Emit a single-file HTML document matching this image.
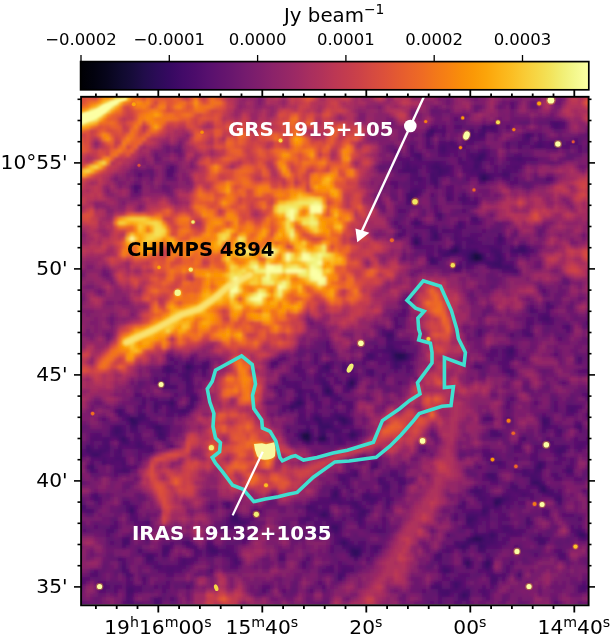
<!DOCTYPE html>
<html><head><meta charset="utf-8"><style>
html,body{margin:0;padding:0;background:#fff;width:613px;height:642px;overflow:hidden}
svg{display:block}
</style></head><body>
<svg width="613" height="642" viewBox="0 0 613 642">
<defs><linearGradient id="cb" x1="0" x2="1" y1="0" y2="0"><stop offset="0.000" stop-color="#000004"/><stop offset="0.025" stop-color="#02020e"/><stop offset="0.050" stop-color="#07051b"/><stop offset="0.075" stop-color="#0e092b"/><stop offset="0.100" stop-color="#160b39"/><stop offset="0.125" stop-color="#210c4a"/><stop offset="0.150" stop-color="#2b0b57"/><stop offset="0.175" stop-color="#360961"/><stop offset="0.200" stop-color="#420a68"/><stop offset="0.225" stop-color="#4c0c6b"/><stop offset="0.250" stop-color="#57106e"/><stop offset="0.275" stop-color="#61136e"/><stop offset="0.300" stop-color="#6a176e"/><stop offset="0.325" stop-color="#751b6e"/><stop offset="0.350" stop-color="#7f1e6c"/><stop offset="0.375" stop-color="#8a226a"/><stop offset="0.400" stop-color="#932667"/><stop offset="0.425" stop-color="#9d2964"/><stop offset="0.450" stop-color="#a82e5f"/><stop offset="0.475" stop-color="#b1325a"/><stop offset="0.500" stop-color="#bc3754"/><stop offset="0.525" stop-color="#c43c4e"/><stop offset="0.550" stop-color="#cc4248"/><stop offset="0.575" stop-color="#d54a41"/><stop offset="0.600" stop-color="#dd513a"/><stop offset="0.625" stop-color="#e45a31"/><stop offset="0.650" stop-color="#ea632a"/><stop offset="0.675" stop-color="#ef6c23"/><stop offset="0.700" stop-color="#f37819"/><stop offset="0.725" stop-color="#f78212"/><stop offset="0.750" stop-color="#f98e09"/><stop offset="0.775" stop-color="#fb9906"/><stop offset="0.800" stop-color="#fca50a"/><stop offset="0.825" stop-color="#fcb216"/><stop offset="0.850" stop-color="#fbbe23"/><stop offset="0.875" stop-color="#f9cb35"/><stop offset="0.900" stop-color="#f6d746"/><stop offset="0.925" stop-color="#f3e35a"/><stop offset="0.950" stop-color="#f1ef75"/><stop offset="0.975" stop-color="#f4f88e"/><stop offset="1.000" stop-color="#fcffa4"/></linearGradient></defs>
<rect width="613" height="642" fill="#fff"/>
<rect x="81" y="62" width="507" height="27" fill="url(#cb)"/>
<rect x="80.6" y="61.6" width="508.2" height="28.2" fill="none" stroke="#000" stroke-width="1.7"/>
<line x1="81.0" x2="81.0" y1="55" y2="61.5" stroke="#000" stroke-width="1.3"/>
<text x="81.0" y="44.5" text-anchor="middle" font-size="16.5" font-family="DejaVu Sans, Liberation Sans, sans-serif">−0.0002</text>
<line x1="169.3" x2="169.3" y1="55" y2="61.5" stroke="#000" stroke-width="1.3"/>
<text x="169.3" y="44.5" text-anchor="middle" font-size="16.5" font-family="DejaVu Sans, Liberation Sans, sans-serif">−0.0001</text>
<line x1="257.6" x2="257.6" y1="55" y2="61.5" stroke="#000" stroke-width="1.3"/>
<text x="257.6" y="44.5" text-anchor="middle" font-size="16.5" font-family="DejaVu Sans, Liberation Sans, sans-serif">0.0000</text>
<line x1="345.9" x2="345.9" y1="55" y2="61.5" stroke="#000" stroke-width="1.3"/>
<text x="345.9" y="44.5" text-anchor="middle" font-size="16.5" font-family="DejaVu Sans, Liberation Sans, sans-serif">0.0001</text>
<line x1="434.2" x2="434.2" y1="55" y2="61.5" stroke="#000" stroke-width="1.3"/>
<text x="434.2" y="44.5" text-anchor="middle" font-size="16.5" font-family="DejaVu Sans, Liberation Sans, sans-serif">0.0002</text>
<line x1="522.5" x2="522.5" y1="55" y2="61.5" stroke="#000" stroke-width="1.3"/>
<text x="522.5" y="44.5" text-anchor="middle" font-size="16.5" font-family="DejaVu Sans, Liberation Sans, sans-serif">0.0003</text>
<text x="67.6" y="169.0" text-anchor="end" font-size="20.2" font-family="DejaVu Sans, Liberation Sans, sans-serif">10°55'</text>
<text x="67.6" y="275.0" text-anchor="end" font-size="20.2" font-family="DejaVu Sans, Liberation Sans, sans-serif">50'</text>
<text x="67.6" y="381.0" text-anchor="end" font-size="20.2" font-family="DejaVu Sans, Liberation Sans, sans-serif">45'</text>
<text x="67.6" y="487.0" text-anchor="end" font-size="20.2" font-family="DejaVu Sans, Liberation Sans, sans-serif">40'</text>
<text x="67.6" y="593.0" text-anchor="end" font-size="20.2" font-family="DejaVu Sans, Liberation Sans, sans-serif">35'</text>
<line x1="77.5" x2="81" y1="99.3" y2="99.3" stroke="#000" stroke-width="1.6"/>
<line x1="588" x2="591.5" y1="99.3" y2="99.3" stroke="#000" stroke-width="1.6"/>
<line x1="77.5" x2="81" y1="120.5" y2="120.5" stroke="#000" stroke-width="1.6"/>
<line x1="588" x2="591.5" y1="120.5" y2="120.5" stroke="#000" stroke-width="1.6"/>
<line x1="77.5" x2="81" y1="141.7" y2="141.7" stroke="#000" stroke-width="1.6"/>
<line x1="588" x2="591.5" y1="141.7" y2="141.7" stroke="#000" stroke-width="1.6"/>
<line x1="74.0" x2="81" y1="162.9" y2="162.9" stroke="#000" stroke-width="1.6"/>
<line x1="588" x2="595.0" y1="162.9" y2="162.9" stroke="#000" stroke-width="1.6"/>
<line x1="77.5" x2="81" y1="184.1" y2="184.1" stroke="#000" stroke-width="1.6"/>
<line x1="588" x2="591.5" y1="184.1" y2="184.1" stroke="#000" stroke-width="1.6"/>
<line x1="77.5" x2="81" y1="205.3" y2="205.3" stroke="#000" stroke-width="1.6"/>
<line x1="588" x2="591.5" y1="205.3" y2="205.3" stroke="#000" stroke-width="1.6"/>
<line x1="77.5" x2="81" y1="226.5" y2="226.5" stroke="#000" stroke-width="1.6"/>
<line x1="588" x2="591.5" y1="226.5" y2="226.5" stroke="#000" stroke-width="1.6"/>
<line x1="77.5" x2="81" y1="247.7" y2="247.7" stroke="#000" stroke-width="1.6"/>
<line x1="588" x2="591.5" y1="247.7" y2="247.7" stroke="#000" stroke-width="1.6"/>
<line x1="74.0" x2="81" y1="268.9" y2="268.9" stroke="#000" stroke-width="1.6"/>
<line x1="588" x2="595.0" y1="268.9" y2="268.9" stroke="#000" stroke-width="1.6"/>
<line x1="77.5" x2="81" y1="290.1" y2="290.1" stroke="#000" stroke-width="1.6"/>
<line x1="588" x2="591.5" y1="290.1" y2="290.1" stroke="#000" stroke-width="1.6"/>
<line x1="77.5" x2="81" y1="311.3" y2="311.3" stroke="#000" stroke-width="1.6"/>
<line x1="588" x2="591.5" y1="311.3" y2="311.3" stroke="#000" stroke-width="1.6"/>
<line x1="77.5" x2="81" y1="332.5" y2="332.5" stroke="#000" stroke-width="1.6"/>
<line x1="588" x2="591.5" y1="332.5" y2="332.5" stroke="#000" stroke-width="1.6"/>
<line x1="77.5" x2="81" y1="353.7" y2="353.7" stroke="#000" stroke-width="1.6"/>
<line x1="588" x2="591.5" y1="353.7" y2="353.7" stroke="#000" stroke-width="1.6"/>
<line x1="74.0" x2="81" y1="374.9" y2="374.9" stroke="#000" stroke-width="1.6"/>
<line x1="588" x2="595.0" y1="374.9" y2="374.9" stroke="#000" stroke-width="1.6"/>
<line x1="77.5" x2="81" y1="396.1" y2="396.1" stroke="#000" stroke-width="1.6"/>
<line x1="588" x2="591.5" y1="396.1" y2="396.1" stroke="#000" stroke-width="1.6"/>
<line x1="77.5" x2="81" y1="417.3" y2="417.3" stroke="#000" stroke-width="1.6"/>
<line x1="588" x2="591.5" y1="417.3" y2="417.3" stroke="#000" stroke-width="1.6"/>
<line x1="77.5" x2="81" y1="438.5" y2="438.5" stroke="#000" stroke-width="1.6"/>
<line x1="588" x2="591.5" y1="438.5" y2="438.5" stroke="#000" stroke-width="1.6"/>
<line x1="77.5" x2="81" y1="459.7" y2="459.7" stroke="#000" stroke-width="1.6"/>
<line x1="588" x2="591.5" y1="459.7" y2="459.7" stroke="#000" stroke-width="1.6"/>
<line x1="74.0" x2="81" y1="480.9" y2="480.9" stroke="#000" stroke-width="1.6"/>
<line x1="588" x2="595.0" y1="480.9" y2="480.9" stroke="#000" stroke-width="1.6"/>
<line x1="77.5" x2="81" y1="502.1" y2="502.1" stroke="#000" stroke-width="1.6"/>
<line x1="588" x2="591.5" y1="502.1" y2="502.1" stroke="#000" stroke-width="1.6"/>
<line x1="77.5" x2="81" y1="523.3" y2="523.3" stroke="#000" stroke-width="1.6"/>
<line x1="588" x2="591.5" y1="523.3" y2="523.3" stroke="#000" stroke-width="1.6"/>
<line x1="77.5" x2="81" y1="544.5" y2="544.5" stroke="#000" stroke-width="1.6"/>
<line x1="588" x2="591.5" y1="544.5" y2="544.5" stroke="#000" stroke-width="1.6"/>
<line x1="77.5" x2="81" y1="565.7" y2="565.7" stroke="#000" stroke-width="1.6"/>
<line x1="588" x2="591.5" y1="565.7" y2="565.7" stroke="#000" stroke-width="1.6"/>
<line x1="74.0" x2="81" y1="586.9" y2="586.9" stroke="#000" stroke-width="1.6"/>
<line x1="588" x2="595.0" y1="586.9" y2="586.9" stroke="#000" stroke-width="1.6"/>
<text x="157.9" y="633.6" text-anchor="middle" font-size="20.2" font-family="DejaVu Sans, Liberation Sans, sans-serif">19<tspan dy="-7" font-size="14.2">h</tspan><tspan dy="7">16</tspan><tspan dy="-7" font-size="14.2">m</tspan><tspan dy="7">00</tspan><tspan dy="-7" font-size="14.2">s</tspan></text>
<text x="261.9" y="633.6" text-anchor="middle" font-size="20.2" font-family="DejaVu Sans, Liberation Sans, sans-serif">15<tspan dy="-7" font-size="14.2">m</tspan><tspan dy="7">40</tspan><tspan dy="-7" font-size="14.2">s</tspan></text>
<text x="365.9" y="633.6" text-anchor="middle" font-size="20.2" font-family="DejaVu Sans, Liberation Sans, sans-serif">20<tspan dy="-7" font-size="14.2">s</tspan></text>
<text x="469.9" y="633.6" text-anchor="middle" font-size="20.2" font-family="DejaVu Sans, Liberation Sans, sans-serif">00<tspan dy="-7" font-size="14.2">s</tspan></text>
<text x="573.9" y="633.6" text-anchor="middle" font-size="20.2" font-family="DejaVu Sans, Liberation Sans, sans-serif">14<tspan dy="-7" font-size="14.2">m</tspan><tspan dy="7">40</tspan><tspan dy="-7" font-size="14.2">s</tspan></text>
<line x1="95.9" x2="95.9" y1="605.5" y2="609.0" stroke="#000" stroke-width="1.8"/>
<line x1="95.9" x2="95.9" y1="97" y2="93.5" stroke="#000" stroke-width="1.8"/>
<line x1="116.7" x2="116.7" y1="605.5" y2="609.0" stroke="#000" stroke-width="1.8"/>
<line x1="116.7" x2="116.7" y1="97" y2="93.5" stroke="#000" stroke-width="1.8"/>
<line x1="137.5" x2="137.5" y1="605.5" y2="609.0" stroke="#000" stroke-width="1.8"/>
<line x1="137.5" x2="137.5" y1="97" y2="93.5" stroke="#000" stroke-width="1.8"/>
<line x1="158.3" x2="158.3" y1="605.5" y2="612.5" stroke="#000" stroke-width="1.8"/>
<line x1="158.3" x2="158.3" y1="97" y2="90.0" stroke="#000" stroke-width="1.8"/>
<line x1="179.1" x2="179.1" y1="605.5" y2="609.0" stroke="#000" stroke-width="1.8"/>
<line x1="179.1" x2="179.1" y1="97" y2="93.5" stroke="#000" stroke-width="1.8"/>
<line x1="199.9" x2="199.9" y1="605.5" y2="609.0" stroke="#000" stroke-width="1.8"/>
<line x1="199.9" x2="199.9" y1="97" y2="93.5" stroke="#000" stroke-width="1.8"/>
<line x1="220.7" x2="220.7" y1="605.5" y2="609.0" stroke="#000" stroke-width="1.8"/>
<line x1="220.7" x2="220.7" y1="97" y2="93.5" stroke="#000" stroke-width="1.8"/>
<line x1="241.5" x2="241.5" y1="605.5" y2="609.0" stroke="#000" stroke-width="1.8"/>
<line x1="241.5" x2="241.5" y1="97" y2="93.5" stroke="#000" stroke-width="1.8"/>
<line x1="262.3" x2="262.3" y1="605.5" y2="612.5" stroke="#000" stroke-width="1.8"/>
<line x1="262.3" x2="262.3" y1="97" y2="90.0" stroke="#000" stroke-width="1.8"/>
<line x1="283.1" x2="283.1" y1="605.5" y2="609.0" stroke="#000" stroke-width="1.8"/>
<line x1="283.1" x2="283.1" y1="97" y2="93.5" stroke="#000" stroke-width="1.8"/>
<line x1="303.9" x2="303.9" y1="605.5" y2="609.0" stroke="#000" stroke-width="1.8"/>
<line x1="303.9" x2="303.9" y1="97" y2="93.5" stroke="#000" stroke-width="1.8"/>
<line x1="324.7" x2="324.7" y1="605.5" y2="609.0" stroke="#000" stroke-width="1.8"/>
<line x1="324.7" x2="324.7" y1="97" y2="93.5" stroke="#000" stroke-width="1.8"/>
<line x1="345.5" x2="345.5" y1="605.5" y2="609.0" stroke="#000" stroke-width="1.8"/>
<line x1="345.5" x2="345.5" y1="97" y2="93.5" stroke="#000" stroke-width="1.8"/>
<line x1="366.3" x2="366.3" y1="605.5" y2="612.5" stroke="#000" stroke-width="1.8"/>
<line x1="366.3" x2="366.3" y1="97" y2="90.0" stroke="#000" stroke-width="1.8"/>
<line x1="387.1" x2="387.1" y1="605.5" y2="609.0" stroke="#000" stroke-width="1.8"/>
<line x1="387.1" x2="387.1" y1="97" y2="93.5" stroke="#000" stroke-width="1.8"/>
<line x1="407.9" x2="407.9" y1="605.5" y2="609.0" stroke="#000" stroke-width="1.8"/>
<line x1="407.9" x2="407.9" y1="97" y2="93.5" stroke="#000" stroke-width="1.8"/>
<line x1="428.7" x2="428.7" y1="605.5" y2="609.0" stroke="#000" stroke-width="1.8"/>
<line x1="428.7" x2="428.7" y1="97" y2="93.5" stroke="#000" stroke-width="1.8"/>
<line x1="449.5" x2="449.5" y1="605.5" y2="609.0" stroke="#000" stroke-width="1.8"/>
<line x1="449.5" x2="449.5" y1="97" y2="93.5" stroke="#000" stroke-width="1.8"/>
<line x1="470.3" x2="470.3" y1="605.5" y2="612.5" stroke="#000" stroke-width="1.8"/>
<line x1="470.3" x2="470.3" y1="97" y2="90.0" stroke="#000" stroke-width="1.8"/>
<line x1="491.1" x2="491.1" y1="605.5" y2="609.0" stroke="#000" stroke-width="1.8"/>
<line x1="491.1" x2="491.1" y1="97" y2="93.5" stroke="#000" stroke-width="1.8"/>
<line x1="511.9" x2="511.9" y1="605.5" y2="609.0" stroke="#000" stroke-width="1.8"/>
<line x1="511.9" x2="511.9" y1="97" y2="93.5" stroke="#000" stroke-width="1.8"/>
<line x1="532.7" x2="532.7" y1="605.5" y2="609.0" stroke="#000" stroke-width="1.8"/>
<line x1="532.7" x2="532.7" y1="97" y2="93.5" stroke="#000" stroke-width="1.8"/>
<line x1="553.5" x2="553.5" y1="605.5" y2="609.0" stroke="#000" stroke-width="1.8"/>
<line x1="553.5" x2="553.5" y1="97" y2="93.5" stroke="#000" stroke-width="1.8"/>
<line x1="574.3" x2="574.3" y1="605.5" y2="612.5" stroke="#000" stroke-width="1.8"/>
<line x1="574.3" x2="574.3" y1="97" y2="90.0" stroke="#000" stroke-width="1.8"/>
<g><filter id="sm" x="0" y="0" width="1" height="1"><feGaussianBlur stdDeviation="1.6"/></filter><clipPath id="imc0"><rect x="81" y="96.5" width="507.5" height="508"/></clipPath><g clip-path="url(#imc0)"><g filter="url(#sm)" shape-rendering="crispEdges"><path fill="#180c3c" d="M474 253h4v4h-4zM474 257h4v4h-4z"/><path fill="#1b0c41" d="M302 433h4v4h-4z"/><path fill="#1e0c45" d="M478 257h4v4h-4zM306 433h4v4h-4zM306 437h4v4h-4z"/><path fill="#240c4f" d="M398 353h4v4h-4zM350 381h4v4h-4zM302 437h4v4h-4zM322 437h4v4h-4z"/><path fill="#280b53" d="M482 177h4v4h-4zM478 253h4v4h-4zM394 353h4v4h-4zM402 353h4v4h-4zM318 437h4v4h-4zM474 537h4v4h-4z"/><path fill="#2b0b57" d="M414 241h4v4h-4zM454 249h4v4h-4zM470 253h4v4h-4zM470 257h4v4h-4zM398 357h4v4h-4zM326 389h4v4h-4zM590 397h4v4h-4zM494 501h4v4h-4zM478 537h4v4h-4zM466 561h4v4h-4z"/><path fill="#2f0a5b" d="M450 249h4v4h-4zM402 357h4v4h-4zM186 365h4v4h-4zM298 401h4v4h-4zM130 417h4v4h-4zM350 433h4v4h-4zM354 549h4v4h-4zM354 553h4v4h-4zM486 561h4v4h-4zM138 605h4v4h-4z"/><path fill="#320a5e" d="M394 357h4v4h-4zM342 417h4v4h-4zM542 489h4v4h-4zM322 513h4v4h-4zM470 537h4v4h-4zM350 549h4v4h-4z"/><path fill="#360961" d="M482 173h4v4h-4zM170 401h4v4h-4zM290 405h4v4h-4zM338 417h4v4h-4zM130 421h8v4h-8zM342 421h4v4h-4zM322 433h4v4h-4zM122 437h4v4h-4zM538 465h4v4h-4zM534 481h4v4h-4zM542 485h4v4h-4zM334 493h4v4h-4zM498 497h4v4h-4zM498 501h4v4h-4zM130 509h4v4h-4zM582 533h4v4h-4zM342 541h4v4h-4zM462 593h4v4h-4z"/><path fill="#390963" d="M430 129h4v4h-4zM478 157h4v4h-4zM434 233h4v4h-4zM414 237h4v4h-4zM454 245h4v4h-4zM522 249h4v4h-4zM510 349h4v4h-4zM326 365h4v4h-4zM294 401h4v4h-4zM314 417h4v4h-4zM318 421h4v4h-4zM322 425h8v4h-8zM306 429h4v4h-4zM298 433h4v4h-4zM94 453h4v4h-4zM494 497h4v4h-4zM482 509h4v4h-4zM234 517h4v4h-4zM334 525h4v4h-4zM490 533h4v4h-4zM578 533h4v4h-4zM462 545h4v4h-4zM358 549h4v4h-4zM486 565h4v4h-4z"/><path fill="#3d0965" d="M482 153h4v4h-4zM486 177h4v4h-4zM414 221h4v4h-4zM434 237h4v4h-4zM498 237h4v4h-4zM474 249h4v4h-4zM518 249h4v4h-4zM430 257h4v4h-4zM482 257h4v4h-4zM498 257h4v4h-4zM494 261h8v4h-8zM498 265h4v4h-4zM386 333h8v4h-8zM390 349h4v4h-4zM406 353h4v4h-4zM350 377h4v4h-4zM326 385h4v4h-4zM350 385h4v4h-4zM134 417h4v4h-4zM318 417h4v4h-4zM542 421h4v4h-4zM154 425h8v4h-8zM578 425h4v4h-4zM114 429h4v4h-4zM158 433h4v4h-4zM354 433h4v4h-4zM306 441h4v4h-4zM538 461h4v4h-4zM90 465h4v4h-4zM530 481h4v4h-4zM538 481h4v4h-4zM538 485h4v4h-4zM334 489h4v4h-4zM558 497h4v4h-4zM362 509h4v4h-4zM234 513h4v4h-4zM230 517h4v4h-4zM466 517h8v4h-8zM330 525h4v4h-4zM466 541h4v4h-4zM478 541h4v4h-4zM478 545h4v4h-4zM214 549h4v4h-4zM350 553h4v4h-4zM446 569h4v4h-4z"/><path fill="#400a67" d="M482 125h4v4h-4zM490 125h4v4h-4zM482 129h4v4h-4zM426 133h4v4h-4zM526 133h4v4h-4zM478 153h4v4h-4zM434 165h4v4h-4zM474 165h4v4h-4zM438 169h4v4h-4zM478 173h4v4h-4zM478 177h4v4h-4zM410 193h4v4h-4zM410 197h4v4h-4zM522 245h4v4h-4zM458 249h4v4h-4zM470 249h4v4h-4zM514 249h4v4h-4zM446 253h4v4h-4zM466 253h4v4h-4zM498 253h4v4h-4zM466 257h4v4h-4zM430 261h4v4h-4zM486 261h8v4h-8zM494 265h4v4h-4zM506 265h4v4h-4zM394 349h4v4h-4zM370 353h4v4h-4zM390 353h4v4h-4zM406 357h4v4h-4zM394 361h4v4h-4zM190 365h4v4h-4zM394 365h4v4h-4zM166 369h4v4h-4zM322 381h4v4h-4zM346 381h4v4h-4zM346 385h4v4h-4zM322 389h4v4h-4zM330 389h4v4h-4zM326 393h8v4h-8zM590 393h4v4h-4zM190 397h4v4h-4zM298 397h4v4h-4zM294 405h4v4h-4zM118 409h4v4h-4zM182 409h4v4h-4zM126 417h4v4h-4zM138 417h4v4h-4zM542 417h4v4h-4zM346 421h4v4h-4zM318 425h4v4h-4zM330 425h4v4h-4zM118 429h4v4h-4zM158 429h4v4h-4zM322 429h4v4h-4zM334 429h4v4h-4zM86 449h4v4h-4zM558 449h4v4h-4zM78 453h4v4h-4zM90 453h4v4h-4zM566 469h4v4h-4zM490 473h4v4h-4zM474 489h4v4h-4zM502 497h4v4h-4zM494 505h4v4h-4zM238 521h4v4h-4zM466 521h4v4h-4zM334 529h4v4h-4zM474 533h4v4h-4zM482 537h4v4h-4zM186 541h4v4h-4zM350 545h4v4h-4zM482 545h4v4h-4zM210 549h4v4h-4zM358 553h4v4h-4zM466 565h4v4h-4zM442 569h4v4h-4zM454 581h4v4h-4zM454 585h4v4h-4zM466 593h4v4h-4zM134 605h4v4h-4zM466 605h4v4h-4z"/><path fill="#440a68" d="M554 145h4v4h-4zM474 157h4v4h-4zM474 161h4v4h-4zM438 165h4v4h-4zM442 169h4v4h-4zM438 173h4v4h-4zM486 173h4v4h-4zM502 173h4v4h-4zM434 181h4v4h-4zM414 189h4v4h-4zM462 197h4v4h-4zM438 213h4v4h-4zM418 241h4v4h-4zM518 245h4v4h-4zM494 249h4v4h-4zM442 253h4v4h-4zM482 253h4v4h-4zM494 253h4v4h-4zM470 261h8v4h-8zM490 265h4v4h-4zM502 265h4v4h-4zM542 317h8v4h-8zM390 345h4v4h-4zM506 349h4v4h-4zM510 353h4v4h-4zM390 357h4v4h-4zM166 365h4v4h-4zM202 365h4v4h-4zM322 365h4v4h-4zM186 369h4v4h-4zM186 373h4v4h-4zM186 377h4v4h-4zM162 381h4v4h-4zM322 385h4v4h-4zM298 389h4v4h-4zM302 401h4v4h-4zM154 405h4v4h-4zM138 413h4v4h-4zM334 413h4v4h-4zM142 417h4v4h-4zM346 417h4v4h-4zM322 421h8v4h-8zM546 421h4v4h-4zM114 425h4v4h-4zM130 425h4v4h-4zM318 429h4v4h-4zM114 433h4v4h-4zM162 433h4v4h-4zM310 433h4v4h-4zM318 433h4v4h-4zM118 437h4v4h-4zM310 437h4v4h-4zM522 437h4v4h-4zM122 441h4v4h-4zM90 449h4v4h-4zM98 449h4v4h-4zM98 453h4v4h-4zM122 469h4v4h-4zM534 469h4v4h-4zM354 473h4v4h-4zM486 473h4v4h-4zM530 477h4v4h-4zM546 489h4v4h-4zM350 501h8v4h-8zM78 505h4v4h-4zM226 505h4v4h-4zM306 505h4v4h-4zM354 505h4v4h-4zM318 513h4v4h-4zM326 513h4v4h-4zM358 513h8v4h-8zM482 513h4v4h-4zM306 517h4v4h-4zM474 517h4v4h-4zM234 521h4v4h-4zM242 521h4v4h-4zM470 521h4v4h-4zM526 521h4v4h-4zM494 533h4v4h-4zM466 537h4v4h-4zM490 537h4v4h-4zM538 537h4v4h-4zM122 541h4v4h-4zM470 541h4v4h-4zM482 541h4v4h-4zM210 545h4v4h-4zM458 545h4v4h-4zM162 549h4v4h-4zM438 553h4v4h-4zM146 557h4v4h-4zM494 577h4v4h-4zM434 585h4v4h-4zM130 589h4v4h-4zM446 589h4v4h-4zM462 597h4v4h-4z"/><path fill="#470b6a" d="M554 121h4v4h-4zM554 125h4v4h-4zM478 133h8v4h-8zM526 137h4v4h-4zM442 145h4v4h-4zM538 145h4v4h-4zM442 149h4v4h-4zM414 153h8v4h-8zM482 157h4v4h-4zM518 157h4v4h-4zM430 165h4v4h-4zM430 173h4v4h-4zM506 173h4v4h-4zM430 177h8v4h-8zM134 185h4v4h-4zM406 197h4v4h-4zM474 217h4v4h-4zM458 221h4v4h-4zM458 225h4v4h-4zM434 229h4v4h-4zM498 241h4v4h-4zM446 249h4v4h-4zM466 249h4v4h-4zM490 249h4v4h-4zM510 249h4v4h-4zM450 253h4v4h-4zM494 257h4v4h-4zM434 261h4v4h-4zM458 265h4v4h-4zM546 305h4v4h-4zM566 325h4v4h-4zM526 333h4v4h-4zM386 337h4v4h-4zM386 349h4v4h-4zM366 353h4v4h-4zM370 357h4v4h-4zM342 365h4v4h-4zM170 369h4v4h-4zM370 369h4v4h-4zM506 369h4v4h-4zM182 373h4v4h-4zM158 381h4v4h-4zM162 385h4v4h-4zM170 385h4v4h-4zM310 393h4v4h-4zM334 397h4v4h-4zM166 401h4v4h-4zM190 401h4v4h-4zM170 405h4v4h-4zM298 405h4v4h-4zM178 409h4v4h-4zM314 413h4v4h-4zM338 413h4v4h-4zM334 417h4v4h-4zM486 417h4v4h-4zM118 425h4v4h-4zM134 425h4v4h-4zM302 429h4v4h-4zM350 429h4v4h-4zM558 429h4v4h-4zM118 433h4v4h-4zM494 433h4v4h-4zM338 437h4v4h-4zM350 437h4v4h-4zM126 441h4v4h-4zM138 441h4v4h-4zM338 441h4v4h-4zM86 445h4v4h-4zM138 445h4v4h-4zM562 445h4v4h-4zM102 449h4v4h-4zM102 461h4v4h-4zM498 461h4v4h-4zM374 465h4v4h-4zM522 469h4v4h-4zM538 469h4v4h-4zM570 469h4v4h-4zM342 477h4v4h-4zM490 477h4v4h-4zM534 477h4v4h-4zM386 485h4v4h-4zM478 489h4v4h-4zM538 489h4v4h-4zM330 493h4v4h-4zM366 493h4v4h-4zM94 497h4v4h-4zM330 497h8v4h-8zM366 497h8v4h-8zM554 497h4v4h-4zM78 501h4v4h-4zM130 505h4v4h-4zM310 505h4v4h-4zM358 505h4v4h-4zM322 509h4v4h-4zM358 509h4v4h-4zM230 513h4v4h-4zM470 513h4v4h-4zM358 517h4v4h-4zM146 521h4v4h-4zM230 521h4v4h-4zM358 521h4v4h-4zM578 529h4v4h-4zM482 533h4v4h-4zM126 541h4v4h-4zM338 541h4v4h-4zM346 541h4v4h-4zM474 541h4v4h-4zM486 541h4v4h-4zM542 541h4v4h-4zM166 545h4v4h-4zM346 545h4v4h-4zM354 545h8v4h-8zM166 549h4v4h-4zM478 549h4v4h-4zM150 553h4v4h-4zM162 553h4v4h-4zM150 557h4v4h-4zM234 561h4v4h-4zM462 561h4v4h-4zM482 561h4v4h-4zM482 565h4v4h-4zM126 573h4v4h-4zM338 573h4v4h-4zM490 573h4v4h-4zM518 573h4v4h-4zM338 577h4v4h-4zM490 577h4v4h-4zM582 585h4v4h-4zM442 589h4v4h-4zM466 589h4v4h-4zM442 593h4v4h-4zM154 601h4v4h-4zM142 605h4v4h-4z"/><path fill="#4a0c6b" d="M486 125h4v4h-4zM430 133h4v4h-4zM470 133h4v4h-4zM450 141h4v4h-4zM538 141h4v4h-4zM550 141h8v4h-8zM470 153h4v4h-4zM418 157h4v4h-4zM434 161h4v4h-4zM478 161h4v4h-4zM406 165h4v4h-4zM402 169h16v4h-16zM434 169h4v4h-4zM446 169h4v4h-4zM434 173h4v4h-4zM418 177h4v4h-4zM406 193h4v4h-4zM414 193h4v4h-4zM446 197h4v4h-4zM418 221h4v4h-4zM430 229h4v4h-4zM458 245h4v4h-4zM438 249h4v4h-4zM498 249h4v4h-4zM526 249h4v4h-4zM462 253h4v4h-4zM434 257h4v4h-4zM466 261h4v4h-4zM510 265h4v4h-4zM514 269h4v4h-4zM530 309h4v4h-4zM390 337h4v4h-4zM386 345h4v4h-4zM382 349h4v4h-4zM398 349h4v4h-4zM506 353h4v4h-4zM578 357h4v4h-4zM274 361h4v4h-4zM398 361h4v4h-4zM202 369h4v4h-4zM326 369h4v4h-4zM510 369h4v4h-4zM370 373h4v4h-4zM318 377h4v4h-4zM186 381h4v4h-4zM354 381h4v4h-4zM190 393h4v4h-4zM298 393h4v4h-4zM194 397h4v4h-4zM338 397h4v4h-4zM142 401h4v4h-4zM154 401h4v4h-4zM190 405h4v4h-4zM570 409h4v4h-4zM118 413h4v4h-4zM142 413h4v4h-4zM330 417h4v4h-4zM546 417h4v4h-4zM330 421h4v4h-4zM542 425h4v4h-4zM154 429h4v4h-4zM162 429h4v4h-4zM338 429h4v4h-4zM346 433h4v4h-4zM158 437h8v4h-8zM298 437h4v4h-4zM326 437h4v4h-4zM106 445h4v4h-4zM118 449h4v4h-4zM554 449h4v4h-4zM562 449h4v4h-4zM122 461h4v4h-4zM374 461h4v4h-4zM542 461h4v4h-4zM370 465h4v4h-4zM534 465h4v4h-4zM90 469h4v4h-4zM126 469h4v4h-4zM530 473h8v4h-8zM378 477h4v4h-4zM494 477h4v4h-4zM382 481h4v4h-4zM402 481h4v4h-4zM510 485h8v4h-8zM94 493h4v4h-4zM362 493h4v4h-4zM478 493h4v4h-4zM522 493h4v4h-4zM550 493h4v4h-4zM374 497h4v4h-4zM482 497h4v4h-4zM506 497h4v4h-4zM338 501h4v4h-4zM370 501h4v4h-4zM386 501h4v4h-4zM558 501h4v4h-4zM82 505h4v4h-4zM482 505h8v4h-8zM314 509h4v4h-4zM326 509h4v4h-4zM486 509h4v4h-4zM466 513h4v4h-4zM474 513h4v4h-4zM526 517h4v4h-4zM470 525h4v4h-4zM314 533h4v4h-4zM478 533h4v4h-4zM486 533h4v4h-4zM126 537h4v4h-4zM342 537h4v4h-4zM486 537h4v4h-4zM542 537h4v4h-4zM582 537h4v4h-4zM454 541h4v4h-4zM462 541h4v4h-4zM490 541h4v4h-4zM538 541h4v4h-4zM206 545h4v4h-4zM342 545h4v4h-4zM374 545h4v4h-4zM138 549h4v4h-4zM482 549h4v4h-4zM146 553h4v4h-4zM234 557h4v4h-4zM486 557h4v4h-4zM182 561h4v4h-4zM122 565h4v4h-4zM442 565h4v4h-4zM122 569h4v4h-4zM342 569h4v4h-4zM458 581h4v4h-4zM490 581h4v4h-4zM438 585h4v4h-4zM126 589h4v4h-4zM438 589h4v4h-4zM462 589h4v4h-4zM126 593h4v4h-4zM446 593h4v4h-4zM458 593h4v4h-4zM454 605h8v4h-8z"/><path fill="#4d0d6c" d="M550 121h4v4h-4zM558 121h4v4h-4zM494 125h4v4h-4zM434 129h4v4h-4zM442 129h4v4h-4zM470 129h4v4h-4zM530 133h4v4h-4zM470 137h4v4h-4zM426 141h4v4h-4zM438 145h4v4h-4zM454 145h4v4h-4zM534 145h4v4h-4zM550 145h4v4h-4zM438 149h4v4h-4zM482 149h4v4h-4zM470 157h4v4h-4zM514 157h4v4h-4zM406 161h4v4h-4zM438 161h4v4h-4zM414 165h4v4h-4zM442 165h8v4h-8zM478 165h4v4h-4zM514 165h4v4h-4zM430 169h4v4h-4zM470 169h12v4h-12zM506 169h4v4h-4zM442 173h4v4h-4zM490 173h4v4h-4zM410 189h4v4h-4zM418 189h4v4h-4zM406 201h4v4h-4zM474 201h4v4h-4zM470 217h4v4h-4zM430 225h4v4h-4zM398 233h4v4h-4zM430 233h4v4h-4zM498 233h4v4h-4zM418 237h4v4h-4zM430 237h4v4h-4zM454 237h4v4h-4zM466 237h4v4h-4zM470 241h4v4h-4zM490 245h4v4h-4zM462 249h4v4h-4zM454 253h4v4h-4zM502 257h4v4h-4zM510 269h4v4h-4zM542 313h8v4h-8zM386 341h8v4h-8zM510 345h4v4h-4zM366 357h4v4h-4zM506 357h4v4h-4zM186 361h4v4h-4zM206 361h4v4h-4zM182 365h4v4h-4zM398 365h4v4h-4zM478 365h4v4h-4zM190 369h4v4h-4zM318 369h8v4h-8zM342 369h4v4h-4zM366 369h4v4h-4zM282 377h4v4h-4zM322 377h4v4h-4zM354 377h4v4h-4zM326 381h4v4h-4zM166 385h4v4h-4zM186 385h4v4h-4zM294 385h4v4h-4zM186 389h4v4h-4zM346 389h4v4h-4zM322 393h4v4h-4zM586 393h4v4h-4zM162 401h4v4h-4zM314 401h4v4h-4zM186 405h4v4h-4zM570 405h8v4h-8zM154 409h4v4h-4zM170 409h4v4h-4zM186 409h4v4h-4zM122 413h4v4h-4zM326 417h4v4h-4zM590 417h4v4h-4zM150 421h4v4h-4zM302 421h4v4h-4zM338 421h4v4h-4zM350 421h4v4h-4zM150 425h4v4h-4zM162 425h4v4h-4zM306 425h4v4h-4zM546 425h4v4h-4zM110 429h4v4h-4zM122 429h4v4h-4zM130 429h8v4h-8zM330 429h4v4h-4zM354 429h4v4h-4zM490 429h4v4h-4zM590 429h4v4h-4zM110 433h4v4h-4zM122 433h4v4h-4zM334 433h4v4h-4zM490 433h4v4h-4zM498 433h4v4h-4zM102 437h8v4h-8zM126 437h4v4h-4zM102 441h8v4h-8zM134 441h4v4h-4zM318 441h8v4h-8zM546 441h4v4h-4zM102 445h4v4h-4zM134 445h4v4h-4zM142 445h4v4h-4zM514 445h4v4h-4zM558 445h4v4h-4zM578 445h4v4h-4zM94 449h4v4h-4zM106 449h4v4h-4zM150 449h4v4h-4zM558 453h4v4h-4zM102 457h4v4h-4zM114 457h8v4h-8zM122 465h4v4h-4zM542 465h4v4h-4zM118 469h4v4h-4zM526 469h4v4h-4zM350 473h4v4h-4zM390 473h4v4h-4zM494 473h4v4h-4zM522 473h8v4h-8zM554 473h4v4h-4zM398 477h4v4h-4zM538 477h4v4h-4zM378 481h4v4h-4zM398 481h4v4h-4zM382 485h4v4h-4zM470 489h4v4h-4zM514 489h4v4h-4zM550 489h4v4h-4zM506 493h4v4h-4zM546 493h4v4h-4zM554 493h8v4h-8zM338 497h4v4h-4zM362 497h4v4h-4zM386 497h4v4h-4zM478 497h4v4h-4zM226 501h4v4h-4zM346 501h4v4h-4zM462 501h4v4h-4zM502 501h4v4h-4zM86 509h8v4h-8zM310 509h4v4h-4zM366 509h4v4h-4zM130 513h4v4h-4zM478 513h4v4h-4zM238 517h4v4h-4zM302 517h4v4h-4zM326 517h4v4h-4zM330 521h4v4h-4zM474 521h4v4h-4zM338 525h4v4h-4zM502 525h8v4h-8zM110 529h4v4h-4zM314 529h8v4h-8zM330 529h4v4h-4zM378 529h4v4h-4zM490 529h4v4h-4zM502 529h12v4h-12zM574 529h4v4h-4zM318 533h4v4h-4zM122 537h4v4h-4zM338 537h4v4h-4zM494 537h4v4h-4zM206 541h4v4h-4zM458 541h4v4h-4zM494 541h4v4h-4zM162 545h4v4h-4zM190 545h4v4h-4zM466 545h4v4h-4zM194 549h4v4h-4zM206 549h4v4h-4zM226 549h4v4h-4zM374 549h4v4h-4zM446 549h4v4h-4zM590 549h4v4h-4zM210 553h4v4h-4zM558 553h8v4h-8zM118 557h4v4h-4zM182 557h4v4h-4zM278 557h4v4h-4zM354 557h4v4h-4zM434 557h8v4h-8zM466 557h4v4h-4zM490 561h4v4h-4zM158 565h4v4h-4zM486 569h4v4h-4zM342 573h4v4h-4zM450 581h4v4h-4zM102 585h4v4h-4zM126 585h8v4h-8zM430 585h4v4h-4zM458 585h4v4h-4zM450 589h4v4h-4zM482 589h4v4h-4zM438 593h4v4h-4zM126 597h4v4h-4zM154 597h4v4h-4zM458 597h4v4h-4zM466 597h4v4h-4zM126 601h8v4h-8zM154 605h4v4h-4z"/><path fill="#510e6c" d="M558 125h4v4h-4zM490 129h8v4h-8zM426 137h4v4h-4zM474 137h8v4h-8zM442 141h4v4h-4zM522 141h4v4h-4zM574 141h4v4h-4zM426 145h4v4h-4zM450 145h4v4h-4zM518 145h4v4h-4zM542 145h4v4h-4zM410 149h4v4h-4zM442 153h4v4h-4zM474 153h4v4h-4zM458 157h4v4h-4zM510 157h4v4h-4zM522 157h4v4h-4zM430 161h4v4h-4zM458 161h8v4h-8zM410 165h4v4h-4zM170 169h4v4h-4zM502 169h4v4h-4zM414 173h4v4h-4zM414 177h4v4h-4zM490 177h4v4h-4zM546 177h4v4h-4zM430 181h4v4h-4zM434 185h4v4h-4zM134 189h4v4h-4zM446 193h4v4h-4zM462 193h4v4h-4zM462 201h4v4h-4zM438 217h4v4h-4zM474 221h4v4h-4zM442 229h8v4h-8zM454 229h4v4h-4zM454 233h4v4h-4zM438 237h4v4h-4zM470 237h4v4h-4zM502 237h4v4h-4zM454 241h8v4h-8zM466 241h4v4h-4zM474 241h4v4h-4zM466 245h4v4h-4zM486 245h4v4h-4zM494 245h4v4h-4zM442 249h4v4h-4zM478 261h8v4h-8zM502 261h4v4h-4zM454 265h4v4h-4zM466 265h4v4h-4zM454 269h4v4h-4zM502 269h8v4h-8zM550 305h4v4h-4zM538 317h4v4h-4zM526 321h4v4h-4zM546 321h4v4h-4zM590 321h4v4h-4zM382 329h4v4h-4zM478 329h4v4h-4zM522 329h8v4h-8zM382 333h4v4h-4zM510 333h4v4h-4zM530 333h4v4h-4zM402 349h4v4h-4zM410 353h4v4h-4zM314 357h4v4h-4zM510 357h4v4h-4zM190 361h4v4h-4zM202 361h4v4h-4zM270 361h4v4h-4zM326 361h4v4h-4zM390 361h4v4h-4zM170 365h4v4h-4zM206 365h4v4h-4zM346 365h4v4h-4zM406 365h4v4h-4zM474 365h4v4h-4zM162 369h4v4h-4zM294 369h8v4h-8zM318 373h4v4h-4zM182 377h4v4h-4zM286 381h4v4h-4zM294 381h4v4h-4zM318 381h4v4h-4zM174 385h4v4h-4zM190 385h4v4h-4zM302 389h4v4h-4zM170 397h4v4h-4zM294 397h4v4h-4zM314 397h4v4h-4zM158 401h4v4h-4zM290 401h4v4h-4zM346 401h4v4h-4zM286 405h4v4h-4zM346 405h8v4h-8zM566 405h4v4h-4zM174 409h4v4h-4zM566 409h4v4h-4zM298 413h4v4h-4zM342 413h4v4h-4zM586 413h8v4h-8zM298 417h4v4h-4zM310 417h4v4h-4zM322 417h4v4h-4zM138 421h4v4h-4zM146 421h4v4h-4zM306 421h4v4h-4zM314 421h4v4h-4zM342 425h4v4h-4zM574 425h4v4h-4zM298 429h4v4h-4zM494 429h4v4h-4zM542 429h4v4h-4zM338 433h4v4h-4zM558 433h4v4h-4zM90 437h8v4h-8zM134 437h4v4h-4zM314 437h4v4h-4zM582 441h4v4h-4zM90 445h4v4h-4zM118 445h4v4h-4zM150 445h4v4h-4zM518 445h4v4h-4zM554 445h4v4h-4zM146 449h4v4h-4zM114 453h8v4h-8zM486 453h4v4h-4zM122 457h4v4h-4zM110 461h4v4h-4zM490 461h8v4h-8zM566 465h4v4h-4zM114 469h4v4h-4zM354 469h4v4h-4zM394 473h4v4h-4zM538 473h4v4h-4zM338 477h4v4h-4zM486 477h4v4h-4zM330 489h4v4h-4zM382 489h8v4h-8zM482 489h4v4h-4zM518 489h4v4h-4zM474 493h4v4h-4zM482 493h4v4h-4zM526 493h4v4h-4zM490 497h4v4h-4zM510 497h4v4h-4zM314 501h16v4h-16zM342 501h4v4h-4zM482 501h4v4h-4zM490 501h4v4h-4zM126 505h4v4h-4zM314 505h4v4h-4zM458 505h8v4h-8zM490 505h4v4h-4zM498 505h4v4h-4zM82 509h4v4h-4zM126 509h4v4h-4zM254 509h4v4h-4zM306 509h4v4h-4zM318 509h4v4h-4zM486 513h4v4h-4zM134 517h4v4h-4zM322 517h4v4h-4zM454 517h4v4h-4zM246 521h4v4h-4zM334 521h8v4h-8zM230 525h4v4h-4zM466 525h4v4h-4zM106 529h4v4h-4zM322 529h4v4h-4zM338 529h4v4h-4zM374 529h4v4h-4zM518 529h4v4h-4zM334 533h4v4h-4zM510 533h8v4h-8zM534 537h4v4h-4zM182 541h4v4h-4zM362 541h4v4h-4zM122 545h4v4h-4zM194 545h4v4h-4zM454 545h4v4h-4zM486 545h4v4h-4zM494 545h4v4h-4zM218 549h8v4h-8zM346 549h4v4h-4zM462 549h4v4h-4zM214 553h4v4h-4zM226 553h8v4h-8zM434 553h4v4h-4zM190 557h4v4h-4zM282 557h4v4h-4zM462 557h4v4h-4zM122 561h4v4h-4zM186 561h4v4h-4zM302 561h4v4h-4zM470 561h4v4h-4zM154 565h4v4h-4zM178 565h4v4h-4zM342 565h4v4h-4zM446 565h4v4h-4zM166 569h8v4h-8zM330 569h4v4h-4zM346 569h8v4h-8zM94 573h4v4h-4zM494 573h4v4h-4zM502 573h4v4h-4zM142 577h4v4h-4zM78 581h4v4h-4zM494 581h4v4h-4zM450 585h4v4h-4zM578 585h4v4h-4zM262 589h4v4h-4zM454 589h4v4h-4zM578 589h8v4h-8zM130 593h4v4h-4zM482 593h4v4h-4zM158 597h4v4h-4zM158 601h4v4h-4zM78 605h4v4h-4zM462 605h4v4h-4z"/><path fill="#540f6d" d="M562 121h4v4h-4zM426 129h4v4h-4zM478 129h4v4h-4zM522 137h4v4h-4zM538 137h4v4h-4zM446 141h4v4h-4zM518 141h4v4h-4zM542 141h4v4h-4zM410 145h4v4h-4zM446 145h4v4h-4zM566 145h4v4h-4zM446 149h4v4h-4zM466 153h4v4h-4zM414 157h4v4h-4zM530 157h4v4h-4zM402 161h4v4h-4zM426 161h4v4h-4zM518 161h4v4h-4zM170 165h4v4h-4zM402 165h4v4h-4zM426 165h4v4h-4zM470 165h4v4h-4zM510 165h4v4h-4zM166 169h4v4h-4zM466 169h4v4h-4zM482 169h4v4h-4zM514 169h4v4h-4zM166 173h4v4h-4zM410 173h4v4h-4zM470 173h8v4h-8zM498 173h4v4h-4zM410 177h4v4h-4zM506 177h4v4h-4zM450 197h4v4h-4zM458 197h4v4h-4zM466 197h4v4h-4zM410 201h4v4h-4zM462 225h4v4h-4zM402 229h4v4h-4zM414 233h4v4h-4zM410 237h4v4h-4zM458 237h4v4h-4zM410 241h4v4h-4zM478 241h4v4h-4zM470 245h8v4h-8zM482 245h4v4h-4zM498 245h4v4h-4zM478 249h4v4h-4zM530 249h4v4h-4zM438 253h4v4h-4zM458 253h4v4h-4zM490 253h4v4h-4zM522 253h4v4h-4zM486 257h4v4h-4zM510 261h4v4h-4zM546 301h4v4h-4zM394 317h4v4h-4zM394 321h4v4h-4zM530 321h4v4h-4zM550 321h4v4h-4zM394 325h4v4h-4zM390 329h4v4h-4zM478 333h4v4h-4zM394 341h12v4h-12zM394 345h4v4h-4zM374 349h8v4h-8zM490 349h8v4h-8zM502 349h4v4h-4zM314 353h4v4h-4zM374 353h4v4h-4zM386 353h4v4h-4zM490 353h4v4h-4zM374 357h4v4h-4zM386 357h4v4h-4zM330 361h4v4h-4zM402 361h4v4h-4zM502 361h4v4h-4zM162 365h4v4h-4zM194 365h4v4h-4zM390 365h4v4h-4zM502 365h4v4h-4zM174 369h4v4h-4zM182 369h4v4h-4zM502 369h4v4h-4zM586 369h4v4h-4zM202 373h4v4h-4zM350 373h4v4h-4zM382 373h4v4h-4zM510 373h4v4h-4zM314 377h4v4h-4zM334 377h4v4h-4zM282 381h4v4h-4zM338 381h4v4h-4zM286 385h8v4h-8zM298 385h4v4h-4zM190 389h4v4h-4zM294 389h4v4h-4zM310 389h4v4h-4zM134 393h4v4h-4zM314 393h4v4h-4zM334 393h4v4h-4zM142 397h4v4h-4zM302 397h4v4h-4zM174 401h4v4h-4zM318 401h4v4h-4zM174 405h4v4h-4zM282 405h4v4h-4zM302 405h4v4h-4zM114 409h4v4h-4zM138 409h4v4h-4zM290 409h4v4h-4zM346 409h4v4h-4zM574 409h4v4h-4zM166 413h8v4h-8zM302 413h4v4h-4zM318 413h4v4h-4zM330 413h4v4h-4zM146 417h4v4h-4zM302 417h4v4h-4zM350 417h4v4h-4zM482 417h4v4h-4zM490 417h4v4h-4zM154 421h4v4h-4zM122 425h4v4h-4zM334 425h4v4h-4zM166 429h4v4h-4zM358 429h4v4h-4zM554 429h4v4h-4zM94 433h4v4h-4zM134 433h4v4h-4zM358 433h4v4h-4zM98 437h4v4h-4zM138 437h4v4h-4zM334 437h4v4h-4zM354 437h4v4h-4zM302 441h4v4h-4zM310 441h4v4h-4zM542 441h4v4h-4zM550 441h4v4h-4zM578 441h4v4h-4zM130 445h4v4h-4zM146 445h4v4h-4zM534 445h4v4h-4zM114 449h4v4h-4zM534 449h4v4h-4zM102 453h4v4h-4zM534 453h4v4h-4zM98 457h4v4h-4zM110 457h4v4h-4zM558 457h4v4h-4zM90 461h4v4h-4zM106 461h4v4h-4zM114 461h8v4h-8zM534 461h4v4h-4zM86 465h4v4h-4zM126 465h4v4h-4zM498 465h4v4h-4zM570 465h4v4h-4zM94 469h4v4h-4zM382 477h4v4h-4zM554 477h8v4h-8zM342 481h4v4h-4zM386 481h4v4h-4zM346 485h4v4h-4zM530 485h8v4h-8zM510 489h4v4h-4zM522 489h8v4h-8zM370 493h8v4h-8zM502 493h4v4h-4zM518 493h4v4h-4zM530 493h4v4h-4zM322 497h8v4h-8zM486 497h4v4h-4zM530 497h4v4h-4zM126 501h4v4h-4zM486 501h4v4h-4zM506 501h4v4h-4zM350 505h4v4h-4zM386 505h4v4h-4zM470 509h4v4h-4zM546 509h4v4h-4zM306 513h4v4h-4zM314 513h4v4h-4zM354 513h4v4h-4zM502 513h4v4h-4zM242 517h8v4h-8zM354 517h4v4h-4zM382 517h4v4h-4zM502 517h4v4h-4zM578 517h4v4h-4zM142 521h4v4h-4zM302 521h4v4h-4zM314 521h4v4h-4zM530 521h4v4h-4zM114 525h4v4h-4zM318 525h4v4h-4zM474 525h4v4h-4zM382 529h4v4h-4zM474 529h4v4h-4zM494 529h4v4h-4zM514 529h4v4h-4zM574 533h4v4h-4zM586 533h4v4h-4zM242 537h4v4h-4zM334 541h4v4h-4zM350 541h4v4h-4zM358 541h4v4h-4zM502 541h4v4h-4zM186 545h4v4h-4zM362 545h4v4h-4zM370 545h4v4h-4zM378 545h4v4h-4zM490 545h4v4h-4zM198 549h4v4h-4zM558 549h4v4h-4zM194 553h4v4h-4zM194 557h4v4h-4zM230 557h4v4h-4zM562 557h4v4h-4zM146 561h8v4h-8zM178 561h4v4h-4zM238 561h4v4h-4zM166 565h8v4h-8zM182 565h4v4h-4zM302 565h4v4h-4zM330 565h4v4h-4zM346 565h4v4h-4zM470 565h4v4h-4zM126 569h4v4h-4zM326 569h4v4h-4zM450 569h4v4h-4zM90 573h4v4h-4zM462 573h4v4h-4zM78 577h4v4h-4zM126 581h4v4h-4zM438 581h4v4h-4zM78 585h4v4h-4zM114 585h4v4h-4zM134 585h8v4h-8zM154 585h4v4h-4zM186 585h4v4h-4zM134 589h8v4h-8zM458 589h4v4h-4zM170 597h4v4h-4zM438 597h4v4h-4zM438 601h4v4h-4zM554 601h4v4h-4zM82 605h4v4h-4zM122 605h4v4h-4zM402 605h4v4h-4zM418 605h4v4h-4zM578 605h4v4h-4z"/><path fill="#57106e" d="M474 93h4v4h-4zM510 105h4v4h-4zM454 125h8v4h-8zM506 125h4v4h-4zM550 125h4v4h-4zM438 129h4v4h-4zM442 133h4v4h-4zM474 133h4v4h-4zM522 133h4v4h-4zM538 133h4v4h-4zM590 133h4v4h-4zM438 141h4v4h-4zM466 141h8v4h-8zM506 141h4v4h-4zM558 141h4v4h-4zM570 141h4v4h-4zM462 145h4v4h-4zM546 145h4v4h-4zM562 145h4v4h-4zM578 145h4v4h-4zM478 149h4v4h-4zM410 153h4v4h-4zM438 153h4v4h-4zM518 153h4v4h-4zM526 157h4v4h-4zM442 161h4v4h-4zM470 161h4v4h-4zM510 161h8v4h-8zM522 161h4v4h-4zM390 165h4v4h-4zM450 165h4v4h-4zM462 165h8v4h-8zM506 165h4v4h-4zM518 165h4v4h-4zM462 169h4v4h-4zM510 169h4v4h-4zM138 173h4v4h-4zM446 173h4v4h-4zM494 173h4v4h-4zM394 181h4v4h-4zM418 181h4v4h-4zM482 181h4v4h-4zM514 181h4v4h-4zM414 185h8v4h-8zM446 189h4v4h-4zM450 193h4v4h-4zM466 201h8v4h-8zM398 209h4v4h-4zM462 209h4v4h-4zM434 213h4v4h-4zM394 221h4v4h-4zM410 221h4v4h-4zM462 221h4v4h-4zM414 225h4v4h-4zM426 225h4v4h-4zM434 225h4v4h-4zM454 225h4v4h-4zM458 229h4v4h-4zM458 233h4v4h-4zM470 233h8v4h-8zM462 237h4v4h-4zM474 237h4v4h-4zM494 241h4v4h-4zM502 241h4v4h-4zM414 245h8v4h-8zM450 245h4v4h-4zM478 245h4v4h-4zM526 245h4v4h-4zM426 253h8v4h-8zM510 253h8v4h-8zM506 261h4v4h-4zM406 297h4v4h-4zM402 309h4v4h-4zM534 309h4v4h-4zM546 309h4v4h-4zM402 313h4v4h-4zM538 313h4v4h-4zM550 317h4v4h-4zM590 317h4v4h-4zM526 325h4v4h-4zM562 325h4v4h-4zM386 329h4v4h-4zM566 329h4v4h-4zM522 333h4v4h-4zM326 341h4v4h-4zM406 341h4v4h-4zM326 345h4v4h-4zM506 345h4v4h-4zM326 349h4v4h-4zM170 357h4v4h-4zM362 357h4v4h-4zM382 357h4v4h-4zM502 357h4v4h-4zM314 361h4v4h-4zM362 361h4v4h-4zM506 361h4v4h-4zM578 361h4v4h-4zM198 365h4v4h-4zM294 365h4v4h-4zM350 365h4v4h-4zM410 365h4v4h-4zM582 369h4v4h-4zM166 373h4v4h-4zM178 373h4v4h-4zM302 373h4v4h-4zM366 373h4v4h-4zM162 377h8v4h-8zM302 377h4v4h-4zM346 377h4v4h-4zM382 377h4v4h-4zM166 381h4v4h-4zM190 381h4v4h-4zM290 381h4v4h-4zM306 389h4v4h-4zM342 389h4v4h-4zM138 393h4v4h-4zM194 393h4v4h-4zM302 393h4v4h-4zM582 393h4v4h-4zM154 397h4v4h-4zM310 397h4v4h-4zM330 397h4v4h-4zM510 397h4v4h-4zM586 397h4v4h-4zM342 401h4v4h-4zM350 401h4v4h-4zM138 405h8v4h-8zM158 405h4v4h-4zM166 405h4v4h-4zM314 405h8v4h-8zM330 405h4v4h-4zM554 405h4v4h-4zM578 405h4v4h-4zM122 409h4v4h-4zM282 409h4v4h-4zM298 409h4v4h-4zM334 409h4v4h-4zM126 413h4v4h-4zM178 413h4v4h-4zM122 417h4v4h-4zM126 421h4v4h-4zM298 421h4v4h-4zM578 421h4v4h-4zM110 425h4v4h-4zM166 425h4v4h-4zM338 425h4v4h-4zM550 425h8v4h-8zM310 429h4v4h-4zM326 429h4v4h-4zM578 429h4v4h-4zM98 433h4v4h-4zM138 433h4v4h-4zM154 433h4v4h-4zM294 433h4v4h-4zM590 433h4v4h-4zM342 437h8v4h-8zM574 437h4v4h-4zM118 441h4v4h-4zM326 441h4v4h-4zM334 441h4v4h-4zM342 441h4v4h-4zM586 441h4v4h-4zM98 445h4v4h-4zM126 445h4v4h-4zM550 445h4v4h-4zM566 445h4v4h-4zM574 445h4v4h-4zM582 445h4v4h-4zM78 449h8v4h-8zM142 449h4v4h-4zM590 449h4v4h-4zM82 453h8v4h-8zM482 453h4v4h-4zM490 453h4v4h-4zM554 453h4v4h-4zM90 457h8v4h-8zM106 457h4v4h-4zM530 457h8v4h-8zM502 461h4v4h-4zM554 461h4v4h-4zM570 461h4v4h-4zM114 465h4v4h-4zM502 465h4v4h-4zM350 469h4v4h-4zM514 469h4v4h-4zM530 469h4v4h-4zM338 473h12v4h-12zM570 473h4v4h-4zM346 477h4v4h-4zM394 477h4v4h-4zM402 477h4v4h-4zM346 481h4v4h-4zM494 481h4v4h-4zM510 481h4v4h-4zM542 481h4v4h-4zM334 485h4v4h-4zM474 485h4v4h-4zM338 489h4v4h-4zM350 489h4v4h-4zM398 489h4v4h-4zM506 489h4v4h-4zM90 493h4v4h-4zM338 493h4v4h-4zM378 493h4v4h-4zM386 493h4v4h-4zM486 493h4v4h-4zM510 493h4v4h-4zM78 497h4v4h-4zM98 497h4v4h-4zM318 497h4v4h-4zM350 497h4v4h-4zM514 497h4v4h-4zM122 501h4v4h-4zM222 501h4v4h-4zM310 501h4v4h-4zM330 501h8v4h-8zM358 501h4v4h-4zM322 505h8v4h-8zM506 505h4v4h-4zM354 509h4v4h-4zM474 509h8v4h-8zM542 509h4v4h-4zM454 513h4v4h-4zM542 513h8v4h-8zM570 513h4v4h-4zM130 517h4v4h-4zM298 517h4v4h-4zM310 517h4v4h-4zM318 517h4v4h-4zM362 517h4v4h-4zM486 517h4v4h-4zM498 517h4v4h-4zM506 517h4v4h-4zM114 521h4v4h-4zM134 521h4v4h-4zM226 521h4v4h-4zM298 521h4v4h-4zM318 521h4v4h-4zM326 521h4v4h-4zM362 521h4v4h-4zM110 525h4v4h-4zM138 525h4v4h-4zM226 525h4v4h-4zM242 525h4v4h-4zM314 525h4v4h-4zM358 525h4v4h-4zM498 525h4v4h-4zM570 525h4v4h-4zM522 529h4v4h-4zM582 529h4v4h-4zM310 533h4v4h-4zM322 533h4v4h-4zM338 533h4v4h-4zM506 533h4v4h-4zM518 533h4v4h-4zM538 533h4v4h-4zM334 537h4v4h-4zM346 537h4v4h-4zM502 537h8v4h-8zM546 537h4v4h-4zM578 537h4v4h-4zM110 541h4v4h-4zM170 541h4v4h-4zM210 541h4v4h-4zM498 541h4v4h-4zM214 545h4v4h-4zM514 545h4v4h-4zM230 549h4v4h-4zM330 549h4v4h-4zM362 549h4v4h-4zM370 549h4v4h-4zM166 553h4v4h-4zM206 553h4v4h-4zM222 553h4v4h-4zM234 553h4v4h-4zM534 553h4v4h-4zM122 557h4v4h-4zM186 557h4v4h-4zM306 557h4v4h-4zM490 557h4v4h-4zM510 561h4v4h-4zM174 565h4v4h-4zM230 565h8v4h-8zM438 565h4v4h-4zM94 569h4v4h-4zM162 569h4v4h-4zM174 569h8v4h-8zM322 569h4v4h-4zM438 569h4v4h-4zM478 569h4v4h-4zM506 569h4v4h-4zM130 573h4v4h-4zM170 573h4v4h-4zM442 573h4v4h-4zM498 573h4v4h-4zM82 577h4v4h-4zM126 577h4v4h-4zM458 577h4v4h-4zM502 577h4v4h-4zM142 581h4v4h-4zM166 581h4v4h-4zM434 581h4v4h-4zM582 581h4v4h-4zM98 585h4v4h-4zM106 585h4v4h-4zM322 585h4v4h-4zM482 585h4v4h-4zM586 585h4v4h-4zM102 589h4v4h-4zM114 589h4v4h-4zM162 589h4v4h-4zM486 593h4v4h-4zM130 597h4v4h-4zM458 601h4v4h-4zM146 605h4v4h-4zM158 605h4v4h-4zM414 605h4v4h-4zM422 605h4v4h-4zM482 605h4v4h-4zM522 605h4v4h-4z"/><path fill="#5a116e" d="M510 101h4v4h-4zM454 117h4v4h-4zM430 125h8v4h-8zM442 125h4v4h-4zM562 125h4v4h-4zM486 129h4v4h-4zM590 129h4v4h-4zM466 137h4v4h-4zM482 137h4v4h-4zM574 137h4v4h-4zM454 141h4v4h-4zM526 141h4v4h-4zM534 141h4v4h-4zM546 141h4v4h-4zM566 141h4v4h-4zM430 145h4v4h-4zM458 145h4v4h-4zM506 145h4v4h-4zM530 145h4v4h-4zM394 149h4v4h-4zM450 149h8v4h-8zM466 149h4v4h-4zM486 149h4v4h-4zM578 149h4v4h-4zM446 153h4v4h-4zM454 153h4v4h-4zM486 153h4v4h-4zM514 153h4v4h-4zM398 157h12v4h-12zM466 157h4v4h-4zM486 157h8v4h-8zM506 157h4v4h-4zM534 157h4v4h-4zM410 161h16v4h-16zM466 161h4v4h-4zM490 161h4v4h-4zM418 165h4v4h-4zM494 165h4v4h-4zM398 169h4v4h-4zM426 169h4v4h-4zM450 169h4v4h-4zM494 169h4v4h-4zM170 173h4v4h-4zM450 173h4v4h-4zM466 173h4v4h-4zM422 177h4v4h-4zM466 177h4v4h-4zM502 177h4v4h-4zM514 177h4v4h-4zM550 177h4v4h-4zM390 181h4v4h-4zM410 181h4v4h-4zM422 181h4v4h-4zM478 181h4v4h-4zM510 181h4v4h-4zM138 185h4v4h-4zM394 185h4v4h-4zM410 185h4v4h-4zM422 185h4v4h-4zM446 185h8v4h-8zM450 189h4v4h-4zM418 193h4v4h-4zM430 193h4v4h-4zM474 197h4v4h-4zM434 205h4v4h-4zM402 209h4v4h-4zM434 209h4v4h-4zM414 217h4v4h-4zM470 221h4v4h-4zM478 221h4v4h-4zM398 225h4v4h-4zM418 225h8v4h-8zM450 229h4v4h-4zM482 229h4v4h-4zM402 233h4v4h-4zM438 233h4v4h-4zM478 233h4v4h-4zM494 237h4v4h-4zM422 245h12v4h-12zM438 245h4v4h-4zM510 245h4v4h-4zM426 249h8v4h-8zM482 249h8v4h-8zM502 253h4v4h-4zM526 253h4v4h-4zM426 257h4v4h-4zM438 257h4v4h-4zM462 257h4v4h-4zM490 257h4v4h-4zM458 261h4v4h-4zM470 265h4v4h-4zM486 265h4v4h-4zM458 269h4v4h-4zM542 289h4v4h-4zM530 305h4v4h-4zM398 313h4v4h-4zM526 317h8v4h-8zM542 321h4v4h-4zM586 321h4v4h-4zM398 325h4v4h-4zM558 337h4v4h-4zM374 345h4v4h-4zM398 345h4v4h-4zM330 349h4v4h-4zM370 349h4v4h-4zM514 349h4v4h-4zM382 353h4v4h-4zM486 353h4v4h-4zM494 353h4v4h-4zM502 353h4v4h-4zM514 353h4v4h-4zM554 353h4v4h-4zM190 357h4v4h-4zM278 357h8v4h-8zM378 357h4v4h-4zM410 357h4v4h-4zM490 357h4v4h-4zM522 357h4v4h-4zM174 361h4v4h-4zM298 361h4v4h-4zM342 361h4v4h-4zM350 361h4v4h-4zM378 361h8v4h-8zM406 361h4v4h-4zM498 361h4v4h-4zM270 365h4v4h-4zM298 365h4v4h-4zM318 365h4v4h-4zM330 365h4v4h-4zM506 365h4v4h-4zM194 369h4v4h-4zM302 369h4v4h-4zM350 369h4v4h-4zM394 369h4v4h-4zM406 369h4v4h-4zM578 369h4v4h-4zM190 373h4v4h-4zM298 373h4v4h-4zM314 373h4v4h-4zM326 373h8v4h-8zM354 373h4v4h-4zM154 377h4v4h-4zM190 377h4v4h-4zM154 381h4v4h-4zM298 381h4v4h-4zM314 381h4v4h-4zM334 381h4v4h-4zM398 381h4v4h-4zM562 381h4v4h-4zM274 385h4v4h-4zM330 385h4v4h-4zM342 385h4v4h-4zM278 389h4v4h-4zM174 393h4v4h-4zM186 393h4v4h-4zM278 393h4v4h-4zM150 397h4v4h-4zM330 401h8v4h-8zM506 401h4v4h-4zM534 401h4v4h-4zM554 401h4v4h-4zM506 405h4v4h-4zM166 409h4v4h-4zM302 409h4v4h-4zM314 409h4v4h-4zM554 409h4v4h-4zM182 413h4v4h-4zM310 413h4v4h-4zM346 413h4v4h-4zM542 413h4v4h-4zM566 413h8v4h-8zM102 417h4v4h-4zM506 417h4v4h-4zM142 421h4v4h-4zM310 421h4v4h-4zM574 421h4v4h-4zM146 425h4v4h-4zM346 425h8v4h-8zM286 429h4v4h-4zM90 433h4v4h-4zM166 433h4v4h-4zM342 433h4v4h-4zM554 433h4v4h-4zM110 437h8v4h-8zM518 437h4v4h-4zM546 437h4v4h-4zM586 437h8v4h-8zM90 441h4v4h-4zM130 441h4v4h-4zM142 441h4v4h-4zM518 441h4v4h-4zM574 441h4v4h-4zM122 445h4v4h-4zM170 445h4v4h-4zM538 445h4v4h-4zM138 449h4v4h-4zM422 449h4v4h-4zM482 449h8v4h-8zM514 449h8v4h-8zM550 449h4v4h-4zM578 449h4v4h-4zM106 453h4v4h-4zM138 453h4v4h-4zM530 453h4v4h-4zM78 457h4v4h-4zM138 457h4v4h-4zM358 457h4v4h-4zM486 457h4v4h-4zM514 457h4v4h-4zM562 457h4v4h-4zM570 457h4v4h-4zM370 461h4v4h-4zM558 461h4v4h-4zM118 465h4v4h-4zM130 465h8v4h-8zM478 465h4v4h-4zM390 469h8v4h-8zM518 469h4v4h-4zM562 469h4v4h-4zM114 473h4v4h-4zM482 473h4v4h-4zM550 473h4v4h-4zM566 473h4v4h-4zM590 473h4v4h-4zM482 477h4v4h-4zM574 477h8v4h-8zM78 481h4v4h-4zM490 481h4v4h-4zM398 485h4v4h-4zM482 485h4v4h-4zM526 485h4v4h-4zM546 485h4v4h-4zM366 489h4v4h-4zM558 489h4v4h-4zM582 489h4v4h-4zM382 493h4v4h-4zM514 493h4v4h-4zM542 493h4v4h-4zM90 497h4v4h-4zM342 497h4v4h-4zM378 497h4v4h-4zM390 497h4v4h-4zM98 501h4v4h-4zM366 501h4v4h-4zM374 501h4v4h-4zM510 501h4v4h-4zM518 501h8v4h-8zM134 505h4v4h-4zM210 505h4v4h-4zM362 505h4v4h-4zM134 509h4v4h-4zM258 509h4v4h-4zM462 509h8v4h-8zM494 509h8v4h-8zM134 513h4v4h-4zM250 513h8v4h-8zM310 513h4v4h-4zM350 513h4v4h-4zM498 513h4v4h-4zM562 513h8v4h-8zM226 517h4v4h-4zM250 517h4v4h-4zM330 517h4v4h-4zM342 517h4v4h-4zM478 517h8v4h-8zM138 521h4v4h-4zM382 521h4v4h-4zM478 521h4v4h-4zM486 521h4v4h-4zM498 521h4v4h-4zM94 525h4v4h-4zM362 525h4v4h-4zM374 525h4v4h-4zM382 525h4v4h-4zM462 525h4v4h-4zM486 525h4v4h-4zM510 525h4v4h-4zM526 525h4v4h-4zM578 525h4v4h-4zM82 529h4v4h-4zM138 529h4v4h-4zM310 529h4v4h-4zM370 529h4v4h-4zM486 529h4v4h-4zM498 529h4v4h-4zM570 529h4v4h-4zM106 533h4v4h-4zM446 533h4v4h-4zM470 533h4v4h-4zM146 537h4v4h-4zM246 537h4v4h-4zM586 537h4v4h-4zM190 541h4v4h-4zM242 541h4v4h-4zM170 545h4v4h-4zM226 545h8v4h-8zM330 545h4v4h-4zM446 545h8v4h-8zM498 545h4v4h-4zM442 549h4v4h-4zM450 549h4v4h-4zM554 549h4v4h-4zM142 553h4v4h-4zM154 553h4v4h-4zM198 553h4v4h-4zM278 553h8v4h-8zM370 553h4v4h-4zM486 553h4v4h-4zM590 553h4v4h-4zM178 557h4v4h-4zM366 557h4v4h-4zM558 557h4v4h-4zM154 561h4v4h-4zM190 561h4v4h-4zM230 561h4v4h-4zM338 561h4v4h-4zM438 561h4v4h-4zM162 565h4v4h-4zM326 565h4v4h-4zM338 565h4v4h-4zM350 565h4v4h-4zM450 565h4v4h-4zM490 565h4v4h-4zM506 565h4v4h-4zM158 569h4v4h-4zM210 569h4v4h-4zM338 569h4v4h-4zM482 569h4v4h-4zM490 569h4v4h-4zM166 573h4v4h-4zM458 573h4v4h-4zM466 573h4v4h-4zM486 573h4v4h-4zM86 577h4v4h-4zM442 577h8v4h-8zM454 577h4v4h-4zM462 577h4v4h-4zM82 581h4v4h-4zM98 581h8v4h-8zM130 581h4v4h-4zM318 581h4v4h-4zM462 581h4v4h-4zM118 585h4v4h-4zM162 585h8v4h-8zM262 585h8v4h-8zM462 585h4v4h-4zM490 585h4v4h-4zM98 589h4v4h-4zM282 589h4v4h-4zM310 589h4v4h-4zM422 589h4v4h-4zM478 589h4v4h-4zM486 589h4v4h-4zM450 593h4v4h-4zM486 597h4v4h-4zM122 601h4v4h-4zM430 601h4v4h-4zM454 601h4v4h-4zM466 601h4v4h-4zM406 605h4v4h-4zM438 605h4v4h-4z"/><path fill="#5d126e" d="M454 121h4v4h-4zM522 121h8v4h-8zM478 125h4v4h-4zM454 129h4v4h-4zM542 137h4v4h-4zM578 137h4v4h-4zM430 141h4v4h-4zM510 141h8v4h-8zM562 141h4v4h-4zM578 141h4v4h-4zM466 145h4v4h-4zM482 145h4v4h-4zM522 145h4v4h-4zM574 145h4v4h-4zM586 145h4v4h-4zM586 149h4v4h-4zM450 153h4v4h-4zM510 153h4v4h-4zM410 157h4v4h-4zM422 157h4v4h-4zM398 161h4v4h-4zM506 161h4v4h-4zM530 161h4v4h-4zM550 161h4v4h-4zM382 165h4v4h-4zM502 165h4v4h-4zM498 169h4v4h-4zM518 169h4v4h-4zM150 173h4v4h-4zM418 173h4v4h-4zM510 173h4v4h-4zM438 177h4v4h-4zM450 177h4v4h-4zM462 177h4v4h-4zM510 177h4v4h-4zM534 177h4v4h-4zM406 181h4v4h-4zM414 181h4v4h-4zM426 181h4v4h-4zM522 181h4v4h-4zM526 185h4v4h-4zM406 189h4v4h-4zM422 189h4v4h-4zM458 193h4v4h-4zM430 197h4v4h-4zM458 201h4v4h-4zM398 213h4v4h-4zM442 213h4v4h-4zM398 217h4v4h-4zM478 217h4v4h-4zM442 225h4v4h-4zM426 229h4v4h-4zM490 229h8v4h-8zM394 233h4v4h-4zM418 233h4v4h-4zM450 233h4v4h-4zM466 233h4v4h-4zM426 237h4v4h-4zM450 237h4v4h-4zM486 237h4v4h-4zM430 241h4v4h-4zM482 241h8v4h-8zM462 245h4v4h-4zM502 245h4v4h-4zM514 245h4v4h-4zM502 249h4v4h-4zM534 249h4v4h-4zM486 253h4v4h-4zM442 257h4v4h-4zM510 257h4v4h-4zM438 261h4v4h-4zM462 261h4v4h-4zM462 265h4v4h-4zM78 273h4v4h-4zM514 273h4v4h-4zM566 281h4v4h-4zM490 285h4v4h-4zM542 293h4v4h-4zM406 301h4v4h-4zM550 301h4v4h-4zM526 309h4v4h-4zM530 313h8v4h-8zM398 321h4v4h-4zM538 321h4v4h-4zM546 325h4v4h-4zM582 325h4v4h-4zM378 329h4v4h-4zM482 329h4v4h-4zM474 333h4v4h-4zM558 333h4v4h-4zM394 337h4v4h-4zM590 337h4v4h-4zM322 341h4v4h-4zM370 341h8v4h-8zM322 345h4v4h-4zM382 345h4v4h-4zM502 345h4v4h-4zM314 349h4v4h-4zM406 349h4v4h-4zM414 349h4v4h-4zM298 353h4v4h-4zM330 353h4v4h-4zM486 357h4v4h-4zM574 357h4v4h-4zM170 361h4v4h-4zM178 361h8v4h-8zM310 361h4v4h-4zM334 361h4v4h-4zM354 361h8v4h-8zM386 361h4v4h-4zM474 361h4v4h-4zM590 361h4v4h-4zM174 365h4v4h-4zM362 365h4v4h-4zM402 365h4v4h-4zM482 365h4v4h-4zM178 369h4v4h-4zM346 369h4v4h-4zM390 369h4v4h-4zM398 369h4v4h-4zM410 369h4v4h-4zM170 373h8v4h-8zM322 373h4v4h-4zM334 373h4v4h-4zM406 373h4v4h-4zM482 373h4v4h-4zM506 373h4v4h-4zM158 377h4v4h-4zM178 377h4v4h-4zM286 377h4v4h-4zM306 377h4v4h-4zM338 377h4v4h-4zM138 381h4v4h-4zM306 381h4v4h-4zM378 381h4v4h-4zM158 385h4v4h-4zM278 385h8v4h-8zM354 385h4v4h-4zM370 385h4v4h-4zM170 389h8v4h-8zM182 389h4v4h-4zM386 389h4v4h-4zM582 389h4v4h-4zM178 393h4v4h-4zM294 393h4v4h-4zM338 393h4v4h-4zM134 397h8v4h-8zM162 397h8v4h-8zM174 397h4v4h-4zM342 397h4v4h-4zM366 397h4v4h-4zM506 397h4v4h-4zM554 397h4v4h-4zM150 401h4v4h-4zM566 401h4v4h-4zM150 405h4v4h-4zM326 405h4v4h-4zM550 405h4v4h-4zM142 409h4v4h-4zM278 409h4v4h-4zM134 413h4v4h-4zM174 413h4v4h-4zM486 413h4v4h-4zM306 417h4v4h-4zM538 417h4v4h-4zM122 421h4v4h-4zM550 421h4v4h-4zM126 425h4v4h-4zM286 425h4v4h-4zM310 425h4v4h-4zM558 425h4v4h-4zM590 425h4v4h-4zM138 429h4v4h-4zM294 429h4v4h-4zM342 429h4v4h-4zM498 429h4v4h-4zM562 429h4v4h-4zM582 429h4v4h-4zM326 433h4v4h-4zM430 433h4v4h-4zM486 433h4v4h-4zM522 433h4v4h-4zM154 437h4v4h-4zM294 437h4v4h-4zM330 437h4v4h-4zM550 437h4v4h-4zM558 437h4v4h-4zM86 441h4v4h-4zM330 441h4v4h-4zM534 441h4v4h-4zM94 445h4v4h-4zM110 445h4v4h-4zM166 445h4v4h-4zM330 445h4v4h-4zM510 445h4v4h-4zM542 445h8v4h-8zM110 449h4v4h-4zM510 449h4v4h-4zM538 449h4v4h-4zM574 449h4v4h-4zM134 453h4v4h-4zM462 453h4v4h-4zM494 453h4v4h-4zM362 457h4v4h-4zM490 457h12v4h-12zM98 461h4v4h-4zM358 461h4v4h-4zM94 465h4v4h-4zM474 465h4v4h-4zM494 465h4v4h-4zM130 469h4v4h-4zM370 469h4v4h-4zM466 469h4v4h-4zM490 469h8v4h-8zM586 469h4v4h-4zM94 473h4v4h-4zM382 473h8v4h-8zM398 473h4v4h-4zM518 473h4v4h-4zM558 473h4v4h-4zM582 473h4v4h-4zM582 477h4v4h-4zM514 481h4v4h-4zM342 485h4v4h-4zM402 485h4v4h-4zM478 485h4v4h-4zM506 485h4v4h-4zM322 489h4v4h-4zM466 489h4v4h-4zM554 489h4v4h-4zM586 489h4v4h-4zM98 493h4v4h-4zM398 493h4v4h-4zM470 493h4v4h-4zM346 497h4v4h-4zM382 497h4v4h-4zM518 497h8v4h-8zM94 501h4v4h-4zM362 501h4v4h-4zM390 501h4v4h-4zM458 501h4v4h-4zM478 501h4v4h-4zM554 501h4v4h-4zM122 505h4v4h-4zM230 505h4v4h-4zM302 505h4v4h-4zM318 505h4v4h-4zM370 505h4v4h-4zM510 505h4v4h-4zM518 505h4v4h-4zM558 505h4v4h-4zM502 509h4v4h-4zM86 513h4v4h-4zM330 513h4v4h-4zM342 513h4v4h-4zM366 513h4v4h-4zM462 513h4v4h-4zM574 513h4v4h-4zM114 517h4v4h-4zM146 517h4v4h-4zM338 517h4v4h-4zM350 517h4v4h-4zM450 517h4v4h-4zM490 517h8v4h-8zM574 517h4v4h-4zM222 521h4v4h-4zM342 521h4v4h-4zM482 521h4v4h-4zM502 521h4v4h-4zM578 521h4v4h-4zM82 525h4v4h-4zM106 525h4v4h-4zM222 525h4v4h-4zM234 525h8v4h-8zM286 525h4v4h-4zM378 525h4v4h-4zM518 525h4v4h-4zM530 525h4v4h-4zM574 525h4v4h-4zM86 529h4v4h-4zM114 529h4v4h-4zM326 529h4v4h-4zM386 529h4v4h-4zM458 529h8v4h-8zM470 529h4v4h-4zM130 533h4v4h-4zM242 533h4v4h-4zM302 533h4v4h-4zM382 533h4v4h-4zM450 533h4v4h-4zM498 533h8v4h-8zM534 533h4v4h-4zM546 533h4v4h-4zM186 537h4v4h-4zM298 537h4v4h-4zM358 537h8v4h-8zM462 537h4v4h-4zM498 537h4v4h-4zM530 537h4v4h-4zM566 537h4v4h-4zM146 541h4v4h-4zM226 541h4v4h-4zM234 541h4v4h-4zM354 541h4v4h-4zM506 541h4v4h-4zM138 545h4v4h-4zM222 545h4v4h-4zM334 545h4v4h-4zM442 545h4v4h-4zM474 545h4v4h-4zM518 545h4v4h-4zM538 545h4v4h-4zM202 549h4v4h-4zM342 549h4v4h-4zM366 549h4v4h-4zM438 549h4v4h-4zM490 549h4v4h-4zM530 549h12v4h-12zM218 553h4v4h-4zM346 553h4v4h-4zM446 553h4v4h-4zM482 553h4v4h-4zM490 553h4v4h-4zM154 557h4v4h-4zM162 557h4v4h-4zM226 557h4v4h-4zM470 557h4v4h-4zM522 557h4v4h-4zM158 561h4v4h-4zM306 561h4v4h-4zM342 561h4v4h-4zM430 561h4v4h-4zM442 561h4v4h-4zM586 561h4v4h-4zM118 565h4v4h-4zM150 565h4v4h-4zM186 565h4v4h-4zM426 565h4v4h-4zM90 569h4v4h-4zM118 569h4v4h-4zM206 569h4v4h-4zM318 569h4v4h-4zM454 569h4v4h-4zM518 569h4v4h-4zM142 573h4v4h-4zM334 573h4v4h-4zM446 573h4v4h-4zM474 573h8v4h-8zM514 573h4v4h-4zM130 577h4v4h-4zM334 577h4v4h-4zM342 577h4v4h-4zM450 577h4v4h-4zM466 577h4v4h-4zM498 577h4v4h-4zM518 577h4v4h-4zM106 581h4v4h-4zM190 581h4v4h-4zM158 585h4v4h-4zM174 585h4v4h-4zM182 585h4v4h-4zM190 585h4v4h-4zM466 585h4v4h-4zM494 585h4v4h-4zM78 589h4v4h-4zM106 589h8v4h-8zM266 589h4v4h-4zM322 589h4v4h-4zM434 589h4v4h-4zM470 589h4v4h-4zM490 589h4v4h-4zM162 593h4v4h-4zM454 593h4v4h-4zM174 597h4v4h-4zM454 597h4v4h-4zM170 601h4v4h-4zM426 601h4v4h-4zM434 601h4v4h-4zM86 605h4v4h-4zM470 605h4v4h-4zM554 605h4v4h-4z"/><path fill="#61136e" d="M474 105h4v4h-4zM534 105h4v4h-4zM458 121h4v4h-4zM494 121h4v4h-4zM518 121h4v4h-4zM538 121h4v4h-4zM546 121h4v4h-4zM438 125h4v4h-4zM462 125h4v4h-4zM470 125h4v4h-4zM458 129h4v4h-4zM466 129h4v4h-4zM474 129h4v4h-4zM554 129h8v4h-8zM422 133h4v4h-4zM466 133h4v4h-4zM586 133h4v4h-4zM558 137h4v4h-4zM570 137h4v4h-4zM410 141h4v4h-4zM462 141h4v4h-4zM530 141h4v4h-4zM390 145h4v4h-4zM514 145h4v4h-4zM526 145h4v4h-4zM558 145h4v4h-4zM414 149h4v4h-4zM430 149h4v4h-4zM458 149h8v4h-8zM470 149h8v4h-8zM398 153h4v4h-4zM490 153h4v4h-4zM506 153h4v4h-4zM522 153h8v4h-8zM566 153h8v4h-8zM442 157h4v4h-4zM462 157h4v4h-4zM494 157h4v4h-4zM566 157h4v4h-4zM390 161h8v4h-8zM446 161h4v4h-4zM482 161h4v4h-4zM534 161h4v4h-4zM166 165h4v4h-4zM378 165h4v4h-4zM394 165h8v4h-8zM422 165h4v4h-4zM150 169h4v4h-4zM418 169h4v4h-4zM398 173h4v4h-4zM426 173h4v4h-4zM170 177h4v4h-4zM426 177h4v4h-4zM494 177h4v4h-4zM542 177h4v4h-4zM402 181h4v4h-4zM438 181h4v4h-4zM526 181h4v4h-4zM546 181h4v4h-4zM130 185h4v4h-4zM402 185h8v4h-8zM438 185h4v4h-4zM138 189h4v4h-4zM394 197h4v4h-4zM470 197h4v4h-4zM434 201h4v4h-4zM406 205h4v4h-4zM470 205h4v4h-4zM406 209h4v4h-4zM422 209h4v4h-4zM438 209h4v4h-4zM458 209h4v4h-4zM466 209h4v4h-4zM402 213h4v4h-4zM422 213h4v4h-4zM470 213h4v4h-4zM394 225h4v4h-4zM402 225h4v4h-4zM498 225h4v4h-4zM398 229h4v4h-4zM438 229h4v4h-4zM470 229h8v4h-8zM498 229h4v4h-4zM538 229h4v4h-4zM410 233h4v4h-4zM482 233h4v4h-4zM514 233h4v4h-4zM478 237h4v4h-4zM490 237h4v4h-4zM422 241h8v4h-8zM462 241h4v4h-4zM490 241h4v4h-4zM522 241h4v4h-4zM506 245h4v4h-4zM418 249h8v4h-8zM434 249h4v4h-4zM414 253h4v4h-4zM518 253h4v4h-4zM466 269h4v4h-4zM498 269h4v4h-4zM562 281h4v4h-4zM538 285h4v4h-4zM470 293h4v4h-4zM402 301h4v4h-4zM402 305h4v4h-4zM526 305h4v4h-4zM570 305h4v4h-4zM406 309h4v4h-4zM486 309h4v4h-4zM394 313h4v4h-4zM398 317h8v4h-8zM554 317h4v4h-4zM574 317h4v4h-4zM562 321h4v4h-4zM582 321h4v4h-4zM530 325h4v4h-4zM586 325h8v4h-8zM474 329h4v4h-4zM518 329h4v4h-4zM546 329h4v4h-4zM378 333h4v4h-4zM514 333h4v4h-4zM530 337h4v4h-4zM378 345h4v4h-4zM402 345h4v4h-4zM298 349h8v4h-8zM310 349h4v4h-4zM366 349h4v4h-4zM410 349h4v4h-4zM498 349h4v4h-4zM318 353h4v4h-4zM378 353h4v4h-4zM498 353h4v4h-4zM578 353h4v4h-4zM174 357h4v4h-4zM498 357h4v4h-4zM518 357h4v4h-4zM322 361h4v4h-4zM494 361h4v4h-4zM274 365h4v4h-4zM338 365h4v4h-4zM378 365h4v4h-4zM330 369h4v4h-4zM362 369h4v4h-4zM374 369h4v4h-4zM386 369h4v4h-4zM542 369h4v4h-4zM154 373h4v4h-4zM162 373h4v4h-4zM374 373h4v4h-4zM514 373h4v4h-4zM298 377h4v4h-4zM326 377h4v4h-4zM378 377h4v4h-4zM170 381h8v4h-8zM182 381h4v4h-4zM302 381h4v4h-4zM310 381h4v4h-4zM342 381h4v4h-4zM402 381h4v4h-4zM138 385h4v4h-4zM318 385h4v4h-4zM386 385h4v4h-4zM526 385h4v4h-4zM546 385h4v4h-4zM274 389h4v4h-4zM282 393h4v4h-4zM306 393h4v4h-4zM146 397h4v4h-4zM158 397h4v4h-4zM318 397h4v4h-4zM550 397h4v4h-4zM570 397h4v4h-4zM138 401h4v4h-4zM194 401h4v4h-4zM270 401h4v4h-4zM338 401h4v4h-4zM550 401h4v4h-4zM570 401h4v4h-4zM118 405h4v4h-4zM182 405h4v4h-4zM150 409h4v4h-4zM158 409h4v4h-4zM286 409h4v4h-4zM294 409h4v4h-4zM330 409h4v4h-4zM350 409h4v4h-4zM506 409h4v4h-4zM550 409h4v4h-4zM130 413h4v4h-4zM154 413h8v4h-8zM538 413h4v4h-4zM562 413h4v4h-4zM166 417h8v4h-8zM510 417h4v4h-4zM550 417h4v4h-4zM586 417h4v4h-4zM118 421h4v4h-4zM158 421h4v4h-4zM166 421h4v4h-4zM294 421h4v4h-4zM334 421h4v4h-4zM506 421h8v4h-8zM82 425h4v4h-4zM142 425h4v4h-4zM302 425h4v4h-4zM314 425h4v4h-4zM126 429h4v4h-4zM346 429h4v4h-4zM362 429h4v4h-4zM538 429h4v4h-4zM546 429h4v4h-4zM106 433h4v4h-4zM314 433h4v4h-4zM330 433h4v4h-4zM362 433h4v4h-4zM502 433h4v4h-4zM542 433h4v4h-4zM490 437h8v4h-8zM502 437h4v4h-4zM526 437h4v4h-4zM542 437h4v4h-4zM554 437h4v4h-4zM94 441h4v4h-4zM166 441h4v4h-4zM290 441h4v4h-4zM530 441h4v4h-4zM562 441h4v4h-4zM82 445h4v4h-4zM134 449h4v4h-4zM418 449h4v4h-4zM566 449h4v4h-4zM110 453h4v4h-4zM122 453h4v4h-4zM458 453h4v4h-4zM506 453h8v4h-8zM590 453h4v4h-4zM518 457h4v4h-4zM538 457h4v4h-4zM554 457h4v4h-4zM566 457h4v4h-4zM486 461h4v4h-4zM566 461h4v4h-4zM346 465h4v4h-4zM402 465h4v4h-4zM490 465h4v4h-4zM346 469h4v4h-4zM486 469h4v4h-4zM550 469h8v4h-8zM590 469h4v4h-4zM110 473h4v4h-4zM470 473h8v4h-8zM354 477h4v4h-4zM410 477h4v4h-4zM526 477h4v4h-4zM82 481h4v4h-4zM338 481h4v4h-4zM406 481h4v4h-4zM498 481h4v4h-4zM526 481h4v4h-4zM330 485h4v4h-4zM338 485h4v4h-4zM390 485h4v4h-4zM518 485h4v4h-4zM346 489h4v4h-4zM378 489h4v4h-4zM394 489h4v4h-4zM486 489h4v4h-4zM530 489h4v4h-4zM106 493h4v4h-4zM350 493h4v4h-4zM538 493h4v4h-4zM586 493h4v4h-4zM122 497h4v4h-4zM138 497h4v4h-4zM354 497h8v4h-8zM474 497h4v4h-4zM534 497h4v4h-4zM82 501h4v4h-4zM130 501h4v4h-4zM230 501h4v4h-4zM514 501h4v4h-4zM86 505h4v4h-4zM222 505h4v4h-4zM298 505h4v4h-4zM382 505h4v4h-4zM502 505h4v4h-4zM522 505h4v4h-4zM78 509h4v4h-4zM118 509h4v4h-4zM350 509h4v4h-4zM370 509h4v4h-4zM386 509h4v4h-4zM490 509h4v4h-4zM90 513h4v4h-4zM110 517h4v4h-4zM314 517h4v4h-4zM530 517h4v4h-4zM566 517h8v4h-8zM94 521h4v4h-4zM110 521h4v4h-4zM250 521h4v4h-4zM306 521h8v4h-8zM322 521h4v4h-4zM386 521h4v4h-4zM506 521h4v4h-4zM522 521h4v4h-4zM98 525h8v4h-8zM146 525h4v4h-4zM254 525h4v4h-4zM322 525h8v4h-8zM342 525h4v4h-4zM366 525h8v4h-8zM386 525h4v4h-4zM458 525h4v4h-4zM522 525h4v4h-4zM554 525h4v4h-4zM222 529h8v4h-8zM242 529h4v4h-4zM286 529h8v4h-8zM366 529h4v4h-4zM546 529h8v4h-8zM110 533h4v4h-4zM126 533h4v4h-4zM290 533h4v4h-4zM330 533h4v4h-4zM354 533h4v4h-4zM378 533h4v4h-4zM522 533h4v4h-4zM530 533h4v4h-4zM570 533h4v4h-4zM106 537h8v4h-8zM238 537h4v4h-4zM294 537h4v4h-4zM114 541h4v4h-4zM174 541h8v4h-8zM230 541h4v4h-4zM238 541h4v4h-4zM534 541h4v4h-4zM554 541h8v4h-8zM566 541h4v4h-4zM126 545h4v4h-4zM338 545h4v4h-4zM366 545h4v4h-4zM502 545h4v4h-4zM558 545h4v4h-4zM142 549h4v4h-4zM334 549h8v4h-8zM378 549h4v4h-4zM458 549h4v4h-4zM466 549h4v4h-4zM474 549h4v4h-4zM486 549h4v4h-4zM494 549h4v4h-4zM526 549h4v4h-4zM562 549h4v4h-4zM138 553h4v4h-4zM330 553h4v4h-4zM366 553h4v4h-4zM374 553h4v4h-4zM462 553h4v4h-4zM530 553h4v4h-4zM538 553h4v4h-4zM114 557h4v4h-4zM206 557h8v4h-8zM334 557h4v4h-4zM350 557h4v4h-4zM358 557h4v4h-4zM370 557h4v4h-4zM442 557h8v4h-8zM482 557h4v4h-4zM510 557h4v4h-4zM566 557h4v4h-4zM118 561h4v4h-4zM434 561h4v4h-4zM446 561h4v4h-4zM566 561h4v4h-4zM210 565h4v4h-4zM226 565h4v4h-4zM358 565h4v4h-4zM430 565h4v4h-4zM462 565h4v4h-4zM478 565h4v4h-4zM502 565h4v4h-4zM510 565h4v4h-4zM114 569h4v4h-4zM354 569h4v4h-4zM502 569h4v4h-4zM98 573h4v4h-4zM114 573h4v4h-4zM122 573h4v4h-4zM206 573h4v4h-4zM454 573h4v4h-4zM470 573h4v4h-4zM506 573h4v4h-4zM94 577h4v4h-4zM110 581h12v4h-12zM182 581h4v4h-4zM294 581h4v4h-4zM586 581h4v4h-4zM110 585h4v4h-4zM142 585h4v4h-4zM442 585h8v4h-8zM150 589h4v4h-4zM166 589h4v4h-4zM290 589h8v4h-8zM430 589h4v4h-4zM586 589h4v4h-4zM422 593h4v4h-4zM150 597h4v4h-4zM162 597h4v4h-4zM442 597h4v4h-4zM502 597h4v4h-4zM82 601h4v4h-4zM134 601h8v4h-8zM442 601h4v4h-4zM114 605h4v4h-4zM130 605h4v4h-4zM322 605h4v4h-4zM426 605h8v4h-8zM478 605h4v4h-4zM518 605h4v4h-4zM558 605h4v4h-4zM586 605h8v4h-8z"/><path fill="#64156e" d="M470 93h4v4h-4zM514 101h4v4h-4zM530 101h8v4h-8zM498 105h4v4h-4zM530 105h4v4h-4zM430 109h8v4h-8zM446 109h4v4h-4zM458 117h4v4h-4zM546 117h8v4h-8zM462 121h4v4h-4zM542 121h4v4h-4zM466 125h4v4h-4zM510 125h4v4h-4zM438 133h4v4h-4zM534 133h4v4h-4zM542 133h4v4h-4zM438 137h8v4h-8zM518 137h4v4h-4zM530 137h4v4h-4zM590 137h4v4h-4zM474 141h4v4h-4zM174 149h8v4h-8zM390 149h4v4h-4zM434 149h4v4h-4zM490 149h4v4h-4zM566 149h4v4h-4zM582 149h4v4h-4zM590 149h4v4h-4zM458 153h4v4h-4zM574 153h4v4h-4zM430 157h12v4h-12zM538 157h4v4h-4zM570 157h4v4h-4zM502 161h4v4h-4zM526 161h4v4h-4zM386 165h4v4h-4zM482 165h4v4h-4zM490 165h4v4h-4zM498 165h4v4h-4zM146 169h4v4h-4zM394 169h4v4h-4zM490 169h4v4h-4zM514 173h4v4h-4zM166 177h4v4h-4zM406 177h4v4h-4zM454 177h4v4h-4zM538 177h4v4h-4zM398 181h4v4h-4zM458 181h8v4h-8zM506 181h4v4h-4zM518 181h4v4h-4zM530 181h4v4h-4zM542 181h4v4h-4zM162 185h4v4h-4zM390 185h4v4h-4zM462 189h4v4h-4zM390 193h4v4h-4zM434 193h4v4h-4zM466 193h4v4h-4zM434 197h4v4h-4zM430 201h4v4h-4zM398 205h4v4h-4zM430 205h4v4h-4zM462 205h8v4h-8zM474 205h4v4h-4zM454 209h4v4h-4zM450 213h8v4h-8zM394 217h4v4h-4zM434 217h4v4h-4zM442 217h4v4h-4zM398 221h4v4h-4zM498 221h4v4h-4zM410 225h4v4h-4zM466 225h12v4h-12zM494 225h4v4h-4zM410 229h4v4h-4zM462 229h8v4h-8zM478 229h4v4h-4zM486 229h4v4h-4zM426 233h4v4h-4zM442 233h8v4h-8zM462 233h4v4h-4zM486 233h12v4h-12zM502 233h4v4h-4zM538 233h4v4h-4zM434 241h4v4h-4zM434 245h4v4h-4zM530 245h4v4h-4zM506 249h4v4h-4zM402 257h4v4h-4zM426 261h4v4h-4zM438 265h8v4h-8zM514 265h4v4h-4zM450 269h4v4h-4zM490 273h4v4h-4zM490 277h8v4h-8zM562 277h4v4h-4zM494 281h4v4h-4zM558 293h4v4h-4zM78 297h4v4h-4zM554 301h4v4h-4zM542 309h4v4h-4zM482 313h4v4h-4zM534 317h4v4h-4zM586 317h4v4h-4zM402 321h4v4h-4zM566 321h4v4h-4zM402 325h4v4h-4zM478 325h4v4h-4zM550 325h4v4h-4zM394 329h4v4h-4zM530 329h4v4h-4zM542 329h4v4h-4zM554 329h4v4h-4zM394 333h4v4h-4zM506 333h4v4h-4zM518 333h4v4h-4zM554 333h4v4h-4zM562 333h4v4h-4zM510 337h4v4h-4zM562 337h4v4h-4zM318 341h4v4h-4zM410 341h4v4h-4zM590 341h4v4h-4zM318 345h4v4h-4zM362 345h4v4h-4zM406 345h4v4h-4zM494 345h4v4h-4zM514 345h4v4h-4zM318 349h4v4h-4zM554 349h4v4h-4zM334 353h4v4h-4zM414 353h4v4h-4zM574 353h4v4h-4zM166 357h4v4h-4zM494 357h4v4h-4zM582 357h4v4h-4zM194 361h8v4h-8zM318 361h4v4h-4zM338 361h4v4h-4zM346 361h4v4h-4zM486 361h8v4h-8zM574 361h4v4h-4zM178 365h4v4h-4zM354 365h4v4h-4zM498 365h4v4h-4zM590 365h4v4h-4zM158 369h4v4h-4zM198 369h4v4h-4zM206 369h4v4h-4zM354 369h4v4h-4zM482 369h4v4h-4zM206 373h4v4h-4zM282 373h4v4h-4zM362 373h4v4h-4zM378 373h4v4h-4zM386 373h4v4h-4zM150 377h4v4h-4zM294 377h4v4h-4zM310 377h4v4h-4zM358 377h4v4h-4zM142 381h4v4h-4zM382 381h4v4h-4zM558 381h4v4h-4zM306 385h4v4h-4zM382 385h4v4h-4zM522 385h4v4h-4zM134 389h4v4h-4zM166 389h4v4h-4zM282 389h4v4h-4zM350 389h4v4h-4zM394 389h4v4h-4zM526 389h4v4h-4zM578 389h4v4h-4zM182 393h4v4h-4zM318 393h4v4h-4zM550 393h4v4h-4zM570 393h4v4h-4zM186 401h4v4h-4zM266 401h4v4h-4zM282 401h4v4h-4zM510 401h4v4h-4zM122 405h4v4h-4zM134 405h4v4h-4zM334 405h4v4h-4zM134 409h4v4h-4zM318 409h4v4h-4zM342 409h4v4h-4zM558 409h4v4h-4zM146 413h4v4h-4zM162 413h4v4h-4zM278 413h4v4h-4zM322 413h8v4h-8zM506 413h4v4h-4zM546 413h4v4h-4zM574 413h4v4h-4zM98 417h4v4h-4zM150 417h4v4h-4zM502 417h4v4h-4zM106 421h4v4h-4zM162 421h4v4h-4zM170 421h4v4h-4zM482 421h4v4h-4zM138 425h4v4h-4zM170 425h4v4h-4zM294 425h8v4h-8zM506 425h4v4h-4zM78 429h4v4h-4zM90 429h12v4h-12zM106 429h4v4h-4zM290 429h4v4h-4zM530 433h4v4h-4zM582 433h8v4h-8zM130 437h4v4h-4zM150 437h4v4h-4zM166 437h4v4h-4zM290 437h4v4h-4zM434 437h4v4h-4zM482 437h8v4h-8zM530 437h4v4h-4zM578 437h8v4h-8zM78 441h4v4h-4zM98 441h4v4h-4zM314 441h4v4h-4zM350 441h8v4h-8zM506 441h4v4h-4zM538 441h4v4h-4zM554 441h8v4h-8zM570 441h4v4h-4zM78 445h4v4h-4zM326 445h4v4h-4zM334 445h4v4h-4zM422 445h4v4h-4zM122 449h4v4h-4zM314 449h4v4h-4zM490 449h4v4h-4zM542 449h4v4h-4zM142 453h8v4h-8zM318 453h4v4h-4zM522 453h4v4h-4zM562 453h4v4h-4zM482 457h4v4h-4zM506 457h8v4h-8zM526 457h4v4h-4zM574 457h4v4h-4zM134 461h8v4h-8zM378 461h4v4h-4zM530 461h4v4h-4zM546 461h8v4h-8zM506 465h4v4h-4zM522 465h12v4h-12zM554 465h12v4h-12zM86 469h4v4h-4zM402 469h4v4h-4zM470 469h4v4h-4zM90 473h4v4h-4zM98 473h4v4h-4zM118 473h4v4h-4zM334 473h4v4h-4zM402 473h4v4h-4zM514 473h4v4h-4zM586 473h4v4h-4zM350 477h4v4h-4zM374 477h4v4h-4zM386 477h8v4h-8zM362 481h4v4h-4zM390 481h8v4h-8zM126 485h4v4h-4zM322 485h8v4h-8zM350 485h4v4h-4zM378 485h4v4h-4zM486 485h4v4h-4zM558 485h4v4h-4zM326 489h4v4h-4zM370 489h4v4h-4zM138 493h4v4h-4zM322 493h4v4h-4zM346 493h4v4h-4zM390 493h8v4h-8zM490 493h4v4h-4zM498 493h4v4h-4zM534 493h4v4h-4zM126 497h4v4h-4zM142 497h4v4h-4zM526 497h4v4h-4zM562 497h4v4h-4zM266 501h8v4h-8zM306 501h4v4h-4zM382 501h4v4h-4zM94 505h4v4h-4zM294 505h4v4h-4zM338 505h4v4h-4zM366 505h4v4h-4zM454 505h4v4h-4zM94 509h4v4h-4zM122 509h4v4h-4zM210 509h4v4h-4zM250 509h4v4h-4zM458 509h4v4h-4zM506 509h4v4h-4zM238 513h4v4h-4zM346 513h4v4h-4zM382 513h4v4h-4zM450 513h4v4h-4zM458 513h4v4h-4zM490 513h8v4h-8zM506 513h4v4h-4zM518 513h4v4h-4zM526 513h12v4h-12zM578 513h4v4h-4zM346 517h4v4h-4zM462 517h4v4h-4zM522 517h4v4h-4zM546 517h4v4h-4zM78 521h4v4h-4zM130 521h4v4h-4zM286 521h4v4h-4zM354 521h4v4h-4zM494 521h4v4h-4zM570 521h8v4h-8zM142 525h4v4h-4zM214 525h8v4h-8zM282 525h4v4h-4zM298 525h4v4h-4zM478 525h8v4h-8zM494 525h4v4h-4zM90 529h4v4h-4zM102 529h4v4h-4zM134 529h4v4h-4zM254 529h4v4h-4zM430 529h4v4h-4zM482 529h4v4h-4zM134 533h8v4h-8zM146 533h4v4h-4zM542 533h4v4h-4zM550 533h4v4h-4zM118 537h4v4h-4zM182 537h4v4h-4zM350 537h8v4h-8zM382 537h4v4h-4zM454 537h4v4h-4zM558 537h4v4h-4zM570 537h4v4h-4zM106 541h4v4h-4zM162 541h8v4h-8zM330 541h4v4h-4zM366 541h4v4h-4zM378 541h4v4h-4zM546 541h4v4h-4zM562 541h4v4h-4zM118 545h4v4h-4zM590 545h4v4h-4zM134 549h4v4h-4zM234 549h4v4h-4zM282 549h4v4h-4zM518 549h8v4h-8zM110 553h4v4h-4zM202 553h4v4h-4zM306 553h4v4h-4zM362 553h4v4h-4zM442 553h4v4h-4zM554 553h4v4h-4zM110 557h4v4h-4zM142 557h4v4h-4zM238 557h4v4h-4zM126 561h4v4h-4zM142 561h4v4h-4zM166 561h4v4h-4zM174 561h4v4h-4zM210 561h4v4h-4zM334 561h4v4h-4zM354 561h4v4h-4zM366 561h4v4h-4zM478 561h4v4h-4zM522 561h8v4h-8zM102 565h4v4h-4zM126 565h4v4h-4zM306 565h4v4h-4zM322 565h4v4h-4zM354 565h4v4h-4zM98 569h8v4h-8zM154 569h4v4h-4zM182 569h4v4h-4zM334 569h4v4h-4zM466 569h4v4h-4zM474 569h4v4h-4zM146 573h4v4h-4zM90 577h4v4h-4zM98 577h4v4h-4zM146 577h4v4h-4zM166 577h4v4h-4zM470 577h8v4h-8zM582 577h4v4h-4zM162 581h4v4h-4zM174 581h4v4h-4zM334 581h4v4h-4zM446 581h4v4h-4zM574 581h4v4h-4zM122 585h4v4h-4zM150 585h4v4h-4zM178 585h4v4h-4zM290 585h8v4h-8zM470 585h4v4h-4zM142 589h8v4h-8zM258 589h4v4h-4zM306 589h4v4h-4zM538 589h4v4h-4zM98 593h4v4h-4zM114 593h4v4h-4zM258 593h4v4h-4zM282 593h4v4h-4zM290 593h4v4h-4zM426 593h12v4h-12zM470 593h4v4h-4zM478 593h4v4h-4zM94 597h4v4h-4zM426 597h8v4h-8zM482 597h4v4h-4zM554 597h4v4h-4zM78 601h4v4h-4zM150 601h4v4h-4zM174 601h4v4h-4zM322 601h4v4h-4zM462 601h4v4h-4zM502 601h4v4h-4zM518 601h4v4h-4zM558 601h4v4h-4zM578 601h4v4h-4zM590 601h4v4h-4zM90 605h8v4h-8zM118 605h4v4h-4zM318 605h4v4h-4zM442 605h4v4h-4zM582 605h4v4h-4z"/><path fill="#67166e" d="M502 101h4v4h-4zM478 105h4v4h-4zM438 109h4v4h-4zM474 109h4v4h-4zM438 113h4v4h-4zM498 121h4v4h-4zM510 121h4v4h-4zM498 129h4v4h-4zM410 133h4v4h-4zM582 133h4v4h-4zM430 137h4v4h-4zM450 137h4v4h-4zM582 137h4v4h-4zM414 141h4v4h-4zM570 145h4v4h-4zM406 149h4v4h-4zM518 149h4v4h-4zM526 149h4v4h-4zM554 149h4v4h-4zM154 153h4v4h-4zM394 153h4v4h-4zM434 153h4v4h-4zM494 153h4v4h-4zM530 153h4v4h-4zM578 153h4v4h-4zM154 157h4v4h-4zM454 157h4v4h-4zM542 157h4v4h-4zM562 157h4v4h-4zM486 161h4v4h-4zM494 161h4v4h-4zM546 161h4v4h-4zM174 165h4v4h-4zM134 169h8v4h-8zM382 169h4v4h-4zM486 169h4v4h-4zM134 173h4v4h-4zM142 173h4v4h-4zM402 173h8v4h-8zM534 173h4v4h-4zM150 177h4v4h-4zM518 177h4v4h-4zM134 181h4v4h-4zM454 181h4v4h-4zM522 185h4v4h-4zM530 185h4v4h-4zM134 193h4v4h-4zM394 193h4v4h-4zM402 193h4v4h-4zM414 197h4v4h-4zM378 201h4v4h-4zM402 201h4v4h-4zM446 201h8v4h-8zM382 205h4v4h-4zM402 205h4v4h-4zM410 205h4v4h-4zM402 217h4v4h-4zM422 221h4v4h-4zM454 221h4v4h-4zM446 225h4v4h-4zM406 229h4v4h-4zM414 229h12v4h-12zM514 229h4v4h-4zM394 237h4v4h-4zM482 237h4v4h-4zM510 237h4v4h-4zM438 241h4v4h-4zM506 241h4v4h-4zM534 245h4v4h-4zM414 249h4v4h-4zM402 253h4v4h-4zM446 257h4v4h-4zM514 257h4v4h-4zM526 257h4v4h-4zM442 261h4v4h-4zM442 269h4v4h-4zM490 269h4v4h-4zM486 273h4v4h-4zM510 273h4v4h-4zM486 277h4v4h-4zM490 281h4v4h-4zM478 285h4v4h-4zM558 289h4v4h-4zM406 293h4v4h-4zM546 293h4v4h-4zM402 297h4v4h-4zM554 297h4v4h-4zM578 297h4v4h-4zM570 301h4v4h-4zM542 305h4v4h-4zM566 305h4v4h-4zM398 309h4v4h-4zM482 309h4v4h-4zM538 309h4v4h-4zM590 313h4v4h-4zM558 317h4v4h-4zM534 321h4v4h-4zM554 321h4v4h-4zM522 325h4v4h-4zM542 325h4v4h-4zM570 325h4v4h-4zM498 329h8v4h-8zM514 329h4v4h-4zM562 329h4v4h-4zM570 329h4v4h-4zM106 333h4v4h-4zM398 337h12v4h-12zM466 337h4v4h-4zM514 337h4v4h-4zM582 337h4v4h-4zM366 341h4v4h-4zM586 341h4v4h-4zM314 345h4v4h-4zM370 345h4v4h-4zM410 345h8v4h-8zM490 345h4v4h-4zM498 345h4v4h-4zM530 345h4v4h-4zM322 349h4v4h-4zM574 349h4v4h-4zM302 353h4v4h-4zM310 353h4v4h-4zM362 353h4v4h-4zM582 353h8v4h-8zM298 357h4v4h-4zM310 357h4v4h-4zM318 357h4v4h-4zM514 357h4v4h-4zM590 357h4v4h-4zM166 361h4v4h-4zM278 361h4v4h-4zM410 361h4v4h-4zM302 365h4v4h-4zM382 365h8v4h-8zM586 365h4v4h-4zM150 369h8v4h-8zM290 369h4v4h-4zM338 369h4v4h-4zM402 369h4v4h-4zM478 369h4v4h-4zM514 369h4v4h-4zM546 369h4v4h-4zM574 369h4v4h-4zM590 369h4v4h-4zM158 373h4v4h-4zM194 373h8v4h-8zM294 373h4v4h-4zM306 373h4v4h-4zM346 373h4v4h-4zM358 373h4v4h-4zM394 373h4v4h-4zM402 373h4v4h-4zM410 373h4v4h-4zM542 373h4v4h-4zM578 373h8v4h-8zM278 377h4v4h-4zM290 377h4v4h-4zM394 377h4v4h-4zM150 381h4v4h-4zM178 381h4v4h-4zM394 381h4v4h-4zM526 381h4v4h-4zM182 385h4v4h-4zM194 385h8v4h-8zM302 385h4v4h-4zM310 385h4v4h-4zM366 385h4v4h-4zM542 385h4v4h-4zM314 389h8v4h-8zM530 389h4v4h-4zM590 389h4v4h-4zM342 393h4v4h-4zM510 393h4v4h-4zM530 393h4v4h-4zM574 393h4v4h-4zM278 397h4v4h-4zM346 397h8v4h-8zM514 397h4v4h-4zM566 397h4v4h-4zM98 401h4v4h-4zM146 401h4v4h-4zM286 401h4v4h-4zM574 401h8v4h-8zM590 401h4v4h-4zM162 405h4v4h-4zM278 405h4v4h-4zM322 405h4v4h-4zM502 405h4v4h-4zM582 405h4v4h-4zM190 409h4v4h-4zM310 409h4v4h-4zM326 409h4v4h-4zM338 409h4v4h-4zM510 409h4v4h-4zM186 413h4v4h-4zM106 417h4v4h-4zM118 417h4v4h-4zM294 417h4v4h-4zM362 417h4v4h-4zM102 421h4v4h-4zM114 421h4v4h-4zM502 421h4v4h-4zM538 421h4v4h-4zM86 425h4v4h-4zM106 425h4v4h-4zM290 425h4v4h-4zM562 425h8v4h-8zM86 429h4v4h-4zM150 429h4v4h-4zM170 429h4v4h-4zM314 429h4v4h-4zM486 429h4v4h-4zM586 429h4v4h-4zM102 433h4v4h-4zM126 433h8v4h-8zM286 433h4v4h-4zM482 433h4v4h-4zM526 433h4v4h-4zM578 433h4v4h-4zM78 437h4v4h-4zM142 437h8v4h-8zM146 441h8v4h-8zM162 441h4v4h-4zM294 441h4v4h-4zM522 441h4v4h-4zM566 441h4v4h-4zM590 441h4v4h-4zM114 445h4v4h-4zM322 445h4v4h-4zM506 445h4v4h-4zM570 445h4v4h-4zM586 445h4v4h-4zM130 449h4v4h-4zM470 449h8v4h-8zM506 449h4v4h-4zM546 449h4v4h-4zM470 453h4v4h-4zM498 453h4v4h-4zM134 457h4v4h-4zM522 457h4v4h-4zM94 461h4v4h-4zM346 461h4v4h-4zM506 461h4v4h-4zM514 461h4v4h-4zM562 461h4v4h-4zM574 461h4v4h-4zM110 465h4v4h-4zM486 465h4v4h-4zM550 465h4v4h-4zM110 469h4v4h-4zM386 469h4v4h-4zM398 469h4v4h-4zM510 469h4v4h-4zM558 469h4v4h-4zM582 469h4v4h-4zM122 473h8v4h-8zM358 473h4v4h-4zM562 473h4v4h-4zM78 477h4v4h-4zM498 477h4v4h-4zM522 477h4v4h-4zM542 477h4v4h-4zM550 477h4v4h-4zM562 477h4v4h-4zM570 477h4v4h-4zM482 481h4v4h-4zM502 481h8v4h-8zM578 481h4v4h-4zM122 485h4v4h-4zM522 485h4v4h-4zM550 485h4v4h-4zM390 489h4v4h-4zM402 489h4v4h-4zM502 489h4v4h-4zM534 489h4v4h-4zM318 493h4v4h-4zM326 493h4v4h-4zM358 493h4v4h-4zM82 497h4v4h-4zM106 497h4v4h-4zM462 497h4v4h-4zM550 497h4v4h-4zM138 501h4v4h-4zM90 505h4v4h-4zM98 505h4v4h-4zM118 505h4v4h-4zM214 505h4v4h-4zM266 505h4v4h-4zM342 505h8v4h-8zM114 509h4v4h-4zM282 509h4v4h-4zM382 509h4v4h-4zM454 509h4v4h-4zM518 509h4v4h-4zM534 509h8v4h-8zM558 509h8v4h-8zM590 509h4v4h-4zM126 513h4v4h-4zM146 513h4v4h-4zM226 513h4v4h-4zM258 513h4v4h-4zM538 513h4v4h-4zM126 517h4v4h-4zM138 517h8v4h-8zM222 517h4v4h-4zM334 517h4v4h-4zM458 517h4v4h-4zM510 517h4v4h-4zM518 517h4v4h-4zM562 517h4v4h-4zM582 517h4v4h-4zM98 521h4v4h-4zM218 521h4v4h-4zM258 521h4v4h-4zM282 521h4v4h-4zM374 521h4v4h-4zM462 521h4v4h-4zM90 525h4v4h-4zM118 525h4v4h-4zM490 525h4v4h-4zM550 525h4v4h-4zM94 529h8v4h-8zM210 529h4v4h-4zM230 529h4v4h-4zM342 529h4v4h-4zM350 529h4v4h-4zM362 529h4v4h-4zM454 529h4v4h-4zM478 529h4v4h-4zM526 529h4v4h-4zM102 533h4v4h-4zM142 533h4v4h-4zM246 533h4v4h-4zM286 533h4v4h-4zM294 533h8v4h-8zM306 533h4v4h-4zM350 533h4v4h-4zM366 533h4v4h-4zM386 533h4v4h-4zM454 533h4v4h-4zM526 533h4v4h-4zM178 537h4v4h-4zM234 537h4v4h-4zM330 537h4v4h-4zM446 537h8v4h-8zM458 537h4v4h-4zM562 537h4v4h-4zM118 541h4v4h-4zM130 541h4v4h-4zM142 541h4v4h-4zM290 541h4v4h-4zM370 541h8v4h-8zM442 541h4v4h-4zM450 541h4v4h-4zM518 541h4v4h-4zM570 541h4v4h-4zM106 545h12v4h-12zM134 545h4v4h-4zM218 545h4v4h-4zM234 545h4v4h-4zM470 545h4v4h-4zM542 545h4v4h-4zM562 545h8v4h-8zM498 549h4v4h-4zM106 553h4v4h-4zM134 553h4v4h-4zM158 553h4v4h-4zM334 553h4v4h-4zM494 553h4v4h-4zM522 553h8v4h-8zM106 557h4v4h-4zM166 557h4v4h-4zM262 557h4v4h-4zM302 557h4v4h-4zM310 557h4v4h-4zM330 557h4v4h-4zM430 557h4v4h-4zM526 557h4v4h-4zM534 557h4v4h-4zM582 557h8v4h-8zM102 561h8v4h-8zM162 561h4v4h-4zM194 561h4v4h-4zM226 561h4v4h-4zM278 561h8v4h-8zM298 561h4v4h-4zM330 561h4v4h-4zM346 561h4v4h-4zM502 561h8v4h-8zM582 561h4v4h-4zM106 565h4v4h-4zM138 565h4v4h-4zM222 565h4v4h-4zM238 565h4v4h-4zM266 565h4v4h-4zM298 565h4v4h-4zM454 565h4v4h-4zM138 569h4v4h-4zM226 569h4v4h-4zM458 569h8v4h-8zM78 573h4v4h-4zM86 573h4v4h-4zM138 573h4v4h-4zM194 573h8v4h-8zM318 573h8v4h-8zM170 577h4v4h-4zM278 577h4v4h-4zM294 577h4v4h-4zM586 577h4v4h-4zM146 581h4v4h-4zM154 581h8v4h-8zM170 581h4v4h-4zM178 581h4v4h-4zM186 581h4v4h-4zM322 581h4v4h-4zM442 581h4v4h-4zM474 581h4v4h-4zM578 581h4v4h-4zM146 585h4v4h-4zM270 585h4v4h-4zM310 585h4v4h-4zM318 585h4v4h-4zM474 585h8v4h-8zM574 585h4v4h-4zM418 589h4v4h-4zM426 589h4v4h-4zM474 589h4v4h-4zM574 589h4v4h-4zM78 593h4v4h-4zM102 593h4v4h-4zM170 593h4v4h-4zM286 593h4v4h-4zM402 593h4v4h-4zM474 593h4v4h-4zM506 593h4v4h-4zM122 597h4v4h-4zM166 597h4v4h-4zM306 597h4v4h-4zM402 597h4v4h-4zM422 597h4v4h-4zM446 597h8v4h-8zM94 601h4v4h-4zM326 601h4v4h-4zM422 601h4v4h-4zM446 601h8v4h-8zM522 601h4v4h-4zM126 605h4v4h-4zM150 605h4v4h-4zM298 605h4v4h-4zM434 605h4v4h-4z"/><path fill="#6a176e" d="M514 105h4v4h-4zM434 113h4v4h-4zM462 113h4v4h-4zM462 117h4v4h-4zM514 117h4v4h-4zM526 117h4v4h-4zM538 117h8v4h-8zM434 121h4v4h-4zM514 121h4v4h-4zM498 125h4v4h-4zM506 129h4v4h-4zM494 133h4v4h-4zM578 133h4v4h-4zM462 137h4v4h-4zM494 137h4v4h-4zM514 137h4v4h-4zM546 137h4v4h-4zM562 137h4v4h-4zM586 137h4v4h-4zM478 141h4v4h-4zM586 141h4v4h-4zM178 145h4v4h-4zM386 145h4v4h-4zM406 145h4v4h-4zM434 145h4v4h-4zM470 145h4v4h-4zM502 145h4v4h-4zM510 145h4v4h-4zM582 145h4v4h-4zM590 145h4v4h-4zM166 149h4v4h-4zM506 149h4v4h-4zM522 149h4v4h-4zM546 149h8v4h-8zM426 157h4v4h-4zM446 157h4v4h-4zM554 161h8v4h-8zM174 169h4v4h-4zM378 169h4v4h-4zM462 173h4v4h-4zM390 177h4v4h-4zM450 181h4v4h-4zM466 181h4v4h-4zM534 181h8v4h-8zM382 185h4v4h-4zM398 185h4v4h-4zM426 185h8v4h-8zM166 189h4v4h-4zM390 189h4v4h-4zM458 189h4v4h-4zM482 189h4v4h-4zM442 193h4v4h-4zM478 197h4v4h-4zM378 205h4v4h-4zM414 205h8v4h-8zM382 209h4v4h-4zM458 213h12v4h-12zM474 213h4v4h-4zM418 217h4v4h-4zM390 221h4v4h-4zM434 221h4v4h-4zM438 225h4v4h-4zM502 225h4v4h-4zM398 237h4v4h-4zM422 237h4v4h-4zM442 237h4v4h-4zM518 241h4v4h-4zM410 245h4v4h-4zM442 245h4v4h-4zM434 253h4v4h-4zM530 253h4v4h-4zM506 257h4v4h-4zM538 261h4v4h-4zM434 265h4v4h-4zM474 265h4v4h-4zM538 265h4v4h-4zM446 269h4v4h-4zM470 269h4v4h-4zM518 269h4v4h-4zM474 273h4v4h-4zM498 277h4v4h-4zM494 285h4v4h-4zM482 289h4v4h-4zM546 289h4v4h-4zM562 289h4v4h-4zM554 293h4v4h-4zM470 297h4v4h-4zM558 297h4v4h-4zM530 301h4v4h-4zM542 301h4v4h-4zM558 301h4v4h-4zM406 305h4v4h-4zM486 305h4v4h-4zM534 305h4v4h-4zM554 305h4v4h-4zM570 309h4v4h-4zM590 309h4v4h-4zM406 313h4v4h-4zM526 313h4v4h-4zM586 313h4v4h-4zM110 317h4v4h-4zM390 317h4v4h-4zM518 317h8v4h-8zM578 317h4v4h-4zM558 321h4v4h-4zM378 325h4v4h-4zM482 325h4v4h-4zM498 325h8v4h-8zM554 325h4v4h-4zM486 329h4v4h-4zM550 329h4v4h-4zM542 333h4v4h-4zM566 333h4v4h-4zM326 337h4v4h-4zM374 337h4v4h-4zM382 337h4v4h-4zM474 337h8v4h-8zM518 337h4v4h-4zM526 337h4v4h-4zM314 341h4v4h-4zM582 341h4v4h-4zM354 345h4v4h-4zM366 345h4v4h-4zM306 349h4v4h-4zM362 349h4v4h-4zM482 349h8v4h-8zM166 353h4v4h-4zM282 353h4v4h-4zM294 353h4v4h-4zM326 353h4v4h-4zM558 353h4v4h-4zM178 357h4v4h-4zM194 357h4v4h-4zM330 357h8v4h-8zM558 357h4v4h-4zM586 357h4v4h-4zM302 361h4v4h-4zM478 361h8v4h-8zM522 361h4v4h-4zM582 361h8v4h-8zM290 365h4v4h-4zM306 365h4v4h-4zM358 365h4v4h-4zM366 365h4v4h-4zM470 365h4v4h-4zM314 369h4v4h-4zM382 369h4v4h-4zM290 373h4v4h-4zM338 373h8v4h-8zM398 373h4v4h-4zM478 373h4v4h-4zM586 373h4v4h-4zM170 377h4v4h-4zM398 377h8v4h-8zM414 377h4v4h-4zM510 377h4v4h-4zM278 381h4v4h-4zM506 381h4v4h-4zM566 381h4v4h-4zM134 385h4v4h-4zM142 385h4v4h-4zM378 385h4v4h-4zM394 385h8v4h-8zM582 385h4v4h-4zM138 389h4v4h-4zM162 389h4v4h-4zM178 389h4v4h-4zM382 389h4v4h-4zM390 389h4v4h-4zM538 389h8v4h-8zM586 389h4v4h-4zM150 393h4v4h-4zM170 393h4v4h-4zM398 393h4v4h-4zM490 393h8v4h-8zM554 393h4v4h-4zM578 393h4v4h-4zM130 397h4v4h-4zM274 397h4v4h-4zM282 397h4v4h-4zM306 397h4v4h-4zM322 397h4v4h-4zM354 397h4v4h-4zM574 397h4v4h-4zM94 401h4v4h-4zM130 401h4v4h-4zM274 401h8v4h-8zM310 401h4v4h-4zM582 401h4v4h-4zM178 405h4v4h-4zM510 405h4v4h-4zM530 405h8v4h-8zM558 405h4v4h-4zM322 409h4v4h-4zM562 409h4v4h-4zM150 413h4v4h-4zM350 413h4v4h-4zM534 413h4v4h-4zM110 421h4v4h-4zM78 425h4v4h-4zM538 425h4v4h-4zM582 425h4v4h-4zM82 429h4v4h-4zM102 429h4v4h-4zM142 429h4v4h-4zM178 429h4v4h-4zM530 429h4v4h-4zM550 429h4v4h-4zM86 433h4v4h-4zM174 433h4v4h-4zM434 433h4v4h-4zM86 437h4v4h-4zM358 437h4v4h-4zM498 437h4v4h-4zM562 437h4v4h-4zM570 437h4v4h-4zM82 441h4v4h-4zM502 441h4v4h-4zM338 445h4v4h-4zM154 449h4v4h-4zM318 449h4v4h-4zM478 449h4v4h-4zM494 449h4v4h-4zM522 449h4v4h-4zM582 449h4v4h-4zM314 453h4v4h-4zM430 453h4v4h-4zM514 453h4v4h-4zM538 453h4v4h-4zM550 453h4v4h-4zM374 457h4v4h-4zM414 457h4v4h-4zM502 457h4v4h-4zM542 457h4v4h-4zM86 461h4v4h-4zM126 461h4v4h-4zM102 465h4v4h-4zM386 465h4v4h-4zM510 465h8v4h-8zM546 465h4v4h-4zM586 465h4v4h-4zM98 469h4v4h-4zM382 469h4v4h-4zM474 469h4v4h-4zM498 469h4v4h-4zM542 469h4v4h-4zM378 473h4v4h-4zM466 473h4v4h-4zM114 477h4v4h-4zM134 477h4v4h-4zM358 477h4v4h-4zM406 477h4v4h-4zM478 477h4v4h-4zM514 477h4v4h-4zM126 481h8v4h-8zM358 481h4v4h-4zM366 481h4v4h-4zM486 481h4v4h-4zM522 481h4v4h-4zM574 481h4v4h-4zM358 485h4v4h-4zM366 485h4v4h-4zM394 485h4v4h-4zM502 485h4v4h-4zM554 485h4v4h-4zM354 489h4v4h-4zM134 493h4v4h-4zM466 493h4v4h-4zM494 493h4v4h-4zM562 493h4v4h-4zM102 497h4v4h-4zM314 497h4v4h-4zM394 497h4v4h-4zM538 497h4v4h-4zM134 501h4v4h-4zM210 501h4v4h-4zM466 501h4v4h-4zM562 501h4v4h-4zM206 505h4v4h-4zM282 505h4v4h-4zM466 505h8v4h-8zM478 505h4v4h-4zM514 505h4v4h-4zM554 505h4v4h-4zM110 509h4v4h-4zM230 509h8v4h-8zM278 509h4v4h-4zM442 509h4v4h-4zM514 509h4v4h-4zM114 513h4v4h-4zM302 513h4v4h-4zM522 513h4v4h-4zM558 513h4v4h-4zM290 517h4v4h-4zM386 517h4v4h-4zM126 521h4v4h-4zM214 521h4v4h-4zM254 521h4v4h-4zM370 521h4v4h-4zM378 521h4v4h-4zM490 521h4v4h-4zM518 521h4v4h-4zM550 521h4v4h-4zM566 521h4v4h-4zM86 525h4v4h-4zM134 525h4v4h-4zM246 525h8v4h-8zM302 525h4v4h-4zM310 525h4v4h-4zM218 529h4v4h-4zM306 529h4v4h-4zM354 529h4v4h-4zM390 529h4v4h-4zM542 529h4v4h-4zM98 533h4v4h-4zM326 533h4v4h-4zM374 533h4v4h-4zM458 533h8v4h-8zM590 533h4v4h-4zM114 537h4v4h-4zM130 537h4v4h-4zM142 537h4v4h-4zM226 537h4v4h-4zM290 537h4v4h-4zM302 537h4v4h-4zM366 537h4v4h-4zM550 537h8v4h-8zM574 537h4v4h-4zM590 537h4v4h-4zM222 541h4v4h-4zM382 541h4v4h-4zM514 541h4v4h-4zM582 541h4v4h-4zM78 545h4v4h-4zM182 545h4v4h-4zM290 545h4v4h-4zM506 545h8v4h-8zM146 549h4v4h-4zM158 549h4v4h-4zM278 549h4v4h-4zM286 549h4v4h-4zM326 549h4v4h-4zM426 549h4v4h-4zM90 553h4v4h-4zM130 553h4v4h-4zM310 553h4v4h-4zM326 553h4v4h-4zM450 553h4v4h-4zM466 553h4v4h-4zM542 553h4v4h-4zM126 557h4v4h-4zM222 557h4v4h-4zM266 557h4v4h-4zM338 557h4v4h-4zM346 557h4v4h-4zM450 557h4v4h-4zM474 557h4v4h-4zM506 557h4v4h-4zM518 557h4v4h-4zM170 561h4v4h-4zM266 561h4v4h-4zM450 561h4v4h-4zM474 561h4v4h-4zM262 565h4v4h-4zM458 565h4v4h-4zM110 569h4v4h-4zM150 569h4v4h-4zM230 569h8v4h-8zM306 569h4v4h-4zM426 569h4v4h-4zM470 569h4v4h-4zM510 569h4v4h-4zM150 573h8v4h-8zM162 573h4v4h-4zM178 573h4v4h-4zM210 573h4v4h-4zM330 573h4v4h-4zM450 573h4v4h-4zM482 573h4v4h-4zM110 577h8v4h-8zM318 577h4v4h-4zM414 577h4v4h-4zM438 577h4v4h-4zM486 577h4v4h-4zM94 581h4v4h-4zM122 581h4v4h-4zM290 581h4v4h-4zM314 581h4v4h-4zM414 581h4v4h-4zM430 581h4v4h-4zM570 581h4v4h-4zM278 585h4v4h-4zM314 585h4v4h-4zM414 585h4v4h-4zM486 585h4v4h-4zM554 585h4v4h-4zM562 585h4v4h-4zM122 589h4v4h-4zM174 589h4v4h-4zM186 589h4v4h-4zM410 589h8v4h-8zM166 593h4v4h-4zM186 593h4v4h-4zM254 593h4v4h-4zM502 593h4v4h-4zM574 593h4v4h-4zM326 597h4v4h-4zM434 597h4v4h-4zM490 597h4v4h-4zM506 597h4v4h-4zM550 597h4v4h-4zM86 601h4v4h-4zM142 601h8v4h-8zM310 601h4v4h-4zM318 601h4v4h-4zM586 601h4v4h-4zM314 605h4v4h-4zM450 605h4v4h-4z"/><path fill="#6d186e" d="M478 93h4v4h-4zM446 97h4v4h-4zM558 97h4v4h-4zM446 101h4v4h-4zM558 101h4v4h-4zM442 109h4v4h-4zM510 109h4v4h-4zM430 113h4v4h-4zM466 113h4v4h-4zM438 117h4v4h-4zM450 117h4v4h-4zM510 117h4v4h-4zM518 117h8v4h-8zM390 121h4v4h-4zM438 121h8v4h-8zM482 121h4v4h-4zM506 121h4v4h-4zM534 121h4v4h-4zM474 125h4v4h-4zM502 125h4v4h-4zM446 129h4v4h-4zM534 129h8v4h-8zM414 133h4v4h-4zM434 133h4v4h-4zM450 133h4v4h-4zM498 133h4v4h-4zM518 133h4v4h-4zM558 133h4v4h-4zM422 137h4v4h-4zM550 137h8v4h-8zM406 141h4v4h-4zM422 141h4v4h-4zM482 141h4v4h-4zM502 141h4v4h-4zM166 145h4v4h-4zM414 145h4v4h-4zM422 145h4v4h-4zM478 145h4v4h-4zM486 145h4v4h-4zM418 149h4v4h-4zM426 149h4v4h-4zM494 149h4v4h-4zM530 149h4v4h-4zM574 149h4v4h-4zM178 153h4v4h-4zM422 153h4v4h-4zM430 153h4v4h-4zM462 153h4v4h-4zM558 157h4v4h-4zM386 161h4v4h-4zM450 161h8v4h-8zM454 165h8v4h-8zM142 169h4v4h-4zM390 169h4v4h-4zM422 169h4v4h-4zM394 173h4v4h-4zM422 173h4v4h-4zM138 177h4v4h-4zM394 177h8v4h-8zM498 177h4v4h-4zM138 181h4v4h-4zM382 181h4v4h-4zM486 181h4v4h-4zM166 185h4v4h-4zM442 185h4v4h-4zM458 185h4v4h-4zM510 185h4v4h-4zM130 189h4v4h-4zM394 189h4v4h-4zM402 189h4v4h-4zM434 189h4v4h-4zM442 189h4v4h-4zM486 189h4v4h-4zM454 193h4v4h-4zM482 193h4v4h-4zM390 197h4v4h-4zM454 197h4v4h-4zM454 201h4v4h-4zM394 205h4v4h-4zM394 209h4v4h-4zM450 209h4v4h-4zM418 213h4v4h-4zM490 213h4v4h-4zM458 217h4v4h-4zM438 221h8v4h-8zM466 221h4v4h-4zM482 221h4v4h-4zM494 221h4v4h-4zM502 221h4v4h-4zM450 225h4v4h-4zM478 225h4v4h-4zM490 225h4v4h-4zM542 225h4v4h-4zM542 229h4v4h-4zM510 233h4v4h-4zM582 233h4v4h-4zM442 241h4v4h-4zM418 253h4v4h-4zM458 257h4v4h-4zM514 261h4v4h-4zM426 265h8v4h-8zM534 265h4v4h-4zM418 269h4v4h-4zM494 269h4v4h-4zM102 273h8v4h-8zM410 273h4v4h-4zM470 273h4v4h-4zM494 273h4v4h-4zM502 273h8v4h-8zM486 281h4v4h-4zM486 285h4v4h-4zM542 285h4v4h-4zM558 285h4v4h-4zM486 289h4v4h-4zM538 289h4v4h-4zM78 301h4v4h-4zM398 301h4v4h-4zM394 309h4v4h-4zM490 309h4v4h-4zM566 309h4v4h-4zM550 313h4v4h-4zM570 313h8v4h-8zM478 317h4v4h-4zM110 321h4v4h-4zM310 321h4v4h-4zM478 321h4v4h-4zM522 321h4v4h-4zM382 325h4v4h-4zM558 325h4v4h-4zM322 329h4v4h-4zM558 329h4v4h-4zM482 333h4v4h-4zM546 333h4v4h-4zM522 337h4v4h-4zM586 337h4v4h-4zM382 341h4v4h-4zM478 341h4v4h-4zM530 341h4v4h-4zM578 341h4v4h-4zM298 345h4v4h-4zM310 345h4v4h-4zM350 345h4v4h-4zM478 345h4v4h-4zM574 345h4v4h-4zM350 349h4v4h-4zM530 349h4v4h-4zM482 353h4v4h-4zM518 353h12v4h-12zM550 353h4v4h-4zM186 357h4v4h-4zM206 357h4v4h-4zM274 357h4v4h-4zM286 357h4v4h-4zM414 357h4v4h-4zM526 357h4v4h-4zM366 361h4v4h-4zM374 361h4v4h-4zM314 365h4v4h-4zM334 365h4v4h-4zM370 365h4v4h-4zM486 365h4v4h-4zM378 369h4v4h-4zM498 369h4v4h-4zM538 369h4v4h-4zM550 369h4v4h-4zM150 373h4v4h-4zM286 373h4v4h-4zM550 373h4v4h-4zM174 377h4v4h-4zM202 377h8v4h-8zM330 377h4v4h-4zM342 377h4v4h-4zM370 377h4v4h-4zM406 377h4v4h-4zM542 377h4v4h-4zM130 381h4v4h-4zM198 381h4v4h-4zM330 381h4v4h-4zM406 381h4v4h-4zM522 381h4v4h-4zM546 381h4v4h-4zM178 385h4v4h-4zM270 385h4v4h-4zM390 385h4v4h-4zM506 385h4v4h-4zM578 385h4v4h-4zM398 389h4v4h-4zM546 389h4v4h-4zM574 389h4v4h-4zM142 393h4v4h-4zM346 393h4v4h-4zM366 393h4v4h-4zM534 393h4v4h-4zM178 397h4v4h-4zM186 397h4v4h-4zM198 397h4v4h-4zM326 397h4v4h-4zM370 397h4v4h-4zM534 397h4v4h-4zM134 401h4v4h-4zM322 401h4v4h-4zM530 401h4v4h-4zM538 401h4v4h-4zM562 401h4v4h-4zM194 405h4v4h-4zM342 405h4v4h-4zM562 405h4v4h-4zM90 409h4v4h-4zM162 409h4v4h-4zM306 409h4v4h-4zM546 409h4v4h-4zM578 409h4v4h-4zM586 409h4v4h-4zM114 413h4v4h-4zM270 413h4v4h-4zM306 413h4v4h-4zM482 413h4v4h-4zM510 413h4v4h-4zM550 413h4v4h-4zM582 413h4v4h-4zM154 417h4v4h-4zM178 417h4v4h-4zM562 417h4v4h-4zM574 417h4v4h-4zM486 421h4v4h-4zM554 421h8v4h-8zM102 425h4v4h-4zM174 425h8v4h-8zM354 425h4v4h-4zM510 425h4v4h-4zM570 425h4v4h-4zM146 429h4v4h-4zM174 429h4v4h-4zM430 429h4v4h-4zM502 429h8v4h-8zM526 429h4v4h-4zM78 433h4v4h-4zM150 433h4v4h-4zM290 433h4v4h-4zM506 433h4v4h-4zM538 433h4v4h-4zM546 433h4v4h-4zM574 433h4v4h-4zM506 437h4v4h-4zM534 437h4v4h-4zM170 441h4v4h-4zM298 441h4v4h-4zM346 441h4v4h-4zM306 445h8v4h-8zM342 445h4v4h-4zM418 445h4v4h-4zM482 445h8v4h-8zM590 445h4v4h-4zM126 449h4v4h-4zM322 449h4v4h-4zM330 449h4v4h-4zM458 449h8v4h-8zM498 449h4v4h-4zM530 449h4v4h-4zM126 453h8v4h-8zM362 453h4v4h-4zM374 453h4v4h-4zM466 453h4v4h-4zM502 453h4v4h-4zM518 453h4v4h-4zM526 453h4v4h-4zM366 457h4v4h-4zM378 457h4v4h-4zM350 465h4v4h-4zM378 465h4v4h-4zM398 465h4v4h-4zM102 469h4v4h-4zM478 469h8v4h-8zM102 473h8v4h-8zM574 473h4v4h-4zM94 477h4v4h-4zM370 477h4v4h-4zM474 477h4v4h-4zM518 477h4v4h-4zM566 477h4v4h-4zM86 481h4v4h-4zM350 481h4v4h-4zM370 481h8v4h-8zM518 481h4v4h-4zM554 481h8v4h-8zM582 481h4v4h-4zM362 485h4v4h-4zM370 485h4v4h-4zM470 485h4v4h-4zM490 485h4v4h-4zM318 489h4v4h-4zM362 489h4v4h-4zM102 493h4v4h-4zM402 493h4v4h-4zM570 493h4v4h-4zM134 497h4v4h-4zM270 497h4v4h-4zM458 497h4v4h-4zM274 501h4v4h-4zM574 501h4v4h-4zM110 505h4v4h-4zM138 505h4v4h-4zM262 505h4v4h-4zM270 505h12v4h-12zM474 505h4v4h-4zM542 505h4v4h-4zM262 509h4v4h-4zM302 509h4v4h-4zM342 509h4v4h-4zM390 509h4v4h-4zM446 509h4v4h-4zM510 509h4v4h-4zM530 509h4v4h-4zM82 513h4v4h-4zM118 513h4v4h-4zM154 513h4v4h-4zM298 513h4v4h-4zM582 513h4v4h-4zM102 517h8v4h-8zM254 517h4v4h-4zM286 517h4v4h-4zM378 517h4v4h-4zM514 517h4v4h-4zM550 517h4v4h-4zM82 521h4v4h-4zM90 521h4v4h-4zM102 521h4v4h-4zM118 521h4v4h-4zM262 521h4v4h-4zM346 521h4v4h-4zM366 521h4v4h-4zM454 521h4v4h-4zM510 521h4v4h-4zM78 525h4v4h-4zM150 525h4v4h-4zM210 525h4v4h-4zM258 525h4v4h-4zM390 525h8v4h-8zM454 525h4v4h-4zM514 525h4v4h-4zM142 529h4v4h-4zM214 529h4v4h-4zM238 529h4v4h-4zM282 529h4v4h-4zM294 529h4v4h-4zM302 529h4v4h-4zM358 529h4v4h-4zM530 529h4v4h-4zM538 529h4v4h-4zM162 533h4v4h-4zM178 533h4v4h-4zM226 533h4v4h-4zM238 533h4v4h-4zM270 533h4v4h-4zM342 533h4v4h-4zM358 533h8v4h-8zM370 533h4v4h-4zM466 533h4v4h-4zM162 537h4v4h-4zM206 537h8v4h-8zM230 537h4v4h-4zM314 537h8v4h-8zM378 537h4v4h-4zM510 537h4v4h-4zM518 537h4v4h-4zM526 537h4v4h-4zM246 541h4v4h-4zM294 541h4v4h-4zM446 541h4v4h-4zM522 541h4v4h-4zM130 545h4v4h-4zM158 545h4v4h-4zM202 545h4v4h-4zM382 545h4v4h-4zM426 545h4v4h-4zM522 545h4v4h-4zM534 545h4v4h-4zM554 545h4v4h-4zM570 545h4v4h-4zM106 549h8v4h-8zM154 549h4v4h-4zM290 549h4v4h-4zM550 549h4v4h-4zM338 553h4v4h-4zM478 553h4v4h-4zM546 553h8v4h-8zM130 557h4v4h-4zM158 557h4v4h-4zM174 557h4v4h-4zM198 557h4v4h-4zM322 557h4v4h-4zM362 557h4v4h-4zM502 557h4v4h-4zM514 557h4v4h-4zM530 557h4v4h-4zM578 557h4v4h-4zM590 557h4v4h-4zM222 561h4v4h-4zM350 561h4v4h-4zM370 561h4v4h-4zM514 561h4v4h-4zM530 561h4v4h-4zM254 565h4v4h-4zM282 565h4v4h-4zM318 565h4v4h-4zM334 565h4v4h-4zM418 565h8v4h-8zM474 565h4v4h-4zM586 565h4v4h-4zM106 569h4v4h-4zM186 569h4v4h-4zM198 569h4v4h-4zM430 569h4v4h-4zM530 569h4v4h-4zM158 573h4v4h-4zM174 573h4v4h-4zM298 573h4v4h-4zM438 573h4v4h-4zM582 573h4v4h-4zM102 577h4v4h-4zM138 577h4v4h-4zM570 577h4v4h-4zM262 581h8v4h-8zM278 581h4v4h-4zM330 581h4v4h-4zM482 581h8v4h-8zM526 581h4v4h-4zM554 581h4v4h-4zM562 581h4v4h-4zM170 585h4v4h-4zM258 585h4v4h-4zM418 585h4v4h-4zM550 585h4v4h-4zM558 585h4v4h-4zM590 585h4v4h-4zM154 589h8v4h-8zM250 589h4v4h-4zM286 589h4v4h-4zM326 589h4v4h-4zM494 589h4v4h-4zM558 589h4v4h-4zM158 593h4v4h-4zM262 593h4v4h-4zM490 593h4v4h-4zM554 593h4v4h-4zM570 593h4v4h-4zM578 593h4v4h-4zM98 597h4v4h-4zM186 597h4v4h-4zM322 597h4v4h-4zM346 597h4v4h-4zM398 597h4v4h-4zM518 597h4v4h-4zM90 601h4v4h-4zM98 601h4v4h-4zM162 601h4v4h-4zM306 601h4v4h-4zM314 601h4v4h-4zM414 601h4v4h-4zM470 601h4v4h-4zM478 601h8v4h-8zM526 601h4v4h-4zM98 605h4v4h-4zM170 605h4v4h-4zM294 605h4v4h-4zM474 605h4v4h-4zM486 605h4v4h-4zM514 605h4v4h-4z"/><path fill="#71196e" d="M362 93h4v4h-4zM474 97h4v4h-4zM506 101h4v4h-4zM554 101h4v4h-4zM434 105h4v4h-4zM502 105h4v4h-4zM414 113h4v4h-4zM450 113h12v4h-12zM510 113h4v4h-4zM550 113h4v4h-4zM434 117h4v4h-4zM498 117h4v4h-4zM534 117h4v4h-4zM554 117h8v4h-8zM450 121h4v4h-4zM490 121h4v4h-4zM502 121h4v4h-4zM446 125h8v4h-8zM522 125h4v4h-4zM538 125h4v4h-4zM450 129h4v4h-4zM526 129h8v4h-8zM562 129h4v4h-4zM586 129h4v4h-4zM454 133h4v4h-4zM402 137h4v4h-4zM410 137h4v4h-4zM510 137h4v4h-4zM566 137h4v4h-4zM582 141h4v4h-4zM394 145h4v4h-4zM386 149h4v4h-4zM398 149h4v4h-4zM562 149h4v4h-4zM406 153h4v4h-4zM590 153h4v4h-4zM158 157h4v4h-4zM394 157h4v4h-4zM450 157h4v4h-4zM502 157h4v4h-4zM546 157h4v4h-4zM382 161h4v4h-4zM538 161h8v4h-8zM522 165h4v4h-4zM578 165h8v4h-8zM454 169h4v4h-4zM146 173h4v4h-4zM454 173h4v4h-4zM518 173h4v4h-4zM546 173h8v4h-8zM174 177h4v4h-4zM402 177h4v4h-4zM442 177h4v4h-4zM458 177h4v4h-4zM470 177h8v4h-8zM522 177h4v4h-4zM386 181h4v4h-4zM490 181h4v4h-4zM550 181h4v4h-4zM454 185h4v4h-4zM162 189h4v4h-4zM430 189h4v4h-4zM454 189h4v4h-4zM478 189h4v4h-4zM130 193h4v4h-4zM138 193h4v4h-4zM474 193h4v4h-4zM486 193h4v4h-4zM494 193h4v4h-4zM378 197h4v4h-4zM402 197h4v4h-4zM398 201h4v4h-4zM414 201h4v4h-4zM478 201h4v4h-4zM438 205h4v4h-4zM418 209h4v4h-4zM430 209h4v4h-4zM394 213h4v4h-4zM406 213h4v4h-4zM446 213h4v4h-4zM410 217h4v4h-4zM446 217h4v4h-4zM462 217h4v4h-4zM482 217h4v4h-4zM402 221h4v4h-4zM446 221h4v4h-4zM506 221h4v4h-4zM406 225h4v4h-4zM482 225h4v4h-4zM502 229h4v4h-4zM406 233h4v4h-4zM422 233h4v4h-4zM506 237h4v4h-4zM510 241h4v4h-4zM538 245h4v4h-4zM410 253h4v4h-4zM422 253h4v4h-4zM506 253h4v4h-4zM534 253h4v4h-4zM410 257h4v4h-4zM534 261h4v4h-4zM446 265h4v4h-4zM102 269h4v4h-4zM414 269h4v4h-4zM518 273h4v4h-4zM566 277h4v4h-4zM498 281h4v4h-4zM482 285h4v4h-4zM98 289h4v4h-4zM470 289h4v4h-4zM466 293h4v4h-4zM562 293h4v4h-4zM474 297h4v4h-4zM526 297h4v4h-4zM582 297h4v4h-4zM470 301h4v4h-4zM78 305h4v4h-4zM490 305h4v4h-4zM550 309h4v4h-4zM390 313h4v4h-4zM522 313h4v4h-4zM554 313h4v4h-4zM514 317h4v4h-4zM562 317h4v4h-4zM570 317h4v4h-4zM582 317h4v4h-4zM578 321h4v4h-4zM374 325h4v4h-4zM462 325h8v4h-8zM474 325h4v4h-4zM486 325h8v4h-8zM462 329h4v4h-4zM506 329h8v4h-8zM322 333h4v4h-4zM466 333h4v4h-4zM106 337h4v4h-4zM318 337h8v4h-8zM378 337h4v4h-4zM470 337h4v4h-4zM534 337h4v4h-4zM554 337h4v4h-4zM566 337h4v4h-4zM362 341h4v4h-4zM378 341h4v4h-4zM474 341h4v4h-4zM510 341h8v4h-8zM534 341h4v4h-4zM558 341h12v4h-12zM302 345h4v4h-4zM330 345h4v4h-4zM358 345h4v4h-4zM474 345h4v4h-4zM534 345h4v4h-4zM554 345h4v4h-4zM578 345h4v4h-4zM478 349h4v4h-4zM518 349h4v4h-4zM526 349h4v4h-4zM558 349h4v4h-4zM570 349h4v4h-4zM586 349h4v4h-4zM170 353h4v4h-4zM190 353h8v4h-8zM590 353h4v4h-4zM350 357h4v4h-4zM462 357h4v4h-4zM294 361h4v4h-4zM306 361h4v4h-4zM462 361h4v4h-4zM526 361h4v4h-4zM558 361h4v4h-4zM310 365h4v4h-4zM374 365h4v4h-4zM510 365h4v4h-4zM582 365h4v4h-4zM486 369h4v4h-4zM310 373h4v4h-4zM390 373h4v4h-4zM502 373h4v4h-4zM546 373h4v4h-4zM374 377h4v4h-4zM470 377h4v4h-4zM478 377h8v4h-8zM554 377h4v4h-4zM146 381h4v4h-4zM370 381h4v4h-4zM146 385h4v4h-4zM314 385h4v4h-4zM502 385h4v4h-4zM590 385h4v4h-4zM146 389h4v4h-4zM194 389h4v4h-4zM334 389h4v4h-4zM522 389h4v4h-4zM350 393h4v4h-4zM506 393h4v4h-4zM538 393h4v4h-4zM290 397h4v4h-4zM362 397h4v4h-4zM558 397h4v4h-4zM122 401h8v4h-8zM306 401h4v4h-4zM326 401h4v4h-4zM386 401h4v4h-4zM558 401h4v4h-4zM90 405h4v4h-4zM106 405h4v4h-4zM114 405h4v4h-4zM146 405h4v4h-4zM310 405h4v4h-4zM382 405h4v4h-4zM146 409h4v4h-4zM502 409h4v4h-4zM530 409h16v4h-16zM490 413h4v4h-4zM502 413h4v4h-4zM162 417h4v4h-4zM582 417h4v4h-4zM82 421h4v4h-4zM362 421h4v4h-4zM490 421h4v4h-4zM282 425h4v4h-4zM358 425h4v4h-4zM170 433h4v4h-4zM518 433h4v4h-4zM562 433h4v4h-4zM286 437h4v4h-4zM110 441h4v4h-4zM434 441h4v4h-4zM514 441h4v4h-4zM526 441h4v4h-4zM314 445h8v4h-8zM530 445h4v4h-4zM310 449h4v4h-4zM326 449h4v4h-4zM426 449h4v4h-4zM466 449h4v4h-4zM322 453h4v4h-4zM542 453h8v4h-8zM574 453h4v4h-4zM582 453h8v4h-8zM82 457h4v4h-4zM126 457h4v4h-4zM142 457h4v4h-4zM354 457h4v4h-4zM370 457h4v4h-4zM410 457h4v4h-4zM458 457h4v4h-4zM350 461h4v4h-4zM362 461h4v4h-4zM402 461h4v4h-4zM474 461h4v4h-4zM510 461h4v4h-4zM98 465h4v4h-4zM406 465h4v4h-4zM482 465h4v4h-4zM574 465h4v4h-4zM590 465h4v4h-4zM134 469h4v4h-4zM358 469h4v4h-4zM502 469h8v4h-8zM78 473h4v4h-4zM370 473h4v4h-4zM478 473h4v4h-4zM542 473h4v4h-4zM110 477h4v4h-4zM334 477h4v4h-4zM546 477h4v4h-4zM586 477h4v4h-4zM122 481h4v4h-4zM326 481h4v4h-4zM410 481h4v4h-4zM478 481h4v4h-4zM550 481h4v4h-4zM494 485h4v4h-4zM562 485h4v4h-4zM94 489h4v4h-4zM122 489h4v4h-4zM374 489h4v4h-4zM562 489h4v4h-4zM590 489h4v4h-4zM110 493h4v4h-4zM142 493h4v4h-4zM270 493h4v4h-4zM342 493h4v4h-4zM458 493h4v4h-4zM86 497h4v4h-4zM130 497h4v4h-4zM310 497h4v4h-4zM398 497h4v4h-4zM542 497h8v4h-8zM566 497h4v4h-4zM102 501h4v4h-4zM214 501h4v4h-4zM294 501h8v4h-8zM378 501h4v4h-4zM474 501h4v4h-4zM534 501h8v4h-8zM114 505h4v4h-4zM254 505h4v4h-4zM390 505h4v4h-4zM534 505h4v4h-4zM562 505h4v4h-4zM574 505h4v4h-4zM590 505h4v4h-4zM206 509h4v4h-4zM226 509h4v4h-4zM294 509h4v4h-4zM574 509h4v4h-4zM98 513h4v4h-4zM138 513h4v4h-4zM150 513h4v4h-4zM262 513h4v4h-4zM338 513h4v4h-4zM514 513h4v4h-4zM282 517h4v4h-4zM294 517h4v4h-4zM106 521h4v4h-4zM150 521h4v4h-4zM278 521h4v4h-4zM350 521h4v4h-4zM582 521h4v4h-4zM534 525h4v4h-4zM582 525h4v4h-4zM130 529h4v4h-4zM146 529h4v4h-4zM158 529h8v4h-8zM174 529h4v4h-4zM206 529h4v4h-4zM234 529h4v4h-4zM250 529h4v4h-4zM298 529h4v4h-4zM346 529h4v4h-4zM450 529h4v4h-4zM466 529h4v4h-4zM554 529h4v4h-4zM94 533h4v4h-4zM114 533h4v4h-4zM122 533h4v4h-4zM206 533h8v4h-8zM230 533h4v4h-4zM250 533h4v4h-4zM386 537h4v4h-4zM514 537h4v4h-4zM138 541h4v4h-4zM158 541h4v4h-4zM302 541h4v4h-4zM422 541h4v4h-4zM510 541h4v4h-4zM526 541h8v4h-8zM550 541h4v4h-4zM578 541h4v4h-4zM278 545h4v4h-4zM302 545h4v4h-4zM326 545h4v4h-4zM422 545h4v4h-4zM526 545h4v4h-4zM90 549h4v4h-4zM130 549h4v4h-4zM150 549h4v4h-4zM170 549h4v4h-4zM190 549h4v4h-4zM318 549h4v4h-4zM454 549h4v4h-4zM470 549h4v4h-4zM510 549h4v4h-4zM542 549h4v4h-4zM586 549h4v4h-4zM178 553h4v4h-4zM190 553h4v4h-4zM318 553h8v4h-8zM342 553h4v4h-4zM430 553h4v4h-4zM458 553h4v4h-4zM474 553h4v4h-4zM510 553h4v4h-4zM518 553h4v4h-4zM566 553h4v4h-4zM102 557h4v4h-4zM202 557h4v4h-4zM326 557h4v4h-4zM342 557h4v4h-4zM538 557h4v4h-4zM130 561h4v4h-4zM206 561h4v4h-4zM262 561h4v4h-4zM270 561h4v4h-4zM310 561h4v4h-4zM358 561h4v4h-4zM426 561h4v4h-4zM570 561h4v4h-4zM578 561h4v4h-4zM110 565h4v4h-4zM142 565h8v4h-8zM190 565h4v4h-4zM214 565h4v4h-4zM278 565h4v4h-4zM310 565h4v4h-4zM362 565h4v4h-4zM566 565h4v4h-4zM202 569h4v4h-4zM222 569h4v4h-4zM302 569h4v4h-4zM358 569h4v4h-4zM422 569h4v4h-4zM434 569h4v4h-4zM514 569h4v4h-4zM82 573h4v4h-4zM102 573h4v4h-4zM110 573h4v4h-4zM182 573h4v4h-4zM202 573h4v4h-4zM294 573h4v4h-4zM326 573h4v4h-4zM346 573h4v4h-4zM566 573h4v4h-4zM586 573h4v4h-4zM122 577h4v4h-4zM158 577h8v4h-8zM274 577h4v4h-4zM298 577h4v4h-4zM410 577h4v4h-4zM418 577h4v4h-4zM478 577h4v4h-4zM514 577h4v4h-4zM574 577h4v4h-4zM86 581h4v4h-4zM270 581h4v4h-4zM338 581h4v4h-4zM418 581h4v4h-4zM466 581h4v4h-4zM478 581h4v4h-4zM502 581h4v4h-4zM250 585h4v4h-4zM282 585h4v4h-4zM330 585h4v4h-4zM410 585h4v4h-4zM422 585h4v4h-4zM538 585h4v4h-4zM118 589h4v4h-4zM170 589h4v4h-4zM254 589h4v4h-4zM278 589h4v4h-4zM394 589h4v4h-4zM510 589h4v4h-4zM554 589h4v4h-4zM590 589h4v4h-4zM110 593h4v4h-4zM122 593h4v4h-4zM134 593h4v4h-4zM174 593h4v4h-4zM294 593h4v4h-4zM306 593h8v4h-8zM322 593h8v4h-8zM538 593h4v4h-4zM550 593h4v4h-4zM90 597h4v4h-4zM270 597h8v4h-8zM286 597h8v4h-8zM310 597h4v4h-4zM166 601h4v4h-4zM402 601h4v4h-4zM418 601h4v4h-4zM490 601h4v4h-4zM498 601h4v4h-4zM550 601h4v4h-4zM582 601h4v4h-4zM102 605h4v4h-4zM278 605h4v4h-4zM290 605h4v4h-4zM302 605h4v4h-4zM398 605h4v4h-4zM410 605h4v4h-4zM446 605h4v4h-4zM574 605h4v4h-4z"/><path fill="#741a6e" d="M450 97h4v4h-4zM514 97h4v4h-4zM562 97h4v4h-4zM498 101h4v4h-4zM554 105h4v4h-4zM410 113h4v4h-4zM442 113h8v4h-8zM514 113h4v4h-4zM446 121h4v4h-4zM466 121h4v4h-4zM530 121h4v4h-4zM426 125h4v4h-4zM542 125h8v4h-8zM402 129h4v4h-4zM502 129h4v4h-4zM510 129h4v4h-4zM522 129h4v4h-4zM550 129h4v4h-4zM382 133h4v4h-4zM514 133h4v4h-4zM566 133h12v4h-12zM446 137h4v4h-4zM454 137h4v4h-4zM490 137h4v4h-4zM534 137h4v4h-4zM434 141h4v4h-4zM458 141h4v4h-4zM174 145h4v4h-4zM474 145h4v4h-4zM162 149h4v4h-4zM170 149h4v4h-4zM422 149h4v4h-4zM510 149h4v4h-4zM538 149h4v4h-4zM402 153h4v4h-4zM574 157h4v4h-4zM154 161h4v4h-4zM166 161h4v4h-4zM498 161h4v4h-4zM486 165h4v4h-4zM130 169h4v4h-4zM162 169h4v4h-4zM458 169h4v4h-4zM134 177h4v4h-4zM446 177h4v4h-4zM554 177h4v4h-4zM150 181h4v4h-4zM162 181h4v4h-4zM478 185h4v4h-4zM514 185h8v4h-8zM170 189h4v4h-4zM382 189h8v4h-8zM426 189h4v4h-4zM438 189h4v4h-4zM170 193h4v4h-4zM374 193h8v4h-8zM422 193h4v4h-4zM438 193h4v4h-4zM470 193h4v4h-4zM478 193h4v4h-4zM374 197h4v4h-4zM418 197h4v4h-4zM442 197h4v4h-4zM394 201h4v4h-4zM422 205h4v4h-4zM454 205h8v4h-8zM426 209h4v4h-4zM470 209h4v4h-4zM390 217h4v4h-4zM406 217h4v4h-4zM466 217h4v4h-4zM406 221h4v4h-4zM430 221h4v4h-4zM390 225h4v4h-4zM538 225h4v4h-4zM374 233h4v4h-4zM542 233h4v4h-4zM446 237h4v4h-4zM538 237h4v4h-4zM450 241h4v4h-4zM570 241h4v4h-4zM446 245h4v4h-4zM406 257h4v4h-4zM414 257h4v4h-4zM454 257h4v4h-4zM454 261h4v4h-4zM450 265h4v4h-4zM478 265h8v4h-8zM106 269h4v4h-4zM410 269h4v4h-4zM426 269h4v4h-4zM438 269h4v4h-4zM474 269h8v4h-8zM414 273h4v4h-4zM478 273h4v4h-4zM498 273h4v4h-4zM482 277h4v4h-4zM502 277h4v4h-4zM478 281h4v4h-4zM538 281h4v4h-4zM558 281h4v4h-4zM578 281h4v4h-4zM86 285h8v4h-8zM550 285h4v4h-4zM562 285h8v4h-8zM466 289h4v4h-4zM490 289h4v4h-4zM550 289h8v4h-8zM402 293h4v4h-4zM482 293h4v4h-4zM578 293h4v4h-4zM530 297h4v4h-4zM546 297h4v4h-4zM474 301h4v4h-4zM526 301h4v4h-4zM398 305h4v4h-4zM538 305h4v4h-4zM78 309h4v4h-4zM386 309h8v4h-8zM522 309h4v4h-4zM386 313h4v4h-4zM470 313h4v4h-4zM478 313h4v4h-4zM486 313h4v4h-4zM518 313h4v4h-4zM558 313h4v4h-4zM566 313h4v4h-4zM578 313h4v4h-4zM518 321h4v4h-4zM570 321h4v4h-4zM318 325h4v4h-4zM86 329h4v4h-4zM318 329h4v4h-4zM398 329h4v4h-4zM466 329h4v4h-4zM494 329h4v4h-4zM582 329h4v4h-4zM86 333h4v4h-4zM346 333h8v4h-8zM470 333h4v4h-4zM590 333h4v4h-4zM370 337h4v4h-4zM538 337h8v4h-8zM578 337h4v4h-4zM414 341h4v4h-4zM574 341h4v4h-4zM590 345h4v4h-4zM334 349h4v4h-4zM354 349h4v4h-4zM522 349h4v4h-4zM578 349h4v4h-4zM278 353h4v4h-4zM286 353h4v4h-4zM202 357h4v4h-4zM294 357h4v4h-4zM302 357h4v4h-4zM354 357h4v4h-4zM210 361h4v4h-4zM282 361h4v4h-4zM370 361h4v4h-4zM562 361h4v4h-4zM150 365h4v4h-4zM158 365h4v4h-4zM414 365h4v4h-4zM578 365h4v4h-4zM306 369h4v4h-4zM334 369h4v4h-4zM570 369h4v4h-4zM414 373h4v4h-4zM494 373h4v4h-4zM554 373h4v4h-4zM574 373h4v4h-4zM138 377h8v4h-8zM198 377h4v4h-4zM506 377h4v4h-4zM514 377h4v4h-4zM522 377h4v4h-4zM558 377h8v4h-8zM134 381h4v4h-4zM194 381h4v4h-4zM374 381h4v4h-4zM502 381h4v4h-4zM130 385h4v4h-4zM334 385h8v4h-8zM374 385h4v4h-4zM562 385h8v4h-8zM586 385h4v4h-4zM150 389h4v4h-4zM286 389h8v4h-8zM534 389h4v4h-4zM550 389h4v4h-4zM570 389h4v4h-4zM146 393h4v4h-4zM198 393h4v4h-4zM274 393h4v4h-4zM286 393h4v4h-4zM382 393h4v4h-4zM94 397h4v4h-4zM126 397h4v4h-4zM502 397h4v4h-4zM538 397h4v4h-4zM582 397h4v4h-4zM118 401h4v4h-4zM390 401h4v4h-4zM502 401h4v4h-4zM514 401h4v4h-4zM586 401h4v4h-4zM94 405h4v4h-4zM102 405h4v4h-4zM130 405h4v4h-4zM306 405h4v4h-4zM378 405h4v4h-4zM546 405h4v4h-4zM126 409h4v4h-4zM274 409h4v4h-4zM102 413h4v4h-4zM274 413h4v4h-4zM282 413h16v4h-16zM558 413h4v4h-4zM578 413h4v4h-4zM174 417h4v4h-4zM354 417h4v4h-4zM366 417h4v4h-4zM578 417h4v4h-4zM86 421h4v4h-4zM286 421h4v4h-4zM570 421h4v4h-4zM582 421h4v4h-4zM590 421h4v4h-4zM362 425h4v4h-4zM490 425h4v4h-4zM502 425h4v4h-4zM526 425h4v4h-4zM282 429h4v4h-4zM566 429h4v4h-4zM142 433h8v4h-8zM178 433h4v4h-4zM534 433h4v4h-4zM550 433h4v4h-4zM538 437h4v4h-4zM458 441h4v4h-4zM490 441h4v4h-4zM510 441h4v4h-4zM154 445h4v4h-4zM294 445h4v4h-4zM430 449h4v4h-4zM502 449h4v4h-4zM570 449h4v4h-4zM586 449h4v4h-4zM150 453h4v4h-4zM378 453h4v4h-4zM418 453h4v4h-4zM566 453h8v4h-8zM350 457h4v4h-4zM546 457h8v4h-8zM582 457h8v4h-8zM78 461h4v4h-4zM354 461h4v4h-4zM382 461h4v4h-4zM482 461h4v4h-4zM518 461h4v4h-4zM138 465h4v4h-4zM382 465h4v4h-4zM390 465h8v4h-8zM518 465h4v4h-4zM106 469h4v4h-4zM366 469h4v4h-4zM134 473h4v4h-4zM366 473h4v4h-4zM498 473h4v4h-4zM546 473h4v4h-4zM578 473h4v4h-4zM90 477h4v4h-4zM362 477h8v4h-8zM90 481h4v4h-4zM110 481h4v4h-4zM330 481h8v4h-8zM546 481h4v4h-4zM90 485h4v4h-4zM110 485h4v4h-4zM130 485h4v4h-4zM354 485h4v4h-4zM498 485h4v4h-4zM106 489h4v4h-4zM118 489h4v4h-4zM126 489h4v4h-4zM342 489h4v4h-4zM358 489h4v4h-4zM578 489h4v4h-4zM86 493h4v4h-4zM118 493h4v4h-4zM354 493h4v4h-4zM446 493h8v4h-8zM566 493h4v4h-4zM582 493h4v4h-4zM110 497h4v4h-4zM118 497h4v4h-4zM570 497h4v4h-4zM586 497h4v4h-4zM86 501h8v4h-8zM118 501h4v4h-4zM206 501h4v4h-4zM394 501h4v4h-4zM290 505h4v4h-4zM450 505h4v4h-4zM546 505h4v4h-4zM146 509h4v4h-4zM214 509h4v4h-4zM298 509h4v4h-4zM330 509h4v4h-4zM346 509h4v4h-4zM450 509h4v4h-4zM522 509h4v4h-4zM550 509h4v4h-4zM102 513h12v4h-12zM282 513h4v4h-4zM294 513h4v4h-4zM378 513h4v4h-4zM442 513h4v4h-4zM78 517h4v4h-4zM90 517h4v4h-4zM278 517h4v4h-4zM366 517h4v4h-4zM438 517h4v4h-4zM542 517h4v4h-4zM394 521h4v4h-4zM450 521h4v4h-4zM458 521h4v4h-4zM174 525h4v4h-4zM290 525h8v4h-8zM306 525h4v4h-4zM346 525h4v4h-4zM354 525h4v4h-4zM566 525h4v4h-4zM118 529h4v4h-4zM246 529h4v4h-4zM394 529h4v4h-4zM434 529h4v4h-4zM534 529h4v4h-4zM586 529h4v4h-4zM82 533h4v4h-4zM90 533h4v4h-4zM186 533h4v4h-4zM222 533h4v4h-4zM234 533h4v4h-4zM254 533h4v4h-4zM282 533h4v4h-4zM346 533h4v4h-4zM390 533h4v4h-4zM566 533h4v4h-4zM102 537h4v4h-4zM174 537h4v4h-4zM370 537h4v4h-4zM522 537h4v4h-4zM102 541h4v4h-4zM298 541h4v4h-4zM418 541h4v4h-4zM574 541h4v4h-4zM102 545h4v4h-4zM142 545h4v4h-4zM198 545h4v4h-4zM274 545h4v4h-4zM306 545h4v4h-4zM530 545h4v4h-4zM302 549h8v4h-8zM514 549h4v4h-4zM94 553h4v4h-4zM102 553h4v4h-4zM114 553h8v4h-8zM314 553h4v4h-4zM378 553h4v4h-4zM470 553h4v4h-4zM498 553h4v4h-4zM586 553h4v4h-4zM214 557h4v4h-4zM458 557h4v4h-4zM494 557h4v4h-4zM554 557h4v4h-4zM110 561h4v4h-4zM198 561h4v4h-4zM258 561h4v4h-4zM326 561h4v4h-4zM518 561h4v4h-4zM574 561h4v4h-4zM134 565h4v4h-4zM206 565h4v4h-4zM218 565h4v4h-4zM250 565h4v4h-4zM366 565h4v4h-4zM434 565h4v4h-4zM542 565h4v4h-4zM574 565h4v4h-4zM582 565h4v4h-4zM86 569h4v4h-4zM142 569h4v4h-4zM522 569h4v4h-4zM538 569h4v4h-4zM566 569h4v4h-4zM134 573h4v4h-4zM350 573h4v4h-4zM530 573h8v4h-8zM562 573h4v4h-4zM574 573h4v4h-4zM106 577h4v4h-4zM154 577h4v4h-4zM282 577h4v4h-4zM290 577h4v4h-4zM330 577h4v4h-4zM434 577h4v4h-4zM506 577h4v4h-4zM530 577h4v4h-4zM562 577h4v4h-4zM134 581h8v4h-8zM254 581h4v4h-4zM282 581h4v4h-4zM470 581h4v4h-4zM498 581h4v4h-4zM522 581h4v4h-4zM566 581h4v4h-4zM82 585h4v4h-4zM94 585h4v4h-4zM254 585h4v4h-4zM306 585h4v4h-4zM326 585h4v4h-4zM334 585h4v4h-4zM426 585h4v4h-4zM510 585h4v4h-4zM330 589h4v4h-4zM390 589h4v4h-4zM550 589h4v4h-4zM562 589h4v4h-4zM94 593h4v4h-4zM106 593h4v4h-4zM138 593h4v4h-4zM150 593h4v4h-4zM266 593h4v4h-4zM398 593h4v4h-4zM518 593h4v4h-4zM78 597h8v4h-8zM146 597h4v4h-4zM470 597h4v4h-4zM478 597h4v4h-4zM526 597h8v4h-8zM274 601h4v4h-4zM290 601h4v4h-4zM474 601h4v4h-4zM486 601h4v4h-4zM494 601h4v4h-4zM514 601h4v4h-4zM162 605h4v4h-4zM174 605h4v4h-4zM326 605h4v4h-4zM498 605h4v4h-4zM526 605h4v4h-4zM562 605h4v4h-4z"/><path fill="#771c6d" d="M482 93h4v4h-4zM498 93h4v4h-4zM538 93h4v4h-4zM442 97h4v4h-4zM470 97h4v4h-4zM502 97h4v4h-4zM510 97h4v4h-4zM554 97h4v4h-4zM450 101h4v4h-4zM430 105h4v4h-4zM438 105h4v4h-4zM446 105h4v4h-4zM482 105h4v4h-4zM558 105h4v4h-4zM414 109h4v4h-4zM450 109h4v4h-4zM498 109h4v4h-4zM514 109h4v4h-4zM418 113h4v4h-4zM466 117h4v4h-4zM386 121h4v4h-4zM486 121h4v4h-4zM566 121h4v4h-4zM566 125h4v4h-4zM398 129h4v4h-4zM422 129h4v4h-4zM462 129h4v4h-4zM542 129h4v4h-4zM398 133h8v4h-8zM418 133h4v4h-4zM446 133h4v4h-4zM486 133h8v4h-8zM546 133h4v4h-4zM562 133h4v4h-4zM398 137h4v4h-4zM414 137h4v4h-4zM178 141h4v4h-4zM390 141h4v4h-4zM418 141h4v4h-4zM590 141h4v4h-4zM162 145h4v4h-4zM382 145h4v4h-4zM490 145h4v4h-4zM382 149h4v4h-4zM514 149h4v4h-4zM534 149h4v4h-4zM542 149h4v4h-4zM570 149h4v4h-4zM158 153h4v4h-4zM582 153h4v4h-4zM578 157h4v4h-4zM158 161h4v4h-4zM170 161h4v4h-4zM146 165h4v4h-4zM374 165h4v4h-4zM522 169h4v4h-4zM126 173h4v4h-4zM162 173h4v4h-4zM174 173h4v4h-4zM114 177h4v4h-4zM162 177h4v4h-4zM530 177h4v4h-4zM118 181h4v4h-4zM170 185h4v4h-4zM386 185h4v4h-4zM462 185h4v4h-4zM482 185h4v4h-4zM378 189h4v4h-4zM466 189h4v4h-4zM526 189h4v4h-4zM498 193h4v4h-4zM426 197h4v4h-4zM486 197h12v4h-12zM374 201h4v4h-4zM418 201h4v4h-4zM438 201h8v4h-8zM442 205h4v4h-4zM450 205h4v4h-4zM410 209h4v4h-4zM450 217h4v4h-4zM450 221h4v4h-4zM486 225h4v4h-4zM378 233h4v4h-4zM534 233h4v4h-4zM522 237h4v4h-4zM582 237h4v4h-4zM526 241h4v4h-4zM538 241h4v4h-4zM402 249h4v4h-4zM406 253h4v4h-4zM522 257h4v4h-4zM422 265h4v4h-4zM422 269h4v4h-4zM430 269h4v4h-4zM462 269h4v4h-4zM486 269h4v4h-4zM554 269h4v4h-4zM82 273h4v4h-4zM482 273h4v4h-4zM106 277h4v4h-4zM462 277h4v4h-4zM478 277h4v4h-4zM502 281h4v4h-4zM546 285h4v4h-4zM578 285h4v4h-4zM478 289h4v4h-4zM566 289h4v4h-4zM410 293h4v4h-4zM474 293h4v4h-4zM486 293h4v4h-4zM550 293h4v4h-4zM410 297h4v4h-4zM466 297h4v4h-4zM550 297h4v4h-4zM106 301h4v4h-4zM534 301h4v4h-4zM566 301h4v4h-4zM574 301h4v4h-4zM474 305h4v4h-4zM558 305h4v4h-4zM586 309h4v4h-4zM110 313h4v4h-4zM474 313h4v4h-4zM506 313h4v4h-4zM106 317h4v4h-4zM306 317h4v4h-4zM390 321h4v4h-4zM482 321h4v4h-4zM498 321h4v4h-4zM390 325h4v4h-4zM494 325h4v4h-4zM374 329h4v4h-4zM402 329h4v4h-4zM470 329h4v4h-4zM90 333h4v4h-4zM110 333h4v4h-4zM406 333h4v4h-4zM494 333h4v4h-4zM502 333h4v4h-4zM534 333h4v4h-4zM550 333h4v4h-4zM582 333h4v4h-4zM302 337h4v4h-4zM314 337h4v4h-4zM366 337h4v4h-4zM410 337h4v4h-4zM310 341h4v4h-4zM518 341h4v4h-4zM306 345h4v4h-4zM482 345h4v4h-4zM518 345h4v4h-4zM526 345h4v4h-4zM546 345h8v4h-8zM558 345h4v4h-4zM582 345h8v4h-8zM474 349h4v4h-4zM534 349h4v4h-4zM582 349h4v4h-4zM306 353h4v4h-4zM322 353h4v4h-4zM338 357h4v4h-4zM562 357h4v4h-4zM286 361h4v4h-4zM414 361h4v4h-4zM510 361h4v4h-4zM210 365h4v4h-4zM534 365h8v4h-8zM562 365h4v4h-4zM358 369h4v4h-4zM474 369h4v4h-4zM278 373h4v4h-4zM486 373h4v4h-4zM498 373h4v4h-4zM146 377h4v4h-4zM194 377h4v4h-4zM362 377h4v4h-4zM546 377h8v4h-8zM358 381h4v4h-4zM542 381h4v4h-4zM150 385h4v4h-4zM266 385h4v4h-4zM402 385h4v4h-4zM550 385h4v4h-4zM570 385h8v4h-8zM338 389h4v4h-4zM366 389h8v4h-8zM510 389h4v4h-4zM122 393h4v4h-4zM154 393h4v4h-4zM162 393h4v4h-4zM290 393h4v4h-4zM514 393h4v4h-4zM542 393h8v4h-8zM558 393h4v4h-4zM566 393h4v4h-4zM358 397h4v4h-4zM386 397h4v4h-4zM530 397h4v4h-4zM562 397h4v4h-4zM90 401h4v4h-4zM354 401h4v4h-4zM382 401h4v4h-4zM98 405h4v4h-4zM126 405h4v4h-4zM338 405h4v4h-4zM522 405h4v4h-4zM110 409h4v4h-4zM374 409h8v4h-8zM486 409h4v4h-4zM582 409h4v4h-4zM90 413h4v4h-4zM554 413h4v4h-4zM158 417h4v4h-4zM478 417h4v4h-4zM558 417h4v4h-4zM566 417h4v4h-4zM98 421h4v4h-4zM290 421h4v4h-4zM354 421h4v4h-4zM562 421h4v4h-4zM98 425h4v4h-4zM514 425h4v4h-4zM530 425h4v4h-4zM366 429h4v4h-4zM518 429h4v4h-4zM574 429h4v4h-4zM82 433h4v4h-4zM366 433h4v4h-4zM430 437h4v4h-4zM478 437h4v4h-4zM566 437h4v4h-4zM158 441h4v4h-4zM358 441h4v4h-4zM494 441h4v4h-4zM162 445h4v4h-4zM174 445h4v4h-4zM346 445h4v4h-4zM426 445h4v4h-4zM490 445h4v4h-4zM414 453h4v4h-4zM422 453h8v4h-8zM478 453h4v4h-4zM578 453h4v4h-4zM86 457h4v4h-4zM382 457h4v4h-4zM590 457h4v4h-4zM386 461h4v4h-4zM398 461h4v4h-4zM478 461h4v4h-4zM526 461h4v4h-4zM590 461h4v4h-4zM354 465h8v4h-8zM410 465h4v4h-4zM466 465h4v4h-4zM342 469h4v4h-4zM374 469h8v4h-8zM546 469h4v4h-4zM574 469h4v4h-4zM330 473h4v4h-4zM98 477h4v4h-4zM322 477h4v4h-4zM414 477h4v4h-4zM134 481h4v4h-4zM322 481h4v4h-4zM474 481h4v4h-4zM90 489h4v4h-4zM490 489h4v4h-4zM114 493h4v4h-4zM122 493h4v4h-4zM206 493h4v4h-4zM462 493h4v4h-4zM590 493h4v4h-4zM146 497h4v4h-4zM274 497h4v4h-4zM450 497h4v4h-4zM470 497h4v4h-4zM574 497h4v4h-4zM218 501h4v4h-4zM234 501h4v4h-4zM530 501h4v4h-4zM578 501h4v4h-4zM106 505h4v4h-4zM250 505h4v4h-4zM286 505h4v4h-4zM330 505h4v4h-4zM374 505h4v4h-4zM446 505h4v4h-4zM530 505h4v4h-4zM538 505h4v4h-4zM550 505h4v4h-4zM578 505h4v4h-4zM98 509h4v4h-4zM106 509h4v4h-4zM138 509h4v4h-4zM190 509h4v4h-4zM266 509h4v4h-4zM290 509h4v4h-4zM338 509h4v4h-4zM378 509h4v4h-4zM526 509h4v4h-4zM566 509h8v4h-8zM94 513h4v4h-4zM142 513h4v4h-4zM242 513h8v4h-8zM278 513h4v4h-4zM334 513h4v4h-4zM370 513h4v4h-4zM386 513h8v4h-8zM446 513h4v4h-4zM510 513h4v4h-4zM98 517h4v4h-4zM214 517h8v4h-8zM258 517h4v4h-4zM370 517h4v4h-4zM398 517h4v4h-4zM274 521h4v4h-4zM290 521h4v4h-4zM398 521h4v4h-4zM514 521h4v4h-4zM534 521h4v4h-4zM590 521h4v4h-4zM126 525h8v4h-8zM278 525h4v4h-4zM590 525h4v4h-4zM78 529h4v4h-4zM446 529h4v4h-4zM590 529h4v4h-4zM86 533h4v4h-4zM118 533h4v4h-4zM158 533h4v4h-4zM174 533h4v4h-4zM266 533h4v4h-4zM274 533h4v4h-4zM98 537h4v4h-4zM170 537h4v4h-4zM222 537h4v4h-4zM310 537h4v4h-4zM322 537h4v4h-4zM134 541h4v4h-4zM194 541h4v4h-4zM586 541h8v4h-8zM146 545h4v4h-4zM178 545h4v4h-4zM238 545h4v4h-4zM294 545h4v4h-4zM574 545h4v4h-4zM114 549h8v4h-8zM322 549h4v4h-4zM434 549h4v4h-4zM502 549h8v4h-8zM566 549h4v4h-4zM86 553h4v4h-4zM126 553h4v4h-4zM182 553h4v4h-4zM266 553h4v4h-4zM302 553h4v4h-4zM506 553h4v4h-4zM86 557h4v4h-4zM134 557h4v4h-4zM170 557h4v4h-4zM218 557h4v4h-4zM274 557h4v4h-4zM298 557h4v4h-4zM478 557h4v4h-4zM542 557h8v4h-8zM134 561h8v4h-8zM214 561h4v4h-4zM254 561h4v4h-4zM322 561h4v4h-4zM418 561h8v4h-8zM458 561h4v4h-4zM534 561h4v4h-4zM562 561h4v4h-4zM258 565h4v4h-4zM134 569h4v4h-4zM238 569h4v4h-4zM262 569h8v4h-8zM298 569h4v4h-4zM310 569h8v4h-8zM362 569h4v4h-4zM498 569h4v4h-4zM550 569h4v4h-4zM574 569h4v4h-4zM106 573h4v4h-4zM118 573h4v4h-4zM302 573h8v4h-8zM354 573h4v4h-4zM410 573h4v4h-4zM522 573h4v4h-4zM570 573h4v4h-4zM118 577h4v4h-4zM174 577h8v4h-8zM210 577h4v4h-4zM254 577h4v4h-4zM314 577h4v4h-4zM482 577h4v4h-4zM566 577h4v4h-4zM250 581h4v4h-4zM258 581h4v4h-4zM422 581h4v4h-4zM518 581h4v4h-4zM530 581h4v4h-4zM550 581h4v4h-4zM558 581h4v4h-4zM518 585h4v4h-4zM526 585h4v4h-4zM570 585h4v4h-4zM178 589h4v4h-4zM190 589h4v4h-4zM246 589h4v4h-4zM314 589h4v4h-4zM514 589h4v4h-4zM570 589h4v4h-4zM142 593h4v4h-4zM154 593h4v4h-4zM270 593h4v4h-4zM406 593h4v4h-4zM418 593h4v4h-4zM510 593h8v4h-8zM342 597h4v4h-4zM514 597h4v4h-4zM522 597h4v4h-4zM102 601h4v4h-4zM118 601h4v4h-4zM574 601h4v4h-4zM166 605h4v4h-4zM242 605h4v4h-4zM310 605h4v4h-4z"/><path fill="#7a1d6d" d="M526 93h4v4h-4zM258 97h4v4h-4zM478 97h4v4h-4zM518 97h4v4h-4zM530 97h8v4h-8zM474 101h4v4h-4zM526 101h4v4h-4zM538 101h4v4h-4zM506 105h4v4h-4zM526 105h4v4h-4zM538 105h4v4h-4zM410 109h4v4h-4zM478 109h4v4h-4zM554 109h4v4h-4zM502 113h4v4h-4zM522 113h4v4h-4zM358 117h4v4h-4zM418 117h4v4h-4zM502 117h4v4h-4zM530 117h4v4h-4zM430 121h4v4h-4zM470 121h4v4h-4zM390 125h8v4h-8zM402 125h4v4h-4zM414 129h4v4h-4zM370 137h4v4h-4zM378 137h8v4h-8zM406 137h4v4h-4zM486 137h4v4h-4zM506 137h4v4h-4zM494 141h4v4h-4zM170 145h4v4h-4zM494 145h4v4h-4zM382 153h4v4h-4zM390 153h4v4h-4zM426 153h4v4h-4zM534 153h4v4h-4zM562 153h4v4h-4zM586 153h4v4h-4zM382 157h4v4h-4zM590 157h4v4h-4zM378 161h4v4h-4zM562 161h4v4h-4zM578 161h4v4h-4zM586 161h4v4h-4zM134 165h4v4h-4zM162 165h4v4h-4zM534 165h4v4h-4zM582 169h4v4h-4zM130 173h4v4h-4zM154 173h4v4h-4zM390 173h4v4h-4zM530 173h4v4h-4zM146 177h4v4h-4zM186 177h4v4h-4zM186 181h4v4h-4zM446 181h4v4h-4zM494 181h4v4h-4zM502 181h4v4h-4zM150 185h4v4h-4zM158 185h4v4h-4zM378 185h4v4h-4zM466 185h4v4h-4zM158 189h4v4h-4zM474 189h4v4h-4zM166 193h4v4h-4zM426 193h4v4h-4zM490 193h4v4h-4zM398 197h4v4h-4zM482 197h4v4h-4zM426 205h4v4h-4zM446 205h4v4h-4zM378 209h4v4h-4zM442 209h8v4h-8zM426 213h4v4h-4zM486 213h4v4h-4zM426 221h4v4h-4zM490 221h4v4h-4zM546 221h4v4h-4zM394 229h4v4h-4zM534 229h4v4h-4zM390 237h4v4h-4zM402 237h8v4h-8zM514 237h4v4h-4zM574 241h4v4h-4zM410 249h4v4h-4zM538 249h4v4h-4zM534 257h8v4h-8zM410 261h4v4h-4zM530 265h4v4h-4zM442 273h8v4h-8zM466 273h4v4h-4zM474 277h4v4h-4zM462 281h4v4h-4zM482 281h4v4h-4zM502 285h4v4h-4zM554 285h4v4h-4zM474 289h4v4h-4zM98 293h4v4h-4zM582 293h4v4h-4zM82 297h4v4h-4zM542 297h4v4h-4zM574 297h4v4h-4zM110 301h4v4h-4zM590 301h4v4h-4zM470 305h4v4h-4zM478 305h4v4h-4zM562 305h4v4h-4zM470 309h4v4h-4zM478 309h4v4h-4zM494 313h4v4h-4zM510 313h8v4h-8zM562 313h4v4h-4zM582 313h4v4h-4zM474 317h4v4h-4zM482 317h4v4h-4zM566 317h4v4h-4zM90 321h4v4h-4zM306 321h4v4h-4zM502 321h4v4h-4zM574 321h4v4h-4zM110 325h4v4h-4zM310 325h4v4h-4zM470 325h4v4h-4zM518 325h4v4h-4zM538 325h4v4h-4zM490 329h4v4h-4zM326 333h4v4h-4zM342 333h4v4h-4zM538 333h4v4h-4zM570 333h4v4h-4zM506 337h4v4h-4zM330 341h4v4h-4zM466 341h8v4h-8zM498 341h8v4h-8zM570 341h4v4h-4zM418 345h4v4h-4zM470 345h4v4h-4zM570 345h4v4h-4zM294 349h4v4h-4zM470 349h4v4h-4zM562 349h4v4h-4zM562 353h4v4h-4zM570 353h4v4h-4zM182 357h4v4h-4zM218 357h4v4h-4zM342 357h4v4h-4zM358 357h4v4h-4zM554 357h4v4h-4zM518 361h4v4h-4zM154 365h4v4h-4zM266 365h4v4h-4zM494 365h4v4h-4zM522 365h8v4h-8zM546 365h8v4h-8zM574 365h4v4h-4zM138 369h4v4h-4zM414 369h4v4h-4zM470 369h4v4h-4zM490 369h8v4h-8zM466 373h8v4h-8zM490 373h4v4h-4zM570 373h4v4h-4zM366 377h4v4h-4zM386 377h4v4h-4zM466 377h4v4h-4zM526 377h4v4h-4zM554 381h4v4h-4zM130 389h4v4h-4zM142 389h4v4h-4zM490 389h8v4h-8zM506 389h4v4h-4zM130 393h4v4h-4zM166 393h4v4h-4zM354 393h4v4h-4zM362 393h4v4h-4zM386 393h4v4h-4zM394 393h4v4h-4zM502 393h4v4h-4zM562 393h4v4h-4zM286 397h4v4h-4zM490 397h8v4h-8zM546 397h4v4h-4zM578 397h4v4h-4zM522 401h4v4h-4zM478 405h4v4h-4zM526 405h4v4h-4zM538 405h4v4h-4zM270 409h4v4h-4zM478 409h4v4h-4zM514 409h4v4h-4zM526 409h4v4h-4zM98 413h4v4h-4zM266 413h4v4h-4zM478 413h4v4h-4zM518 413h4v4h-4zM358 417h4v4h-4zM570 417h4v4h-4zM174 421h8v4h-8zM478 421h4v4h-4zM514 421h4v4h-4zM566 421h4v4h-4zM90 425h4v4h-4zM182 425h4v4h-4zM486 425h4v4h-4zM182 429h4v4h-4zM482 429h4v4h-4zM510 429h4v4h-4zM522 429h4v4h-4zM534 429h4v4h-4zM282 433h4v4h-4zM478 433h4v4h-4zM82 437h4v4h-4zM174 437h4v4h-4zM466 437h4v4h-4zM114 441h4v4h-4zM154 441h4v4h-4zM286 441h4v4h-4zM458 445h4v4h-4zM470 445h4v4h-4zM494 445h4v4h-4zM502 445h4v4h-4zM378 449h4v4h-4zM310 453h4v4h-4zM358 453h4v4h-4zM474 453h4v4h-4zM346 457h4v4h-4zM130 461h4v4h-4zM410 461h8v4h-8zM522 461h4v4h-4zM586 461h4v4h-4zM106 465h4v4h-4zM470 465h4v4h-4zM462 469h4v4h-4zM130 473h4v4h-4zM82 477h4v4h-4zM130 477h4v4h-4zM318 477h4v4h-4zM330 477h4v4h-4zM470 477h4v4h-4zM510 477h4v4h-4zM94 481h4v4h-4zM114 481h4v4h-4zM354 481h4v4h-4zM570 481h4v4h-4zM82 485h4v4h-4zM94 485h4v4h-4zM578 485h8v4h-8zM110 489h8v4h-8zM130 489h8v4h-8zM462 489h4v4h-4zM82 493h4v4h-4zM126 493h4v4h-4zM454 493h4v4h-4zM210 497h4v4h-4zM238 497h4v4h-4zM306 497h4v4h-4zM466 497h4v4h-4zM106 501h4v4h-4zM142 501h4v4h-4zM302 501h4v4h-4zM398 501h4v4h-4zM470 501h4v4h-4zM542 501h4v4h-4zM566 501h4v4h-4zM102 505h4v4h-4zM218 505h4v4h-4zM258 505h4v4h-4zM526 505h4v4h-4zM154 509h8v4h-8zM274 509h4v4h-4zM286 509h4v4h-4zM578 509h4v4h-4zM586 509h4v4h-4zM122 513h4v4h-4zM222 513h4v4h-4zM286 513h8v4h-8zM86 517h4v4h-4zM118 517h4v4h-4zM150 517h4v4h-4zM262 517h4v4h-4zM534 517h4v4h-4zM122 521h4v4h-4zM294 521h4v4h-4zM554 521h4v4h-4zM122 525h4v4h-4zM166 525h4v4h-4zM178 525h4v4h-4zM186 525h4v4h-4zM350 525h4v4h-4zM538 525h4v4h-4zM150 529h4v4h-4zM178 529h4v4h-4zM78 533h4v4h-4zM182 533h4v4h-4zM278 533h4v4h-4zM430 533h4v4h-4zM554 533h4v4h-4zM138 537h4v4h-4zM166 537h4v4h-4zM270 537h4v4h-4zM326 537h4v4h-4zM374 537h4v4h-4zM442 537h4v4h-4zM150 541h4v4h-4zM202 541h4v4h-4zM214 541h4v4h-4zM270 541h8v4h-8zM326 541h4v4h-4zM386 541h4v4h-4zM426 541h4v4h-4zM174 545h4v4h-4zM318 545h4v4h-4zM438 545h4v4h-4zM586 545h4v4h-4zM122 549h4v4h-4zM430 549h4v4h-4zM170 553h4v4h-4zM274 553h4v4h-4zM286 553h4v4h-4zM426 553h4v4h-4zM258 557h4v4h-4zM286 557h4v4h-4zM294 557h4v4h-4zM318 557h4v4h-4zM422 557h4v4h-4zM498 557h4v4h-4zM114 561h4v4h-4zM202 561h4v4h-4zM218 561h4v4h-4zM242 561h4v4h-4zM554 561h4v4h-4zM114 565h4v4h-4zM130 565h4v4h-4zM314 565h4v4h-4zM370 565h4v4h-4zM514 565h16v4h-16zM546 565h8v4h-8zM578 565h4v4h-4zM130 569h4v4h-4zM146 569h4v4h-4zM190 569h8v4h-8zM418 569h4v4h-4zM542 569h4v4h-4zM562 569h4v4h-4zM586 569h4v4h-4zM414 573h12v4h-12zM434 573h4v4h-4zM510 573h4v4h-4zM538 573h4v4h-4zM558 573h4v4h-4zM134 577h4v4h-4zM182 577h4v4h-4zM190 577h4v4h-4zM286 577h4v4h-4zM322 577h4v4h-4zM522 577h4v4h-4zM554 577h8v4h-8zM230 581h4v4h-4zM246 581h4v4h-4zM274 581h4v4h-4zM298 581h4v4h-4zM358 581h4v4h-4zM410 581h4v4h-4zM230 585h4v4h-4zM246 585h4v4h-4zM298 585h4v4h-4zM522 585h4v4h-4zM566 585h4v4h-4zM182 589h4v4h-4zM270 589h4v4h-4zM302 589h4v4h-4zM318 589h4v4h-4zM398 589h4v4h-4zM506 589h4v4h-4zM526 589h4v4h-4zM534 589h4v4h-4zM546 589h4v4h-4zM566 589h4v4h-4zM90 593h4v4h-4zM330 593h4v4h-4zM350 593h8v4h-8zM522 593h8v4h-8zM542 593h8v4h-8zM558 593h4v4h-4zM582 593h4v4h-4zM102 597h4v4h-4zM114 597h8v4h-8zM142 597h4v4h-4zM282 597h4v4h-4zM474 597h4v4h-4zM498 597h4v4h-4zM510 597h4v4h-4zM578 597h4v4h-4zM178 601h4v4h-4zM278 601h4v4h-4zM398 601h4v4h-4zM406 601h4v4h-4zM506 601h4v4h-4zM530 601h4v4h-4zM178 605h8v4h-8zM190 605h4v4h-4zM550 605h4v4h-4z"/><path fill="#7d1e6d" d="M246 93h4v4h-4zM366 93h4v4h-4zM530 93h8v4h-8zM438 97h4v4h-4zM550 97h4v4h-4zM442 101h4v4h-4zM478 101h4v4h-4zM378 105h4v4h-4zM494 105h4v4h-4zM470 109h4v4h-4zM502 109h4v4h-4zM534 109h4v4h-4zM550 109h4v4h-4zM362 113h4v4h-4zM498 113h4v4h-4zM506 113h4v4h-4zM518 113h4v4h-4zM526 113h4v4h-4zM538 113h4v4h-4zM362 117h4v4h-4zM386 117h8v4h-8zM442 117h4v4h-4zM562 117h4v4h-4zM518 125h4v4h-4zM590 125h4v4h-4zM566 129h4v4h-4zM386 133h4v4h-4zM406 133h4v4h-4zM458 133h8v4h-8zM554 133h4v4h-4zM374 137h4v4h-4zM418 137h4v4h-4zM386 141h4v4h-4zM490 141h4v4h-4zM498 141h4v4h-4zM418 145h4v4h-4zM154 149h4v4h-4zM558 149h4v4h-4zM162 153h8v4h-8zM502 153h4v4h-4zM538 153h12v4h-12zM178 157h4v4h-4zM498 157h4v4h-4zM142 161h4v4h-4zM162 161h4v4h-4zM190 161h4v4h-4zM582 161h4v4h-4zM150 165h4v4h-4zM190 165h4v4h-4zM386 169h4v4h-4zM534 169h4v4h-4zM522 173h4v4h-4zM142 177h4v4h-4zM130 181h4v4h-4zM146 181h4v4h-4zM170 181h8v4h-8zM442 181h4v4h-4zM474 181h4v4h-4zM118 185h4v4h-4zM474 185h4v4h-4zM486 185h4v4h-4zM154 189h4v4h-4zM386 193h4v4h-4zM130 197h4v4h-4zM438 197h4v4h-4zM122 201h4v4h-4zM382 201h4v4h-4zM426 201h4v4h-4zM566 201h4v4h-4zM138 205h4v4h-4zM570 205h4v4h-4zM414 209h4v4h-4zM430 213h4v4h-4zM454 217h4v4h-4zM486 217h8v4h-8zM506 225h4v4h-4zM534 225h4v4h-4zM546 225h4v4h-4zM518 237h4v4h-4zM542 237h4v4h-4zM406 241h4v4h-4zM534 241h4v4h-4zM398 257h4v4h-4zM450 257h4v4h-4zM530 257h4v4h-4zM446 261h4v4h-4zM90 265h4v4h-4zM434 269h4v4h-4zM110 277h4v4h-4zM470 277h4v4h-4zM526 277h4v4h-4zM110 281h4v4h-4zM534 281h4v4h-4zM570 281h8v4h-8zM498 285h4v4h-4zM94 289h4v4h-4zM78 293h4v4h-4zM566 293h4v4h-4zM522 297h4v4h-4zM570 297h4v4h-4zM122 301h4v4h-4zM486 301h4v4h-4zM562 301h4v4h-4zM86 309h4v4h-4zM474 309h4v4h-4zM506 309h4v4h-4zM86 313h4v4h-4zM130 313h4v4h-4zM382 313h4v4h-4zM490 313h4v4h-4zM498 313h4v4h-4zM406 317h4v4h-4zM470 317h4v4h-4zM94 321h4v4h-4zM374 321h4v4h-4zM514 321h4v4h-4zM314 325h4v4h-4zM322 325h4v4h-4zM506 325h4v4h-4zM534 325h4v4h-4zM106 329h4v4h-4zM538 329h4v4h-4zM102 333h4v4h-4zM318 333h4v4h-4zM362 333h4v4h-4zM374 333h4v4h-4zM402 333h4v4h-4zM410 333h4v4h-4zM498 333h4v4h-4zM90 337h4v4h-4zM482 337h4v4h-4zM546 337h4v4h-4zM526 341h4v4h-4zM538 341h4v4h-4zM554 341h4v4h-4zM522 345h4v4h-4zM562 345h8v4h-8zM346 349h4v4h-4zM358 349h4v4h-4zM418 349h4v4h-4zM550 349h4v4h-4zM566 349h4v4h-4zM590 349h4v4h-4zM290 353h4v4h-4zM350 353h4v4h-4zM542 353h8v4h-8zM566 353h4v4h-4zM198 357h4v4h-4zM210 357h8v4h-8zM270 357h4v4h-4zM290 357h4v4h-4zM306 357h4v4h-4zM266 361h4v4h-4zM290 361h4v4h-4zM466 361h4v4h-4zM278 365h4v4h-4zM490 365h4v4h-4zM514 365h4v4h-4zM542 365h4v4h-4zM270 369h4v4h-4zM286 369h4v4h-4zM562 369h8v4h-8zM210 373h4v4h-4zM518 373h4v4h-4zM538 373h4v4h-4zM210 377h4v4h-4zM390 377h4v4h-4zM410 377h4v4h-4zM202 381h4v4h-4zM386 381h8v4h-8zM550 381h4v4h-4zM578 381h4v4h-4zM154 385h4v4h-4zM202 385h4v4h-4zM406 385h4v4h-4zM510 385h4v4h-4zM122 389h4v4h-4zM514 389h4v4h-4zM114 393h4v4h-4zM158 393h4v4h-4zM402 393h4v4h-4zM98 397h4v4h-4zM122 397h4v4h-4zM270 397h4v4h-4zM398 397h4v4h-4zM102 401h4v4h-4zM178 401h4v4h-4zM198 401h4v4h-4zM518 401h4v4h-4zM546 401h4v4h-4zM110 405h4v4h-4zM270 405h4v4h-4zM354 405h4v4h-4zM542 405h4v4h-4zM86 409h4v4h-4zM130 409h4v4h-4zM266 409h4v4h-4zM518 409h4v4h-4zM590 409h4v4h-4zM82 413h8v4h-8zM362 413h4v4h-4zM522 413h4v4h-4zM182 417h4v4h-4zM290 417h4v4h-4zM282 421h4v4h-4zM366 421h4v4h-4zM94 425h4v4h-4zM586 425h4v4h-4zM462 433h8v4h-8zM170 437h4v4h-4zM362 437h4v4h-4zM438 437h4v4h-4zM438 441h4v4h-4zM466 441h4v4h-4zM482 441h8v4h-8zM434 445h4v4h-4zM478 445h4v4h-4zM498 445h4v4h-4zM522 445h4v4h-4zM374 449h4v4h-4zM130 457h4v4h-4zM146 457h4v4h-4zM386 457h4v4h-4zM462 457h4v4h-4zM342 461h4v4h-4zM366 461h4v4h-4zM342 465h4v4h-4zM406 469h4v4h-4zM578 469h4v4h-4zM362 473h4v4h-4zM374 473h4v4h-4zM510 473h4v4h-4zM118 477h4v4h-4zM126 477h4v4h-4zM326 477h4v4h-4zM502 477h4v4h-4zM562 481h4v4h-4zM78 485h4v4h-4zM86 485h4v4h-4zM318 485h4v4h-4zM374 485h4v4h-4zM466 485h4v4h-4zM574 485h4v4h-4zM138 489h4v4h-4zM206 489h12v4h-12zM574 489h4v4h-4zM78 493h4v4h-4zM130 493h4v4h-4zM202 493h4v4h-4zM210 493h8v4h-8zM274 493h4v4h-4zM314 493h4v4h-4zM574 493h4v4h-4zM214 497h4v4h-4zM234 497h4v4h-4zM402 497h4v4h-4zM290 501h4v4h-4zM402 501h4v4h-4zM586 501h4v4h-4zM334 505h4v4h-4zM378 505h4v4h-4zM442 505h4v4h-4zM586 505h4v4h-4zM142 509h4v4h-4zM150 509h4v4h-4zM270 509h4v4h-4zM374 509h4v4h-4zM554 509h4v4h-4zM210 513h8v4h-8zM266 513h4v4h-4zM550 513h4v4h-4zM590 513h4v4h-4zM82 517h4v4h-4zM94 517h4v4h-4zM154 517h4v4h-4zM274 517h4v4h-4zM374 517h4v4h-4zM394 517h4v4h-4zM442 517h4v4h-4zM558 517h4v4h-4zM86 521h4v4h-4zM390 521h4v4h-4zM562 521h4v4h-4zM206 525h4v4h-4zM450 525h4v4h-4zM546 525h4v4h-4zM558 525h4v4h-4zM258 529h4v4h-4zM166 533h4v4h-4zM442 533h4v4h-4zM190 537h4v4h-4zM250 537h4v4h-4zM266 537h4v4h-4zM98 541h4v4h-4zM266 541h4v4h-4zM154 545h4v4h-4zM286 545h4v4h-4zM298 545h4v4h-4zM310 545h4v4h-4zM322 545h4v4h-4zM386 545h4v4h-4zM86 549h4v4h-4zM102 549h4v4h-4zM126 549h4v4h-4zM238 549h4v4h-4zM294 549h4v4h-4zM314 549h4v4h-4zM422 549h4v4h-4zM98 553h4v4h-4zM122 553h4v4h-4zM290 553h4v4h-4zM454 553h4v4h-4zM90 557h4v4h-4zM290 557h4v4h-4zM374 557h4v4h-4zM418 557h4v4h-4zM454 557h4v4h-4zM274 561h4v4h-4zM362 561h4v4h-4zM98 565h4v4h-4zM242 565h4v4h-4zM270 565h4v4h-4zM530 565h4v4h-4zM538 565h4v4h-4zM570 565h4v4h-4zM242 569h4v4h-4zM254 569h4v4h-4zM294 569h4v4h-4zM366 569h4v4h-4zM494 569h4v4h-4zM534 569h4v4h-4zM578 569h8v4h-8zM190 573h4v4h-4zM238 573h4v4h-4zM290 573h4v4h-4zM314 573h4v4h-4zM578 573h4v4h-4zM150 577h4v4h-4zM230 577h4v4h-4zM242 577h4v4h-4zM258 577h8v4h-8zM270 577h4v4h-4zM306 577h8v4h-8zM422 577h4v4h-4zM526 577h4v4h-4zM534 577h4v4h-4zM578 577h4v4h-4zM150 581h4v4h-4zM210 581h4v4h-4zM286 581h4v4h-4zM310 581h4v4h-4zM342 581h4v4h-4zM274 585h4v4h-4zM286 585h4v4h-4zM358 585h4v4h-4zM498 585h4v4h-4zM514 585h4v4h-4zM530 585h4v4h-4zM82 589h4v4h-4zM94 589h4v4h-4zM298 589h4v4h-4zM406 589h4v4h-4zM518 589h4v4h-4zM542 589h4v4h-4zM146 593h4v4h-4zM182 593h4v4h-4zM250 593h4v4h-4zM414 593h4v4h-4zM498 593h4v4h-4zM566 593h4v4h-4zM586 593h4v4h-4zM134 597h4v4h-4zM278 597h4v4h-4zM302 597h4v4h-4zM418 597h4v4h-4zM494 597h4v4h-4zM574 597h4v4h-4zM106 601h4v4h-4zM114 601h4v4h-4zM186 601h4v4h-4zM302 601h4v4h-4zM410 601h4v4h-4zM510 601h4v4h-4zM562 601h4v4h-4zM110 605h4v4h-4zM186 605h4v4h-4zM306 605h4v4h-4zM490 605h8v4h-8zM534 605h8v4h-8zM570 605h4v4h-4z"/><path fill="#801f6c" d="M466 93h4v4h-4zM502 93h4v4h-4zM482 97h4v4h-4zM506 97h4v4h-4zM538 97h4v4h-4zM258 101h4v4h-4zM482 101h4v4h-4zM518 101h4v4h-4zM450 105h4v4h-4zM470 105h4v4h-4zM462 109h4v4h-4zM506 109h4v4h-4zM530 109h4v4h-4zM358 113h4v4h-4zM546 113h4v4h-4zM554 113h4v4h-4zM446 117h4v4h-4zM482 117h4v4h-4zM494 117h4v4h-4zM506 117h4v4h-4zM474 121h8v4h-8zM398 125h4v4h-4zM514 125h4v4h-4zM526 125h4v4h-4zM534 125h4v4h-4zM586 125h4v4h-4zM378 129h4v4h-4zM410 129h4v4h-4zM418 129h4v4h-4zM546 129h4v4h-4zM378 133h4v4h-4zM386 137h4v4h-4zM498 137h4v4h-4zM378 141h8v4h-8zM402 141h4v4h-4zM486 141h4v4h-4zM498 145h4v4h-4zM158 149h4v4h-4zM174 153h4v4h-4zM182 153h4v4h-4zM378 153h4v4h-4zM142 157h4v4h-4zM386 157h8v4h-8zM550 157h4v4h-4zM582 157h8v4h-8zM174 161h4v4h-4zM590 161h4v4h-4zM530 165h4v4h-4zM586 165h4v4h-4zM154 169h4v4h-4zM182 173h4v4h-4zM126 177h4v4h-4zM182 177h4v4h-4zM386 177h4v4h-4zM122 181h4v4h-4zM166 181h4v4h-4zM370 181h4v4h-4zM470 181h4v4h-4zM174 185h4v4h-4zM506 185h4v4h-4zM534 185h4v4h-4zM106 189h4v4h-4zM150 189h4v4h-4zM398 189h4v4h-4zM490 189h4v4h-4zM398 193h4v4h-4zM134 197h4v4h-4zM422 197h4v4h-4zM562 197h4v4h-4zM422 201h4v4h-4zM414 213h4v4h-4zM386 217h4v4h-4zM422 217h4v4h-4zM486 221h4v4h-4zM542 221h4v4h-4zM550 221h4v4h-4zM378 229h4v4h-4zM510 229h4v4h-4zM382 233h4v4h-4zM558 233h4v4h-4zM526 237h4v4h-4zM570 237h4v4h-4zM446 241h4v4h-4zM542 245h4v4h-4zM518 257h4v4h-4zM526 261h8v4h-8zM86 265h4v4h-4zM418 265h4v4h-4zM82 269h4v4h-4zM482 269h4v4h-4zM550 269h4v4h-4zM78 277h4v4h-4zM458 277h4v4h-4zM554 281h4v4h-4zM82 285h4v4h-4zM462 285h4v4h-4zM474 285h4v4h-4zM102 289h4v4h-4zM462 289h4v4h-4zM82 293h4v4h-4zM478 293h4v4h-4zM122 297h4v4h-4zM398 297h4v4h-4zM486 297h4v4h-4zM590 297h4v4h-4zM118 301h4v4h-4zM126 301h4v4h-4zM578 301h4v4h-4zM482 305h4v4h-4zM82 309h4v4h-4zM90 309h4v4h-4zM494 309h4v4h-4zM554 309h4v4h-4zM574 309h4v4h-4zM94 317h4v4h-4zM114 317h4v4h-4zM510 317h4v4h-4zM106 321h4v4h-4zM314 321h8v4h-8zM406 321h4v4h-4zM474 321h4v4h-4zM94 325h4v4h-4zM370 325h4v4h-4zM406 325h4v4h-4zM514 325h4v4h-4zM578 325h4v4h-4zM94 329h4v4h-4zM102 329h4v4h-4zM110 329h4v4h-4zM326 329h4v4h-4zM586 329h4v4h-4zM82 333h4v4h-4zM310 337h4v4h-4zM350 337h4v4h-4zM362 337h4v4h-4zM574 337h4v4h-4zM298 341h8v4h-8zM354 341h4v4h-4zM418 341h4v4h-4zM482 341h4v4h-4zM506 341h4v4h-4zM522 341h4v4h-4zM546 349h4v4h-4zM178 353h4v4h-4zM418 353h4v4h-4zM466 353h4v4h-4zM478 353h4v4h-4zM530 353h4v4h-4zM326 357h4v4h-4zM458 357h4v4h-4zM466 357h4v4h-4zM482 357h4v4h-4zM218 361h4v4h-4zM470 361h4v4h-4zM530 361h4v4h-4zM146 365h4v4h-4zM286 365h4v4h-4zM466 365h4v4h-4zM518 365h4v4h-4zM530 365h4v4h-4zM558 365h4v4h-4zM566 365h8v4h-8zM146 369h4v4h-4zM210 369h4v4h-4zM466 369h4v4h-4zM534 369h4v4h-4zM138 373h4v4h-4zM474 373h4v4h-4zM130 377h4v4h-4zM474 377h4v4h-4zM518 377h4v4h-4zM538 377h4v4h-4zM566 377h4v4h-4zM274 381h4v4h-4zM366 381h4v4h-4zM466 381h4v4h-4zM510 381h4v4h-4zM582 381h4v4h-4zM126 385h4v4h-4zM494 385h4v4h-4zM538 385h4v4h-4zM198 389h4v4h-4zM270 389h4v4h-4zM354 389h4v4h-4zM402 389h4v4h-4zM554 389h4v4h-4zM566 389h4v4h-4zM118 393h4v4h-4zM126 393h4v4h-4zM358 393h4v4h-4zM370 393h4v4h-4zM182 397h4v4h-4zM266 397h4v4h-4zM382 397h4v4h-4zM542 397h4v4h-4zM262 401h4v4h-4zM526 401h4v4h-4zM542 401h4v4h-4zM266 405h4v4h-4zM274 405h4v4h-4zM374 405h4v4h-4zM482 405h8v4h-8zM514 405h4v4h-4zM354 409h4v4h-4zM382 409h4v4h-4zM522 409h4v4h-4zM354 413h8v4h-8zM514 413h4v4h-4zM530 413h4v4h-4zM78 417h12v4h-12zM94 417h4v4h-4zM110 417h8v4h-8zM270 417h4v4h-4zM286 417h4v4h-4zM494 417h4v4h-4zM514 417h4v4h-4zM534 417h4v4h-4zM554 417h4v4h-4zM78 421h4v4h-4zM182 421h4v4h-4zM270 421h4v4h-4zM358 421h4v4h-4zM534 425h4v4h-4zM434 429h4v4h-4zM426 433h4v4h-4zM566 433h4v4h-4zM462 441h4v4h-4zM290 445h4v4h-4zM298 445h8v4h-8zM350 445h4v4h-4zM430 445h4v4h-4zM466 445h4v4h-4zM158 449h4v4h-4zM334 449h4v4h-4zM434 449h4v4h-4zM326 453h4v4h-4zM366 453h4v4h-4zM418 457h4v4h-4zM478 457h4v4h-4zM82 465h4v4h-4zM366 465h4v4h-4zM414 465h4v4h-4zM334 469h4v4h-4zM82 473h8v4h-8zM326 473h4v4h-4zM426 473h4v4h-4zM86 477h4v4h-4zM138 477h4v4h-4zM466 477h4v4h-4zM590 477h4v4h-4zM98 481h4v4h-4zM118 481h4v4h-4zM566 481h4v4h-4zM106 485h4v4h-4zM114 485h8v4h-8zM566 485h8v4h-8zM98 489h8v4h-8zM570 489h4v4h-4zM454 497h4v4h-4zM590 497h4v4h-4zM110 501h4v4h-4zM150 501h4v4h-4zM238 501h4v4h-4zM262 501h4v4h-4zM454 501h4v4h-4zM526 501h4v4h-4zM570 501h4v4h-4zM142 505h4v4h-4zM150 505h4v4h-4zM202 505h4v4h-4zM234 505h4v4h-4zM402 505h8v4h-8zM102 509h4v4h-4zM186 509h4v4h-4zM202 509h4v4h-4zM222 509h4v4h-4zM438 509h4v4h-4zM582 509h4v4h-4zM78 513h4v4h-4zM190 513h4v4h-4zM270 513h8v4h-8zM586 513h4v4h-4zM210 517h4v4h-4zM210 521h4v4h-4zM438 521h4v4h-4zM154 525h12v4h-12zM262 525h4v4h-4zM398 525h4v4h-4zM430 525h4v4h-4zM122 529h8v4h-8zM154 529h4v4h-4zM166 529h4v4h-4zM218 533h4v4h-4zM94 537h4v4h-4zM158 537h4v4h-4zM214 537h4v4h-4zM274 537h4v4h-4zM390 537h4v4h-4zM430 537h4v4h-4zM154 541h4v4h-4zM218 541h4v4h-4zM438 541h4v4h-4zM242 545h4v4h-4zM282 545h4v4h-4zM550 545h4v4h-4zM578 545h4v4h-4zM178 549h4v4h-4zM186 549h4v4h-4zM274 549h4v4h-4zM310 549h4v4h-4zM382 549h4v4h-4zM546 549h4v4h-4zM174 553h4v4h-4zM238 553h4v4h-4zM294 553h4v4h-4zM502 553h4v4h-4zM514 553h4v4h-4zM582 553h4v4h-4zM138 557h4v4h-4zM270 557h4v4h-4zM314 557h4v4h-4zM426 557h4v4h-4zM454 561h4v4h-4zM246 565h4v4h-4zM294 565h4v4h-4zM78 569h8v4h-8zM214 569h4v4h-4zM246 569h8v4h-8zM290 569h4v4h-4zM526 569h4v4h-4zM554 569h4v4h-4zM590 569h4v4h-4zM274 573h8v4h-8zM286 573h4v4h-4zM310 573h4v4h-4zM430 573h4v4h-4zM590 573h4v4h-4zM246 577h4v4h-4zM346 577h4v4h-4zM358 577h4v4h-4zM430 577h4v4h-4zM90 581h4v4h-4zM506 581h4v4h-4zM538 581h4v4h-4zM194 585h4v4h-4zM202 585h4v4h-4zM210 585h4v4h-4zM534 585h4v4h-4zM546 585h4v4h-4zM522 589h4v4h-4zM530 589h4v4h-4zM82 593h4v4h-4zM118 593h4v4h-4zM190 593h4v4h-4zM302 593h4v4h-4zM410 593h4v4h-4zM494 593h4v4h-4zM530 593h4v4h-4zM590 593h4v4h-4zM86 597h4v4h-4zM178 597h4v4h-4zM190 597h4v4h-4zM406 597h4v4h-4zM558 597h4v4h-4zM570 597h4v4h-4zM270 601h4v4h-4zM286 601h4v4h-4zM570 601h4v4h-4zM106 605h4v4h-4zM266 605h4v4h-4zM274 605h4v4h-4zM502 605h4v4h-4zM510 605h4v4h-4zM566 605h4v4h-4z"/><path fill="#84206b" d="M258 93h4v4h-4zM446 93h4v4h-4zM462 93h4v4h-4zM494 93h4v4h-4zM510 93h8v4h-8zM542 93h8v4h-8zM522 97h8v4h-8zM426 101h4v4h-4zM374 105h4v4h-4zM442 105h4v4h-4zM426 109h4v4h-4zM526 109h4v4h-4zM534 113h4v4h-4zM542 113h4v4h-4zM414 117h4v4h-4zM374 121h4v4h-4zM394 121h4v4h-4zM418 121h4v4h-4zM582 125h4v4h-4zM382 129h4v4h-4zM514 129h4v4h-4zM370 133h4v4h-4zM510 133h4v4h-4zM394 137h4v4h-4zM434 137h4v4h-4zM458 137h4v4h-4zM394 141h4v4h-4zM398 145h4v4h-4zM182 149h4v4h-4zM402 149h4v4h-4zM502 149h4v4h-4zM150 153h4v4h-4zM386 153h4v4h-4zM162 157h4v4h-4zM554 157h4v4h-4zM138 161h4v4h-4zM574 161h4v4h-4zM178 165h4v4h-4zM550 165h4v4h-4zM178 169h4v4h-4zM374 169h4v4h-4zM382 173h4v4h-4zM554 173h4v4h-4zM118 177h4v4h-4zM526 177h4v4h-4zM114 181h4v4h-4zM142 181h4v4h-4zM182 181h4v4h-4zM378 181h4v4h-4zM126 185h4v4h-4zM142 185h8v4h-8zM154 185h4v4h-4zM470 185h4v4h-4zM490 185h4v4h-4zM538 185h8v4h-8zM494 189h4v4h-4zM522 189h4v4h-4zM530 189h4v4h-4zM110 193h4v4h-4zM382 193h4v4h-4zM118 197h8v4h-8zM498 197h4v4h-4zM118 201h4v4h-4zM490 201h4v4h-4zM106 209h8v4h-8zM490 209h4v4h-4zM390 213h4v4h-4zM430 217h4v4h-4zM510 221h4v4h-4zM590 221h4v4h-4zM510 225h4v4h-4zM374 229h4v4h-4zM382 229h4v4h-4zM566 229h4v4h-4zM390 233h4v4h-4zM526 233h4v4h-4zM578 233h4v4h-4zM534 237h4v4h-4zM530 241h4v4h-4zM406 245h4v4h-4zM382 257h4v4h-4zM366 261h4v4h-4zM414 261h4v4h-4zM102 265h4v4h-4zM414 265h4v4h-4zM518 265h4v4h-4zM526 265h4v4h-4zM78 269h4v4h-4zM86 269h4v4h-4zM530 269h8v4h-8zM558 269h4v4h-4zM98 273h4v4h-4zM406 273h4v4h-4zM430 273h4v4h-4zM438 273h4v4h-4zM458 273h8v4h-8zM562 273h4v4h-4zM102 277h4v4h-4zM466 277h4v4h-4zM522 277h4v4h-4zM558 277h4v4h-4zM90 281h4v4h-4zM458 281h4v4h-4zM506 281h4v4h-4zM550 281h4v4h-4zM582 281h4v4h-4zM94 285h4v4h-4zM506 285h4v4h-4zM534 285h4v4h-4zM82 289h4v4h-4zM114 289h4v4h-4zM578 289h4v4h-4zM102 293h4v4h-4zM538 293h4v4h-4zM590 293h4v4h-4zM478 297h4v4h-4zM562 297h8v4h-8zM586 297h4v4h-4zM466 301h4v4h-4zM490 301h4v4h-4zM538 301h4v4h-4zM106 305h8v4h-8zM386 305h8v4h-8zM522 305h4v4h-4zM574 305h4v4h-4zM590 305h4v4h-4zM130 309h4v4h-4zM518 309h4v4h-4zM558 309h8v4h-8zM90 313h4v4h-4zM114 313h4v4h-4zM78 317h4v4h-4zM90 317h4v4h-4zM122 317h4v4h-4zM310 317h4v4h-4zM386 317h4v4h-4zM498 317h4v4h-4zM506 317h4v4h-4zM86 321h4v4h-4zM114 321h4v4h-4zM378 321h4v4h-4zM466 321h4v4h-4zM506 321h4v4h-4zM86 325h4v4h-4zM98 325h4v4h-4zM90 329h4v4h-4zM98 329h4v4h-4zM406 329h4v4h-4zM94 333h4v4h-4zM366 333h4v4h-4zM398 333h4v4h-4zM586 333h4v4h-4zM502 337h4v4h-4zM570 337h4v4h-4zM78 341h4v4h-4zM306 341h4v4h-4zM494 341h4v4h-4zM546 341h8v4h-8zM486 345h4v4h-4zM466 349h4v4h-4zM174 353h4v4h-4zM338 353h4v4h-4zM354 353h4v4h-4zM474 353h4v4h-4zM418 357h4v4h-4zM474 357h4v4h-4zM418 361h4v4h-4zM570 361h4v4h-4zM142 369h4v4h-4zM310 369h4v4h-4zM554 369h4v4h-4zM142 373h4v4h-4zM566 373h4v4h-4zM134 377h4v4h-4zM462 377h4v4h-4zM494 377h4v4h-4zM502 377h4v4h-4zM470 381h4v4h-4zM494 381h4v4h-4zM498 385h4v4h-4zM530 385h4v4h-4zM554 385h8v4h-8zM114 389h4v4h-4zM126 389h4v4h-4zM158 389h4v4h-4zM374 389h4v4h-4zM518 389h4v4h-4zM562 389h4v4h-4zM498 393h4v4h-4zM526 393h4v4h-4zM390 397h4v4h-4zM182 401h4v4h-4zM370 401h4v4h-4zM474 401h12v4h-12zM474 405h4v4h-4zM498 405h4v4h-4zM586 405h4v4h-4zM94 409h4v4h-4zM102 409h8v4h-8zM482 409h4v4h-4zM498 409h4v4h-4zM94 413h4v4h-4zM106 413h4v4h-4zM466 417h4v4h-4zM94 421h4v4h-4zM274 421h4v4h-4zM586 421h4v4h-4zM366 425h4v4h-4zM462 425h4v4h-4zM482 425h4v4h-4zM518 425h4v4h-4zM370 429h4v4h-4zM462 429h4v4h-4zM514 429h4v4h-4zM510 433h4v4h-4zM178 437h4v4h-4zM174 441h4v4h-4zM498 441h4v4h-4zM158 445h4v4h-4zM462 445h4v4h-4zM474 445h4v4h-4zM370 453h4v4h-4zM398 457h4v4h-4zM578 457h4v4h-4zM82 461h4v4h-4zM142 461h4v4h-4zM406 461h4v4h-4zM418 461h4v4h-4zM362 465h4v4h-4zM82 469h4v4h-4zM330 469h4v4h-4zM362 469h4v4h-4zM418 469h4v4h-4zM322 473h4v4h-4zM414 473h4v4h-4zM422 473h4v4h-4zM462 473h4v4h-4zM502 473h4v4h-4zM210 477h4v4h-4zM426 477h4v4h-4zM106 481h4v4h-4zM318 481h4v4h-4zM586 481h4v4h-4zM406 485h4v4h-4zM462 485h4v4h-4zM446 489h4v4h-4zM458 489h4v4h-4zM494 489h8v4h-8zM566 489h4v4h-4zM146 493h4v4h-4zM406 493h4v4h-4zM414 493h4v4h-4zM114 497h4v4h-4zM206 497h4v4h-4zM218 497h8v4h-8zM266 497h4v4h-4zM146 501h4v4h-4zM450 501h4v4h-4zM582 501h4v4h-4zM146 505h4v4h-4zM566 505h4v4h-4zM582 505h4v4h-4zM194 509h8v4h-8zM158 513h4v4h-4zM218 513h4v4h-4zM394 513h4v4h-4zM438 513h4v4h-4zM122 517h4v4h-4zM390 517h4v4h-4zM446 517h4v4h-4zM538 517h4v4h-4zM154 521h4v4h-4zM270 521h4v4h-4zM586 521h4v4h-4zM170 525h4v4h-4zM274 525h4v4h-4zM426 525h4v4h-4zM586 525h4v4h-4zM186 529h4v4h-4zM270 529h4v4h-4zM278 529h4v4h-4zM442 529h4v4h-4zM150 533h4v4h-4zM170 533h4v4h-4zM214 533h4v4h-4zM434 533h4v4h-4zM134 537h4v4h-4zM150 537h4v4h-4zM218 537h4v4h-4zM286 537h4v4h-4zM306 537h4v4h-4zM78 541h4v4h-4zM278 541h4v4h-4zM306 541h8v4h-8zM322 541h4v4h-4zM90 545h4v4h-4zM150 545h4v4h-4zM266 545h8v4h-8zM314 545h4v4h-4zM298 549h4v4h-4zM186 553h4v4h-4zM422 553h4v4h-4zM78 557h8v4h-8zM242 557h4v4h-4zM550 557h4v4h-4zM570 557h4v4h-4zM294 561h4v4h-4zM318 561h4v4h-4zM542 561h12v4h-12zM194 565h12v4h-12zM534 565h4v4h-4zM554 565h4v4h-4zM258 569h4v4h-4zM282 569h8v4h-8zM570 569h4v4h-4zM226 573h12v4h-12zM242 573h4v4h-4zM254 573h8v4h-8zM358 573h4v4h-4zM554 573h4v4h-4zM206 577h4v4h-4zM250 577h4v4h-4zM266 577h4v4h-4zM350 577h8v4h-8zM538 577h4v4h-4zM194 581h4v4h-4zM326 581h4v4h-4zM514 581h4v4h-4zM590 581h4v4h-4zM206 585h4v4h-4zM338 585h4v4h-4zM506 585h4v4h-4zM542 585h4v4h-4zM334 589h4v4h-4zM402 589h4v4h-4zM498 589h4v4h-4zM178 593h4v4h-4zM278 593h4v4h-4zM342 593h8v4h-8zM562 593h4v4h-4zM106 597h4v4h-4zM138 597h4v4h-4zM254 597h4v4h-4zM330 597h4v4h-4zM350 597h4v4h-4zM542 597h8v4h-8zM590 597h4v4h-4zM190 601h4v4h-4zM242 601h4v4h-4zM294 601h4v4h-4zM342 601h4v4h-4zM246 605h4v4h-4z"/><path fill="#87216b" d="M466 97h4v4h-4zM438 101h4v4h-4zM470 101h4v4h-4zM426 105h4v4h-4zM358 109h4v4h-4zM378 109h4v4h-4zM466 109h4v4h-4zM378 113h4v4h-4zM422 113h4v4h-4zM470 113h4v4h-4zM378 117h4v4h-4zM430 117h4v4h-4zM374 125h8v4h-8zM386 125h4v4h-4zM418 125h8v4h-8zM406 129h4v4h-4zM582 129h4v4h-4zM502 133h4v4h-4zM550 133h4v4h-4zM366 137h4v4h-4zM94 141h4v4h-4zM550 153h4v4h-4zM558 153h4v4h-4zM166 157h4v4h-4zM134 161h4v4h-4zM146 161h4v4h-4zM178 161h4v4h-4zM138 165h8v4h-8zM554 165h4v4h-4zM126 169h4v4h-4zM158 169h4v4h-4zM182 169h4v4h-4zM578 169h4v4h-4zM186 173h4v4h-4zM378 173h4v4h-4zM458 173h4v4h-4zM526 173h4v4h-4zM538 173h8v4h-8zM122 177h4v4h-4zM130 177h4v4h-4zM374 177h4v4h-4zM382 177h4v4h-4zM126 181h4v4h-4zM158 181h4v4h-4zM190 181h4v4h-4zM186 185h4v4h-4zM374 189h4v4h-4zM510 189h4v4h-4zM106 193h4v4h-4zM370 193h4v4h-4zM126 197h4v4h-4zM138 197h4v4h-4zM170 197h4v4h-4zM566 197h4v4h-4zM390 201h4v4h-4zM94 205h4v4h-4zM118 205h4v4h-4zM478 205h4v4h-4zM386 209h4v4h-4zM382 213h8v4h-8zM410 213h4v4h-4zM478 213h4v4h-4zM586 221h4v4h-4zM586 225h4v4h-4zM386 233h4v4h-4zM506 233h4v4h-4zM518 233h4v4h-4zM562 233h8v4h-8zM514 241h4v4h-4zM542 241h4v4h-4zM402 245h4v4h-4zM554 245h4v4h-4zM406 249h4v4h-4zM538 253h4v4h-4zM402 261h4v4h-4zM90 269h4v4h-4zM98 269h4v4h-4zM406 269h4v4h-4zM538 269h4v4h-4zM418 273h4v4h-4zM426 273h4v4h-4zM522 273h8v4h-8zM558 273h4v4h-4zM506 277h4v4h-4zM518 277h4v4h-4zM86 281h4v4h-4zM398 281h4v4h-4zM410 281h8v4h-8zM474 281h4v4h-4zM526 281h8v4h-8zM542 281h4v4h-4zM118 289h4v4h-4zM502 289h4v4h-4zM590 289h4v4h-4zM114 293h4v4h-4zM122 293h4v4h-4zM506 293h4v4h-4zM586 293h4v4h-4zM482 297h4v4h-4zM82 301h4v4h-4zM114 301h4v4h-4zM394 301h4v4h-4zM102 305h4v4h-4zM122 305h12v4h-12zM394 305h4v4h-4zM94 309h4v4h-4zM78 313h8v4h-8zM94 313h4v4h-4zM106 313h4v4h-4zM414 313h4v4h-4zM502 313h4v4h-4zM98 317h4v4h-4zM382 317h4v4h-4zM502 317h4v4h-4zM98 321h4v4h-4zM370 321h4v4h-4zM382 321h4v4h-4zM490 321h8v4h-8zM90 325h4v4h-4zM386 325h4v4h-4zM410 325h4v4h-4zM82 329h4v4h-4zM310 329h8v4h-8zM346 329h8v4h-8zM534 329h4v4h-4zM590 329h4v4h-4zM462 333h4v4h-4zM578 333h4v4h-4zM110 337h4v4h-4zM298 337h4v4h-4zM306 337h4v4h-4zM414 337h4v4h-4zM494 337h4v4h-4zM550 337h4v4h-4zM350 341h4v4h-4zM334 345h4v4h-4zM466 345h4v4h-4zM170 349h4v4h-4zM202 349h4v4h-4zM342 349h4v4h-4zM542 349h4v4h-4zM342 353h8v4h-8zM470 353h4v4h-4zM534 353h8v4h-8zM346 357h4v4h-4zM162 361h4v4h-4zM138 365h4v4h-4zM418 365h4v4h-4zM554 365h4v4h-4zM266 369h4v4h-4zM518 369h4v4h-4zM146 373h4v4h-4zM266 373h8v4h-8zM562 373h4v4h-4zM590 373h4v4h-4zM418 377h4v4h-4zM126 381h4v4h-4zM266 381h4v4h-4zM462 381h4v4h-4zM570 381h8v4h-8zM590 381h4v4h-4zM122 385h4v4h-4zM358 385h4v4h-4zM118 389h4v4h-4zM202 389h4v4h-4zM378 389h4v4h-4zM406 389h4v4h-4zM502 389h4v4h-4zM374 397h4v4h-4zM394 397h4v4h-4zM474 397h4v4h-4zM498 397h4v4h-4zM518 397h4v4h-4zM86 401h4v4h-4zM114 401h4v4h-4zM366 401h4v4h-4zM394 401h4v4h-4zM398 405h4v4h-4zM82 409h4v4h-4zM194 409h4v4h-4zM474 409h4v4h-4zM490 409h4v4h-4zM78 413h4v4h-4zM206 413h4v4h-4zM378 413h4v4h-4zM526 413h4v4h-4zM186 417h4v4h-4zM90 421h4v4h-4zM462 421h4v4h-4zM534 421h4v4h-4zM186 425h4v4h-4zM198 425h4v4h-4zM370 425h4v4h-4zM430 425h4v4h-4zM570 433h4v4h-4zM458 437h4v4h-4zM470 437h4v4h-4zM418 441h8v4h-8zM162 449h4v4h-4zM306 449h4v4h-4zM434 453h4v4h-4zM394 457h4v4h-4zM298 461h4v4h-4zM394 461h4v4h-4zM418 465h4v4h-4zM462 465h4v4h-4zM582 465h4v4h-4zM326 469h4v4h-4zM318 473h4v4h-4zM406 473h8v4h-8zM106 477h4v4h-4zM122 477h4v4h-4zM506 477h4v4h-4zM214 481h4v4h-4zM98 485h4v4h-4zM134 485h4v4h-4zM418 485h4v4h-4zM458 485h4v4h-4zM202 489h4v4h-4zM314 489h4v4h-4zM150 497h4v4h-4zM298 497h8v4h-8zM446 497h4v4h-4zM578 497h4v4h-4zM406 501h8v4h-8zM550 501h4v4h-4zM590 501h4v4h-4zM570 505h4v4h-4zM218 509h4v4h-4zM238 509h4v4h-4zM206 513h4v4h-4zM270 517h4v4h-4zM402 517h4v4h-4zM434 517h4v4h-4zM554 517h4v4h-4zM586 517h4v4h-4zM174 521h4v4h-4zM198 521h4v4h-4zM538 521h4v4h-4zM546 521h4v4h-4zM202 525h4v4h-4zM542 525h4v4h-4zM274 529h4v4h-4zM566 529h4v4h-4zM558 533h8v4h-8zM278 537h4v4h-4zM434 537h4v4h-4zM318 541h4v4h-4zM430 541h4v4h-4zM82 545h4v4h-4zM246 545h4v4h-4zM418 545h4v4h-4zM430 545h4v4h-4zM546 545h4v4h-4zM582 545h4v4h-4zM78 549h4v4h-4zM94 549h4v4h-4zM174 549h4v4h-4zM270 553h4v4h-4zM298 553h4v4h-4zM414 553h4v4h-4zM578 553h4v4h-4zM574 557h4v4h-4zM98 561h4v4h-4zM250 561h4v4h-4zM498 561h4v4h-4zM538 561h4v4h-4zM590 561h4v4h-4zM82 565h4v4h-4zM274 565h4v4h-4zM286 565h4v4h-4zM414 565h4v4h-4zM498 565h4v4h-4zM562 565h4v4h-4zM278 569h4v4h-4zM370 569h4v4h-4zM558 569h4v4h-4zM186 573h4v4h-4zM246 573h4v4h-4zM282 573h4v4h-4zM426 573h4v4h-4zM550 573h4v4h-4zM194 577h4v4h-4zM226 577h4v4h-4zM302 577h4v4h-4zM550 577h4v4h-4zM206 581h4v4h-4zM242 581h4v4h-4zM306 581h4v4h-4zM354 581h4v4h-4zM510 581h4v4h-4zM534 581h4v4h-4zM198 585h4v4h-4zM302 585h4v4h-4zM354 585h4v4h-4zM394 585h4v4h-4zM502 585h4v4h-4zM202 589h4v4h-4zM338 589h4v4h-4zM354 589h4v4h-4zM86 593h4v4h-4zM338 593h4v4h-4zM394 593h4v4h-4zM534 593h4v4h-4zM110 597h4v4h-4zM258 597h4v4h-4zM266 597h4v4h-4zM314 597h8v4h-8zM414 597h4v4h-4zM182 601h4v4h-4zM266 601h4v4h-4zM298 601h4v4h-4zM346 601h4v4h-4zM542 601h4v4h-4zM566 601h4v4h-4zM250 605h4v4h-4zM382 605h4v4h-4z"/><path fill="#8a226a" d="M242 93h4v4h-4zM418 93h4v4h-4zM522 93h4v4h-4zM486 97h4v4h-4zM498 97h4v4h-4zM430 101h4v4h-4zM562 101h4v4h-4zM258 105h4v4h-4zM366 105h4v4h-4zM518 105h4v4h-4zM550 105h4v4h-4zM458 109h4v4h-4zM482 109h4v4h-4zM538 109h4v4h-4zM382 113h8v4h-8zM426 113h4v4h-4zM338 117h4v4h-4zM374 117h4v4h-4zM382 117h4v4h-4zM486 117h4v4h-4zM378 121h8v4h-8zM578 121h4v4h-4zM406 125h4v4h-4zM414 125h4v4h-4zM386 129h12v4h-12zM518 129h4v4h-4zM578 129h4v4h-4zM186 133h4v4h-4zM374 133h4v4h-4zM178 137h8v4h-8zM390 137h4v4h-4zM502 137h4v4h-4zM162 141h8v4h-8zM378 145h4v4h-4zM150 149h4v4h-4zM378 149h4v4h-4zM554 153h4v4h-4zM138 157h4v4h-4zM174 157h4v4h-4zM182 157h4v4h-4zM378 157h4v4h-4zM570 161h4v4h-4zM130 165h4v4h-4zM158 165h4v4h-4zM526 165h4v4h-4zM574 165h4v4h-4zM530 169h4v4h-4zM114 173h4v4h-4zM158 173h4v4h-4zM558 173h4v4h-4zM110 177h4v4h-4zM154 177h4v4h-4zM370 177h4v4h-4zM178 181h4v4h-4zM374 181h4v4h-4zM498 181h4v4h-4zM554 181h4v4h-4zM122 185h4v4h-4zM178 185h8v4h-8zM190 185h4v4h-4zM370 185h8v4h-8zM494 185h4v4h-4zM142 189h8v4h-8zM470 189h4v4h-4zM142 193h12v4h-12zM526 193h4v4h-4zM546 197h4v4h-4zM94 201h4v4h-4zM174 201h4v4h-4zM550 201h4v4h-4zM562 201h4v4h-4zM102 205h8v4h-8zM122 205h4v4h-4zM142 205h4v4h-4zM374 205h4v4h-4zM390 209h4v4h-4zM474 209h4v4h-4zM482 213h4v4h-4zM494 213h4v4h-4zM386 221h4v4h-4zM514 225h4v4h-4zM582 229h4v4h-4zM82 233h4v4h-4zM546 233h4v4h-4zM586 233h4v4h-4zM386 237h4v4h-4zM530 237h4v4h-4zM566 237h4v4h-4zM578 241h8v4h-8zM542 249h12v4h-12zM86 261h4v4h-4zM410 265h4v4h-4zM94 269h4v4h-4zM526 269h4v4h-4zM110 273h4v4h-4zM450 273h8v4h-8zM554 273h4v4h-4zM82 277h4v4h-4zM398 277h4v4h-4zM410 277h8v4h-8zM514 277h4v4h-4zM570 277h4v4h-4zM386 281h4v4h-4zM514 281h8v4h-8zM98 285h4v4h-4zM386 285h4v4h-4zM410 285h8v4h-8zM466 285h4v4h-4zM574 285h4v4h-4zM582 285h4v4h-4zM86 289h4v4h-4zM494 289h4v4h-4zM118 293h4v4h-4zM490 293h4v4h-4zM106 297h16v4h-16zM126 297h4v4h-4zM534 297h4v4h-4zM410 301h4v4h-4zM478 301h4v4h-4zM586 301h4v4h-4zM98 309h4v4h-4zM110 309h4v4h-4zM134 309h4v4h-4zM382 309h4v4h-4zM510 309h4v4h-4zM98 313h4v4h-4zM134 313h4v4h-4zM82 317h4v4h-4zM102 317h4v4h-4zM118 317h4v4h-4zM126 317h4v4h-4zM82 321h4v4h-4zM462 321h4v4h-4zM306 325h4v4h-4zM510 325h4v4h-4zM410 329h4v4h-4zM78 333h4v4h-4zM302 333h8v4h-8zM486 333h8v4h-8zM78 337h4v4h-4zM86 337h4v4h-4zM462 337h4v4h-4zM498 337h4v4h-4zM106 341h4v4h-4zM358 341h4v4h-4zM538 345h4v4h-4zM198 353h12v4h-12zM462 353h4v4h-4zM322 357h4v4h-4zM214 361h4v4h-4zM566 361h4v4h-4zM142 365h4v4h-4zM282 365h4v4h-4zM426 365h8v4h-8zM274 369h12v4h-12zM462 373h4v4h-4zM558 373h4v4h-4zM498 377h4v4h-4zM578 377h4v4h-4zM270 381h4v4h-4zM362 381h4v4h-4zM482 381h4v4h-4zM498 381h4v4h-4zM586 381h4v4h-4zM362 385h4v4h-4zM266 389h4v4h-4zM202 393h4v4h-4zM90 397h4v4h-4zM118 397h4v4h-4zM402 397h4v4h-4zM478 397h12v4h-12zM374 401h4v4h-4zM470 401h4v4h-4zM486 401h4v4h-4zM86 405h4v4h-4zM518 405h4v4h-4zM398 409h4v4h-4zM110 413h4v4h-4zM190 413h4v4h-4zM202 413h4v4h-4zM498 413h4v4h-4zM90 417h4v4h-4zM278 417h8v4h-8zM498 417h4v4h-4zM518 417h4v4h-4zM278 421h4v4h-4zM526 421h8v4h-8zM274 425h8v4h-8zM494 425h8v4h-8zM522 425h4v4h-4zM426 429h4v4h-4zM478 429h4v4h-4zM182 433h4v4h-4zM182 437h4v4h-4zM462 437h4v4h-4zM510 437h8v4h-8zM430 441h4v4h-4zM414 449h4v4h-4zM454 449h4v4h-4zM526 449h4v4h-4zM382 453h4v4h-4zM398 453h4v4h-4zM410 453h4v4h-4zM454 453h4v4h-4zM302 457h4v4h-4zM430 457h4v4h-4zM470 457h4v4h-4zM174 461h8v4h-8zM302 461h4v4h-4zM578 465h4v4h-4zM410 469h8v4h-8zM506 473h4v4h-4zM214 477h4v4h-4zM210 481h4v4h-4zM414 481h4v4h-4zM470 481h4v4h-4zM206 485h4v4h-4zM314 485h4v4h-4zM586 485h4v4h-4zM406 489h4v4h-4zM238 493h4v4h-4zM250 493h4v4h-4zM418 493h4v4h-4zM578 493h4v4h-4zM226 497h4v4h-4zM254 497h4v4h-4zM294 497h4v4h-4zM414 497h4v4h-4zM582 497h4v4h-4zM154 505h4v4h-4zM186 505h4v4h-4zM246 505h4v4h-4zM334 509h4v4h-4zM374 513h4v4h-4zM398 513h4v4h-4zM554 513h4v4h-4zM190 521h4v4h-4zM182 525h4v4h-4zM198 525h4v4h-4zM170 529h4v4h-4zM262 529h8v4h-8zM426 529h4v4h-4zM202 537h4v4h-4zM94 541h4v4h-4zM198 541h4v4h-4zM250 541h4v4h-4zM262 541h4v4h-4zM314 541h4v4h-4zM86 545h4v4h-4zM182 549h4v4h-4zM266 549h4v4h-4zM414 549h4v4h-4zM570 549h8v4h-8zM78 553h8v4h-8zM262 553h4v4h-4zM382 553h4v4h-4zM94 557h8v4h-8zM254 557h4v4h-4zM286 561h4v4h-4zM314 561h4v4h-4zM374 561h4v4h-4zM558 561h4v4h-4zM94 565h4v4h-4zM218 569h4v4h-4zM410 569h8v4h-8zM546 569h4v4h-4zM262 573h8v4h-8zM362 573h4v4h-4zM214 577h4v4h-4zM326 577h4v4h-4zM590 577h4v4h-4zM362 581h4v4h-4zM426 581h4v4h-4zM362 585h4v4h-4zM386 585h8v4h-8zM406 585h4v4h-4zM194 589h8v4h-8zM386 589h4v4h-4zM502 589h4v4h-4zM274 593h4v4h-4zM390 593h4v4h-4zM182 597h4v4h-4zM294 597h4v4h-4zM386 597h4v4h-4zM394 597h4v4h-4zM582 597h4v4h-4zM110 601h4v4h-4zM386 601h4v4h-4zM534 601h8v4h-8zM194 605h4v4h-4zM386 605h4v4h-4z"/><path fill="#8d2369" d="M354 93h4v4h-4zM414 93h4v4h-4zM438 93h8v4h-8zM506 93h4v4h-4zM518 93h4v4h-4zM242 97h4v4h-4zM254 97h4v4h-4zM262 97h4v4h-4zM386 97h4v4h-4zM434 97h4v4h-4zM454 97h4v4h-4zM254 101h4v4h-4zM422 101h4v4h-4zM454 101h4v4h-4zM494 101h4v4h-4zM550 101h4v4h-4zM238 105h4v4h-4zM254 105h4v4h-4zM370 105h4v4h-4zM362 109h4v4h-4zM418 109h4v4h-4zM454 109h4v4h-4zM494 109h4v4h-4zM374 113h4v4h-4zM490 113h8v4h-8zM410 117h4v4h-4zM422 117h4v4h-4zM470 117h4v4h-4zM362 121h4v4h-4zM370 121h4v4h-4zM414 121h4v4h-4zM422 121h4v4h-4zM582 121h4v4h-4zM382 125h4v4h-4zM578 125h4v4h-4zM366 133h4v4h-4zM394 133h4v4h-4zM506 133h4v4h-4zM182 141h4v4h-4zM398 141h4v4h-4zM402 145h4v4h-4zM170 153h4v4h-4zM498 153h4v4h-4zM194 157h4v4h-4zM566 161h4v4h-4zM154 165h4v4h-4zM186 165h4v4h-4zM538 165h4v4h-4zM122 173h4v4h-4zM178 173h4v4h-4zM386 173h4v4h-4zM158 177h4v4h-4zM178 177h4v4h-4zM378 177h4v4h-4zM558 177h4v4h-4zM106 185h4v4h-4zM514 189h4v4h-4zM154 193h12v4h-12zM514 193h4v4h-4zM174 197h4v4h-4zM382 197h4v4h-4zM98 201h4v4h-4zM138 201h4v4h-4zM486 201h4v4h-4zM546 201h4v4h-4zM570 201h4v4h-4zM98 205h4v4h-4zM390 205h4v4h-4zM566 205h4v4h-4zM138 209h4v4h-4zM486 209h4v4h-4zM494 209h4v4h-4zM426 217h4v4h-4zM566 221h12v4h-12zM582 225h4v4h-4zM506 229h4v4h-4zM518 229h4v4h-4zM546 229h4v4h-4zM570 229h4v4h-4zM370 233h4v4h-4zM522 233h4v4h-4zM530 233h4v4h-4zM554 233h4v4h-4zM374 237h4v4h-4zM558 237h4v4h-4zM574 237h8v4h-8zM586 237h4v4h-4zM402 241h4v4h-4zM390 249h4v4h-4zM390 253h4v4h-4zM398 253h4v4h-4zM418 257h8v4h-8zM90 261h4v4h-4zM398 261h4v4h-4zM406 261h4v4h-4zM422 261h4v4h-4zM542 265h4v4h-4zM554 265h4v4h-4zM510 277h4v4h-4zM394 281h4v4h-4zM466 281h4v4h-4zM522 281h4v4h-4zM546 281h4v4h-4zM590 281h4v4h-4zM114 285h4v4h-4zM458 285h4v4h-4zM470 285h4v4h-4zM90 289h4v4h-4zM406 289h8v4h-8zM506 289h4v4h-4zM94 293h4v4h-4zM462 293h4v4h-4zM526 293h4v4h-4zM570 293h8v4h-8zM518 297h4v4h-4zM102 301h4v4h-4zM386 301h8v4h-8zM522 301h4v4h-4zM506 305h4v4h-4zM102 309h8v4h-8zM410 313h4v4h-4zM86 317h4v4h-4zM322 317h4v4h-4zM374 317h4v4h-4zM414 317h4v4h-4zM322 321h4v4h-4zM410 321h4v4h-4zM470 321h4v4h-4zM510 321h4v4h-4zM82 325h4v4h-4zM330 325h4v4h-4zM414 325h4v4h-4zM458 325h4v4h-4zM574 325h4v4h-4zM306 329h4v4h-4zM330 329h4v4h-4zM342 329h4v4h-4zM362 329h8v4h-8zM98 333h4v4h-4zM314 333h4v4h-4zM414 333h4v4h-4zM574 333h4v4h-4zM330 337h4v4h-4zM418 337h4v4h-4zM542 341h4v4h-4zM78 345h4v4h-4zM286 349h4v4h-4zM538 349h4v4h-4zM422 353h4v4h-4zM90 357h4v4h-4zM222 357h4v4h-4zM478 357h4v4h-4zM542 357h12v4h-12zM566 357h4v4h-4zM90 361h4v4h-4zM422 361h4v4h-4zM514 361h4v4h-4zM522 373h4v4h-4zM458 377h4v4h-4zM490 377h4v4h-4zM206 381h4v4h-4zM410 381h4v4h-4zM530 381h4v4h-4zM538 381h4v4h-4zM118 385h4v4h-4zM514 385h8v4h-8zM82 389h4v4h-4zM154 389h4v4h-4zM362 389h4v4h-4zM558 389h4v4h-4zM110 393h4v4h-4zM206 393h4v4h-4zM374 393h4v4h-4zM390 393h4v4h-4zM474 393h4v4h-4zM202 397h8v4h-8zM470 397h4v4h-4zM202 401h4v4h-4zM378 401h4v4h-4zM198 405h4v4h-4zM386 405h4v4h-4zM414 405h8v4h-8zM470 405h4v4h-4zM362 409h4v4h-4zM374 413h4v4h-4zM190 417h4v4h-4zM470 417h4v4h-4zM522 417h4v4h-4zM466 421h4v4h-4zM498 421h4v4h-4zM458 425h4v4h-4zM570 429h4v4h-4zM426 441h4v4h-4zM454 441h4v4h-4zM470 441h4v4h-4zM178 445h4v4h-4zM454 445h4v4h-4zM194 453h4v4h-4zM426 457h4v4h-4zM474 457h4v4h-4zM170 461h4v4h-4zM338 461h4v4h-4zM390 461h4v4h-4zM142 465h4v4h-4zM170 465h4v4h-4zM338 469h4v4h-4zM210 473h4v4h-4zM206 477h4v4h-4zM206 481h4v4h-4zM458 481h4v4h-4zM102 485h4v4h-4zM234 493h4v4h-4zM410 493h4v4h-4zM242 497h4v4h-4zM410 497h4v4h-4zM114 501h4v4h-4zM182 501h8v4h-8zM202 501h4v4h-4zM242 501h8v4h-8zM254 501h4v4h-4zM286 501h4v4h-4zM446 501h4v4h-4zM238 505h4v4h-4zM394 505h8v4h-8zM246 509h4v4h-4zM406 509h4v4h-4zM186 513h4v4h-4zM402 513h4v4h-4zM266 517h4v4h-4zM590 517h4v4h-4zM266 521h4v4h-4zM442 521h8v4h-8zM558 521h4v4h-4zM190 525h4v4h-4zM434 525h4v4h-4zM438 529h4v4h-4zM190 533h4v4h-4zM202 533h4v4h-4zM254 537h4v4h-4zM418 537h8v4h-8zM286 541h4v4h-4zM250 545h4v4h-4zM262 545h4v4h-4zM414 545h4v4h-4zM82 549h4v4h-4zM98 549h4v4h-4zM578 549h4v4h-4zM378 557h4v4h-4zM414 557h4v4h-4zM82 561h4v4h-4zM494 561h4v4h-4zM86 565h8v4h-8zM374 565h4v4h-4zM250 573h4v4h-4zM270 573h4v4h-4zM366 573h4v4h-4zM186 577h4v4h-4zM366 577h4v4h-4zM406 577h4v4h-4zM214 581h4v4h-4zM226 581h4v4h-4zM346 581h4v4h-4zM542 581h4v4h-4zM86 585h4v4h-4zM226 585h4v4h-4zM398 585h4v4h-4zM342 589h4v4h-4zM350 589h4v4h-4zM298 593h4v4h-4zM334 593h4v4h-4zM410 597h4v4h-4zM562 597h8v4h-8zM382 601h4v4h-4zM546 601h4v4h-4z"/><path fill="#902568" d="M450 93h4v4h-4zM486 93h4v4h-4zM550 93h4v4h-4zM558 93h8v4h-8zM414 97h4v4h-4zM426 97h4v4h-4zM462 97h4v4h-4zM238 101h4v4h-4zM262 101h4v4h-4zM282 101h4v4h-4zM370 101h8v4h-8zM522 101h4v4h-4zM454 105h4v4h-4zM366 109h4v4h-4zM422 109h4v4h-4zM518 109h4v4h-4zM558 109h4v4h-4zM486 113h4v4h-4zM530 113h4v4h-4zM490 117h4v4h-4zM370 125h4v4h-4zM570 129h4v4h-4zM390 133h4v4h-4zM174 141h4v4h-4zM374 141h4v4h-4zM182 145h4v4h-4zM498 149h4v4h-4zM150 161h4v4h-4zM182 165h4v4h-4zM194 165h4v4h-4zM546 165h4v4h-4zM186 169h4v4h-4zM526 169h4v4h-4zM546 169h4v4h-4zM374 173h4v4h-4zM562 173h4v4h-4zM154 181h4v4h-4zM366 181h4v4h-4zM518 189h4v4h-4zM538 189h8v4h-8zM114 193h4v4h-4zM126 193h4v4h-4zM502 193h4v4h-4zM510 193h4v4h-4zM546 193h4v4h-4zM114 197h4v4h-4zM102 201h4v4h-4zM126 201h4v4h-4zM494 201h4v4h-4zM386 205h4v4h-4zM514 209h4v4h-4zM522 209h4v4h-4zM106 213h8v4h-8zM378 213h4v4h-4zM494 217h4v4h-4zM554 221h4v4h-4zM578 221h4v4h-4zM550 225h4v4h-4zM570 225h4v4h-4zM590 225h4v4h-4zM370 229h4v4h-4zM554 229h4v4h-4zM562 229h4v4h-4zM586 229h4v4h-4zM78 233h4v4h-4zM570 233h4v4h-4zM82 237h4v4h-4zM562 237h4v4h-4zM546 245h4v4h-4zM398 249h4v4h-4zM382 253h4v4h-4zM378 257h4v4h-4zM82 261h4v4h-4zM382 261h4v4h-4zM542 261h4v4h-4zM82 265h4v4h-4zM94 265h4v4h-4zM522 265h4v4h-4zM110 269h4v4h-4zM522 269h4v4h-4zM542 269h8v4h-8zM86 273h4v4h-4zM398 273h4v4h-4zM422 273h4v4h-4zM550 273h4v4h-4zM86 277h8v4h-8zM530 277h4v4h-4zM590 277h4v4h-4zM82 281h4v4h-4zM94 281h4v4h-4zM450 281h8v4h-8zM510 281h4v4h-4zM382 285h4v4h-4zM510 285h8v4h-8zM382 289h4v4h-4zM402 289h4v4h-4zM458 289h4v4h-4zM582 289h4v4h-4zM110 293h4v4h-4zM86 297h4v4h-4zM130 301h4v4h-4zM582 301h4v4h-4zM82 305h4v4h-4zM134 305h4v4h-4zM142 305h4v4h-4zM462 305h4v4h-4zM494 305h4v4h-4zM586 305h4v4h-4zM114 309h4v4h-4zM410 309h4v4h-4zM498 309h8v4h-8zM514 309h4v4h-4zM102 313h4v4h-4zM306 313h4v4h-4zM418 313h4v4h-4zM130 317h4v4h-4zM326 317h4v4h-4zM378 317h4v4h-4zM466 317h4v4h-4zM494 317h4v4h-4zM78 321h4v4h-4zM118 321h4v4h-4zM362 321h8v4h-8zM414 321h4v4h-4zM486 321h4v4h-4zM102 325h8v4h-8zM114 325h4v4h-4zM326 325h4v4h-4zM334 325h4v4h-4zM366 325h4v4h-4zM354 329h8v4h-8zM370 329h4v4h-4zM414 329h4v4h-4zM458 329h4v4h-4zM574 329h8v4h-8zM310 333h4v4h-4zM354 333h8v4h-8zM422 333h4v4h-4zM94 337h4v4h-4zM102 337h4v4h-4zM82 341h4v4h-4zM102 341h4v4h-4zM334 341h4v4h-4zM490 341h4v4h-4zM98 345h4v4h-4zM206 345h4v4h-4zM542 345h4v4h-4zM198 349h4v4h-4zM206 349h4v4h-4zM338 349h4v4h-4zM186 353h4v4h-4zM210 353h4v4h-4zM358 353h4v4h-4zM422 357h4v4h-4zM570 357h4v4h-4zM150 361h4v4h-4zM458 361h4v4h-4zM534 361h4v4h-4zM554 361h4v4h-4zM462 365h4v4h-4zM218 369h4v4h-4zM522 369h4v4h-4zM558 369h4v4h-4zM446 373h4v4h-4zM458 373h4v4h-4zM534 373h4v4h-4zM266 377h4v4h-4zM274 377h4v4h-4zM486 377h4v4h-4zM582 377h4v4h-4zM414 381h4v4h-4zM478 381h4v4h-4zM490 381h4v4h-4zM114 385h4v4h-4zM490 385h4v4h-4zM534 385h4v4h-4zM86 389h4v4h-4zM358 389h4v4h-4zM94 393h4v4h-4zM210 393h4v4h-4zM266 393h4v4h-4zM378 393h4v4h-4zM406 393h4v4h-4zM478 393h4v4h-4zM262 397h4v4h-4zM462 397h4v4h-4zM106 401h4v4h-4zM206 401h4v4h-4zM466 401h4v4h-4zM202 405h4v4h-4zM98 409h4v4h-4zM202 409h4v4h-4zM418 409h4v4h-4zM494 409h4v4h-4zM466 413h4v4h-4zM494 413h4v4h-4zM266 417h4v4h-4zM274 417h4v4h-4zM458 421h4v4h-4zM270 425h4v4h-4zM186 429h4v4h-4zM278 429h4v4h-4zM458 429h4v4h-4zM474 429h4v4h-4zM370 433h4v4h-4zM458 433h4v4h-4zM470 433h8v4h-8zM514 433h4v4h-4zM282 437h4v4h-4zM426 437h4v4h-4zM474 437h4v4h-4zM478 441h4v4h-4zM354 445h4v4h-4zM414 445h4v4h-4zM438 445h4v4h-4zM526 445h4v4h-4zM198 453h4v4h-4zM402 457h8v4h-8zM466 457h4v4h-4zM278 461h4v4h-4zM470 461h4v4h-4zM578 461h4v4h-4zM78 465h4v4h-4zM330 465h4v4h-4zM78 469h4v4h-4zM214 469h4v4h-4zM138 473h4v4h-4zM418 473h4v4h-4zM102 477h4v4h-4zM314 477h4v4h-4zM462 477h4v4h-4zM102 481h4v4h-4zM306 481h4v4h-4zM314 481h4v4h-4zM466 481h4v4h-4zM210 485h8v4h-8zM310 485h4v4h-4zM142 489h4v4h-4zM274 489h4v4h-4zM418 489h4v4h-4zM442 489h4v4h-4zM198 493h4v4h-4zM266 493h4v4h-4zM302 493h4v4h-4zM310 493h4v4h-4zM442 493h4v4h-4zM230 497h4v4h-4zM250 501h4v4h-4zM278 501h4v4h-4zM546 501h4v4h-4zM190 505h4v4h-4zM242 505h4v4h-4zM410 505h4v4h-4zM438 505h4v4h-4zM242 509h4v4h-4zM402 509h4v4h-4zM406 513h4v4h-4zM434 513h4v4h-4zM206 517h4v4h-4zM406 517h4v4h-4zM170 521h4v4h-4zM178 521h4v4h-4zM186 521h4v4h-4zM402 521h4v4h-4zM422 525h4v4h-4zM446 525h4v4h-4zM202 529h4v4h-4zM398 529h4v4h-4zM154 533h4v4h-4zM258 533h4v4h-4zM394 533h4v4h-4zM82 537h4v4h-4zM282 537h4v4h-4zM426 537h4v4h-4zM438 537h4v4h-4zM390 541h4v4h-4zM98 545h4v4h-4zM270 549h4v4h-4zM386 549h4v4h-4zM410 549h4v4h-4zM418 553h4v4h-4zM86 561h4v4h-4zM414 561h4v4h-4zM290 565h4v4h-4zM410 565h4v4h-4zM590 565h4v4h-4zM374 569h4v4h-4zM526 573h4v4h-4zM542 573h4v4h-4zM238 577h4v4h-4zM362 577h4v4h-4zM510 577h4v4h-4zM366 581h4v4h-4zM214 585h4v4h-4zM242 585h4v4h-4zM342 585h4v4h-4zM86 589h8v4h-8zM246 593h4v4h-4zM354 597h4v4h-4zM390 597h4v4h-4zM586 597h4v4h-4zM258 601h4v4h-4zM282 601h4v4h-4zM390 601h4v4h-4zM198 605h4v4h-4zM270 605h4v4h-4zM330 605h4v4h-4zM390 605h4v4h-4zM530 605h4v4h-4z"/><path fill="#932667" d="M250 93h4v4h-4zM358 93h4v4h-4zM386 93h4v4h-4zM422 93h4v4h-4zM458 93h4v4h-4zM246 97h4v4h-4zM362 97h4v4h-4zM422 97h4v4h-4zM494 97h4v4h-4zM546 97h4v4h-4zM242 101h4v4h-4zM386 101h4v4h-4zM434 101h4v4h-4zM458 101h4v4h-4zM486 101h4v4h-4zM242 105h4v4h-4zM270 105h4v4h-4zM382 105h4v4h-4zM422 105h4v4h-4zM458 105h4v4h-4zM486 105h4v4h-4zM270 109h4v4h-4zM354 109h4v4h-4zM374 109h4v4h-4zM270 113h4v4h-4zM366 113h8v4h-8zM354 117h4v4h-4zM478 117h4v4h-4zM566 117h4v4h-4zM574 117h4v4h-4zM358 121h4v4h-4zM410 125h4v4h-4zM530 125h4v4h-4zM374 129h4v4h-4zM370 141h4v4h-4zM94 145h4v4h-4zM158 145h4v4h-4zM194 153h4v4h-4zM150 157h4v4h-4zM182 161h4v4h-4zM374 161h4v4h-4zM542 165h4v4h-4zM558 165h4v4h-4zM550 169h4v4h-4zM118 173h4v4h-4zM114 185h4v4h-4zM366 185h4v4h-4zM546 185h4v4h-4zM570 185h4v4h-4zM186 189h4v4h-4zM498 189h4v4h-4zM534 189h4v4h-4zM174 193h4v4h-4zM542 193h4v4h-4zM370 197h4v4h-4zM386 197h4v4h-4zM558 197h4v4h-4zM130 201h4v4h-4zM142 201h4v4h-4zM110 205h8v4h-8zM118 209h4v4h-4zM570 209h4v4h-4zM550 217h8v4h-8zM578 217h4v4h-4zM562 221h4v4h-4zM386 225h4v4h-4zM566 225h4v4h-4zM102 229h4v4h-4zM386 229h4v4h-4zM558 229h4v4h-4zM550 233h4v4h-4zM574 233h4v4h-4zM378 237h4v4h-4zM550 245h4v4h-4zM558 245h4v4h-4zM574 245h4v4h-4zM394 249h4v4h-4zM386 253h4v4h-4zM94 261h4v4h-4zM522 261h4v4h-4zM106 265h4v4h-4zM558 265h4v4h-4zM402 273h4v4h-4zM434 273h4v4h-4zM530 273h4v4h-4zM590 273h4v4h-4zM98 277h4v4h-4zM446 277h12v4h-12zM538 277h4v4h-4zM578 277h12v4h-12zM78 281h4v4h-4zM114 281h4v4h-4zM470 281h4v4h-4zM586 281h4v4h-4zM78 285h4v4h-4zM570 285h4v4h-4zM590 285h4v4h-4zM138 289h4v4h-4zM498 289h4v4h-4zM126 293h4v4h-4zM398 293h4v4h-4zM502 293h4v4h-4zM518 293h8v4h-8zM530 293h4v4h-4zM462 297h4v4h-4zM86 301h4v4h-4zM86 305h4v4h-4zM114 305h8v4h-8zM138 305h4v4h-4zM382 305h4v4h-4zM458 305h4v4h-4zM466 305h4v4h-4zM462 309h4v4h-4zM578 309h8v4h-8zM490 317h4v4h-4zM102 321h4v4h-4zM122 321h4v4h-4zM386 321h4v4h-4zM418 329h8v4h-8zM418 333h4v4h-4zM82 337h4v4h-4zM346 337h4v4h-4zM354 337h4v4h-4zM490 337h4v4h-4zM94 341h4v4h-4zM338 341h4v4h-4zM82 345h4v4h-4zM210 345h4v4h-4zM338 345h4v4h-4zM346 345h4v4h-4zM194 349h4v4h-4zM282 349h4v4h-4zM214 353h4v4h-4zM446 357h4v4h-4zM454 357h4v4h-4zM470 357h4v4h-4zM530 357h4v4h-4zM538 357h4v4h-4zM222 361h4v4h-4zM262 361h4v4h-4zM426 361h4v4h-4zM542 361h12v4h-12zM422 365h4v4h-4zM134 369h4v4h-4zM222 369h4v4h-4zM450 369h4v4h-4zM526 369h8v4h-8zM270 377h4v4h-4zM498 389h4v4h-4zM98 393h4v4h-4zM270 393h4v4h-4zM454 393h4v4h-4zM486 393h4v4h-4zM102 397h4v4h-4zM210 397h4v4h-4zM526 397h4v4h-4zM110 401h4v4h-4zM398 401h4v4h-4zM490 401h4v4h-4zM206 409h4v4h-4zM358 409h4v4h-4zM442 413h4v4h-4zM526 417h4v4h-4zM186 421h4v4h-4zM470 421h4v4h-4zM494 421h4v4h-4zM434 425h4v4h-4zM478 425h4v4h-4zM466 429h4v4h-4zM178 441h4v4h-4zM298 449h4v4h-4zM402 449h4v4h-4zM394 453h4v4h-4zM342 457h4v4h-4zM390 457h4v4h-4zM422 457h4v4h-4zM290 461h8v4h-8zM458 461h8v4h-8zM582 461h4v4h-4zM334 465h4v4h-4zM206 473h4v4h-4zM214 473h4v4h-4zM138 481h4v4h-4zM202 481h4v4h-4zM310 481h4v4h-4zM426 481h4v4h-4zM450 481h8v4h-8zM462 481h4v4h-4zM138 485h4v4h-4zM202 485h4v4h-4zM302 485h8v4h-8zM446 485h4v4h-4zM454 485h4v4h-4zM590 485h4v4h-4zM86 489h4v4h-4zM198 489h4v4h-4zM250 489h4v4h-4zM270 489h4v4h-4zM422 489h4v4h-4zM454 489h4v4h-4zM298 493h4v4h-4zM250 497h4v4h-4zM258 497h4v4h-4zM290 497h4v4h-4zM406 497h4v4h-4zM418 497h4v4h-4zM258 501h4v4h-4zM282 501h4v4h-4zM198 505h4v4h-4zM190 517h4v4h-4zM434 521h4v4h-4zM542 521h4v4h-4zM438 525h4v4h-4zM562 525h4v4h-4zM558 529h4v4h-4zM78 537h4v4h-4zM90 537h4v4h-4zM194 537h4v4h-4zM258 537h4v4h-4zM434 541h4v4h-4zM94 545h4v4h-4zM410 545h4v4h-4zM582 549h4v4h-4zM78 561h4v4h-4zM246 561h4v4h-4zM290 561h4v4h-4zM370 573h4v4h-4zM406 573h4v4h-4zM234 577h4v4h-4zM370 577h4v4h-4zM426 577h4v4h-4zM542 577h4v4h-4zM234 581h4v4h-4zM350 581h4v4h-4zM406 581h4v4h-4zM90 585h4v4h-4zM274 589h4v4h-4zM314 593h4v4h-4zM386 593h4v4h-4zM538 597h4v4h-4zM254 601h4v4h-4zM330 601h4v4h-4zM394 601h4v4h-4zM238 605h4v4h-4zM394 605h4v4h-4zM542 605h8v4h-8z"/><path fill="#972766" d="M350 93h4v4h-4zM454 93h4v4h-4zM238 97h4v4h-4zM250 97h4v4h-4zM282 97h4v4h-4zM366 97h4v4h-4zM390 97h4v4h-4zM418 97h4v4h-4zM430 97h4v4h-4zM458 97h4v4h-4zM366 101h4v4h-4zM382 101h4v4h-4zM262 105h4v4h-4zM358 105h8v4h-8zM522 105h4v4h-4zM234 109h4v4h-4zM254 109h4v4h-4zM370 109h4v4h-4zM382 109h4v4h-4zM486 109h4v4h-4zM522 109h4v4h-4zM234 113h4v4h-4zM254 113h4v4h-4zM474 113h4v4h-4zM482 113h4v4h-4zM558 113h4v4h-4zM254 117h4v4h-4zM370 117h4v4h-4zM394 117h4v4h-4zM474 117h4v4h-4zM578 117h4v4h-4zM426 121h4v4h-4zM570 121h8v4h-8zM574 129h4v4h-4zM182 133h4v4h-4zM374 153h4v4h-4zM146 157h4v4h-4zM170 157h4v4h-4zM190 157h4v4h-4zM186 161h4v4h-4zM370 169h4v4h-4zM538 169h8v4h-8zM562 177h4v4h-4zM102 185h4v4h-4zM102 189h4v4h-4zM110 189h4v4h-4zM126 189h4v4h-4zM522 193h4v4h-4zM538 193h4v4h-4zM502 197h4v4h-4zM550 197h4v4h-4zM134 201h4v4h-4zM170 201h4v4h-4zM558 201h4v4h-4zM134 205h4v4h-4zM546 205h8v4h-8zM526 209h4v4h-4zM558 213h4v4h-4zM106 217h4v4h-4zM558 217h4v4h-4zM522 221h4v4h-4zM582 221h4v4h-4zM522 225h8v4h-8zM574 225h4v4h-4zM590 229h4v4h-4zM382 237h4v4h-4zM546 237h4v4h-4zM554 249h4v4h-4zM378 253h4v4h-4zM86 257h12v4h-12zM386 257h4v4h-4zM542 257h4v4h-4zM126 261h4v4h-4zM418 261h4v4h-4zM450 261h4v4h-4zM518 261h4v4h-4zM98 265h4v4h-4zM90 273h8v4h-8zM554 277h4v4h-4zM574 277h4v4h-4zM98 281h4v4h-4zM106 281h4v4h-4zM390 281h4v4h-4zM402 281h4v4h-4zM110 285h4v4h-4zM450 285h4v4h-4zM78 289h4v4h-4zM122 289h8v4h-8zM414 289h4v4h-4zM510 289h4v4h-4zM534 289h4v4h-4zM570 289h4v4h-4zM106 293h4v4h-4zM374 293h8v4h-8zM510 293h4v4h-4zM534 293h4v4h-4zM102 297h4v4h-4zM386 297h4v4h-4zM490 297h4v4h-4zM482 301h4v4h-4zM494 301h4v4h-4zM90 305h4v4h-4zM126 309h4v4h-4zM466 309h4v4h-4zM118 313h4v4h-4zM126 313h4v4h-4zM326 313h4v4h-4zM466 313h4v4h-4zM410 317h4v4h-4zM358 321h4v4h-4zM362 325h4v4h-4zM114 329h4v4h-4zM334 329h4v4h-4zM454 329h4v4h-4zM338 333h4v4h-4zM370 333h4v4h-4zM98 341h4v4h-4zM462 341h4v4h-4zM294 345h4v4h-4zM422 345h8v4h-8zM290 349h4v4h-4zM422 349h4v4h-4zM162 353h4v4h-4zM182 353h4v4h-4zM154 361h4v4h-4zM538 361h4v4h-4zM218 365h8v4h-8zM254 369h4v4h-4zM418 369h4v4h-4zM134 373h4v4h-4zM274 373h4v4h-4zM450 373h4v4h-4zM86 377h4v4h-4zM126 377h4v4h-4zM446 377h4v4h-4zM530 377h4v4h-4zM574 377h4v4h-4zM114 381h4v4h-4zM514 381h8v4h-8zM466 385h4v4h-4zM102 389h4v4h-4zM82 393h4v4h-4zM106 393h4v4h-4zM518 393h4v4h-4zM466 397h4v4h-4zM230 401h4v4h-4zM362 401h4v4h-4zM78 405h4v4h-4zM206 405h4v4h-4zM262 405h4v4h-4zM394 405h4v4h-4zM402 405h4v4h-4zM466 405h4v4h-4zM490 405h4v4h-4zM590 405h4v4h-4zM78 409h4v4h-4zM442 409h8v4h-8zM366 413h4v4h-4zM446 413h4v4h-4zM470 413h4v4h-4zM370 417h4v4h-4zM462 417h4v4h-4zM530 417h4v4h-4zM190 421h4v4h-4zM370 421h4v4h-4zM518 421h4v4h-4zM190 425h8v4h-8zM374 425h4v4h-4zM466 425h4v4h-4zM474 425h4v4h-4zM198 429h4v4h-4zM470 429h4v4h-4zM438 433h4v4h-4zM222 437h4v4h-4zM366 437h4v4h-4zM442 441h4v4h-4zM166 449h4v4h-4zM194 449h8v4h-8zM190 453h4v4h-4zM306 453h4v4h-4zM226 457h4v4h-4zM278 457h4v4h-4zM298 457h4v4h-4zM314 457h4v4h-4zM454 457h4v4h-4zM422 461h4v4h-4zM326 465h4v4h-4zM458 465h4v4h-4zM422 469h4v4h-4zM202 473h4v4h-4zM422 477h4v4h-4zM430 477h4v4h-4zM446 481h4v4h-4zM422 485h4v4h-4zM450 485h4v4h-4zM82 489h4v4h-4zM414 489h4v4h-4zM450 489h4v4h-4zM242 493h4v4h-4zM254 493h4v4h-4zM306 493h4v4h-4zM422 493h4v4h-4zM202 497h4v4h-4zM246 497h4v4h-4zM154 501h4v4h-4zM394 509h4v4h-4zM434 509h4v4h-4zM194 513h4v4h-4zM194 521h4v4h-4zM202 521h8v4h-8zM270 525h4v4h-4zM442 525h4v4h-4zM182 529h4v4h-4zM190 529h4v4h-4zM262 533h4v4h-4zM438 533h4v4h-4zM86 537h4v4h-4zM154 537h4v4h-4zM198 537h4v4h-4zM282 541h4v4h-4zM254 545h4v4h-4zM390 545h4v4h-4zM434 545h4v4h-4zM242 549h4v4h-4zM574 553h4v4h-4zM410 561h4v4h-4zM78 565h4v4h-4zM378 565h4v4h-4zM494 565h4v4h-4zM270 569h4v4h-4zM302 581h4v4h-4zM386 581h4v4h-4zM234 585h4v4h-4zM230 589h4v4h-4zM242 589h4v4h-4zM346 589h4v4h-4zM358 589h4v4h-4zM318 593h4v4h-4zM358 593h4v4h-4zM262 597h4v4h-4zM298 597h4v4h-4zM382 597h4v4h-4zM534 597h4v4h-4zM254 605h4v4h-4zM262 605h4v4h-4zM378 605h4v4h-4z"/><path fill="#9a2865" d="M182 93h4v4h-4zM238 93h4v4h-4zM262 93h4v4h-4zM282 93h4v4h-4zM426 93h4v4h-4zM554 93h4v4h-4zM590 93h4v4h-4zM410 97h4v4h-4zM542 97h4v4h-4zM378 101h4v4h-4zM266 105h4v4h-4zM394 105h4v4h-4zM410 105h8v4h-8zM462 105h4v4h-4zM238 109h4v4h-4zM490 109h4v4h-4zM542 109h8v4h-8zM250 113h4v4h-4zM250 117h4v4h-4zM342 117h4v4h-4zM366 117h4v4h-4zM366 121h4v4h-4zM406 121h8v4h-8zM570 125h4v4h-4zM166 137h4v4h-4zM186 137h4v4h-4zM366 141h4v4h-4zM142 153h4v4h-4zM198 153h4v4h-4zM374 157h4v4h-4zM354 161h4v4h-4zM562 165h4v4h-4zM590 165h4v4h-4zM122 169h4v4h-4zM190 169h4v4h-4zM190 177h4v4h-4zM362 181h4v4h-4zM502 185h4v4h-4zM118 189h4v4h-4zM174 189h4v4h-4zM370 189h4v4h-4zM118 193h4v4h-4zM366 193h4v4h-4zM550 193h4v4h-4zM110 197h4v4h-4zM150 197h8v4h-8zM366 197h4v4h-4zM542 197h4v4h-4zM114 201h4v4h-4zM178 201h4v4h-4zM370 201h4v4h-4zM386 201h4v4h-4zM482 201h4v4h-4zM526 205h4v4h-4zM114 209h4v4h-4zM122 209h4v4h-4zM134 209h4v4h-4zM478 209h4v4h-4zM518 209h4v4h-4zM574 209h4v4h-4zM554 213h4v4h-4zM502 217h8v4h-8zM546 217h4v4h-4zM574 217h4v4h-4zM530 225h4v4h-4zM98 229h4v4h-4zM390 229h4v4h-4zM530 229h4v4h-4zM550 229h4v4h-4zM102 233h8v4h-8zM78 237h4v4h-4zM82 241h4v4h-4zM554 241h8v4h-8zM394 253h4v4h-4zM78 257h4v4h-4zM98 257h4v4h-4zM126 265h4v4h-4zM406 265h4v4h-4zM550 265h4v4h-4zM134 269h4v4h-4zM402 269h4v4h-4zM94 277h4v4h-4zM394 277h4v4h-4zM402 277h4v4h-4zM550 277h4v4h-4zM102 281h4v4h-4zM118 285h4v4h-4zM390 285h8v4h-8zM454 285h4v4h-4zM518 285h8v4h-8zM110 289h4v4h-4zM378 289h4v4h-4zM386 289h4v4h-4zM514 289h4v4h-4zM574 289h4v4h-4zM586 289h4v4h-4zM86 293h4v4h-4zM494 293h4v4h-4zM390 297h8v4h-8zM382 301h4v4h-4zM462 301h4v4h-4zM510 301h4v4h-4zM510 305h4v4h-4zM118 309h4v4h-4zM322 313h4v4h-4zM378 313h4v4h-4zM134 317h4v4h-4zM318 317h4v4h-4zM362 317h4v4h-4zM418 317h4v4h-4zM486 317h4v4h-4zM350 325h4v4h-4zM358 325h4v4h-4zM454 325h4v4h-4zM330 333h4v4h-4zM358 337h4v4h-4zM486 337h4v4h-4zM86 341h8v4h-8zM94 345h4v4h-4zM102 345h4v4h-4zM202 345h4v4h-4zM342 345h4v4h-4zM166 349h4v4h-4zM274 353h4v4h-4zM150 357h4v4h-4zM162 357h4v4h-4zM266 357h4v4h-4zM450 357h4v4h-4zM214 369h4v4h-4zM446 369h4v4h-4zM462 369h4v4h-4zM534 377h4v4h-4zM570 377h4v4h-4zM122 381h4v4h-4zM418 381h4v4h-4zM206 385h4v4h-4zM98 389h4v4h-4zM106 389h8v4h-8zM206 389h4v4h-4zM90 393h4v4h-4zM102 393h4v4h-4zM262 393h4v4h-4zM450 393h4v4h-4zM470 393h4v4h-4zM114 397h4v4h-4zM378 397h4v4h-4zM458 397h4v4h-4zM522 397h4v4h-4zM358 401h4v4h-4zM498 401h4v4h-4zM494 405h4v4h-4zM198 409h4v4h-4zM262 409h4v4h-4zM370 409h4v4h-4zM438 409h4v4h-4zM470 409h4v4h-4zM474 413h4v4h-4zM378 421h4v4h-4zM474 421h4v4h-4zM202 425h4v4h-4zM470 425h4v4h-4zM422 433h4v4h-4zM454 437h4v4h-4zM294 449h4v4h-4zM302 449h4v4h-4zM406 449h4v4h-4zM438 449h4v4h-4zM154 453h4v4h-4zM354 453h4v4h-4zM386 453h4v4h-4zM402 453h4v4h-4zM438 453h4v4h-4zM178 457h4v4h-4zM202 457h4v4h-4zM282 457h4v4h-4zM306 457h4v4h-4zM146 461h4v4h-4zM334 461h4v4h-4zM426 461h4v4h-4zM466 461h4v4h-4zM430 465h4v4h-4zM138 469h4v4h-4zM322 469h4v4h-4zM458 469h4v4h-4zM430 473h4v4h-4zM458 477h4v4h-4zM418 481h4v4h-4zM430 481h4v4h-4zM426 485h4v4h-4zM298 489h8v4h-8zM150 493h4v4h-4zM218 493h4v4h-4zM246 493h4v4h-4zM262 497h4v4h-4zM414 501h4v4h-4zM410 509h4v4h-4zM202 513h4v4h-4zM158 517h4v4h-4zM158 521h4v4h-4zM262 537h4v4h-4zM394 537h4v4h-4zM258 541h4v4h-4zM258 545h4v4h-4zM246 549h8v4h-8zM262 549h4v4h-4zM254 553h8v4h-8zM386 553h4v4h-4zM570 553h4v4h-4zM250 557h4v4h-4zM382 557h4v4h-4zM90 561h8v4h-8zM274 569h4v4h-4zM378 569h4v4h-4zM214 573h4v4h-4zM222 573h4v4h-4zM374 573h4v4h-4zM546 573h4v4h-4zM546 577h4v4h-4zM546 581h4v4h-4zM366 585h4v4h-4zM402 585h4v4h-4zM226 589h4v4h-4zM238 601h4v4h-4zM246 601h4v4h-4zM262 601h4v4h-4zM378 601h4v4h-4zM218 605h4v4h-4zM286 605h4v4h-4zM506 605h4v4h-4z"/><path fill="#9d2964" d="M334 93h4v4h-4zM410 93h4v4h-4zM434 93h4v4h-4zM570 93h4v4h-4zM354 97h4v4h-4zM490 97h4v4h-4zM278 101h4v4h-4zM390 101h4v4h-4zM462 101h8v4h-8zM246 105h8v4h-8zM274 105h4v4h-4zM354 105h4v4h-4zM490 105h4v4h-4zM562 105h4v4h-4zM258 109h4v4h-4zM274 109h4v4h-4zM266 113h4v4h-4zM354 113h4v4h-4zM570 117h4v4h-4zM398 121h4v4h-4zM366 125h4v4h-4zM314 133h4v4h-4zM158 141h4v4h-4zM362 141h4v4h-4zM142 145h4v4h-4zM138 153h4v4h-4zM146 153h4v4h-4zM370 153h4v4h-4zM194 161h4v4h-4zM230 165h4v4h-4zM370 165h4v4h-4zM554 169h4v4h-4zM370 173h4v4h-4zM566 177h4v4h-4zM110 181h4v4h-4zM498 185h4v4h-4zM550 185h4v4h-4zM114 189h4v4h-4zM182 189h4v4h-4zM570 189h4v4h-4zM518 193h4v4h-4zM530 193h4v4h-4zM558 193h4v4h-4zM166 197h4v4h-4zM362 197h4v4h-4zM366 201h4v4h-4zM514 205h4v4h-4zM562 205h4v4h-4zM574 205h4v4h-4zM482 209h4v4h-4zM590 209h4v4h-4zM590 213h4v4h-4zM102 217h4v4h-4zM382 217h4v4h-4zM498 217h4v4h-4zM586 217h8v4h-8zM366 221h4v4h-4zM370 225h12v4h-12zM554 225h4v4h-4zM578 225h4v4h-4zM82 229h4v4h-4zM526 229h4v4h-4zM78 241h4v4h-4zM390 241h8v4h-8zM566 241h4v4h-4zM586 241h4v4h-4zM394 245h4v4h-4zM570 245h4v4h-4zM578 245h4v4h-4zM82 257h4v4h-4zM562 257h4v4h-4zM102 261h4v4h-4zM378 261h4v4h-4zM558 261h4v4h-4zM406 277h4v4h-4zM418 277h4v4h-4zM534 277h4v4h-4zM406 281h4v4h-4zM446 281h4v4h-4zM102 285h4v4h-4zM446 285h4v4h-4zM382 293h4v4h-4zM414 293h4v4h-4zM498 293h4v4h-4zM514 293h4v4h-4zM538 297h4v4h-4zM94 305h8v4h-8zM458 309h4v4h-4zM122 313h4v4h-4zM358 317h4v4h-4zM370 317h4v4h-4zM458 321h4v4h-4zM418 325h4v4h-4zM338 329h4v4h-4zM342 337h4v4h-4zM454 341h4v4h-4zM94 349h8v4h-8zM190 349h4v4h-4zM222 353h4v4h-4zM458 353h4v4h-4zM78 357h4v4h-4zM154 357h4v4h-4zM534 357h4v4h-4zM134 365h4v4h-4zM214 365h4v4h-4zM426 369h4v4h-4zM114 373h8v4h-8zM218 373h4v4h-4zM262 373h4v4h-4zM418 373h4v4h-4zM526 373h8v4h-8zM586 377h4v4h-4zM118 381h4v4h-4zM210 381h4v4h-4zM474 381h4v4h-4zM486 381h4v4h-4zM426 389h4v4h-4zM86 393h4v4h-4zM214 393h4v4h-4zM522 393h4v4h-4zM86 397h4v4h-4zM230 397h4v4h-4zM450 397h8v4h-8zM210 401h4v4h-4zM414 401h8v4h-8zM462 401h4v4h-4zM494 401h4v4h-4zM362 405h4v4h-4zM370 405h4v4h-4zM390 405h4v4h-4zM462 405h4v4h-4zM366 409h4v4h-4zM382 413h4v4h-4zM374 417h4v4h-4zM194 421h4v4h-4zM522 421h4v4h-4zM190 429h4v4h-4zM374 429h4v4h-4zM274 433h8v4h-8zM422 437h4v4h-4zM282 441h4v4h-4zM414 441h4v4h-4zM378 445h4v4h-4zM402 445h4v4h-4zM442 445h4v4h-4zM398 449h4v4h-4zM198 457h4v4h-4zM318 457h4v4h-4zM274 461h4v4h-4zM306 461h4v4h-4zM338 465h4v4h-4zM218 469h4v4h-4zM426 469h4v4h-4zM314 473h4v4h-4zM202 477h4v4h-4zM218 477h4v4h-4zM198 481h4v4h-4zM414 485h4v4h-4zM78 489h4v4h-4zM146 489h4v4h-4zM410 489h4v4h-4zM226 493h4v4h-4zM190 501h4v4h-4zM418 501h4v4h-4zM182 505h4v4h-4zM410 513h4v4h-4zM174 517h4v4h-4zM182 521h4v4h-4zM266 525h4v4h-4zM402 525h4v4h-4zM198 533h4v4h-4zM82 541h4v4h-4zM254 541h4v4h-4zM414 541h4v4h-4zM418 549h4v4h-4zM242 553h4v4h-4zM250 553h4v4h-4zM378 561h4v4h-4zM406 569h4v4h-4zM194 593h4v4h-4zM198 597h4v4h-4zM338 597h4v4h-4zM258 605h4v4h-4zM342 605h4v4h-4zM354 605h4v4h-4z"/><path fill="#a02a63" d="M254 93h4v4h-4zM330 93h4v4h-4zM370 93h4v4h-4zM566 93h4v4h-4zM250 101h4v4h-4zM354 101h4v4h-4zM282 105h4v4h-4zM390 105h4v4h-4zM418 105h4v4h-4zM250 109h4v4h-4zM266 109h4v4h-4zM318 109h4v4h-4zM406 109h4v4h-4zM574 109h4v4h-4zM238 113h4v4h-4zM338 113h4v4h-4zM478 113h4v4h-4zM574 113h4v4h-4zM354 121h4v4h-4zM402 121h4v4h-4zM586 121h4v4h-4zM206 125h4v4h-4zM370 129h4v4h-4zM162 137h4v4h-4zM174 137h4v4h-4zM170 141h4v4h-4zM358 141h4v4h-4zM154 145h4v4h-4zM358 145h4v4h-4zM138 149h4v4h-4zM210 149h4v4h-4zM210 153h4v4h-4zM130 161h4v4h-4zM122 165h8v4h-8zM566 165h4v4h-4zM562 169h8v4h-8zM574 169h4v4h-4zM586 169h4v4h-4zM110 173h4v4h-4zM566 173h4v4h-4zM582 173h4v4h-4zM366 177h4v4h-4zM570 177h4v4h-4zM90 181h4v4h-4zM366 189h4v4h-4zM546 189h4v4h-4zM78 193h4v4h-4zM122 193h4v4h-4zM534 193h4v4h-4zM562 193h4v4h-4zM142 197h4v4h-4zM526 197h4v4h-4zM106 201h4v4h-4zM182 201h8v4h-8zM526 201h8v4h-8zM554 201h4v4h-4zM582 201h4v4h-4zM78 205h4v4h-4zM490 205h8v4h-8zM510 205h4v4h-4zM498 209h4v4h-4zM510 209h4v4h-4zM586 213h4v4h-4zM110 217h4v4h-4zM542 217h4v4h-4zM538 221h4v4h-4zM558 221h4v4h-4zM98 225h4v4h-4zM366 225h4v4h-4zM562 225h4v4h-4zM78 229h4v4h-4zM106 229h4v4h-4zM578 229h4v4h-4zM590 233h4v4h-4zM86 237h4v4h-4zM86 241h4v4h-4zM398 241h4v4h-4zM390 245h4v4h-4zM398 245h4v4h-4zM558 249h8v4h-8zM106 253h4v4h-4zM374 253h4v4h-4zM542 253h4v4h-4zM574 257h4v4h-4zM78 261h4v4h-4zM98 261h4v4h-4zM126 269h4v4h-4zM138 269h4v4h-4zM586 269h8v4h-8zM534 273h16v4h-16zM586 273h4v4h-4zM426 277h4v4h-4zM438 277h4v4h-4zM542 277h4v4h-4zM126 285h4v4h-4zM526 285h8v4h-8zM586 285h4v4h-4zM106 289h4v4h-4zM398 289h4v4h-4zM386 293h4v4h-4zM458 293h4v4h-4zM382 297h4v4h-4zM498 297h4v4h-4zM506 297h4v4h-4zM502 305h4v4h-4zM578 305h4v4h-4zM122 309h4v4h-4zM138 309h4v4h-4zM454 313h8v4h-8zM302 317h4v4h-4zM314 317h4v4h-4zM458 317h8v4h-8zM326 321h4v4h-4zM78 325h4v4h-4zM354 325h4v4h-4zM114 333h4v4h-4zM454 337h4v4h-4zM450 341h4v4h-4zM486 341h4v4h-4zM174 349h4v4h-4zM462 349h4v4h-4zM218 353h4v4h-4zM446 353h4v4h-4zM442 357h4v4h-4zM86 361h4v4h-4zM158 361h4v4h-4zM262 365h4v4h-4zM454 365h4v4h-4zM262 369h4v4h-4zM422 369h4v4h-4zM454 369h4v4h-4zM130 373h4v4h-4zM82 377h4v4h-4zM214 377h4v4h-4zM590 377h4v4h-4zM458 381h4v4h-4zM534 381h4v4h-4zM422 389h4v4h-4zM434 389h4v4h-4zM454 389h4v4h-4zM478 389h4v4h-4zM458 393h4v4h-4zM482 393h4v4h-4zM214 397h4v4h-4zM418 397h4v4h-4zM218 401h4v4h-4zM402 401h4v4h-4zM82 405h4v4h-4zM218 405h4v4h-4zM394 409h4v4h-4zM422 409h4v4h-4zM462 409h8v4h-8zM194 413h4v4h-4zM210 413h4v4h-4zM254 413h4v4h-4zM262 413h4v4h-4zM370 413h4v4h-4zM194 417h4v4h-4zM378 417h4v4h-4zM446 417h4v4h-4zM458 417h4v4h-4zM474 417h4v4h-4zM198 421h4v4h-4zM382 421h4v4h-4zM430 421h4v4h-4zM194 429h4v4h-4zM274 429h4v4h-4zM362 441h4v4h-4zM474 441h4v4h-4zM286 445h4v4h-4zM190 449h4v4h-4zM370 449h4v4h-4zM406 453h4v4h-4zM310 457h4v4h-4zM454 461h4v4h-4zM174 465h4v4h-4zM274 465h4v4h-4zM422 465h8v4h-8zM202 469h4v4h-4zM210 469h4v4h-4zM218 473h4v4h-4zM458 473h4v4h-4zM238 477h4v4h-4zM454 477h4v4h-4zM194 481h4v4h-4zM590 481h4v4h-4zM410 485h4v4h-4zM442 485h4v4h-4zM218 489h4v4h-4zM310 489h4v4h-4zM426 489h4v4h-4zM230 493h4v4h-4zM182 497h4v4h-4zM198 497h4v4h-4zM442 497h4v4h-4zM442 501h4v4h-4zM158 505h4v4h-4zM194 505h4v4h-4zM174 513h12v4h-12zM198 513h4v4h-4zM186 517h4v4h-4zM426 533h4v4h-4zM414 537h4v4h-4zM90 541h4v4h-4zM394 541h4v4h-4zM254 549h4v4h-4zM410 553h4v4h-4zM246 557h4v4h-4zM406 565h4v4h-4zM558 565h4v4h-4zM386 577h4v4h-4zM202 581h4v4h-4zM238 581h4v4h-4zM370 581h4v4h-4zM390 581h4v4h-4zM346 585h8v4h-8zM362 589h4v4h-4zM382 589h4v4h-4zM198 593h4v4h-4zM194 597h4v4h-4zM202 597h4v4h-4zM250 597h4v4h-4zM378 597h4v4h-4zM194 601h4v4h-4zM250 601h4v4h-4zM214 605h4v4h-4zM282 605h4v4h-4zM334 605h4v4h-4z"/><path fill="#a32c61" d="M234 93h4v4h-4zM390 93h4v4h-4zM582 93h4v4h-4zM370 97h4v4h-4zM566 97h4v4h-4zM394 101h4v4h-4zM490 101h4v4h-4zM234 105h4v4h-4zM398 105h4v4h-4zM466 105h4v4h-4zM542 105h4v4h-4zM390 113h4v4h-4zM406 113h4v4h-4zM578 113h4v4h-4zM334 117h4v4h-4zM426 117h4v4h-4zM318 121h4v4h-4zM590 121h4v4h-4zM574 125h4v4h-4zM182 129h4v4h-4zM178 133h4v4h-4zM318 133h4v4h-4zM362 137h4v4h-4zM186 145h4v4h-4zM186 149h4v4h-4zM374 149h4v4h-4zM134 157h4v4h-4zM570 165h4v4h-4zM118 169h4v4h-4zM194 169h4v4h-4zM366 173h4v4h-4zM106 181h4v4h-4zM558 181h4v4h-4zM362 185h4v4h-4zM122 189h4v4h-4zM574 189h4v4h-4zM102 193h4v4h-4zM506 193h4v4h-4zM106 197h4v4h-4zM158 197h4v4h-4zM178 197h4v4h-4zM514 197h4v4h-4zM570 197h4v4h-4zM90 201h4v4h-4zM110 201h4v4h-4zM498 201h4v4h-4zM542 201h4v4h-4zM522 205h4v4h-4zM530 205h4v4h-4zM558 205h4v4h-4zM582 205h4v4h-4zM590 205h4v4h-4zM142 209h4v4h-4zM586 209h4v4h-4zM254 213h4v4h-4zM498 213h4v4h-4zM578 213h8v4h-8zM562 217h4v4h-4zM582 217h4v4h-4zM98 221h4v4h-4zM370 221h4v4h-4zM102 225h4v4h-4zM382 225h4v4h-4zM518 225h4v4h-4zM522 229h4v4h-4zM574 229h4v4h-4zM86 233h4v4h-4zM90 237h4v4h-4zM354 237h4v4h-4zM554 237h4v4h-4zM98 241h4v4h-4zM546 241h4v4h-4zM562 245h4v4h-4zM106 249h8v4h-8zM386 249h4v4h-4zM90 253h4v4h-4zM98 253h8v4h-8zM562 253h4v4h-4zM390 257h4v4h-4zM578 257h4v4h-4zM562 261h4v4h-4zM366 265h4v4h-4zM402 265h4v4h-4zM398 269h4v4h-4zM566 273h4v4h-4zM434 277h4v4h-4zM442 277h4v4h-4zM398 285h4v4h-4zM406 285h4v4h-4zM134 289h4v4h-4zM374 289h4v4h-4zM454 289h4v4h-4zM90 293h4v4h-4zM374 297h8v4h-8zM494 297h4v4h-4zM510 297h4v4h-4zM90 301h4v4h-4zM138 301h4v4h-4zM498 301h4v4h-4zM506 301h4v4h-4zM146 305h4v4h-4zM322 305h4v4h-4zM410 305h4v4h-4zM414 309h4v4h-4zM374 313h4v4h-4zM462 313h4v4h-4zM366 317h4v4h-4zM454 317h4v4h-4zM126 321h4v4h-4zM418 321h4v4h-4zM454 321h4v4h-4zM78 329h4v4h-4zM298 333h4v4h-4zM334 333h4v4h-4zM454 333h8v4h-8zM98 337h4v4h-4zM338 337h4v4h-4zM458 337h4v4h-4zM210 341h4v4h-4zM342 341h4v4h-4zM422 341h4v4h-4zM462 345h4v4h-4zM78 349h4v4h-4zM210 349h4v4h-4zM278 349h4v4h-4zM426 349h4v4h-4zM226 353h4v4h-4zM450 353h8v4h-8zM226 357h4v4h-4zM250 357h4v4h-4zM438 357h4v4h-4zM430 361h4v4h-4zM454 361h4v4h-4zM450 365h4v4h-4zM226 369h4v4h-4zM250 369h4v4h-4zM430 369h4v4h-4zM214 373h4v4h-4zM114 377h4v4h-4zM86 381h4v4h-4zM86 385h4v4h-4zM410 385h4v4h-4zM422 385h4v4h-4zM462 385h4v4h-4zM470 385h4v4h-4zM478 385h4v4h-4zM78 389h4v4h-4zM90 389h8v4h-8zM262 389h4v4h-4zM430 389h4v4h-4zM438 389h4v4h-4zM486 389h4v4h-4zM78 393h4v4h-4zM466 393h4v4h-4zM106 397h8v4h-8zM78 401h8v4h-8zM214 401h4v4h-4zM358 405h4v4h-4zM406 405h8v4h-8zM438 413h4v4h-4zM462 413h4v4h-4zM442 417h4v4h-4zM266 421h4v4h-4zM446 421h4v4h-4zM426 425h4v4h-4zM438 429h4v4h-4zM454 433h4v4h-4zM442 437h4v4h-4zM390 441h4v4h-4zM406 445h4v4h-4zM450 445h4v4h-4zM338 449h4v4h-4zM382 449h4v4h-4zM450 449h4v4h-4zM278 453h4v4h-4zM302 453h4v4h-4zM330 453h4v4h-4zM290 457h4v4h-4zM434 457h4v4h-4zM286 461h4v4h-4zM430 461h4v4h-4zM214 465h4v4h-4zM278 465h4v4h-4zM454 465h4v4h-4zM430 469h4v4h-4zM198 473h4v4h-4zM162 477h4v4h-4zM418 477h4v4h-4zM218 481h4v4h-4zM302 481h4v4h-4zM422 481h4v4h-4zM442 481h4v4h-4zM142 485h4v4h-4zM430 485h4v4h-4zM226 489h4v4h-4zM246 489h4v4h-4zM222 493h4v4h-4zM174 497h4v4h-4zM414 505h4v4h-4zM182 509h4v4h-4zM398 509h4v4h-4zM170 513h4v4h-4zM170 517h4v4h-4zM410 517h4v4h-4zM406 521h4v4h-4zM426 521h8v4h-8zM258 549h4v4h-4zM390 549h4v4h-4zM406 561h4v4h-4zM382 565h4v4h-4zM378 573h4v4h-4zM198 577h8v4h-8zM374 577h4v4h-4zM390 577h4v4h-4zM214 589h4v4h-4zM202 593h4v4h-4zM382 593h4v4h-4zM334 597h4v4h-4zM358 597h4v4h-4zM198 601h4v4h-4zM338 601h4v4h-4zM350 601h4v4h-4zM338 605h4v4h-4zM346 605h4v4h-4zM358 605h4v4h-4z"/><path fill="#a62d60" d="M266 93h4v4h-4zM490 93h4v4h-4zM574 93h4v4h-4zM234 97h4v4h-4zM322 97h4v4h-4zM358 97h4v4h-4zM234 101h4v4h-4zM246 101h4v4h-4zM274 101h4v4h-4zM418 101h4v4h-4zM542 101h4v4h-4zM318 105h4v4h-4zM350 105h4v4h-4zM402 105h4v4h-4zM242 109h8v4h-8zM350 109h4v4h-4zM582 109h4v4h-4zM230 113h4v4h-4zM562 113h4v4h-4zM266 117h4v4h-4zM406 117h4v4h-4zM250 121h4v4h-4zM202 125h4v4h-4zM250 125h4v4h-4zM174 129h4v4h-4zM366 129h4v4h-4zM174 133h4v4h-4zM158 137h4v4h-4zM98 141h4v4h-4zM150 145h4v4h-4zM142 149h8v4h-8zM194 149h4v4h-4zM330 153h4v4h-4zM366 153h4v4h-4zM86 157h4v4h-4zM366 169h4v4h-4zM570 173h8v4h-8zM106 177h4v4h-4zM362 177h4v4h-4zM574 177h4v4h-4zM94 181h4v4h-4zM358 181h4v4h-4zM566 181h4v4h-4zM110 185h4v4h-4zM566 185h4v4h-4zM178 189h4v4h-4zM506 189h4v4h-4zM550 189h4v4h-4zM182 197h4v4h-4zM510 197h4v4h-4zM554 197h4v4h-4zM150 201h8v4h-8zM362 201h4v4h-4zM174 205h4v4h-4zM482 205h8v4h-8zM78 209h4v4h-4zM102 209h4v4h-4zM502 209h4v4h-4zM566 209h4v4h-4zM502 213h4v4h-4zM574 213h4v4h-4zM98 217h4v4h-4zM366 217h4v4h-4zM378 217h4v4h-4zM102 221h4v4h-4zM194 221h4v4h-4zM382 221h4v4h-4zM514 221h4v4h-4zM534 221h4v4h-4zM78 225h4v4h-4zM366 229h4v4h-4zM590 237h4v4h-4zM386 241h4v4h-4zM562 241h4v4h-4zM110 245h4v4h-4zM86 253h4v4h-4zM94 253h4v4h-4zM558 257h4v4h-4zM386 261h4v4h-4zM578 261h8v4h-8zM546 265h4v4h-4zM562 269h4v4h-4zM422 277h4v4h-4zM546 277h4v4h-4zM382 281h4v4h-4zM138 285h4v4h-4zM378 285h4v4h-4zM130 289h4v4h-4zM418 289h4v4h-4zM518 289h4v4h-4zM138 293h4v4h-4zM370 293h4v4h-4zM390 293h4v4h-4zM414 297h4v4h-4zM458 297h4v4h-4zM502 297h4v4h-4zM134 301h4v4h-4zM458 301h4v4h-4zM514 301h8v4h-8zM318 305h4v4h-4zM370 305h4v4h-4zM514 305h8v4h-8zM318 309h4v4h-4zM342 309h4v4h-4zM418 309h4v4h-4zM342 313h4v4h-4zM450 313h4v4h-4zM422 317h4v4h-4zM346 325h4v4h-4zM426 333h4v4h-4zM334 337h4v4h-4zM422 337h4v4h-4zM206 341h4v4h-4zM178 349h4v4h-4zM90 353h8v4h-8zM150 353h4v4h-4zM250 353h4v4h-4zM138 361h4v4h-4zM146 361h4v4h-4zM258 361h4v4h-4zM226 365h4v4h-4zM258 373h4v4h-4zM442 373h4v4h-4zM454 373h4v4h-4zM118 377h4v4h-4zM442 377h4v4h-4zM90 381h4v4h-4zM214 381h4v4h-4zM446 381h4v4h-4zM82 385h4v4h-4zM90 385h4v4h-4zM102 385h4v4h-4zM426 385h4v4h-4zM482 385h8v4h-8zM214 389h4v4h-4zM442 389h4v4h-4zM450 389h4v4h-4zM470 389h8v4h-8zM82 397h4v4h-4zM406 397h4v4h-4zM366 405h4v4h-4zM446 405h4v4h-4zM210 409h4v4h-4zM450 409h4v4h-4zM458 409h4v4h-4zM198 413h4v4h-4zM458 413h4v4h-4zM262 417h4v4h-4zM258 421h4v4h-4zM374 421h4v4h-4zM434 421h4v4h-4zM442 421h4v4h-4zM378 425h4v4h-4zM442 425h8v4h-8zM202 429h4v4h-4zM454 429h4v4h-4zM198 433h4v4h-4zM182 441h4v4h-4zM198 445h4v4h-4zM366 449h4v4h-4zM202 453h4v4h-4zM282 453h4v4h-4zM298 453h4v4h-4zM390 453h4v4h-4zM442 453h4v4h-4zM450 453h4v4h-4zM182 457h4v4h-4zM286 457h4v4h-4zM294 457h4v4h-4zM158 465h4v4h-4zM166 465h4v4h-4zM178 465h4v4h-4zM290 465h4v4h-4zM298 465h4v4h-4zM318 469h4v4h-4zM454 469h4v4h-4zM310 477h4v4h-4zM446 477h8v4h-8zM198 485h4v4h-4zM218 485h4v4h-4zM222 489h4v4h-4zM238 489h4v4h-4zM438 489h4v4h-4zM258 493h4v4h-4zM438 493h4v4h-4zM154 497h4v4h-4zM186 497h4v4h-4zM194 497h4v4h-4zM278 497h4v4h-4zM286 497h4v4h-4zM422 497h4v4h-4zM438 497h4v4h-4zM178 501h4v4h-4zM198 501h4v4h-4zM418 505h4v4h-4zM434 505h4v4h-4zM174 509h4v4h-4zM414 509h4v4h-4zM194 517h12v4h-12zM166 521h4v4h-4zM194 525h4v4h-4zM418 525h4v4h-4zM422 529h4v4h-4zM562 529h4v4h-4zM194 533h4v4h-4zM86 541h4v4h-4zM246 553h4v4h-4zM386 557h4v4h-4zM410 557h4v4h-4zM402 573h4v4h-4zM198 581h4v4h-4zM382 581h4v4h-4zM382 585h4v4h-4zM206 589h8v4h-8zM242 597h4v4h-4zM354 601h4v4h-4z"/><path fill="#a92e5e" d="M270 93h4v4h-4zM322 93h4v4h-4zM382 93h4v4h-4zM402 93h4v4h-4zM430 93h4v4h-4zM278 97h4v4h-4zM318 97h4v4h-4zM270 101h4v4h-4zM286 101h4v4h-4zM342 101h4v4h-4zM350 101h4v4h-4zM358 101h8v4h-8zM566 101h4v4h-4zM278 105h4v4h-4zM346 105h4v4h-4zM386 105h4v4h-4zM406 105h4v4h-4zM386 109h4v4h-4zM570 109h4v4h-4zM578 109h4v4h-4zM258 113h4v4h-4zM590 113h4v4h-4zM234 117h4v4h-4zM210 125h4v4h-4zM362 125h4v4h-4zM178 129h4v4h-4zM250 129h4v4h-4zM306 129h8v4h-8zM166 133h4v4h-4zM310 133h4v4h-4zM322 133h4v4h-4zM222 137h4v4h-4zM146 145h4v4h-4zM190 145h4v4h-4zM374 145h4v4h-4zM190 149h4v4h-4zM90 157h4v4h-4zM558 169h4v4h-4zM190 173h4v4h-4zM578 173h4v4h-4zM562 181h4v4h-4zM86 189h4v4h-4zM190 189h4v4h-4zM566 193h8v4h-8zM146 197h4v4h-4zM530 197h4v4h-4zM146 201h4v4h-4zM82 205h4v4h-4zM126 205h8v4h-8zM178 205h4v4h-4zM370 205h4v4h-4zM498 205h4v4h-4zM586 205h4v4h-4zM94 209h4v4h-4zM374 209h4v4h-4zM558 209h8v4h-8zM582 209h4v4h-4zM102 213h4v4h-4zM374 213h4v4h-4zM550 213h4v4h-4zM370 217h8v4h-8zM510 217h4v4h-4zM566 217h8v4h-8zM106 221h4v4h-4zM374 221h8v4h-8zM526 221h4v4h-4zM558 225h4v4h-4zM94 229h4v4h-4zM98 233h4v4h-4zM98 237h4v4h-4zM350 237h4v4h-4zM370 237h4v4h-4zM582 245h4v4h-4zM78 253h4v4h-4zM110 253h4v4h-4zM546 253h8v4h-8zM102 257h4v4h-4zM366 257h4v4h-4zM394 257h4v4h-4zM122 261h4v4h-4zM362 261h4v4h-4zM554 261h4v4h-4zM118 265h8v4h-8zM114 269h4v4h-4zM394 273h4v4h-4zM114 277h4v4h-4zM430 277h4v4h-4zM122 285h4v4h-4zM402 285h4v4h-4zM418 285h4v4h-4zM450 289h4v4h-4zM522 289h4v4h-4zM134 293h4v4h-4zM98 297h4v4h-4zM130 297h4v4h-4zM514 297h4v4h-4zM98 301h4v4h-4zM142 301h4v4h-4zM374 301h8v4h-8zM414 301h4v4h-4zM502 301h4v4h-4zM582 305h4v4h-4zM322 309h4v4h-4zM334 313h8v4h-8zM366 313h4v4h-4zM138 317h4v4h-4zM334 321h4v4h-4zM338 325h4v4h-4zM170 337h4v4h-4zM294 337h4v4h-4zM450 337h4v4h-4zM214 341h4v4h-4zM346 341h4v4h-4zM426 341h4v4h-4zM458 341h4v4h-4zM106 345h4v4h-4zM198 345h4v4h-4zM262 345h4v4h-4zM262 357h4v4h-4zM426 357h4v4h-4zM434 365h4v4h-4zM458 365h4v4h-4zM130 369h4v4h-4zM258 369h4v4h-4zM458 369h4v4h-4zM126 373h4v4h-4zM90 377h4v4h-4zM122 377h4v4h-4zM78 381h8v4h-8zM110 381h4v4h-4zM262 381h4v4h-4zM422 381h4v4h-4zM94 385h8v4h-8zM110 385h4v4h-4zM214 385h4v4h-4zM262 385h4v4h-4zM430 385h4v4h-4zM466 389h4v4h-4zM462 393h4v4h-4zM446 397h4v4h-4zM406 401h4v4h-4zM450 401h4v4h-4zM210 405h4v4h-4zM438 405h4v4h-4zM450 405h4v4h-4zM458 405h4v4h-4zM246 409h4v4h-4zM258 409h4v4h-4zM402 409h4v4h-4zM414 409h4v4h-4zM258 413h4v4h-4zM422 413h4v4h-4zM450 413h4v4h-4zM206 417h4v4h-4zM254 417h4v4h-4zM454 421h4v4h-4zM206 425h4v4h-4zM454 425h4v4h-4zM422 429h4v4h-4zM442 429h8v4h-8zM418 437h4v4h-4zM446 437h4v4h-4zM386 441h4v4h-4zM446 441h8v4h-8zM374 445h4v4h-4zM446 445h4v4h-4zM202 449h4v4h-4zM410 449h4v4h-4zM442 449h4v4h-4zM222 457h4v4h-4zM338 457h4v4h-4zM438 457h4v4h-4zM282 461h4v4h-4zM146 465h4v4h-4zM142 469h4v4h-4zM198 469h4v4h-4zM262 469h4v4h-4zM434 469h4v4h-4zM162 473h4v4h-4zM234 473h4v4h-4zM434 473h4v4h-4zM454 473h4v4h-4zM198 477h4v4h-4zM442 477h4v4h-4zM438 485h4v4h-4zM174 493h4v4h-4zM194 493h4v4h-4zM294 493h4v4h-4zM426 493h4v4h-4zM190 497h4v4h-4zM174 501h4v4h-4zM438 501h4v4h-4zM178 509h4v4h-4zM430 513h4v4h-4zM178 517h4v4h-4zM430 517h4v4h-4zM418 521h8v4h-8zM402 529h4v4h-4zM398 533h4v4h-4zM414 533h4v4h-4zM422 533h4v4h-4zM394 545h4v4h-4zM390 553h4v4h-4zM406 553h4v4h-4zM382 561h4v4h-4zM394 561h4v4h-4zM382 569h4v4h-4zM402 577h4v4h-4zM394 581h12v4h-12zM222 585h4v4h-4zM370 585h4v4h-4zM366 589h4v4h-4zM242 593h4v4h-4zM362 593h4v4h-4zM374 593h8v4h-8zM374 597h4v4h-4zM358 601h4v4h-4zM374 601h4v4h-4zM202 605h4v4h-4zM370 605h8v4h-8z"/><path fill="#ad305d" d="M398 93h4v4h-4zM578 93h4v4h-4zM270 97h4v4h-4zM286 97h4v4h-4zM350 97h4v4h-4zM578 97h4v4h-4zM266 101h4v4h-4zM318 101h4v4h-4zM294 105h4v4h-4zM342 105h4v4h-4zM546 105h4v4h-4zM574 105h8v4h-8zM262 109h4v4h-4zM314 109h4v4h-4zM402 109h4v4h-4zM586 109h4v4h-4zM274 113h4v4h-4zM570 113h4v4h-4zM238 117h4v4h-4zM270 117h4v4h-4zM346 117h4v4h-4zM186 129h4v4h-4zM314 129h4v4h-4zM362 133h4v4h-4zM94 137h4v4h-4zM170 137h4v4h-4zM186 141h4v4h-4zM98 145h4v4h-4zM138 145h4v4h-4zM370 149h4v4h-4zM214 153h4v4h-4zM186 157h4v4h-4zM198 157h4v4h-4zM126 161h4v4h-4zM118 165h4v4h-4zM198 165h4v4h-4zM270 165h4v4h-4zM114 169h4v4h-4zM198 169h4v4h-4zM570 169h4v4h-4zM274 173h4v4h-4zM574 185h4v4h-4zM502 189h4v4h-4zM554 193h4v4h-4zM506 197h4v4h-4zM538 197h4v4h-4zM86 201h4v4h-4zM502 201h4v4h-4zM510 201h4v4h-4zM574 201h4v4h-4zM366 205h4v4h-4zM538 205h4v4h-4zM554 205h4v4h-4zM578 205h4v4h-4zM98 209h4v4h-4zM550 209h4v4h-4zM578 209h4v4h-4zM522 213h8v4h-8zM518 221h4v4h-4zM82 225h4v4h-4zM86 229h4v4h-4zM90 233h4v4h-4zM550 237h4v4h-4zM90 241h8v4h-8zM382 241h4v4h-4zM550 241h4v4h-4zM78 245h8v4h-8zM386 245h4v4h-4zM362 257h4v4h-4zM570 257h4v4h-4zM78 265h4v4h-4zM110 265h8v4h-8zM398 265h4v4h-4zM562 265h4v4h-4zM586 265h4v4h-4zM130 269h4v4h-4zM126 273h4v4h-4zM138 273h4v4h-4zM570 273h4v4h-4zM142 281h4v4h-4zM418 281h4v4h-4zM438 281h4v4h-4zM106 285h4v4h-4zM530 289h4v4h-4zM130 293h4v4h-4zM394 293h4v4h-4zM446 293h4v4h-4zM90 297h4v4h-4zM370 301h4v4h-4zM454 305h4v4h-4zM498 305h4v4h-4zM306 309h4v4h-4zM346 309h4v4h-4zM454 309h4v4h-4zM138 313h4v4h-4zM302 313h4v4h-4zM330 313h4v4h-4zM370 313h4v4h-4zM422 313h4v4h-4zM330 317h8v4h-8zM330 321h4v4h-4zM354 321h4v4h-4zM118 325h4v4h-4zM294 341h4v4h-4zM86 345h4v4h-4zM266 345h4v4h-4zM450 345h4v4h-4zM90 349h4v4h-4zM182 349h4v4h-4zM274 349h4v4h-4zM154 353h8v4h-8zM270 353h4v4h-4zM86 357h4v4h-4zM226 361h4v4h-4zM254 361h4v4h-4zM442 361h4v4h-4zM450 361h4v4h-4zM114 369h4v4h-4zM434 369h4v4h-4zM442 369h4v4h-4zM102 373h4v4h-4zM222 373h4v4h-4zM78 377h4v4h-4zM102 377h4v4h-4zM262 377h4v4h-4zM102 381h4v4h-4zM210 389h4v4h-4zM446 393h4v4h-4zM78 397h4v4h-4zM226 401h4v4h-4zM446 401h4v4h-4zM454 401h8v4h-8zM214 405h4v4h-4zM230 405h4v4h-4zM246 405h4v4h-4zM442 405h4v4h-4zM254 409h4v4h-4zM386 409h4v4h-4zM454 409h4v4h-4zM398 413h4v4h-4zM454 413h4v4h-4zM258 417h4v4h-4zM450 417h8v4h-8zM262 421h4v4h-4zM450 421h4v4h-4zM266 425h4v4h-4zM438 425h4v4h-4zM450 425h4v4h-4zM450 429h4v4h-4zM446 433h8v4h-8zM450 437h4v4h-4zM402 441h4v4h-4zM358 445h4v4h-4zM170 449h4v4h-4zM362 449h4v4h-4zM446 449h4v4h-4zM350 453h4v4h-4zM322 457h4v4h-4zM442 457h4v4h-4zM450 457h4v4h-4zM310 461h4v4h-4zM450 461h4v4h-4zM294 465h4v4h-4zM450 465h4v4h-4zM450 469h4v4h-4zM438 473h4v4h-4zM222 477h4v4h-4zM306 477h4v4h-4zM434 477h4v4h-4zM434 481h8v4h-8zM146 485h4v4h-4zM222 485h8v4h-8zM238 485h4v4h-4zM298 485h4v4h-4zM434 485h4v4h-4zM150 489h4v4h-4zM242 489h4v4h-4zM254 489h4v4h-4zM286 489h4v4h-4zM306 489h4v4h-4zM430 489h8v4h-8zM262 493h4v4h-4zM278 493h4v4h-4zM430 493h4v4h-4zM178 497h4v4h-4zM430 497h4v4h-4zM422 501h4v4h-4zM422 505h8v4h-8zM418 509h16v4h-16zM414 513h4v4h-4zM182 517h4v4h-4zM410 521h8v4h-8zM406 525h4v4h-4zM414 525h4v4h-4zM198 529h4v4h-4zM410 529h4v4h-4zM402 533h4v4h-4zM410 533h4v4h-4zM398 537h4v4h-4zM398 541h4v4h-4zM410 541h4v4h-4zM398 545h4v4h-4zM394 549h4v4h-4zM406 549h4v4h-4zM394 553h4v4h-4zM390 557h8v4h-8zM386 561h8v4h-8zM386 565h16v4h-16zM386 569h8v4h-8zM402 569h4v4h-4zM382 573h12v4h-12zM378 577h8v4h-8zM374 581h4v4h-4zM218 585h4v4h-4zM238 585h4v4h-4zM370 589h4v4h-4zM246 597h4v4h-4zM202 601h4v4h-4zM350 605h4v4h-4zM362 605h8v4h-8z"/><path fill="#b0315b" d="M230 93h4v4h-4zM286 93h4v4h-4zM326 93h4v4h-4zM226 97h4v4h-4zM266 97h4v4h-4zM382 97h4v4h-4zM394 97h8v4h-8zM322 101h4v4h-4zM346 101h4v4h-4zM410 101h8v4h-8zM546 101h4v4h-4zM578 101h4v4h-4zM286 105h8v4h-8zM314 105h4v4h-4zM322 105h4v4h-4zM570 105h4v4h-4zM230 109h4v4h-4zM562 109h4v4h-4zM342 113h4v4h-4zM350 113h4v4h-4zM582 113h4v4h-4zM222 117h4v4h-4zM258 117h4v4h-4zM318 117h4v4h-4zM350 117h4v4h-4zM582 117h4v4h-4zM206 121h4v4h-4zM254 121h4v4h-4zM266 121h4v4h-4zM314 121h4v4h-4zM266 125h8v4h-8zM254 129h4v4h-4zM302 129h4v4h-4zM170 133h4v4h-4zM154 137h4v4h-4zM210 137h4v4h-4zM154 141h4v4h-4zM206 141h8v4h-8zM266 145h4v4h-4zM354 145h4v4h-4zM134 153h4v4h-4zM202 153h4v4h-4zM126 157h8v4h-8zM330 157h4v4h-4zM370 157h4v4h-4zM122 161h4v4h-4zM358 161h4v4h-4zM354 165h4v4h-4zM270 169h4v4h-4zM362 173h4v4h-4zM102 177h4v4h-4zM86 181h4v4h-4zM102 181h4v4h-4zM206 185h4v4h-4zM358 185h4v4h-4zM94 197h4v4h-4zM102 197h4v4h-4zM162 197h4v4h-4zM186 197h4v4h-4zM522 197h4v4h-4zM166 201h4v4h-4zM534 201h8v4h-8zM578 201h4v4h-4zM586 201h8v4h-8zM146 205h4v4h-4zM182 205h8v4h-8zM534 205h4v4h-4zM542 205h4v4h-4zM254 209h4v4h-4zM554 209h4v4h-4zM98 213h4v4h-4zM354 213h4v4h-4zM562 213h4v4h-4zM518 217h8v4h-8zM198 221h4v4h-4zM86 225h4v4h-4zM110 225h4v4h-4zM110 229h4v4h-4zM102 237h4v4h-4zM86 245h4v4h-4zM106 261h4v4h-4zM546 261h4v4h-4zM574 261h4v4h-4zM382 265h4v4h-4zM582 265h4v4h-4zM146 269h4v4h-4zM134 273h4v4h-4zM378 273h4v4h-4zM386 277h4v4h-4zM126 281h4v4h-4zM426 281h4v4h-4zM390 289h4v4h-4zM526 289h4v4h-4zM450 293h4v4h-4zM94 301h4v4h-4zM378 305h4v4h-4zM142 309h4v4h-4zM450 309h4v4h-4zM346 313h4v4h-4zM338 317h4v4h-4zM302 321h4v4h-4zM422 321h4v4h-4zM422 325h4v4h-4zM426 329h4v4h-4zM110 341h4v4h-4zM430 341h4v4h-4zM90 345h4v4h-4zM214 345h4v4h-4zM454 345h4v4h-4zM82 349h4v4h-4zM102 349h4v4h-4zM186 349h4v4h-4zM266 349h8v4h-8zM450 349h4v4h-4zM78 353h4v4h-4zM158 357h4v4h-4zM254 357h4v4h-4zM442 365h8v4h-8zM254 373h4v4h-4zM426 373h4v4h-4zM422 377h4v4h-4zM450 377h4v4h-4zM106 381h4v4h-4zM78 385h4v4h-4zM106 385h4v4h-4zM442 385h8v4h-8zM454 385h4v4h-4zM474 385h4v4h-4zM410 389h4v4h-4zM446 389h4v4h-4zM482 389h4v4h-4zM418 393h4v4h-4zM234 397h4v4h-4zM414 397h4v4h-4zM234 401h4v4h-4zM258 401h4v4h-4zM226 405h4v4h-4zM454 405h4v4h-4zM250 409h4v4h-4zM250 413h4v4h-4zM418 413h4v4h-4zM202 421h8v4h-8zM230 421h4v4h-4zM202 433h4v4h-4zM270 433h4v4h-4zM374 433h4v4h-4zM442 433h4v4h-4zM226 437h4v4h-4zM274 437h4v4h-4zM222 441h4v4h-4zM182 445h4v4h-4zM382 445h4v4h-4zM294 453h4v4h-4zM446 453h4v4h-4zM190 457h8v4h-8zM446 457h4v4h-4zM158 461h4v4h-4zM166 461h4v4h-4zM214 461h4v4h-4zM330 461h4v4h-4zM434 465h4v4h-4zM178 469h4v4h-4zM206 469h4v4h-4zM258 469h4v4h-4zM274 469h4v4h-4zM238 473h4v4h-4zM442 473h4v4h-4zM450 473h4v4h-4zM142 477h4v4h-4zM438 477h4v4h-4zM238 481h4v4h-4zM194 489h4v4h-4zM234 489h4v4h-4zM290 489h4v4h-4zM286 493h4v4h-4zM434 493h4v4h-4zM426 497h4v4h-4zM194 501h4v4h-4zM426 501h4v4h-4zM178 505h4v4h-4zM170 509h4v4h-4zM414 517h4v4h-4zM410 525h4v4h-4zM406 529h4v4h-4zM414 529h4v4h-4zM406 533h4v4h-4zM410 537h4v4h-4zM402 541h4v4h-4zM398 549h4v4h-4zM406 557h4v4h-4zM398 561h4v4h-4zM398 569h4v4h-4zM378 581h4v4h-4zM374 589h4v4h-4zM370 593h4v4h-4zM334 601h4v4h-4zM362 601h4v4h-4z"/><path fill="#b3325a" d="M186 93h4v4h-4zM318 93h4v4h-4zM338 93h4v4h-4zM406 93h4v4h-4zM230 97h4v4h-4zM274 97h4v4h-4zM314 101h4v4h-4zM398 101h4v4h-4zM566 105h4v4h-4zM390 109h4v4h-4zM246 113h4v4h-4zM262 113h4v4h-4zM334 113h4v4h-4zM346 113h4v4h-4zM566 113h4v4h-4zM230 117h4v4h-4zM262 117h4v4h-4zM254 125h4v4h-4zM190 133h4v4h-4zM90 141h4v4h-4zM206 149h4v4h-4zM186 153h8v4h-8zM206 153h4v4h-4zM334 153h4v4h-4zM110 161h4v4h-4zM238 161h4v4h-4zM106 173h4v4h-4zM590 173h4v4h-4zM570 181h4v4h-4zM86 185h4v4h-4zM82 189h4v4h-4zM178 193h12v4h-12zM362 193h4v4h-4zM534 197h4v4h-4zM590 197h4v4h-4zM506 201h4v4h-4zM86 205h4v4h-4zM502 205h8v4h-8zM506 209h4v4h-4zM506 213h4v4h-4zM514 213h8v4h-8zM110 221h4v4h-4zM530 221h4v4h-4zM106 225h4v4h-4zM90 229h4v4h-4zM354 229h8v4h-8zM366 233h4v4h-4zM94 237h4v4h-4zM106 237h4v4h-4zM590 241h4v4h-4zM106 245h4v4h-4zM586 245h4v4h-4zM90 249h4v4h-4zM382 249h4v4h-4zM82 253h4v4h-4zM114 253h4v4h-4zM566 257h4v4h-4zM370 261h4v4h-4zM550 261h4v4h-4zM386 265h4v4h-4zM578 265h4v4h-4zM582 269h4v4h-4zM582 273h4v4h-4zM422 281h4v4h-4zM130 285h4v4h-4zM374 285h4v4h-4zM438 285h4v4h-4zM370 289h4v4h-4zM394 289h4v4h-4zM446 289h4v4h-4zM94 297h4v4h-4zM370 297h4v4h-4zM346 305h4v4h-4zM374 305h4v4h-4zM318 313h4v4h-4zM362 313h4v4h-4zM426 317h4v4h-4zM130 321h4v4h-4zM350 321h4v4h-4zM342 325h4v4h-4zM302 329h4v4h-4zM294 333h4v4h-4zM426 337h4v4h-4zM202 341h4v4h-4zM290 345h4v4h-4zM430 345h4v4h-4zM222 349h8v4h-8zM98 353h4v4h-4zM230 353h4v4h-4zM426 353h4v4h-4zM94 357h4v4h-4zM434 357h4v4h-4zM434 361h4v4h-4zM130 365h4v4h-4zM254 365h4v4h-4zM110 373h4v4h-4zM122 373h4v4h-4zM422 373h4v4h-4zM110 377h4v4h-4zM210 385h4v4h-4zM434 385h4v4h-4zM450 385h4v4h-4zM458 385h4v4h-4zM410 393h4v4h-4zM258 405h4v4h-4zM238 409h8v4h-8zM394 413h4v4h-4zM202 417h4v4h-4zM210 421h4v4h-4zM254 421h4v4h-4zM402 433h4v4h-4zM202 437h8v4h-8zM278 437h4v4h-4zM278 441h4v4h-4zM382 441h4v4h-4zM394 441h4v4h-4zM194 445h4v4h-4zM398 445h4v4h-4zM410 445h4v4h-4zM342 449h4v4h-4zM226 453h4v4h-4zM150 457h4v4h-4zM206 457h4v4h-4zM274 457h4v4h-4zM182 461h4v4h-4zM446 461h4v4h-4zM302 465h4v4h-4zM142 473h4v4h-4zM158 473h4v4h-4zM146 477h4v4h-4zM158 477h4v4h-4zM194 477h4v4h-4zM290 477h4v4h-4zM146 481h4v4h-4zM222 481h4v4h-4zM230 489h4v4h-4zM294 489h4v4h-4zM290 493h4v4h-4zM282 497h4v4h-4zM418 513h4v4h-4zM402 561h4v4h-4zM402 565h4v4h-4zM218 573h4v4h-4zM398 573h4v4h-4zM218 577h8v4h-8zM398 577h4v4h-4zM222 581h4v4h-4zM234 589h8v4h-8zM378 589h4v4h-4zM366 593h4v4h-4zM238 597h4v4h-4zM362 597h4v4h-4z"/><path fill="#b63458" d="M202 93h4v4h-4zM374 97h4v4h-4zM338 101h4v4h-4zM310 105h4v4h-4zM306 109h4v4h-4zM346 109h4v4h-4zM394 109h8v4h-8zM226 113h4v4h-4zM394 113h4v4h-4zM226 117h4v4h-4zM314 117h4v4h-4zM330 117h4v4h-4zM234 121h4v4h-4zM350 121h4v4h-4zM182 125h4v4h-4zM318 125h4v4h-4zM170 129h4v4h-4zM150 137h4v4h-4zM270 141h4v4h-4zM354 141h4v4h-4zM90 145h4v4h-4zM370 145h4v4h-4zM214 149h4v4h-4zM330 149h8v4h-8zM218 153h4v4h-4zM362 153h4v4h-4zM266 161h4v4h-4zM370 161h4v4h-4zM358 165h4v4h-4zM274 169h4v4h-4zM102 173h4v4h-4zM270 173h4v4h-4zM586 173h4v4h-4zM258 177h4v4h-4zM358 177h4v4h-4zM194 181h4v4h-4zM90 185h4v4h-4zM78 189h4v4h-4zM90 189h4v4h-4zM554 189h8v4h-8zM566 189h4v4h-4zM590 193h4v4h-4zM86 197h4v4h-4zM98 197h4v4h-4zM346 197h4v4h-4zM346 201h4v4h-4zM514 201h4v4h-4zM90 205h4v4h-4zM150 205h8v4h-8zM346 205h4v4h-4zM518 205h4v4h-4zM130 209h4v4h-4zM146 209h4v4h-4zM174 209h4v4h-4zM366 209h4v4h-4zM114 213h4v4h-4zM258 213h4v4h-4zM366 213h8v4h-8zM510 213h4v4h-4zM542 213h4v4h-4zM570 213h4v4h-4zM78 221h4v4h-4zM362 221h4v4h-4zM118 233h8v4h-8zM354 241h4v4h-4zM362 241h4v4h-4zM94 245h8v4h-8zM362 245h4v4h-4zM566 245h4v4h-4zM78 249h4v4h-4zM86 249h4v4h-4zM114 249h4v4h-4zM554 253h8v4h-8zM574 253h4v4h-4zM118 261h4v4h-4zM566 261h4v4h-4zM586 261h4v4h-4zM134 265h8v4h-8zM122 269h4v4h-4zM150 269h4v4h-4zM394 269h4v4h-4zM578 273h4v4h-4zM190 277h4v4h-4zM118 281h4v4h-4zM142 285h4v4h-4zM422 285h4v4h-4zM442 285h4v4h-4zM362 289h4v4h-4zM418 301h4v4h-4zM450 301h8v4h-8zM342 305h4v4h-4zM366 305h4v4h-4zM366 309h4v4h-4zM310 313h4v4h-4zM426 313h4v4h-4zM354 317h4v4h-4zM450 317h4v4h-4zM346 321h4v4h-4zM450 321h4v4h-4zM450 333h4v4h-4zM114 337h4v4h-4zM170 345h4v4h-4zM194 345h4v4h-4zM158 349h4v4h-4zM238 349h4v4h-4zM262 349h4v4h-4zM430 349h4v4h-4zM454 349h4v4h-4zM246 353h4v4h-4zM434 353h4v4h-4zM142 361h4v4h-4zM438 361h4v4h-4zM446 361h4v4h-4zM90 365h4v4h-4zM258 365h4v4h-4zM110 369h4v4h-4zM230 369h4v4h-4zM78 373h4v4h-4zM86 373h4v4h-4zM106 373h4v4h-4zM438 373h4v4h-4zM106 377h4v4h-4zM94 381h8v4h-8zM430 381h4v4h-4zM422 393h4v4h-4zM442 393h4v4h-4zM218 397h4v4h-4zM410 401h4v4h-4zM234 405h4v4h-4zM422 405h4v4h-4zM214 409h4v4h-4zM226 421h4v4h-4zM270 429h4v4h-4zM186 433h4v4h-4zM198 437h4v4h-4zM218 437h4v4h-4zM370 437h4v4h-4zM414 437h4v4h-4zM198 441h4v4h-4zM226 441h4v4h-4zM394 449h4v4h-4zM158 453h4v4h-4zM274 453h4v4h-4zM162 461h4v4h-4zM210 461h4v4h-4zM226 461h4v4h-4zM154 465h4v4h-4zM162 465h4v4h-4zM210 465h4v4h-4zM218 465h4v4h-4zM286 465h4v4h-4zM174 469h4v4h-4zM254 469h4v4h-4zM266 469h4v4h-4zM278 469h4v4h-4zM314 469h4v4h-4zM194 473h4v4h-4zM290 473h4v4h-4zM166 477h4v4h-4zM242 477h4v4h-4zM294 477h4v4h-4zM142 481h4v4h-4zM226 481h4v4h-4zM170 485h4v4h-4zM194 485h4v4h-4zM170 497h4v4h-4zM434 497h4v4h-4zM174 505h4v4h-4zM426 513h4v4h-4zM418 517h4v4h-4zM402 545h8v4h-8zM402 553h4v4h-4zM394 577h4v4h-4zM218 581h4v4h-4zM222 589h4v4h-4zM230 593h4v4h-4zM222 605h4v4h-4z"/><path fill="#b93556" d="M94 93h4v4h-4zM154 93h4v4h-4zM402 97h8v4h-8zM230 101h4v4h-4zM294 101h4v4h-4zM310 101h4v4h-4zM570 101h8v4h-8zM582 105h4v4h-4zM226 109h4v4h-4zM566 109h4v4h-4zM318 113h4v4h-4zM122 117h4v4h-4zM398 117h4v4h-4zM246 121h4v4h-4zM258 121h4v4h-4zM346 121h4v4h-4zM142 125h4v4h-4zM178 125h4v4h-4zM234 125h4v4h-4zM246 125h4v4h-4zM166 129h4v4h-4zM322 129h4v4h-4zM338 133h8v4h-8zM314 137h4v4h-4zM338 137h4v4h-4zM266 141h4v4h-4zM198 149h4v4h-4zM86 153h4v4h-4zM82 157h4v4h-4zM118 157h4v4h-4zM358 157h4v4h-4zM234 161h4v4h-4zM270 161h4v4h-4zM202 165h4v4h-4zM234 165h4v4h-4zM366 165h4v4h-4zM110 169h4v4h-4zM202 169h4v4h-4zM362 169h4v4h-4zM590 169h4v4h-4zM94 177h4v4h-4zM578 177h4v4h-4zM590 177h4v4h-4zM282 181h4v4h-4zM294 181h4v4h-4zM82 185h4v4h-4zM98 185h4v4h-4zM554 185h4v4h-4zM562 185h4v4h-4zM98 189h4v4h-4zM362 189h4v4h-4zM82 193h8v4h-8zM94 193h4v4h-4zM574 193h4v4h-4zM90 197h4v4h-4zM518 197h4v4h-4zM582 197h4v4h-4zM158 201h4v4h-4zM82 209h4v4h-4zM126 209h4v4h-4zM218 209h4v4h-4zM530 209h4v4h-4zM538 209h4v4h-4zM546 209h4v4h-4zM94 213h4v4h-4zM118 213h4v4h-4zM250 213h4v4h-4zM358 217h4v4h-4zM514 217h4v4h-4zM198 225h4v4h-4zM362 225h4v4h-4zM94 233h4v4h-4zM110 233h4v4h-4zM354 233h4v4h-4zM366 241h4v4h-4zM378 241h4v4h-4zM90 245h4v4h-4zM382 245h4v4h-4zM102 249h4v4h-4zM566 253h4v4h-4zM578 253h4v4h-4zM374 257h4v4h-4zM390 261h8v4h-8zM362 265h4v4h-4zM118 269h4v4h-4zM114 273h4v4h-4zM574 273h4v4h-4zM390 277h4v4h-4zM434 281h4v4h-4zM442 281h4v4h-4zM142 289h4v4h-4zM342 289h4v4h-4zM422 289h4v4h-4zM454 293h4v4h-4zM158 297h4v4h-4zM450 297h4v4h-4zM146 301h4v4h-4zM158 301h4v4h-4zM318 301h8v4h-8zM414 305h4v4h-4zM450 305h4v4h-4zM370 309h4v4h-4zM378 309h4v4h-4zM298 317h4v4h-4zM342 317h4v4h-4zM338 321h4v4h-4zM302 325h4v4h-4zM282 333h4v4h-4zM266 341h4v4h-4zM438 341h4v4h-4zM190 345h4v4h-4zM218 345h4v4h-4zM214 349h4v4h-4zM242 349h4v4h-4zM446 349h4v4h-4zM458 349h4v4h-4zM146 353h4v4h-4zM438 353h8v4h-8zM146 357h4v4h-4zM78 361h4v4h-4zM134 361h4v4h-4zM78 365h4v4h-4zM126 369h4v4h-4zM438 369h4v4h-4zM218 377h4v4h-4zM426 377h4v4h-4zM454 377h4v4h-4zM442 381h4v4h-4zM450 381h4v4h-4zM458 389h4v4h-4zM414 393h4v4h-4zM430 393h4v4h-4zM222 405h4v4h-4zM242 405h4v4h-4zM254 405h4v4h-4zM434 405h4v4h-4zM434 409h4v4h-4zM386 413h4v4h-4zM414 413h4v4h-4zM438 417h4v4h-4zM258 425h8v4h-8zM206 433h4v4h-4zM222 433h4v4h-4zM406 433h4v4h-4zM418 433h4v4h-4zM390 437h4v4h-4zM202 441h4v4h-4zM202 445h4v4h-4zM386 445h4v4h-4zM290 449h4v4h-4zM230 457h4v4h-4zM202 461h4v4h-4zM314 461h4v4h-4zM434 461h4v4h-4zM446 465h4v4h-4zM158 469h4v4h-4zM222 473h4v4h-4zM446 473h4v4h-4zM234 477h4v4h-4zM242 485h4v4h-4zM170 489h4v4h-4zM154 493h4v4h-4zM282 493h4v4h-4zM158 501h4v4h-4zM170 501h4v4h-4zM434 501h4v4h-4zM430 505h4v4h-4zM426 517h4v4h-4zM418 533h4v4h-4zM394 569h4v4h-4zM374 585h4v4h-4zM214 593h4v4h-4zM226 593h4v4h-4zM214 601h4v4h-4zM234 605h4v4h-4z"/><path fill="#bd3853" d="M150 93h4v4h-4zM158 93h4v4h-4zM198 93h4v4h-4zM278 93h4v4h-4zM586 93h4v4h-4zM326 97h4v4h-4zM334 97h8v4h-8zM582 97h4v4h-4zM326 101h4v4h-4zM406 101h4v4h-4zM230 105h4v4h-4zM294 109h4v4h-4zM310 109h4v4h-4zM586 113h4v4h-4zM246 117h4v4h-4zM274 117h4v4h-4zM402 117h4v4h-4zM210 121h4v4h-4zM262 121h4v4h-4zM166 125h4v4h-4zM274 125h4v4h-4zM314 125h4v4h-4zM346 125h4v4h-4zM142 129h4v4h-4zM326 129h4v4h-4zM346 129h4v4h-4zM362 129h4v4h-4zM162 133h4v4h-4zM222 133h4v4h-4zM306 133h4v4h-4zM218 137h4v4h-4zM318 137h8v4h-8zM150 141h4v4h-4zM102 145h4v4h-4zM194 145h4v4h-4zM358 149h4v4h-4zM90 153h4v4h-4zM130 153h4v4h-4zM318 153h4v4h-4zM114 157h4v4h-4zM122 157h4v4h-4zM250 157h4v4h-4zM334 157h4v4h-4zM354 157h4v4h-4zM86 161h4v4h-4zM114 161h4v4h-4zM230 161h4v4h-4zM350 161h4v4h-4zM114 165h4v4h-4zM226 165h4v4h-4zM362 165h4v4h-4zM106 169h4v4h-4zM198 173h8v4h-8zM198 177h4v4h-4zM254 177h4v4h-4zM274 177h4v4h-4zM582 177h4v4h-4zM98 181h4v4h-4zM198 181h8v4h-8zM94 185h4v4h-4zM94 189h4v4h-4zM578 189h4v4h-4zM586 189h4v4h-4zM90 193h4v4h-4zM346 193h4v4h-4zM586 197h4v4h-4zM522 201h4v4h-4zM158 205h4v4h-4zM170 205h4v4h-4zM178 209h4v4h-4zM186 209h4v4h-4zM250 209h4v4h-4zM546 213h4v4h-4zM90 225h8v4h-8zM350 225h4v4h-4zM358 225h4v4h-4zM102 241h8v4h-8zM350 241h4v4h-4zM114 245h4v4h-4zM366 245h4v4h-4zM82 249h4v4h-4zM94 249h4v4h-4zM574 249h8v4h-8zM350 253h8v4h-8zM546 257h4v4h-4zM130 261h4v4h-4zM146 261h4v4h-4zM570 261h4v4h-4zM590 265h4v4h-4zM142 269h4v4h-4zM122 273h4v4h-4zM130 273h4v4h-4zM126 277h4v4h-4zM382 277h4v4h-4zM122 281h4v4h-4zM138 281h4v4h-4zM146 281h4v4h-4zM370 285h4v4h-4zM134 297h8v4h-8zM162 297h4v4h-4zM446 297h4v4h-4zM362 305h4v4h-4zM418 305h4v4h-4zM446 305h4v4h-4zM146 309h4v4h-4zM326 309h4v4h-4zM338 309h4v4h-4zM350 309h4v4h-4zM362 309h4v4h-4zM446 309h4v4h-4zM346 317h4v4h-4zM434 317h4v4h-4zM134 321h4v4h-4zM282 337h4v4h-4zM186 345h4v4h-4zM446 345h4v4h-4zM458 345h4v4h-4zM254 353h4v4h-4zM258 357h4v4h-4zM82 361h4v4h-4zM230 365h4v4h-4zM78 369h4v4h-4zM82 373h4v4h-4zM430 373h4v4h-4zM98 377h4v4h-4zM258 377h4v4h-4zM430 377h4v4h-4zM426 381h4v4h-4zM418 385h4v4h-4zM438 385h4v4h-4zM218 389h4v4h-4zM222 401h4v4h-4zM238 405h4v4h-4zM250 405h4v4h-4zM218 409h4v4h-4zM198 417h4v4h-4zM382 417h4v4h-4zM386 421h4v4h-4zM410 421h4v4h-4zM206 429h4v4h-4zM194 433h4v4h-4zM218 433h4v4h-4zM270 437h4v4h-4zM402 437h4v4h-4zM274 441h4v4h-4zM378 441h4v4h-4zM398 441h4v4h-4zM406 441h4v4h-4zM190 445h4v4h-4zM282 445h4v4h-4zM390 445h4v4h-4zM174 449h4v4h-4zM346 449h4v4h-4zM186 453h4v4h-4zM230 453h4v4h-4zM346 453h4v4h-4zM174 457h4v4h-4zM442 461h4v4h-4zM202 465h4v4h-4zM306 465h4v4h-4zM322 465h4v4h-4zM154 469h4v4h-4zM170 469h4v4h-4zM194 469h4v4h-4zM270 469h4v4h-4zM286 469h8v4h-8zM446 469h4v4h-4zM266 473h4v4h-4zM286 473h4v4h-4zM310 473h4v4h-4zM190 477h4v4h-4zM226 477h4v4h-4zM302 477h4v4h-4zM166 485h4v4h-4zM290 485h4v4h-4zM258 489h4v4h-4zM266 489h4v4h-4zM170 493h4v4h-4zM166 517h4v4h-4zM194 529h4v4h-4zM402 537h4v4h-4zM402 549h4v4h-4zM394 573h4v4h-4zM238 593h4v4h-4zM234 601h4v4h-4z"/><path fill="#c03a51" d="M90 93h4v4h-4zM374 93h4v4h-4zM570 97h8v4h-8zM226 101h4v4h-4zM290 101h4v4h-4zM298 101h4v4h-4zM226 105h4v4h-4zM338 105h4v4h-4zM322 109h4v4h-4zM590 109h4v4h-4zM222 113h4v4h-4zM242 113h4v4h-4zM314 113h4v4h-4zM270 121h4v4h-4zM334 121h4v4h-4zM170 125h4v4h-4zM198 125h4v4h-4zM302 125h4v4h-4zM322 125h4v4h-4zM358 125h4v4h-4zM234 129h4v4h-4zM318 129h4v4h-4zM226 133h8v4h-8zM254 133h4v4h-4zM90 137h4v4h-4zM250 137h4v4h-4zM310 137h4v4h-4zM114 141h4v4h-4zM210 145h4v4h-4zM286 145h4v4h-4zM134 149h4v4h-4zM202 149h4v4h-4zM222 149h4v4h-4zM246 149h4v4h-4zM358 153h4v4h-4zM94 157h4v4h-4zM210 157h4v4h-4zM366 157h4v4h-4zM82 161h4v4h-4zM110 165h4v4h-4zM266 165h4v4h-4zM90 177h4v4h-4zM98 177h4v4h-4zM202 177h4v4h-4zM82 181h4v4h-4zM206 181h4v4h-4zM574 181h4v4h-4zM194 185h4v4h-4zM558 185h4v4h-4zM562 189h4v4h-4zM98 193h4v4h-4zM586 193h4v4h-4zM82 201h4v4h-4zM354 209h4v4h-4zM370 209h4v4h-4zM538 213h4v4h-4zM566 213h4v4h-4zM94 217h4v4h-4zM362 217h4v4h-4zM526 217h4v4h-4zM358 221h4v4h-4zM194 225h4v4h-4zM354 225h4v4h-4zM362 229h4v4h-4zM110 237h4v4h-4zM118 237h4v4h-4zM342 237h4v4h-4zM110 241h4v4h-4zM358 241h4v4h-4zM590 245h4v4h-4zM98 249h4v4h-4zM358 249h4v4h-4zM378 249h4v4h-4zM566 249h4v4h-4zM162 253h4v4h-4zM106 257h4v4h-4zM554 257h4v4h-4zM202 261h4v4h-4zM130 265h4v4h-4zM378 265h4v4h-4zM390 265h4v4h-4zM566 265h4v4h-4zM354 269h4v4h-4zM354 273h4v4h-4zM142 277h4v4h-4zM430 281h4v4h-4zM362 285h8v4h-8zM366 289h4v4h-4zM418 293h4v4h-4zM442 293h4v4h-4zM454 297h4v4h-4zM422 309h4v4h-4zM122 325h4v4h-4zM450 325h4v4h-4zM290 337h4v4h-4zM430 337h4v4h-4zM434 341h4v4h-4zM446 341h4v4h-4zM270 345h4v4h-4zM154 349h4v4h-4zM258 349h4v4h-4zM82 357h4v4h-4zM138 357h4v4h-4zM94 361h4v4h-4zM250 361h4v4h-4zM126 365h4v4h-4zM90 373h4v4h-4zM98 373h4v4h-4zM454 381h4v4h-4zM218 385h4v4h-4zM418 389h4v4h-4zM462 389h4v4h-4zM390 409h4v4h-4zM246 413h4v4h-4zM210 417h4v4h-4zM434 417h4v4h-4zM426 421h4v4h-4zM438 421h4v4h-4zM406 429h4v4h-4zM226 433h4v4h-4zM386 437h4v4h-4zM410 441h4v4h-4zM370 445h4v4h-4zM394 445h4v4h-4zM178 449h4v4h-4zM206 449h4v4h-4zM286 453h8v4h-8zM186 457h4v4h-4zM218 457h4v4h-4zM326 457h4v4h-4zM218 461h4v4h-4zM198 465h4v4h-4zM222 469h4v4h-4zM438 469h8v4h-8zM190 473h4v4h-4zM190 481h4v4h-4zM294 481h8v4h-8zM258 485h4v4h-4zM294 485h4v4h-4zM174 489h4v4h-4zM178 493h8v4h-8zM430 501h4v4h-4zM422 513h4v4h-4zM406 537h4v4h-4zM406 541h4v4h-4zM398 553h4v4h-4zM402 557h4v4h-4zM378 585h4v4h-4zM218 589h4v4h-4zM234 597h4v4h-4zM370 601h4v4h-4zM230 605h4v4h-4z"/><path fill="#c33b4f" d="M378 93h4v4h-4zM394 93h4v4h-4zM202 97h4v4h-4zM294 97h4v4h-4zM314 97h4v4h-4zM330 97h4v4h-4zM378 97h4v4h-4zM402 101h4v4h-4zM326 105h4v4h-4zM278 109h4v4h-4zM290 109h4v4h-4zM302 109h4v4h-4zM302 113h4v4h-4zM126 117h4v4h-4zM590 117h4v4h-4zM222 121h4v4h-4zM122 125h4v4h-4zM258 125h4v4h-4zM298 125h4v4h-4zM210 133h4v4h-4zM206 137h4v4h-4zM254 137h4v4h-4zM142 141h8v4h-8zM282 141h8v4h-8zM270 145h4v4h-4zM334 145h4v4h-4zM362 145h4v4h-4zM94 149h4v4h-4zM218 149h4v4h-4zM94 153h4v4h-4zM362 157h4v4h-4zM118 161h4v4h-4zM78 165h4v4h-4zM310 169h4v4h-4zM358 169h4v4h-4zM98 173h4v4h-4zM194 173h4v4h-4zM358 173h4v4h-4zM270 177h4v4h-4zM278 177h4v4h-4zM202 185h4v4h-4zM306 185h4v4h-4zM358 189h4v4h-4zM82 197h4v4h-4zM574 197h4v4h-4zM162 201h4v4h-4zM250 205h4v4h-4zM258 209h4v4h-4zM542 209h4v4h-4zM166 217h4v4h-4zM254 217h4v4h-4zM354 217h4v4h-4zM366 237h4v4h-4zM374 241h4v4h-4zM358 245h4v4h-4zM374 249h4v4h-4zM590 249h4v4h-4zM358 253h4v4h-4zM370 253h4v4h-4zM570 253h4v4h-4zM126 257h4v4h-4zM582 257h4v4h-4zM114 261h4v4h-4zM142 261h4v4h-4zM370 265h4v4h-4zM394 265h4v4h-4zM358 269h4v4h-4zM578 269h4v4h-4zM142 273h4v4h-4zM358 273h4v4h-4zM382 273h4v4h-4zM442 289h4v4h-4zM342 293h4v4h-4zM422 293h4v4h-4zM314 297h4v4h-4zM442 297h4v4h-4zM162 301h4v4h-4zM358 301h8v4h-8zM446 301h4v4h-4zM326 305h4v4h-4zM350 305h12v4h-12zM314 309h4v4h-4zM354 309h4v4h-4zM314 313h4v4h-4zM350 313h12v4h-12zM430 317h4v4h-4zM138 321h4v4h-4zM342 321h4v4h-4zM198 341h4v4h-4zM218 341h4v4h-4zM262 341h4v4h-4zM442 341h4v4h-4zM274 345h4v4h-4zM286 345h4v4h-4zM86 349h4v4h-4zM162 349h4v4h-4zM218 349h4v4h-4zM246 349h4v4h-4zM238 353h4v4h-4zM266 353h4v4h-4zM438 365h4v4h-4zM118 369h4v4h-4zM434 373h4v4h-4zM94 377h4v4h-4zM218 381h4v4h-4zM258 381h4v4h-4zM218 393h4v4h-4zM426 393h4v4h-4zM258 397h4v4h-4zM442 401h4v4h-4zM426 409h4v4h-4zM390 413h4v4h-4zM226 417h4v4h-4zM410 417h4v4h-4zM422 425h4v4h-4zM398 433h4v4h-4zM386 449h4v4h-4zM334 453h4v4h-4zM170 457h4v4h-4zM246 457h8v4h-8zM334 457h4v4h-4zM198 461h4v4h-4zM206 461h4v4h-4zM222 461h4v4h-4zM326 461h4v4h-4zM438 461h4v4h-4zM162 469h4v4h-4zM262 473h4v4h-4zM298 477h4v4h-4zM166 481h4v4h-4zM290 481h4v4h-4zM150 485h4v4h-4zM170 505h4v4h-4zM162 509h4v4h-4zM166 513h4v4h-4zM418 529h4v4h-4zM234 593h4v4h-4zM206 597h4v4h-4zM230 597h4v4h-4zM218 601h4v4h-4zM230 601h4v4h-4zM366 601h4v4h-4z"/><path fill="#c63d4d" d="M226 93h4v4h-4zM346 93h4v4h-4zM222 97h4v4h-4zM298 97h4v4h-4zM342 97h8v4h-8zM306 105h4v4h-4zM330 105h4v4h-4zM126 113h4v4h-4zM402 113h4v4h-4zM130 117h4v4h-4zM302 117h4v4h-4zM326 117h4v4h-4zM202 121h4v4h-4zM238 121h4v4h-4zM322 121h4v4h-4zM174 125h4v4h-4zM350 125h4v4h-4zM230 129h4v4h-4zM246 129h4v4h-4zM342 129h4v4h-4zM158 133h4v4h-4zM250 133h4v4h-4zM190 141h4v4h-4zM202 141h4v4h-4zM206 145h4v4h-4zM366 145h4v4h-4zM366 149h4v4h-4zM222 153h4v4h-4zM246 153h8v4h-8zM214 157h4v4h-4zM246 157h4v4h-4zM250 161h4v4h-4zM290 165h4v4h-4zM306 169h4v4h-4zM254 173h4v4h-4zM306 173h4v4h-4zM86 177h4v4h-4zM194 177h4v4h-4zM222 177h4v4h-4zM586 177h4v4h-4zM586 185h4v4h-4zM354 189h4v4h-4zM582 189h4v4h-4zM350 193h4v4h-4zM78 197h4v4h-4zM162 205h4v4h-4zM150 209h4v4h-4zM182 209h4v4h-4zM190 209h4v4h-4zM534 209h4v4h-4zM122 213h4v4h-4zM262 213h4v4h-4zM358 213h4v4h-4zM258 217h4v4h-4zM538 217h4v4h-4zM82 221h4v4h-4zM94 221h4v4h-4zM190 221h4v4h-4zM114 233h4v4h-4zM114 237h4v4h-4zM342 241h4v4h-4zM370 241h4v4h-4zM370 245h4v4h-4zM162 249h4v4h-4zM362 249h4v4h-4zM370 249h4v4h-4zM570 249h4v4h-4zM362 253h4v4h-4zM358 257h4v4h-4zM370 257h4v4h-4zM550 257h4v4h-4zM574 265h4v4h-4zM390 269h4v4h-4zM566 269h4v4h-4zM122 277h4v4h-4zM138 277h4v4h-4zM146 277h4v4h-4zM186 277h4v4h-4zM366 293h4v4h-4zM418 297h4v4h-4zM366 301h4v4h-4zM314 305h4v4h-4zM334 309h4v4h-4zM358 309h4v4h-4zM374 309h4v4h-4zM298 313h4v4h-4zM226 317h4v4h-4zM350 317h4v4h-4zM426 321h4v4h-4zM294 325h4v4h-4zM426 325h4v4h-4zM118 329h4v4h-4zM250 333h4v4h-4zM278 333h4v4h-4zM286 337h4v4h-4zM290 341h4v4h-4zM174 345h4v4h-4zM182 345h4v4h-4zM442 345h4v4h-4zM254 349h4v4h-4zM234 353h4v4h-4zM430 353h4v4h-4zM118 357h4v4h-4zM430 357h4v4h-4zM250 365h4v4h-4zM414 385h4v4h-4zM438 393h4v4h-4zM410 397h4v4h-4zM442 397h4v4h-4zM226 409h4v4h-4zM230 417h8v4h-8zM234 421h4v4h-4zM406 421h4v4h-4zM254 425h4v4h-4zM406 425h8v4h-8zM258 433h4v4h-4zM406 437h4v4h-4zM218 441h4v4h-4zM266 441h4v4h-4zM366 441h4v4h-4zM206 445h4v4h-4zM274 445h8v4h-8zM278 449h4v4h-4zM350 449h4v4h-4zM358 449h4v4h-4zM390 449h4v4h-4zM222 453h4v4h-4zM258 457h4v4h-4zM182 465h4v4h-4zM254 465h4v4h-4zM282 465h4v4h-4zM442 465h4v4h-4zM146 469h4v4h-4zM182 469h4v4h-4zM250 469h4v4h-4zM174 473h4v4h-4zM294 473h4v4h-4zM182 481h4v4h-4zM234 481h4v4h-4zM266 481h4v4h-4zM254 485h4v4h-4zM270 485h8v4h-8zM262 489h4v4h-4zM278 489h4v4h-4zM190 493h4v4h-4zM422 517h4v4h-4zM398 557h4v4h-4zM210 597h8v4h-8zM210 601h4v4h-4z"/><path fill="#c83f4b" d="M206 93h4v4h-4zM222 93h4v4h-4zM274 93h4v4h-4zM314 93h4v4h-4zM186 97h4v4h-4zM290 97h4v4h-4zM298 105h4v4h-4zM126 109h4v4h-4zM330 109h8v4h-8zM342 109h4v4h-4zM330 113h4v4h-4zM398 113h4v4h-4zM322 117h4v4h-4zM122 121h4v4h-4zM274 121h4v4h-4zM330 121h4v4h-4zM338 121h4v4h-4zM278 125h4v4h-4zM90 129h4v4h-4zM122 129h8v4h-8zM190 129h4v4h-4zM202 129h8v4h-8zM278 129h4v4h-4zM350 129h4v4h-4zM90 133h4v4h-4zM326 133h4v4h-4zM190 137h4v4h-4zM218 141h4v4h-4zM338 141h4v4h-4zM262 145h4v4h-4zM354 149h4v4h-4zM82 153h4v4h-4zM258 173h4v4h-4zM282 177h4v4h-4zM274 181h4v4h-4zM586 181h4v4h-4zM354 185h4v4h-4zM578 185h4v4h-4zM350 189h4v4h-4zM190 193h4v4h-4zM342 193h4v4h-4zM190 197h4v4h-4zM342 197h4v4h-4zM350 197h4v4h-4zM578 197h4v4h-4zM78 201h4v4h-4zM270 201h4v4h-4zM342 201h4v4h-4zM362 205h4v4h-4zM190 213h4v4h-4zM90 217h4v4h-4zM194 217h8v4h-8zM90 221h4v4h-4zM354 221h4v4h-4zM122 229h4v4h-4zM350 229h4v4h-4zM350 233h4v4h-4zM346 237h4v4h-4zM102 245h4v4h-4zM354 249h4v4h-4zM366 249h4v4h-4zM114 257h4v4h-4zM350 257h4v4h-4zM138 261h4v4h-4zM206 261h4v4h-4zM374 261h4v4h-4zM146 265h4v4h-4zM146 273h4v4h-4zM162 273h4v4h-4zM190 273h4v4h-4zM378 277h4v4h-4zM366 281h4v4h-4zM378 281h4v4h-4zM134 285h4v4h-4zM426 285h4v4h-4zM162 293h4v4h-4zM318 297h4v4h-4zM306 305h4v4h-4zM222 309h4v4h-4zM330 309h4v4h-4zM142 317h4v4h-4zM290 321h12v4h-12zM434 321h4v4h-4zM294 329h4v4h-4zM450 329h4v4h-4zM246 333h4v4h-4zM290 333h4v4h-4zM202 337h4v4h-4zM438 337h4v4h-4zM170 341h4v4h-4zM222 345h4v4h-4zM230 349h4v4h-4zM250 349h4v4h-4zM242 353h4v4h-4zM230 357h4v4h-4zM114 361h4v4h-4zM86 365h4v4h-4zM94 373h4v4h-4zM254 381h4v4h-4zM258 393h4v4h-4zM434 393h4v4h-4zM226 397h4v4h-4zM222 409h4v4h-4zM406 409h8v4h-8zM214 413h4v4h-4zM402 413h4v4h-4zM426 413h4v4h-4zM250 417h4v4h-4zM386 417h4v4h-4zM414 417h4v4h-4zM210 425h4v4h-4zM382 425h4v4h-4zM418 429h4v4h-4zM186 437h4v4h-4zM194 437h4v4h-4zM266 437h4v4h-4zM382 437h4v4h-4zM394 437h4v4h-4zM410 437h4v4h-4zM194 441h4v4h-4zM270 441h4v4h-4zM366 445h4v4h-4zM162 453h4v4h-4zM182 453h4v4h-4zM342 453h4v4h-4zM166 457h4v4h-4zM154 461h4v4h-4zM318 461h4v4h-4zM310 465h4v4h-4zM318 465h4v4h-4zM438 465h4v4h-4zM166 469h4v4h-4zM190 469h4v4h-4zM234 469h4v4h-4zM294 469h4v4h-4zM310 469h4v4h-4zM146 473h4v4h-4zM166 473h4v4h-4zM178 473h4v4h-4zM282 473h4v4h-4zM306 473h4v4h-4zM162 481h4v4h-4zM242 481h4v4h-4zM230 485h8v4h-8zM246 485h4v4h-4zM282 489h4v4h-4zM166 493h4v4h-4zM186 493h4v4h-4zM166 497h4v4h-4zM162 521h4v4h-4zM366 597h8v4h-8zM206 601h4v4h-4z"/><path fill="#cb4149" d="M290 93h8v4h-8zM302 101h4v4h-4zM330 101h4v4h-4zM302 105h4v4h-4zM334 105h4v4h-4zM222 109h4v4h-4zM286 109h4v4h-4zM130 113h4v4h-4zM118 117h4v4h-4zM242 117h4v4h-4zM282 117h4v4h-4zM586 117h4v4h-4zM182 121h4v4h-4zM194 121h4v4h-4zM342 121h4v4h-4zM162 129h4v4h-4zM222 129h8v4h-8zM270 129h8v4h-8zM82 133h4v4h-4zM286 133h4v4h-4zM114 137h4v4h-4zM146 137h4v4h-4zM286 137h4v4h-4zM118 141h4v4h-4zM222 141h4v4h-4zM250 141h4v4h-4zM258 141h8v4h-8zM350 141h4v4h-4zM114 145h4v4h-4zM246 145h8v4h-8zM90 149h4v4h-4zM202 157h4v4h-4zM270 157h4v4h-4zM198 161h4v4h-4zM106 165h4v4h-4zM218 177h4v4h-4zM294 177h4v4h-4zM306 177h4v4h-4zM210 181h4v4h-4zM346 181h12v4h-12zM578 181h4v4h-4zM346 189h4v4h-4zM590 189h4v4h-4zM238 197h4v4h-4zM190 201h4v4h-4zM250 201h4v4h-4zM166 205h4v4h-4zM342 205h4v4h-4zM86 209h4v4h-4zM154 209h4v4h-4zM530 213h4v4h-4zM78 217h4v4h-4zM530 217h4v4h-4zM170 221h4v4h-4zM350 221h4v4h-4zM114 229h4v4h-4zM198 229h4v4h-4zM342 233h4v4h-4zM378 245h4v4h-4zM366 253h4v4h-4zM118 257h4v4h-4zM110 261h4v4h-4zM134 261h4v4h-4zM570 265h4v4h-4zM350 269h4v4h-4zM378 269h4v4h-4zM158 273h4v4h-4zM186 273h4v4h-4zM130 281h4v4h-4zM370 281h4v4h-4zM434 285h4v4h-4zM438 289h4v4h-4zM362 293h4v4h-4zM366 297h4v4h-4zM446 313h4v4h-4zM298 329h4v4h-4zM438 329h4v4h-4zM206 337h4v4h-4zM266 337h4v4h-4zM258 345h4v4h-4zM282 345h4v4h-4zM434 349h4v4h-4zM258 353h4v4h-4zM142 357h4v4h-4zM230 361h4v4h-4zM106 369h4v4h-4zM430 401h4v4h-4zM426 405h4v4h-4zM234 409h4v4h-4zM434 413h4v4h-4zM246 417h4v4h-4zM222 421h4v4h-4zM230 425h4v4h-4zM402 429h4v4h-4zM190 433h4v4h-4zM410 433h4v4h-4zM210 437h4v4h-4zM262 437h4v4h-4zM374 437h4v4h-4zM398 437h4v4h-4zM230 441h4v4h-4zM374 441h4v4h-4zM362 445h4v4h-4zM182 449h4v4h-4zM274 449h4v4h-4zM282 449h8v4h-8zM354 449h4v4h-4zM206 453h4v4h-4zM250 453h4v4h-4zM338 453h4v4h-4zM210 457h4v4h-4zM262 457h4v4h-4zM330 457h4v4h-4zM206 465h4v4h-4zM282 469h4v4h-4zM298 469h4v4h-4zM154 473h4v4h-4zM182 473h4v4h-4zM182 477h8v4h-8zM286 477h4v4h-4zM150 481h4v4h-4zM230 481h4v4h-4zM182 485h4v4h-4zM250 485h4v4h-4zM262 485h4v4h-4zM166 489h4v4h-4zM166 501h4v4h-4zM162 513h4v4h-4zM206 593h8v4h-8zM226 601h4v4h-4zM226 605h4v4h-4z"/><path fill="#ce4347" d="M218 93h4v4h-4zM182 97h4v4h-4zM334 101h4v4h-4zM586 105h4v4h-4zM282 109h4v4h-4zM298 109h4v4h-4zM338 109h4v4h-4zM286 113h4v4h-4zM194 117h4v4h-4zM178 121h4v4h-4zM230 121h4v4h-4zM298 121h4v4h-4zM126 125h4v4h-4zM194 125h4v4h-4zM210 129h4v4h-4zM206 133h4v4h-4zM98 137h4v4h-4zM342 137h4v4h-4zM358 137h4v4h-4zM102 141h4v4h-4zM198 141h4v4h-4zM334 141h4v4h-4zM106 145h4v4h-4zM282 145h4v4h-4zM106 149h4v4h-4zM250 149h4v4h-4zM362 149h4v4h-4zM78 157h4v4h-4zM238 157h4v4h-4zM254 157h4v4h-4zM242 161h4v4h-4zM362 161h4v4h-4zM274 165h4v4h-4zM94 173h4v4h-4zM218 173h8v4h-8zM270 181h4v4h-4zM582 181h4v4h-4zM210 185h4v4h-4zM578 193h4v4h-4zM358 197h4v4h-4zM350 205h4v4h-4zM362 209h4v4h-4zM78 213h4v4h-4zM218 213h4v4h-4zM170 217h4v4h-4zM86 221h4v4h-4zM174 225h4v4h-4zM190 225h4v4h-4zM118 229h4v4h-4zM358 237h4v4h-4zM286 245h4v4h-4zM354 257h4v4h-4zM142 265h4v4h-4zM382 269h8v4h-8zM570 269h4v4h-4zM118 277h4v4h-4zM354 277h8v4h-8zM174 281h4v4h-4zM170 285h8v4h-8zM142 293h4v4h-4zM338 293h4v4h-4zM150 297h4v4h-4zM362 297h4v4h-4zM342 301h8v4h-8zM334 305h4v4h-4zM310 309h4v4h-4zM142 313h4v4h-4zM222 317h4v4h-4zM294 317h4v4h-4zM298 325h4v4h-4zM438 325h4v4h-4zM430 329h4v4h-4zM254 333h4v4h-4zM266 333h4v4h-4zM274 337h8v4h-8zM434 337h4v4h-4zM186 341h4v4h-4zM438 345h4v4h-4zM146 349h4v4h-4zM234 349h4v4h-4zM442 349h4v4h-4zM86 353h4v4h-4zM262 353h4v4h-4zM90 369h4v4h-4zM250 373h4v4h-4zM438 377h4v4h-4zM414 389h4v4h-4zM254 401h4v4h-4zM430 405h4v4h-4zM230 409h4v4h-4zM238 413h4v4h-4zM406 417h4v4h-4zM426 417h4v4h-4zM214 421h4v4h-4zM418 425h4v4h-4zM254 429h8v4h-8zM410 429h4v4h-4zM210 433h4v4h-4zM262 433h4v4h-4zM414 433h4v4h-4zM378 437h4v4h-4zM190 441h4v4h-4zM206 441h4v4h-4zM370 441h4v4h-4zM270 445h4v4h-4zM150 461h4v4h-4zM190 461h4v4h-4zM322 461h4v4h-4zM194 465h4v4h-4zM222 465h4v4h-4zM250 465h4v4h-4zM270 465h4v4h-4zM314 465h4v4h-4zM186 469h4v4h-4zM302 469h4v4h-4zM186 473h4v4h-4zM242 473h4v4h-4zM302 473h4v4h-4zM154 477h4v4h-4zM266 477h4v4h-4zM186 481h4v4h-4zM262 481h4v4h-4zM270 481h4v4h-4zM174 485h4v4h-4zM190 485h4v4h-4zM266 485h4v4h-4zM286 485h4v4h-4zM154 489h4v4h-4zM190 489h4v4h-4zM158 497h4v4h-4zM166 509h4v4h-4zM218 593h4v4h-4zM206 605h8v4h-8z"/><path fill="#d04545" d="M86 93h4v4h-4zM142 93h8v4h-8zM162 93h4v4h-4zM178 93h4v4h-4zM342 93h4v4h-4zM590 97h4v4h-4zM154 101h4v4h-4zM306 101h4v4h-4zM582 101h4v4h-4zM126 105h4v4h-4zM210 109h8v4h-8zM198 113h4v4h-4zM306 113h4v4h-4zM278 117h4v4h-4zM226 121h4v4h-4zM242 121h4v4h-4zM326 121h4v4h-4zM146 125h4v4h-4zM214 125h12v4h-12zM262 125h4v4h-4zM326 125h4v4h-4zM354 125h4v4h-4zM94 129h4v4h-4zM258 129h4v4h-4zM346 133h4v4h-4zM82 137h4v4h-4zM282 137h4v4h-4zM194 141h4v4h-4zM246 141h4v4h-4zM254 141h4v4h-4zM322 141h4v4h-4zM126 145h4v4h-4zM198 145h8v4h-8zM338 145h4v4h-4zM102 149h4v4h-4zM318 149h4v4h-4zM78 153h4v4h-4zM106 153h4v4h-4zM122 153h4v4h-4zM354 153h4v4h-4zM242 157h4v4h-4zM266 157h4v4h-4zM254 161h4v4h-4zM366 161h4v4h-4zM350 165h4v4h-4zM102 169h4v4h-4zM206 169h4v4h-4zM258 169h4v4h-4zM290 169h4v4h-4zM326 169h4v4h-4zM278 173h4v4h-4zM78 177h4v4h-4zM262 177h4v4h-4zM78 181h4v4h-4zM298 181h4v4h-4zM306 181h4v4h-4zM282 185h4v4h-4zM350 185h4v4h-4zM582 185h4v4h-4zM206 189h4v4h-4zM306 189h4v4h-4zM358 193h4v4h-4zM254 197h4v4h-4zM270 197h4v4h-4zM238 201h4v4h-4zM350 201h4v4h-4zM158 209h4v4h-4zM174 213h4v4h-4zM346 225h4v4h-4zM346 229h4v4h-4zM362 233h4v4h-4zM314 237h4v4h-4zM362 237h4v4h-4zM114 241h4v4h-4zM346 241h4v4h-4zM226 245h4v4h-4zM374 245h4v4h-4zM166 249h4v4h-4zM582 249h4v4h-4zM158 253h4v4h-4zM110 257h4v4h-4zM174 261h4v4h-4zM358 261h4v4h-4zM358 265h4v4h-4zM374 265h4v4h-4zM362 269h4v4h-4zM574 269h4v4h-4zM118 273h4v4h-4zM150 273h4v4h-4zM390 273h4v4h-4zM134 277h4v4h-4zM178 277h4v4h-4zM370 277h8v4h-8zM150 281h4v4h-4zM178 281h4v4h-4zM362 281h4v4h-4zM374 281h4v4h-4zM338 289h4v4h-4zM166 293h4v4h-4zM426 293h4v4h-4zM154 297h4v4h-4zM166 297h4v4h-4zM422 297h4v4h-4zM314 301h4v4h-4zM162 305h4v4h-4zM330 305h4v4h-4zM338 305h4v4h-4zM302 309h4v4h-4zM222 313h4v4h-4zM430 313h4v4h-4zM146 317h4v4h-4zM290 317h4v4h-4zM430 321h4v4h-4zM438 321h4v4h-4zM258 325h4v4h-4zM430 325h8v4h-8zM434 329h4v4h-4zM270 337h4v4h-4zM114 341h4v4h-4zM190 341h4v4h-4zM270 341h4v4h-4zM154 345h4v4h-4zM278 345h4v4h-4zM106 349h4v4h-4zM150 349h4v4h-4zM142 353h4v4h-4zM246 357h4v4h-4zM118 361h4v4h-4zM94 365h4v4h-4zM110 365h4v4h-4zM122 369h4v4h-4zM254 377h4v4h-4zM434 381h4v4h-4zM258 389h4v4h-4zM254 393h4v4h-4zM222 397h4v4h-4zM422 397h4v4h-4zM422 401h4v4h-4zM438 401h4v4h-4zM406 413h8v4h-8zM238 417h4v4h-4zM390 417h4v4h-4zM398 417h8v4h-8zM430 417h4v4h-4zM226 425h4v4h-4zM262 429h4v4h-4zM378 429h4v4h-4zM214 433h4v4h-4zM246 433h4v4h-4zM394 433h4v4h-4zM190 437h4v4h-4zM214 437h4v4h-4zM218 445h8v4h-8zM178 453h4v4h-4zM218 453h4v4h-4zM246 453h4v4h-4zM186 461h4v4h-4zM186 465h4v4h-4zM258 465h4v4h-4zM246 469h4v4h-4zM306 469h4v4h-4zM170 473h4v4h-4zM230 473h4v4h-4zM258 473h4v4h-4zM278 473h4v4h-4zM298 473h4v4h-4zM230 477h4v4h-4zM178 485h4v4h-4zM186 485h4v4h-4zM182 489h8v4h-8zM222 593h4v4h-4zM222 601h4v4h-4z"/><path fill="#d34743" d="M98 93h4v4h-4zM298 93h4v4h-4zM302 97h4v4h-4zM130 109h4v4h-4zM122 113h4v4h-4zM210 113h4v4h-4zM298 113h4v4h-4zM218 117h4v4h-4zM286 117h4v4h-4zM298 117h4v4h-4zM118 121h4v4h-4zM170 121h4v4h-4zM278 121h4v4h-4zM302 121h4v4h-4zM238 125h4v4h-4zM306 125h8v4h-8zM282 129h4v4h-4zM358 129h4v4h-4zM114 133h4v4h-4zM234 133h4v4h-4zM302 133h4v4h-4zM350 133h4v4h-4zM118 137h4v4h-4zM202 137h4v4h-4zM214 137h4v4h-4zM214 141h4v4h-4zM278 141h4v4h-4zM310 141h4v4h-4zM242 145h4v4h-4zM330 145h4v4h-4zM242 149h4v4h-4zM266 149h4v4h-4zM254 153h4v4h-4zM266 153h4v4h-4zM338 157h4v4h-4zM78 161h4v4h-4zM210 161h4v4h-4zM246 161h4v4h-4zM262 161h4v4h-4zM222 165h4v4h-4zM238 165h4v4h-4zM326 165h4v4h-4zM226 173h4v4h-4zM250 173h4v4h-4zM226 177h4v4h-4zM278 181h4v4h-4zM78 185h4v4h-4zM274 185h4v4h-4zM346 185h4v4h-4zM246 189h4v4h-4zM342 189h4v4h-4zM582 193h4v4h-4zM246 197h4v4h-4zM326 201h4v4h-4zM358 201h4v4h-4zM518 201h4v4h-4zM222 209h4v4h-4zM170 213h4v4h-4zM242 213h4v4h-4zM362 213h4v4h-4zM162 217h4v4h-4zM242 217h4v4h-4zM250 217h4v4h-4zM254 221h4v4h-4zM170 225h4v4h-4zM346 233h4v4h-4zM358 233h4v4h-4zM118 245h4v4h-4zM354 245h4v4h-4zM350 249h4v4h-4zM586 249h4v4h-4zM582 253h4v4h-4zM590 253h4v4h-4zM130 257h4v4h-4zM150 257h4v4h-4zM178 257h4v4h-4zM202 257h4v4h-4zM586 257h4v4h-4zM590 261h4v4h-4zM150 265h4v4h-4zM346 265h4v4h-4zM154 273h4v4h-4zM374 273h4v4h-4zM386 273h4v4h-4zM130 277h4v4h-4zM342 277h4v4h-4zM362 277h8v4h-8zM146 285h4v4h-4zM158 293h4v4h-4zM422 305h4v4h-4zM254 325h4v4h-4zM290 325h4v4h-4zM254 329h4v4h-4zM270 333h4v4h-4zM286 333h4v4h-4zM446 337h4v4h-4zM194 341h4v4h-4zM286 341h4v4h-4zM158 345h4v4h-4zM178 345h4v4h-4zM434 345h4v4h-4zM82 353h4v4h-4zM102 353h4v4h-4zM98 357h4v4h-4zM82 365h4v4h-4zM94 369h4v4h-4zM234 373h4v4h-4zM434 377h4v4h-4zM258 385h4v4h-4zM430 397h4v4h-4zM226 413h4v4h-4zM242 413h4v4h-4zM242 417h4v4h-4zM394 417h4v4h-4zM218 421h4v4h-4zM238 421h4v4h-4zM414 425h4v4h-4zM266 429h4v4h-4zM266 433h4v4h-4zM378 433h4v4h-4zM390 433h4v4h-4zM258 437h4v4h-4zM234 441h4v4h-4zM262 441h4v4h-4zM226 449h4v4h-4zM250 449h4v4h-4zM234 453h4v4h-4zM162 457h4v4h-4zM214 457h4v4h-4zM242 457h4v4h-4zM262 477h4v4h-4zM158 481h4v4h-4zM162 505h8v4h-8zM226 597h4v4h-4z"/><path fill="#d54a41" d="M166 93h4v4h-4zM218 109h4v4h-4zM326 109h4v4h-4zM166 121h4v4h-4zM190 121h4v4h-4zM218 121h4v4h-4zM186 125h4v4h-4zM282 125h4v4h-4zM330 125h4v4h-4zM110 129h4v4h-4zM266 129h4v4h-4zM286 129h4v4h-4zM298 129h4v4h-4zM338 129h4v4h-4zM354 129h4v4h-4zM94 133h4v4h-4zM138 133h4v4h-4zM154 133h4v4h-4zM358 133h4v4h-4zM246 137h4v4h-4zM258 137h4v4h-4zM334 137h4v4h-4zM82 141h4v4h-4zM98 149h4v4h-4zM326 153h4v4h-4zM98 157h4v4h-4zM218 157h4v4h-4zM226 161h4v4h-4zM254 169h4v4h-4zM294 169h4v4h-4zM206 173h4v4h-4zM302 173h4v4h-4zM250 177h4v4h-4zM266 177h4v4h-4zM302 177h4v4h-4zM354 177h4v4h-4zM286 181h4v4h-4zM590 181h4v4h-4zM246 193h4v4h-4zM354 193h4v4h-4zM250 197h4v4h-4zM258 197h4v4h-4zM354 197h4v4h-4zM246 201h4v4h-4zM266 201h4v4h-4zM210 205h4v4h-4zM246 205h4v4h-4zM254 205h4v4h-4zM90 209h4v4h-4zM170 209h4v4h-4zM266 209h4v4h-4zM90 213h4v4h-4zM194 213h4v4h-4zM166 221h4v4h-4zM202 221h4v4h-4zM202 225h4v4h-4zM194 229h4v4h-4zM310 237h4v4h-4zM318 237h4v4h-4zM330 245h4v4h-4zM122 257h4v4h-4zM162 257h4v4h-4zM150 261h4v4h-4zM350 265h8v4h-8zM362 273h4v4h-4zM158 277h4v4h-4zM170 289h4v4h-4zM346 289h4v4h-4zM358 289h4v4h-4zM314 293h4v4h-4zM150 301h4v4h-4zM306 301h4v4h-4zM354 301h4v4h-4zM158 305h4v4h-4zM426 309h4v4h-4zM146 313h4v4h-4zM286 313h4v4h-4zM438 317h4v4h-4zM142 321h4v4h-4zM250 321h4v4h-4zM126 325h4v4h-4zM122 329h4v4h-4zM442 329h4v4h-4zM430 333h4v4h-4zM250 337h4v4h-4zM442 337h4v4h-4zM274 341h4v4h-4zM110 345h4v4h-4zM238 345h4v4h-4zM134 357h4v4h-4zM114 365h4v4h-4zM86 369h4v4h-4zM234 369h4v4h-4zM434 401h4v4h-4zM414 421h4v4h-4zM226 429h4v4h-4zM186 441h4v4h-4zM214 441h4v4h-4zM186 449h4v4h-4zM222 449h4v4h-4zM154 457h4v4h-4zM234 457h4v4h-4zM194 461h4v4h-4zM190 465h4v4h-4zM238 469h4v4h-4zM150 477h4v4h-4zM246 477h4v4h-4zM170 481h4v4h-4zM258 481h4v4h-4zM162 485h4v4h-4zM178 489h4v4h-4zM162 517h4v4h-4z"/><path fill="#d84c3e" d="M82 97h4v4h-4zM94 97h4v4h-4zM198 97h4v4h-4zM150 105h4v4h-4zM166 109h4v4h-4zM206 113h4v4h-4zM218 113h4v4h-4zM278 113h8v4h-8zM310 113h4v4h-4zM322 113h4v4h-4zM142 121h4v4h-4zM174 121h4v4h-4zM198 121h4v4h-4zM162 125h4v4h-4zM230 125h4v4h-4zM242 125h4v4h-4zM334 125h4v4h-4zM106 129h4v4h-4zM138 129h4v4h-4zM78 133h4v4h-4zM122 133h4v4h-4zM150 133h4v4h-4zM262 133h4v4h-4zM282 133h4v4h-4zM86 137h4v4h-4zM234 137h4v4h-4zM262 137h4v4h-4zM86 141h4v4h-4zM274 141h4v4h-4zM314 141h4v4h-4zM222 145h4v4h-4zM254 145h4v4h-4zM318 145h4v4h-4zM86 149h4v4h-4zM98 153h4v4h-4zM118 153h4v4h-4zM258 157h4v4h-4zM350 157h4v4h-4zM90 161h4v4h-4zM202 161h4v4h-4zM206 165h4v4h-4zM310 165h4v4h-4zM230 169h4v4h-4zM322 169h4v4h-4zM230 173h4v4h-4zM294 173h4v4h-4zM342 173h4v4h-4zM82 177h4v4h-4zM234 185h4v4h-4zM194 189h4v4h-4zM250 189h4v4h-4zM214 193h4v4h-4zM250 193h4v4h-4zM262 197h4v4h-4zM214 201h4v4h-4zM254 201h4v4h-4zM354 201h4v4h-4zM190 205h4v4h-4zM246 209h4v4h-4zM350 209h4v4h-4zM82 217h8v4h-8zM534 217h4v4h-4zM258 221h4v4h-4zM174 229h4v4h-4zM170 233h4v4h-4zM302 233h4v4h-4zM118 249h4v4h-4zM166 253h4v4h-4zM146 257h4v4h-4zM154 257h8v4h-8zM206 257h4v4h-4zM590 257h4v4h-4zM170 261h4v4h-4zM178 261h4v4h-4zM346 269h4v4h-4zM162 277h4v4h-4zM174 277h4v4h-4zM358 281h4v4h-4zM166 285h4v4h-4zM358 285h4v4h-4zM146 289h4v4h-4zM426 289h4v4h-4zM150 293h4v4h-4zM310 297h4v4h-4zM322 297h4v4h-4zM342 297h4v4h-4zM426 297h4v4h-4zM310 301h4v4h-4zM442 301h4v4h-4zM310 305h4v4h-4zM238 321h4v4h-4zM286 321h4v4h-4zM266 329h4v4h-4zM274 333h4v4h-4zM282 341h4v4h-4zM230 345h4v4h-4zM242 345h8v4h-8zM438 349h4v4h-4zM122 361h4v4h-4zM102 369h4v4h-4zM226 373h4v4h-4zM222 377h4v4h-4zM222 385h4v4h-4zM214 417h4v4h-4zM222 417h4v4h-4zM422 417h4v4h-4zM250 421h4v4h-4zM402 421h4v4h-4zM422 421h4v4h-4zM214 425h4v4h-4zM234 425h4v4h-4zM402 425h4v4h-4zM210 429h4v4h-4zM218 429h4v4h-4zM398 429h4v4h-4zM414 429h4v4h-4zM210 441h4v4h-4zM186 445h4v4h-4zM210 445h4v4h-4zM226 445h4v4h-4zM246 449h4v4h-4zM166 453h4v4h-4zM158 457h4v4h-4zM150 465h4v4h-4zM150 469h4v4h-4zM226 473h4v4h-4zM170 477h4v4h-4zM178 477h4v4h-4zM282 477h4v4h-4zM162 489h4v4h-4zM162 493h4v4h-4z"/><path fill="#da4e3c" d="M82 93h4v4h-4zM302 93h4v4h-4zM310 97h4v4h-4zM586 97h4v4h-4zM202 101h4v4h-4zM122 105h4v4h-4zM166 105h4v4h-4zM222 105h4v4h-4zM122 109h4v4h-4zM194 113h4v4h-4zM190 117h4v4h-4zM210 117h4v4h-4zM126 121h4v4h-4zM214 121h4v4h-4zM282 121h4v4h-4zM98 125h4v4h-4zM190 125h4v4h-4zM198 129h4v4h-4zM86 133h4v4h-4zM118 133h4v4h-4zM354 133h4v4h-4zM326 137h4v4h-4zM318 141h4v4h-4zM86 145h4v4h-4zM214 145h4v4h-4zM258 145h4v4h-4zM278 145h4v4h-4zM242 153h4v4h-4zM270 153h4v4h-4zM298 153h4v4h-4zM322 153h4v4h-4zM206 157h4v4h-4zM234 157h4v4h-4zM262 157h4v4h-4zM274 157h4v4h-4zM218 161h8v4h-8zM290 161h4v4h-4zM334 161h4v4h-4zM254 165h4v4h-4zM294 165h4v4h-4zM226 169h4v4h-4zM266 169h4v4h-4zM314 169h4v4h-4zM338 169h4v4h-4zM206 177h4v4h-4zM230 177h4v4h-4zM346 177h4v4h-4zM254 181h4v4h-4zM270 185h4v4h-4zM294 185h4v4h-4zM342 185h4v4h-4zM210 189h4v4h-4zM218 193h4v4h-4zM242 197h4v4h-4zM266 197h4v4h-4zM234 205h4v4h-4zM354 205h4v4h-4zM262 209h4v4h-4zM358 209h4v4h-4zM82 213h4v4h-4zM150 213h4v4h-4zM238 213h4v4h-4zM246 213h4v4h-4zM190 217h4v4h-4zM246 217h4v4h-4zM114 225h4v4h-4zM170 229h4v4h-4zM270 229h4v4h-4zM174 233h4v4h-4zM270 233h4v4h-4zM306 233h4v4h-4zM122 237h4v4h-4zM118 241h4v4h-4zM222 245h4v4h-4zM254 245h4v4h-4zM350 245h4v4h-4zM158 249h4v4h-4zM346 253h4v4h-4zM586 253h4v4h-4zM174 257h4v4h-4zM202 265h4v4h-4zM154 269h12v4h-12zM134 281h4v4h-4zM158 285h4v4h-4zM430 285h4v4h-4zM146 293h4v4h-4zM438 293h4v4h-4zM142 297h4v4h-4zM238 297h4v4h-4zM326 301h4v4h-4zM226 309h4v4h-4zM226 313h4v4h-4zM290 313h4v4h-4zM282 321h4v4h-4zM262 325h4v4h-4zM290 329h4v4h-4zM118 333h4v4h-4zM206 333h4v4h-4zM174 337h4v4h-4zM186 337h4v4h-4zM174 341h4v4h-4zM230 341h4v4h-4zM226 345h4v4h-4zM234 345h4v4h-4zM114 357h4v4h-4zM122 357h4v4h-4zM98 369h4v4h-4zM222 381h4v4h-4zM238 393h4v4h-4zM250 393h4v4h-4zM242 421h4v4h-4zM230 429h8v4h-8zM242 429h4v4h-4zM250 429h4v4h-4zM386 433h4v4h-4zM230 437h4v4h-4zM246 437h4v4h-4zM230 445h4v4h-4zM218 449h4v4h-4zM230 449h4v4h-4zM170 453h8v4h-8zM254 457h4v4h-4zM230 461h4v4h-4zM246 461h8v4h-8zM258 461h4v4h-4zM150 473h4v4h-4zM270 473h4v4h-4zM258 477h4v4h-4zM154 481h4v4h-4zM178 481h4v4h-4zM154 485h4v4h-4zM158 493h4v4h-4zM162 497h4v4h-4zM162 501h4v4h-4z"/><path fill="#dd513a" d="M190 93h4v4h-4zM210 93h4v4h-4zM90 97h4v4h-4zM166 97h4v4h-4zM206 97h4v4h-4zM78 101h4v4h-4zM186 105h4v4h-4zM170 109h4v4h-4zM134 113h4v4h-4zM202 113h4v4h-4zM214 113h4v4h-4zM326 113h4v4h-4zM134 117h4v4h-4zM198 117h4v4h-4zM206 117h4v4h-4zM306 117h4v4h-4zM286 125h4v4h-4zM114 129h4v4h-4zM194 129h4v4h-4zM238 129h8v4h-8zM330 129h4v4h-4zM202 133h4v4h-4zM258 133h4v4h-4zM266 133h4v4h-4zM266 137h4v4h-4zM346 137h8v4h-8zM234 141h4v4h-4zM218 145h4v4h-4zM238 145h4v4h-4zM274 145h4v4h-4zM226 149h4v4h-4zM254 149h4v4h-4zM262 149h4v4h-4zM102 153h4v4h-4zM226 153h4v4h-4zM338 153h4v4h-4zM298 157h4v4h-4zM214 161h4v4h-4zM330 161h4v4h-4zM338 161h4v4h-4zM222 169h4v4h-4zM354 169h4v4h-4zM338 173h4v4h-4zM214 177h4v4h-4zM298 177h4v4h-4zM350 177h4v4h-4zM258 181h4v4h-4zM198 185h4v4h-4zM202 189h4v4h-4zM266 193h4v4h-4zM214 197h4v4h-4zM230 205h4v4h-4zM238 209h8v4h-8zM326 209h4v4h-4zM86 213h4v4h-4zM186 213h4v4h-4zM326 213h4v4h-4zM534 213h4v4h-4zM262 217h4v4h-4zM226 221h4v4h-4zM194 233h4v4h-4zM338 237h4v4h-4zM162 245h4v4h-4zM290 245h4v4h-4zM214 257h4v4h-4zM162 261h4v4h-4zM170 265h4v4h-4zM178 273h4v4h-4zM342 273h4v4h-4zM154 281h8v4h-8zM170 281h4v4h-4zM354 281h4v4h-4zM154 285h4v4h-4zM434 289h4v4h-4zM358 297h4v4h-4zM178 301h4v4h-4zM422 301h4v4h-4zM150 305h4v4h-4zM442 305h4v4h-4zM218 309h4v4h-4zM150 313h4v4h-4zM242 317h4v4h-4zM254 321h4v4h-4zM234 325h4v4h-4zM282 325h4v4h-4zM126 329h4v4h-4zM438 333h12v4h-12zM166 337h4v4h-4zM246 337h4v4h-4zM258 341h4v4h-4zM250 345h4v4h-4zM242 357h4v4h-4zM110 361h4v4h-4zM230 373h4v4h-4zM254 397h4v4h-4zM438 397h4v4h-4zM250 401h4v4h-4zM426 401h4v4h-4zM234 413h4v4h-4zM390 421h4v4h-4zM398 421h4v4h-4zM418 421h4v4h-4zM214 429h4v4h-4zM230 433h4v4h-4zM242 433h4v4h-4zM254 433h4v4h-4zM214 445h4v4h-4zM210 449h4v4h-4zM238 457h4v4h-4zM226 465h4v4h-4zM274 473h4v4h-4zM274 481h4v4h-4zM286 481h4v4h-4zM278 485h4v4h-4zM158 489h4v4h-4z"/><path fill="#df5337" d="M78 93h4v4h-4zM142 97h4v4h-4zM178 97h4v4h-4zM218 97h4v4h-4zM82 101h4v4h-4zM222 101h4v4h-4zM310 117h4v4h-4zM186 121h4v4h-4zM106 125h4v4h-4zM86 129h4v4h-4zM158 129h4v4h-4zM262 129h4v4h-4zM110 133h4v4h-4zM218 133h4v4h-4zM342 141h4v4h-4zM82 145h4v4h-4zM110 145h4v4h-4zM234 145h4v4h-4zM350 153h4v4h-4zM318 157h4v4h-4zM326 157h4v4h-4zM206 161h4v4h-4zM214 181h4v4h-4zM342 181h4v4h-4zM238 185h4v4h-4zM338 185h4v4h-4zM214 189h4v4h-4zM194 197h4v4h-4zM206 201h8v4h-8zM234 201h4v4h-4zM242 201h4v4h-4zM330 201h4v4h-4zM214 205h4v4h-4zM266 205h8v4h-8zM146 213h4v4h-4zM222 213h4v4h-4zM266 213h4v4h-4zM346 221h4v4h-4zM270 225h4v4h-4zM182 237h4v4h-4zM226 241h4v4h-4zM118 253h4v4h-4zM142 257h4v4h-4zM190 257h4v4h-4zM346 257h4v4h-4zM158 261h4v4h-4zM350 261h4v4h-4zM206 265h4v4h-4zM350 273h4v4h-4zM150 277h4v4h-4zM150 285h4v4h-4zM178 285h4v4h-4zM162 289h8v4h-8zM154 293h4v4h-4zM318 293h4v4h-4zM346 293h4v4h-4zM294 297h4v4h-4zM294 313h4v4h-4zM238 317h4v4h-4zM286 317h4v4h-4zM446 317h4v4h-4zM222 321h8v4h-8zM234 321h4v4h-4zM258 321h4v4h-4zM278 321h4v4h-4zM442 325h4v4h-4zM258 329h4v4h-4zM254 337h4v4h-4zM262 337h4v4h-4zM234 341h4v4h-4zM166 345h4v4h-4zM82 369h4v4h-4zM438 381h4v4h-4zM254 385h4v4h-4zM234 393h4v4h-4zM238 401h4v4h-4zM246 401h4v4h-4zM230 413h4v4h-4zM418 417h4v4h-4zM218 425h4v4h-4zM394 429h4v4h-4zM382 433h4v4h-4zM214 449h4v4h-4zM270 461h4v4h-4zM246 465h4v4h-4zM230 469h4v4h-4zM242 469h4v4h-4zM246 473h4v4h-4zM278 477h4v4h-4zM246 481h4v4h-4zM278 481h4v4h-4zM158 485h4v4h-4zM282 485h4v4h-4zM218 597h4v4h-4z"/><path fill="#e15635" d="M78 97h4v4h-4zM86 97h4v4h-4zM154 97h4v4h-4zM162 97h4v4h-4zM170 97h4v4h-4zM166 101h8v4h-8zM134 109h4v4h-4zM290 113h4v4h-4zM114 117h4v4h-4zM202 117h4v4h-4zM214 117h4v4h-4zM130 121h4v4h-4zM102 125h4v4h-4zM138 125h4v4h-4zM226 125h4v4h-4zM118 129h4v4h-4zM146 129h4v4h-4zM218 129h4v4h-4zM142 133h4v4h-4zM246 133h4v4h-4zM278 133h4v4h-4zM226 137h4v4h-4zM270 137h4v4h-4zM306 137h4v4h-4zM242 141h4v4h-4zM326 141h4v4h-4zM130 145h4v4h-4zM322 145h4v4h-4zM338 149h4v4h-4zM230 153h4v4h-4zM258 161h4v4h-4zM286 161h4v4h-4zM82 165h4v4h-4zM314 165h4v4h-4zM78 169h4v4h-4zM266 173h4v4h-4zM210 177h4v4h-4zM302 181h4v4h-4zM338 181h4v4h-4zM286 185h4v4h-4zM590 185h4v4h-4zM234 189h4v4h-4zM310 189h4v4h-4zM194 193h4v4h-4zM218 205h4v4h-4zM162 209h4v4h-4zM346 209h4v4h-4zM162 213h4v4h-4zM178 213h4v4h-4zM174 221h4v4h-4zM126 229h4v4h-4zM202 229h4v4h-4zM306 237h4v4h-4zM338 241h4v4h-4zM218 253h4v4h-4zM138 257h4v4h-4zM218 257h4v4h-4zM258 257h4v4h-4zM214 261h4v4h-4zM346 261h4v4h-4zM374 269h4v4h-4zM182 277h4v4h-4zM194 277h4v4h-4zM162 285h4v4h-4zM174 289h4v4h-4zM194 289h4v4h-4zM430 297h4v4h-4zM438 297h4v4h-4zM350 301h4v4h-4zM150 309h4v4h-4zM130 325h4v4h-4zM250 325h4v4h-4zM266 325h4v4h-4zM250 329h4v4h-4zM282 329h4v4h-4zM202 333h4v4h-4zM434 333h4v4h-4zM258 337h4v4h-4zM130 361h4v4h-4zM122 365h4v4h-4zM254 389h4v4h-4zM430 409h4v4h-4zM218 417h4v4h-4zM238 425h8v4h-8zM250 425h4v4h-4zM238 429h4v4h-4zM246 429h4v4h-4zM234 433h8v4h-8zM238 437h4v4h-4zM238 441h4v4h-4zM270 453h4v4h-4zM242 461h4v4h-4zM254 481h4v4h-4z"/><path fill="#e35933" d="M194 93h4v4h-4zM214 93h4v4h-4zM158 97h4v4h-4zM190 97h4v4h-4zM306 97h4v4h-4zM186 101h4v4h-4zM206 101h4v4h-4zM130 105h4v4h-4zM190 105h4v4h-4zM218 105h4v4h-4zM186 109h4v4h-4zM206 109h4v4h-4zM118 113h4v4h-4zM286 121h4v4h-4zM118 125h4v4h-4zM342 125h4v4h-4zM98 129h4v4h-4zM214 129h4v4h-4zM194 133h4v4h-4zM214 133h4v4h-4zM290 133h4v4h-4zM198 137h4v4h-4zM230 137h4v4h-4zM278 137h4v4h-4zM354 137h4v4h-4zM314 145h4v4h-4zM78 149h8v4h-8zM126 149h4v4h-4zM270 149h4v4h-4zM326 149h4v4h-4zM126 153h4v4h-4zM262 153h4v4h-4zM230 157h4v4h-4zM274 161h4v4h-4zM298 161h4v4h-4zM326 161h4v4h-4zM250 165h4v4h-4zM258 165h8v4h-8zM298 165h4v4h-4zM306 165h4v4h-4zM98 169h4v4h-4zM318 169h4v4h-4zM342 169h4v4h-4zM90 173h4v4h-4zM246 173h4v4h-4zM354 173h4v4h-4zM342 177h4v4h-4zM334 181h4v4h-4zM278 185h4v4h-4zM222 193h4v4h-4zM326 197h4v4h-4zM198 201h8v4h-8zM206 205h4v4h-4zM258 205h4v4h-4zM338 205h4v4h-4zM214 209h4v4h-4zM166 213h4v4h-4zM114 217h4v4h-4zM202 217h4v4h-4zM238 217h4v4h-4zM238 221h8v4h-8zM270 221h4v4h-4zM190 229h4v4h-4zM342 229h4v4h-4zM186 233h4v4h-4zM186 237h4v4h-4zM342 245h4v4h-4zM206 249h4v4h-4zM218 261h4v4h-4zM354 261h4v4h-4zM158 265h8v4h-8zM218 265h4v4h-4zM366 269h4v4h-4zM174 273h4v4h-4zM154 277h4v4h-4zM338 277h4v4h-4zM190 281h4v4h-4zM198 281h4v4h-4zM158 289h4v4h-4zM306 289h8v4h-8zM170 293h4v4h-4zM310 293h4v4h-4zM146 297h4v4h-4zM426 305h4v4h-4zM162 309h4v4h-4zM242 313h4v4h-4zM434 313h4v4h-4zM146 321h4v4h-4zM246 321h4v4h-4zM286 325h4v4h-4zM170 333h4v4h-4zM258 333h4v4h-4zM246 341h4v4h-4zM278 341h4v4h-4zM126 361h4v4h-4zM234 365h4v4h-4zM250 389h4v4h-4zM426 397h4v4h-4zM222 413h4v4h-4zM246 421h4v4h-4zM386 425h4v4h-4zM390 429h4v4h-4zM250 433h4v4h-4zM242 437h4v4h-4zM254 437h4v4h-4zM234 445h4v4h-4zM242 449h4v4h-4zM270 449h4v4h-4zM210 453h8v4h-8zM254 453h4v4h-4zM270 457h4v4h-4zM238 461h4v4h-4zM254 461h4v4h-4zM262 465h4v4h-4zM226 469h4v4h-4zM174 477h4v4h-4zM270 477h4v4h-4zM282 481h4v4h-4z"/><path fill="#e55c30" d="M154 105h4v4h-4zM170 105h4v4h-4zM590 105h4v4h-4zM182 109h4v4h-4zM114 113h4v4h-4zM110 117h4v4h-4zM182 117h4v4h-4zM130 125h4v4h-4zM270 133h4v4h-4zM194 137h4v4h-4zM242 137h4v4h-4zM106 141h4v4h-4zM130 141h4v4h-4zM330 141h4v4h-4zM234 153h4v4h-4zM258 153h4v4h-4zM222 157h4v4h-4zM302 157h4v4h-4zM234 169h4v4h-4zM278 169h4v4h-4zM214 173h4v4h-4zM262 173h4v4h-4zM298 173h4v4h-4zM234 177h4v4h-4zM250 181h4v4h-4zM290 181h4v4h-4zM298 185h4v4h-4zM270 193h4v4h-4zM218 197h4v4h-4zM194 201h4v4h-4zM238 205h4v4h-4zM194 209h4v4h-4zM126 213h4v4h-4zM198 213h4v4h-4zM214 213h4v4h-4zM174 217h4v4h-4zM178 225h4v4h-4zM298 225h4v4h-4zM338 245h4v4h-4zM222 249h4v4h-4zM130 253h4v4h-4zM154 253h4v4h-4zM206 253h4v4h-4zM134 257h4v4h-4zM262 257h4v4h-4zM182 261h4v4h-4zM198 265h4v4h-4zM222 265h4v4h-4zM338 265h4v4h-4zM338 269h4v4h-4zM182 273h4v4h-4zM338 273h4v4h-4zM338 281h4v4h-4zM194 285h4v4h-4zM186 289h4v4h-4zM358 293h4v4h-4zM302 305h4v4h-4zM442 309h4v4h-4zM242 321h4v4h-4zM446 321h4v4h-4zM214 325h4v4h-4zM238 325h4v4h-4zM210 329h4v4h-4zM242 329h4v4h-4zM262 329h4v4h-4zM182 337h4v4h-4zM198 337h4v4h-4zM230 337h4v4h-4zM182 341h4v4h-4zM222 341h4v4h-4zM250 341h4v4h-4zM254 345h4v4h-4zM142 349h4v4h-4zM118 353h4v4h-4zM138 353h4v4h-4zM98 361h4v4h-4zM226 385h8v4h-8zM238 389h4v4h-4zM230 393h4v4h-4zM238 397h4v4h-4zM242 401h4v4h-4zM218 413h4v4h-4zM394 421h4v4h-4zM398 425h4v4h-4zM222 429h4v4h-4zM234 437h4v4h-4zM242 441h4v4h-4zM250 445h4v4h-4zM266 445h4v4h-4zM234 449h4v4h-4zM242 453h4v4h-4zM254 473h4v4h-4z"/><path fill="#e75e2e" d="M174 97h4v4h-4zM214 97h4v4h-4zM150 101h4v4h-4zM586 101h4v4h-4zM214 105h4v4h-4zM174 109h4v4h-4zM190 109h4v4h-4zM186 117h4v4h-4zM294 121h4v4h-4zM310 121h4v4h-4zM94 125h4v4h-4zM110 125h4v4h-4zM294 125h4v4h-4zM102 129h4v4h-4zM290 129h4v4h-4zM334 129h4v4h-4zM134 133h4v4h-4zM330 133h8v4h-8zM134 137h8v4h-8zM330 137h4v4h-4zM110 141h4v4h-4zM346 141h4v4h-4zM230 145h4v4h-4zM290 145h4v4h-4zM302 145h4v4h-4zM110 149h4v4h-4zM122 149h4v4h-4zM258 149h4v4h-4zM314 149h4v4h-4zM238 153h4v4h-4zM274 153h4v4h-4zM294 153h4v4h-4zM314 153h4v4h-4zM306 157h4v4h-4zM242 165h4v4h-4zM330 165h4v4h-4zM346 165h4v4h-4zM218 169h4v4h-4zM250 169h4v4h-4zM298 169h4v4h-4zM210 173h4v4h-4zM234 173h4v4h-4zM286 177h8v4h-8zM218 181h4v4h-4zM238 181h4v4h-4zM262 181h8v4h-8zM238 193h4v4h-4zM262 193h4v4h-4zM234 197h4v4h-4zM274 197h4v4h-4zM338 201h4v4h-4zM326 205h4v4h-4zM358 205h4v4h-4zM234 209h4v4h-4zM270 209h4v4h-4zM182 213h4v4h-4zM350 213h4v4h-4zM254 225h4v4h-4zM294 225h4v4h-4zM190 233h4v4h-4zM198 233h4v4h-4zM338 233h4v4h-4zM178 237h4v4h-4zM166 245h4v4h-4zM130 249h4v4h-4zM150 253h4v4h-4zM210 257h4v4h-4zM154 261h4v4h-4zM190 261h4v4h-4zM174 265h4v4h-4zM342 269h4v4h-4zM198 277h4v4h-4zM166 281h4v4h-4zM194 281h4v4h-4zM342 281h4v4h-4zM186 285h8v4h-8zM190 289h4v4h-4zM350 293h4v4h-4zM430 293h4v4h-4zM290 297h4v4h-4zM298 297h4v4h-4zM338 297h4v4h-4zM346 297h4v4h-4zM154 301h4v4h-4zM334 301h8v4h-8zM430 309h4v4h-4zM218 313h4v4h-4zM222 325h4v4h-4zM242 325h4v4h-4zM194 329h4v4h-4zM246 329h4v4h-4zM278 329h4v4h-4zM262 333h4v4h-4zM210 337h4v4h-4zM122 353h4v4h-4zM242 361h8v4h-8zM106 365h4v4h-4zM234 377h4v4h-4zM234 381h4v4h-4zM222 389h4v4h-4zM434 397h4v4h-4zM222 425h4v4h-4zM394 425h4v4h-4zM258 441h4v4h-4zM238 445h8v4h-8zM238 449h4v4h-4zM254 449h4v4h-4zM230 465h4v4h-4zM222 597h4v4h-4z"/><path fill="#e9612b" d="M138 93h4v4h-4zM170 93h4v4h-4zM138 109h4v4h-4zM162 109h4v4h-4zM178 109h4v4h-4zM174 113h4v4h-4zM294 113h4v4h-4zM106 117h4v4h-4zM178 117h4v4h-4zM114 121h4v4h-4zM114 125h4v4h-4zM290 125h4v4h-4zM82 129h4v4h-4zM134 141h4v4h-4zM238 141h4v4h-4zM306 141h4v4h-4zM226 145h4v4h-4zM310 145h4v4h-4zM350 145h4v4h-4zM130 149h4v4h-4zM230 149h4v4h-4zM238 149h4v4h-4zM322 149h4v4h-4zM302 153h4v4h-4zM110 157h4v4h-4zM226 157h4v4h-4zM294 161h4v4h-4zM246 165h4v4h-4zM286 165h4v4h-4zM322 165h4v4h-4zM338 165h4v4h-4zM302 169h4v4h-4zM242 173h4v4h-4zM290 173h4v4h-4zM234 181h4v4h-4zM214 185h4v4h-4zM302 185h4v4h-4zM206 193h4v4h-4zM234 193h4v4h-4zM258 201h4v4h-4zM242 205h4v4h-4zM342 209h4v4h-4zM138 213h4v4h-4zM154 213h4v4h-4zM226 225h4v4h-4zM258 225h4v4h-4zM274 225h4v4h-4zM298 229h8v4h-8zM234 233h4v4h-4zM250 233h4v4h-4zM334 233h4v4h-4zM322 237h4v4h-4zM274 241h4v4h-4zM314 241h4v4h-4zM258 245h4v4h-4zM338 249h4v4h-4zM182 257h8v4h-8zM186 261h4v4h-4zM198 261h4v4h-4zM210 261h4v4h-4zM166 273h4v4h-4zM366 273h8v4h-8zM198 285h4v4h-4zM210 285h4v4h-4zM306 285h4v4h-4zM342 285h4v4h-4zM354 285h4v4h-4zM182 289h4v4h-4zM290 293h4v4h-4zM354 297h4v4h-4zM430 305h4v4h-4zM258 309h4v4h-4zM154 313h4v4h-4zM438 313h4v4h-4zM150 317h4v4h-4zM214 337h4v4h-4zM158 341h4v4h-4zM118 365h4v4h-4zM246 369h4v4h-4zM226 381h4v4h-4zM250 381h4v4h-4zM250 385h4v4h-4zM250 397h4v4h-4zM382 429h8v4h-8zM238 453h4v4h-4zM274 477h4v4h-4zM174 481h4v4h-4z"/><path fill="#eb6429" d="M134 93h4v4h-4zM306 93h8v4h-8zM138 97h4v4h-4zM150 97h4v4h-4zM86 101h4v4h-4zM174 101h4v4h-4zM590 101h4v4h-4zM78 105h4v4h-4zM178 113h4v4h-4zM338 125h4v4h-4zM274 133h4v4h-4zM122 137h4v4h-4zM238 137h4v4h-4zM138 141h4v4h-4zM230 141h4v4h-4zM118 145h4v4h-4zM134 145h4v4h-4zM342 145h4v4h-4zM234 149h4v4h-4zM314 157h4v4h-4zM342 165h4v4h-4zM262 169h4v4h-4zM238 173h4v4h-4zM246 177h4v4h-4zM230 185h4v4h-4zM242 185h4v4h-4zM250 185h4v4h-4zM334 185h4v4h-4zM242 189h4v4h-4zM210 193h4v4h-4zM198 197h4v4h-4zM330 197h4v4h-4zM166 209h4v4h-4zM134 213h4v4h-4zM142 213h4v4h-4zM250 221h4v4h-4zM130 225h4v4h-4zM130 229h4v4h-4zM274 229h4v4h-4zM310 233h4v4h-4zM266 237h4v4h-4zM206 245h4v4h-4zM178 253h4v4h-4zM194 253h4v4h-4zM210 253h8v4h-8zM214 265h4v4h-4zM334 265h4v4h-4zM342 265h4v4h-4zM166 269h4v4h-4zM334 269h4v4h-4zM346 273h4v4h-4zM162 281h4v4h-4zM182 285h4v4h-4zM150 289h4v4h-4zM350 289h4v4h-4zM334 293h4v4h-4zM170 297h4v4h-4zM306 297h4v4h-4zM430 301h4v4h-4zM222 305h4v4h-4zM158 313h4v4h-4zM274 317h4v4h-4zM194 321h4v4h-4zM274 321h4v4h-4zM442 321h4v4h-4zM194 325h4v4h-4zM210 325h4v4h-4zM214 329h4v4h-4zM446 329h4v4h-4zM242 333h4v4h-4zM190 337h4v4h-4zM114 345h4v4h-4zM106 353h4v4h-4zM102 357h4v4h-4zM234 357h8v4h-8zM230 381h4v4h-4zM238 385h4v4h-4zM222 393h4v4h-4zM390 425h4v4h-4zM250 437h4v4h-4zM254 441h4v4h-4zM258 453h4v4h-4zM234 461h4v4h-4zM262 461h4v4h-4zM238 465h4v4h-4zM266 465h4v4h-4z"/><path fill="#ec6726" d="M130 93h4v4h-4zM130 101h4v4h-4zM158 101h4v4h-4zM190 101h4v4h-4zM198 101h4v4h-4zM182 105h4v4h-4zM110 113h4v4h-4zM190 113h4v4h-4zM106 121h4v4h-4zM306 121h4v4h-4zM134 129h4v4h-4zM98 133h4v4h-4zM126 133h4v4h-4zM146 133h4v4h-4zM198 133h4v4h-4zM78 137h4v4h-4zM110 137h4v4h-4zM142 137h4v4h-4zM78 145h4v4h-4zM306 145h4v4h-4zM326 145h4v4h-4zM286 149h4v4h-4zM298 149h4v4h-4zM350 149h4v4h-4zM294 157h4v4h-4zM346 161h4v4h-4zM334 165h4v4h-4zM238 169h4v4h-4zM246 169h4v4h-4zM238 177h4v4h-4zM222 181h4v4h-4zM246 185h4v4h-4zM230 189h4v4h-4zM242 193h4v4h-4zM326 193h4v4h-4zM206 197h4v4h-4zM230 201h4v4h-4zM226 205h4v4h-4zM270 213h4v4h-4zM270 217h4v4h-4zM350 217h4v4h-4zM126 225h4v4h-4zM182 225h4v4h-4zM214 229h4v4h-4zM238 229h4v4h-4zM330 233h4v4h-4zM162 241h4v4h-4zM262 241h4v4h-4zM286 241h4v4h-4zM310 241h4v4h-4zM330 241h4v4h-4zM122 245h4v4h-4zM334 245h4v4h-4zM346 245h4v4h-4zM330 249h4v4h-4zM346 249h4v4h-4zM126 253h4v4h-4zM198 257h4v4h-4zM166 261h4v4h-4zM166 265h4v4h-4zM178 265h4v4h-4zM190 265h8v4h-8zM178 269h4v4h-4zM190 269h4v4h-4zM370 269h4v4h-4zM346 277h4v4h-4zM334 281h4v4h-4zM350 285h4v4h-4zM198 289h4v4h-4zM430 289h4v4h-4zM182 293h4v4h-4zM434 293h4v4h-4zM166 301h4v4h-4zM174 301h4v4h-4zM434 301h8v4h-8zM434 305h4v4h-4zM442 313h4v4h-4zM230 321h4v4h-4zM218 325h4v4h-4zM230 325h4v4h-4zM246 325h4v4h-4zM278 325h4v4h-4zM446 325h4v4h-4zM190 329h4v4h-4zM286 329h4v4h-4zM118 337h4v4h-4zM154 341h4v4h-4zM238 341h4v4h-4zM430 413h4v4h-4zM246 445h4v4h-4zM254 445h4v4h-4zM234 465h4v4h-4zM242 465h4v4h-4zM250 473h4v4h-4zM250 481h4v4h-4z"/><path fill="#ee6a24" d="M110 93h4v4h-4zM174 93h4v4h-4zM134 97h4v4h-4zM82 105h4v4h-4zM142 109h4v4h-4zM202 109h4v4h-4zM102 121h4v4h-4zM134 121h4v4h-4zM162 121h4v4h-4zM242 133h4v4h-4zM298 133h4v4h-4zM226 141h4v4h-4zM274 149h4v4h-4zM278 157h4v4h-4zM290 157h4v4h-4zM322 157h4v4h-4zM310 161h8v4h-8zM218 165h4v4h-4zM302 165h4v4h-4zM318 165h4v4h-4zM210 169h4v4h-4zM242 169h4v4h-4zM310 173h4v4h-4zM338 177h4v4h-4zM254 185h4v4h-4zM290 185h4v4h-4zM198 189h4v4h-4zM238 189h4v4h-4zM254 193h4v4h-4zM202 197h4v4h-4zM218 201h4v4h-4zM262 201h4v4h-4zM334 201h4v4h-4zM130 213h4v4h-4zM158 213h4v4h-4zM230 221h4v4h-4zM262 221h4v4h-4zM166 225h4v4h-4zM186 225h4v4h-4zM238 225h4v4h-4zM254 229h4v4h-4zM182 233h4v4h-4zM250 237h4v4h-4zM122 241h4v4h-4zM202 241h4v4h-4zM334 241h4v4h-4zM134 245h4v4h-4zM158 245h4v4h-4zM202 245h4v4h-4zM170 249h4v4h-4zM226 249h4v4h-4zM342 249h4v4h-4zM166 257h4v4h-4zM194 257h4v4h-4zM154 265h4v4h-4zM186 265h4v4h-4zM174 269h4v4h-4zM166 277h4v4h-4zM182 281h8v4h-8zM338 285h4v4h-4zM350 297h4v4h-4zM434 297h4v4h-4zM290 301h4v4h-4zM330 301h4v4h-4zM158 309h4v4h-4zM166 309h4v4h-4zM214 309h4v4h-4zM242 309h4v4h-4zM254 309h4v4h-4zM286 309h4v4h-4zM298 309h4v4h-4zM218 317h4v4h-4zM442 317h4v4h-4zM134 325h4v4h-4zM270 329h4v4h-4zM210 333h4v4h-4zM166 341h4v4h-4zM242 341h4v4h-4zM110 349h4v4h-4zM234 361h4v4h-4zM98 365h4v4h-4zM246 365h4v4h-4zM246 373h4v4h-4zM238 381h4v4h-4zM226 393h4v4h-4zM246 425h4v4h-4zM246 441h8v4h-8zM254 477h4v4h-4z"/><path fill="#ef6e21" d="M126 101h4v4h-4zM162 101h4v4h-4zM146 105h4v4h-4zM210 105h4v4h-4zM118 109h4v4h-4zM146 109h4v4h-4zM194 109h4v4h-4zM138 113h4v4h-4zM162 113h8v4h-8zM174 117h4v4h-4zM290 117h4v4h-4zM110 121h4v4h-4zM146 121h4v4h-4zM154 129h4v4h-4zM130 137h4v4h-4zM126 141h4v4h-4zM302 141h4v4h-4zM114 149h4v4h-4zM278 149h4v4h-4zM290 149h4v4h-4zM110 153h4v4h-4zM290 153h4v4h-4zM342 161h4v4h-4zM210 165h4v4h-4zM330 169h4v4h-4zM78 173h4v4h-4zM318 173h4v4h-4zM242 177h4v4h-4zM218 189h4v4h-4zM282 189h4v4h-4zM302 189h4v4h-4zM202 193h4v4h-4zM314 193h4v4h-4zM322 193h4v4h-4zM210 197h4v4h-4zM274 201h4v4h-4zM202 205h4v4h-4zM222 205h4v4h-4zM330 205h4v4h-4zM226 209h4v4h-4zM322 213h4v4h-4zM338 217h4v4h-4zM186 221h4v4h-4zM222 221h4v4h-4zM274 221h4v4h-4zM342 221h4v4h-4zM218 225h4v4h-4zM178 229h4v4h-4zM330 229h4v4h-4zM254 233h4v4h-4zM266 233h4v4h-4zM298 233h4v4h-4zM206 241h4v4h-4zM266 241h4v4h-4zM134 249h4v4h-4zM254 249h4v4h-4zM190 253h4v4h-4zM342 253h4v4h-4zM222 261h4v4h-4zM186 269h4v4h-4zM170 277h4v4h-4zM350 277h4v4h-4zM330 281h4v4h-4zM350 281h4v4h-4zM154 289h4v4h-4zM194 293h4v4h-4zM286 297h4v4h-4zM334 297h4v4h-4zM302 301h4v4h-4zM426 301h4v4h-4zM226 305h4v4h-4zM438 305h4v4h-4zM438 309h4v4h-4zM274 313h4v4h-4zM282 317h4v4h-4zM218 321h4v4h-4zM138 325h4v4h-4zM206 329h4v4h-4zM122 333h4v4h-4zM174 333h4v4h-4zM182 333h8v4h-8zM194 333h4v4h-4zM218 337h4v4h-4zM178 341h4v4h-4zM226 341h4v4h-4zM110 357h4v4h-4zM106 361h4v4h-4zM250 377h4v4h-4zM234 385h4v4h-4zM266 457h4v4h-4zM250 477h4v4h-4z"/><path fill="#f1711f" d="M102 93h4v4h-4zM98 97h4v4h-4zM146 97h4v4h-4zM210 97h4v4h-4zM178 101h8v4h-8zM218 101h4v4h-4zM202 105h4v4h-4zM198 109h4v4h-4zM170 113h4v4h-4zM182 113h4v4h-4zM170 117h4v4h-4zM98 121h4v4h-4zM290 121h4v4h-4zM130 129h4v4h-4zM150 129h4v4h-4zM274 137h4v4h-4zM78 141h4v4h-4zM290 141h4v4h-4zM102 165h4v4h-4zM334 177h4v4h-4zM230 181h4v4h-4zM242 181h8v4h-8zM254 189h4v4h-4zM270 189h8v4h-8zM230 193h4v4h-4zM318 193h4v4h-4zM222 197h4v4h-4zM282 197h4v4h-4zM194 205h4v4h-4zM210 209h4v4h-4zM230 209h4v4h-4zM234 213h4v4h-4zM206 217h4v4h-4zM274 217h4v4h-4zM178 221h8v4h-8zM222 225h4v4h-4zM242 225h4v4h-4zM266 225h4v4h-4zM342 225h4v4h-4zM146 229h4v4h-4zM178 233h4v4h-4zM246 237h4v4h-4zM270 237h4v4h-4zM334 237h4v4h-4zM254 241h4v4h-4zM278 241h4v4h-4zM130 245h4v4h-4zM170 245h4v4h-4zM194 249h4v4h-4zM170 257h4v4h-4zM234 257h4v4h-4zM194 261h4v4h-4zM182 265h4v4h-4zM170 273h4v4h-4zM210 281h4v4h-4zM346 281h4v4h-4zM346 285h4v4h-4zM250 289h4v4h-4zM314 289h4v4h-4zM334 289h4v4h-4zM186 293h4v4h-4zM286 293h4v4h-4zM294 293h4v4h-4zM354 293h4v4h-4zM182 297h8v4h-8zM302 297h4v4h-4zM326 297h4v4h-4zM182 301h4v4h-4zM154 305h4v4h-4zM246 309h4v4h-4zM270 309h4v4h-4zM434 309h4v4h-4zM278 317h4v4h-4zM270 325h4v4h-4zM130 329h4v4h-4zM194 337h4v4h-4zM242 337h4v4h-4zM254 341h4v4h-4zM150 345h4v4h-4zM114 353h4v4h-4zM102 365h4v4h-4zM242 365h4v4h-4zM226 389h8v4h-8zM242 393h4v4h-4zM262 453h4v4h-4z"/><path fill="#f2741c" d="M90 101h4v4h-4zM210 101h8v4h-8zM198 105h4v4h-4zM206 105h4v4h-4zM186 113h4v4h-4zM154 117h8v4h-8zM166 117h4v4h-4zM90 125h4v4h-4zM294 129h4v4h-4zM238 133h4v4h-4zM122 145h4v4h-4zM298 145h4v4h-4zM282 149h4v4h-4zM294 149h4v4h-4zM114 153h4v4h-4zM278 153h4v4h-4zM302 161h8v4h-8zM282 173h4v4h-4zM346 173h4v4h-4zM218 185h4v4h-4zM310 185h4v4h-4zM338 189h4v4h-4zM198 193h4v4h-4zM286 193h4v4h-4zM338 197h4v4h-4zM198 205h4v4h-4zM262 205h4v4h-4zM334 205h4v4h-4zM198 209h4v4h-4zM206 209h4v4h-4zM302 209h4v4h-4zM178 217h4v4h-4zM222 217h4v4h-4zM206 221h4v4h-4zM246 221h4v4h-4zM294 221h4v4h-4zM118 225h8v4h-8zM214 225h4v4h-4zM186 229h4v4h-4zM174 237h4v4h-4zM302 237h4v4h-4zM330 237h4v4h-4zM178 241h4v4h-4zM318 241h4v4h-4zM182 249h4v4h-4zM198 253h8v4h-8zM238 261h4v4h-4zM210 265h4v4h-4zM222 269h4v4h-4zM202 277h4v4h-4zM294 277h4v4h-4zM214 285h4v4h-4zM302 285h4v4h-4zM178 289h4v4h-4zM270 289h4v4h-4zM322 293h4v4h-4zM190 297h8v4h-8zM218 305h4v4h-4zM198 317h4v4h-4zM246 317h4v4h-4zM226 325h4v4h-4zM234 329h4v4h-4zM190 333h4v4h-4zM178 337h4v4h-4zM110 353h4v4h-4zM106 357h4v4h-4zM102 361h4v4h-4zM238 373h4v4h-4zM238 377h4v4h-4zM242 389h4v4h-4zM242 397h4v4h-4z"/><path fill="#f37819" d="M114 93h4v4h-4zM142 101h4v4h-4zM134 105h4v4h-4zM158 109h4v4h-4zM162 117h4v4h-4zM294 117h4v4h-4zM158 121h4v4h-4zM130 133h4v4h-4zM302 137h4v4h-4zM302 149h4v4h-4zM286 157h4v4h-4zM346 169h4v4h-4zM314 181h4v4h-4zM278 189h4v4h-4zM286 189h4v4h-4zM258 193h4v4h-4zM226 197h8v4h-8zM278 197h4v4h-4zM266 217h4v4h-4zM266 221h4v4h-4zM230 225h4v4h-4zM218 229h4v4h-4zM318 233h8v4h-8zM230 237h4v4h-4zM262 237h4v4h-4zM326 237h4v4h-4zM282 241h4v4h-4zM202 249h4v4h-4zM290 249h4v4h-4zM134 253h4v4h-4zM170 269h4v4h-4zM310 285h4v4h-4zM190 293h4v4h-4zM306 293h4v4h-4zM178 297h4v4h-4zM186 301h4v4h-4zM178 305h4v4h-4zM278 305h4v4h-4zM154 309h4v4h-4zM274 309h4v4h-4zM270 313h4v4h-4zM282 313h4v4h-4zM154 317h4v4h-4zM194 317h4v4h-4zM230 317h4v4h-4zM190 325h4v4h-4zM230 329h4v4h-4zM238 329h4v4h-4zM234 337h4v4h-4zM114 349h4v4h-4zM134 353h4v4h-4zM226 377h8v4h-8zM246 385h4v4h-4zM266 453h4v4h-4z"/><path fill="#f57b17" d="M130 97h4v4h-4zM194 97h4v4h-4zM94 101h4v4h-4zM86 105h4v4h-4zM138 105h4v4h-4zM174 105h4v4h-4zM114 109h4v4h-4zM142 113h4v4h-4zM138 117h4v4h-4zM138 121h4v4h-4zM150 125h4v4h-4zM158 125h4v4h-4zM106 133h4v4h-4zM102 137h4v4h-4zM290 137h4v4h-4zM294 145h4v4h-4zM118 149h4v4h-4zM306 153h4v4h-4zM310 157h4v4h-4zM318 161h4v4h-4zM322 173h4v4h-4zM310 177h4v4h-4zM318 177h4v4h-4zM222 185h4v4h-4zM258 185h4v4h-4zM266 185h4v4h-4zM262 189h8v4h-8zM226 193h4v4h-4zM274 193h4v4h-4zM338 193h4v4h-4zM334 197h4v4h-4zM338 209h4v4h-4zM342 213h4v4h-4zM186 217h4v4h-4zM218 217h4v4h-4zM162 221h4v4h-4zM250 225h4v4h-4zM182 229h4v4h-4zM210 229h4v4h-4zM242 229h4v4h-4zM250 229h4v4h-4zM258 229h4v4h-4zM230 233h4v4h-4zM246 233h4v4h-4zM298 237h4v4h-4zM258 241h4v4h-4zM282 245h4v4h-4zM126 249h4v4h-4zM198 249h4v4h-4zM218 249h4v4h-4zM334 249h4v4h-4zM146 253h4v4h-4zM170 253h4v4h-4zM278 257h4v4h-4zM246 285h4v4h-4zM326 285h4v4h-4zM290 289h4v4h-4zM354 289h4v4h-4zM190 301h4v4h-4zM278 301h4v4h-4zM294 301h4v4h-4zM214 305h4v4h-4zM246 305h4v4h-4zM162 313h4v4h-4zM238 313h4v4h-4zM158 317h4v4h-4zM214 321h4v4h-4zM270 321h4v4h-4zM202 329h4v4h-4zM274 329h4v4h-4zM162 345h4v4h-4zM238 361h4v4h-4zM246 389h4v4h-4zM246 397h4v4h-4zM262 445h4v4h-4z"/><path fill="#f67e14" d="M158 105h8v4h-8zM150 109h4v4h-4zM142 117h4v4h-4zM134 125h4v4h-4zM78 129h4v4h-4zM294 133h4v4h-4zM122 141h4v4h-4zM282 161h4v4h-4zM94 169h4v4h-4zM214 169h4v4h-4zM286 169h4v4h-4zM334 169h4v4h-4zM314 173h4v4h-4zM310 181h4v4h-4zM262 185h4v4h-4zM282 193h4v4h-4zM310 193h4v4h-4zM226 201h4v4h-4zM210 213h4v4h-4zM330 213h4v4h-4zM346 213h4v4h-4zM182 217h4v4h-4zM114 221h4v4h-4zM262 225h4v4h-4zM326 225h8v4h-8zM210 233h4v4h-4zM314 233h4v4h-4zM190 237h4v4h-4zM206 237h4v4h-4zM230 241h4v4h-4zM246 241h4v4h-4zM174 245h4v4h-4zM182 245h4v4h-4zM198 245h4v4h-4zM326 245h4v4h-4zM122 249h4v4h-4zM186 249h4v4h-4zM122 253h4v4h-4zM174 253h4v4h-4zM210 269h4v4h-4zM218 269h4v4h-4zM334 273h4v4h-4zM202 281h4v4h-4zM334 285h4v4h-4zM210 289h4v4h-4zM294 289h4v4h-4zM318 289h4v4h-4zM174 297h4v4h-4zM210 309h4v4h-4zM250 309h4v4h-4zM214 313h4v4h-4zM270 317h4v4h-4zM150 321h4v4h-4zM262 321h4v4h-4zM198 329h4v4h-4zM218 329h4v4h-4zM198 333h4v4h-4zM230 333h4v4h-4zM118 341h4v4h-4zM118 349h4v4h-4zM238 369h4v4h-4zM246 381h4v4h-4zM242 385h4v4h-4zM234 389h4v4h-4zM246 393h4v4h-4z"/><path fill="#f78212" d="M146 101h4v4h-4zM142 105h4v4h-4zM178 105h4v4h-4zM194 105h4v4h-4zM154 109h4v4h-4zM154 121h4v4h-4zM126 137h4v4h-4zM346 145h4v4h-4zM306 149h4v4h-4zM346 153h4v4h-4zM102 157h4v4h-4zM282 157h4v4h-4zM106 161h4v4h-4zM322 161h4v4h-4zM278 165h4v4h-4zM350 169h4v4h-4zM86 173h4v4h-4zM334 173h4v4h-4zM350 173h4v4h-4zM222 189h4v4h-4zM294 189h4v4h-4zM314 189h4v4h-4zM206 213h4v4h-4zM210 217h8v4h-8zM226 217h4v4h-4zM342 217h4v4h-4zM206 225h4v4h-4zM246 225h4v4h-4zM278 225h4v4h-4zM234 229h4v4h-4zM266 229h4v4h-4zM294 229h4v4h-4zM306 229h4v4h-4zM334 229h4v4h-4zM126 233h4v4h-4zM202 233h4v4h-4zM210 237h4v4h-4zM254 237h4v4h-4zM182 241h4v4h-4zM186 245h4v4h-4zM194 245h4v4h-4zM210 249h4v4h-4zM326 249h4v4h-4zM194 273h4v4h-4zM202 285h4v4h-4zM250 285h4v4h-4zM246 289h4v4h-4zM302 289h4v4h-4zM174 293h4v4h-4zM198 293h4v4h-4zM290 309h4v4h-4zM234 317h4v4h-4zM142 325h4v4h-4zM174 329h4v4h-4zM186 329h4v4h-4zM222 329h4v4h-4zM214 333h4v4h-4zM122 349h4v4h-4zM242 369h4v4h-4zM258 445h4v4h-4zM266 461h4v4h-4z"/><path fill="#f8850f" d="M106 93h4v4h-4zM122 101h4v4h-4zM118 105h4v4h-4zM106 113h4v4h-4zM146 113h4v4h-4zM102 117h4v4h-4zM150 117h4v4h-4zM94 161h4v4h-4zM314 177h4v4h-4zM226 181h4v4h-4zM330 181h4v4h-4zM318 189h4v4h-4zM278 193h4v4h-4zM286 197h4v4h-4zM202 209h4v4h-4zM302 213h4v4h-4zM338 213h4v4h-4zM210 225h4v4h-4zM134 229h4v4h-4zM246 229h4v4h-4zM194 237h4v4h-4zM202 237h4v4h-4zM282 237h4v4h-4zM134 241h4v4h-4zM222 241h4v4h-4zM126 245h4v4h-4zM262 245h4v4h-4zM310 245h4v4h-4zM178 249h4v4h-4zM190 249h4v4h-4zM258 249h4v4h-4zM138 253h4v4h-4zM182 253h4v4h-4zM258 253h4v4h-4zM278 253h4v4h-4zM242 261h4v4h-4zM262 261h4v4h-4zM182 269h4v4h-4zM198 269h4v4h-4zM210 277h4v4h-4zM290 277h4v4h-4zM330 277h4v4h-4zM330 285h4v4h-4zM266 297h8v4h-8zM170 301h4v4h-4zM166 305h4v4h-4zM246 313h4v4h-4zM278 313h4v4h-4zM214 317h4v4h-4zM250 317h4v4h-4zM190 321h4v4h-4zM126 333h4v4h-4zM226 337h4v4h-4zM118 345h4v4h-4zM238 365h4v4h-4zM242 373h4v4h-4zM246 377h4v4h-4zM242 381h4v4h-4z"/><path fill="#f8890c" d="M150 113h4v4h-4zM150 121h4v4h-4zM310 149h4v4h-4zM346 149h4v4h-4zM342 157h4v4h-4zM318 181h4v4h-4zM258 189h4v4h-4zM298 189h4v4h-4zM326 189h4v4h-4zM322 197h4v4h-4zM330 209h4v4h-4zM226 213h8v4h-8zM230 217h8v4h-8zM210 221h4v4h-4zM326 221h8v4h-8zM146 225h4v4h-4zM234 225h4v4h-4zM166 233h4v4h-4zM162 237h4v4h-4zM198 237h4v4h-4zM154 241h4v4h-4zM198 241h4v4h-4zM250 241h4v4h-4zM270 241h4v4h-4zM306 241h4v4h-4zM254 253h4v4h-4zM338 253h4v4h-4zM230 257h4v4h-4zM238 257h4v4h-4zM202 269h8v4h-8zM214 269h4v4h-4zM334 277h4v4h-4zM322 289h4v4h-4zM298 293h4v4h-4zM330 297h4v4h-4zM194 301h4v4h-4zM174 305h4v4h-4zM274 325h4v4h-4zM158 337h8v4h-8zM138 341h4v4h-4zM150 341h4v4h-4zM162 341h4v4h-4zM146 345h4v4h-4zM126 349h4v4h-4zM242 377h4v4h-4zM258 449h4v4h-4z"/><path fill="#f98c0a" d="M134 101h8v4h-8zM146 117h4v4h-4zM102 133h4v4h-4zM342 149h4v4h-4zM342 153h4v4h-4zM278 161h4v4h-4zM214 165h4v4h-4zM286 173h4v4h-4zM290 189h4v4h-4zM322 189h4v4h-4zM202 213h4v4h-4zM158 217h4v4h-4zM278 217h8v4h-8zM322 217h8v4h-8zM278 221h4v4h-4zM134 225h4v4h-4zM166 229h4v4h-4zM206 229h4v4h-4zM274 233h4v4h-4zM326 233h4v4h-4zM214 237h4v4h-4zM234 237h4v4h-4zM154 245h4v4h-4zM178 245h4v4h-4zM190 245h4v4h-4zM306 245h4v4h-4zM154 249h4v4h-4zM142 253h4v4h-4zM186 253h4v4h-4zM222 253h4v4h-4zM242 257h4v4h-4zM274 257h4v4h-4zM342 257h4v4h-4zM234 261h4v4h-4zM194 269h4v4h-4zM198 273h4v4h-4zM214 277h8v4h-8zM214 281h4v4h-4zM302 281h4v4h-4zM206 285h4v4h-4zM242 285h4v4h-4zM178 293h4v4h-4zM302 293h4v4h-4zM198 297h4v4h-4zM242 297h4v4h-4zM282 297h4v4h-4zM226 301h4v4h-4zM238 301h4v4h-4zM286 301h4v4h-4zM230 309h4v4h-4zM230 313h4v4h-4zM202 317h4v4h-4zM198 321h4v4h-4zM210 321h4v4h-4zM266 321h4v4h-4zM198 325h4v4h-4zM166 333h4v4h-4zM178 333h4v4h-4zM222 337h4v4h-4zM266 449h4v4h-4z"/><path fill="#fa9008" d="M158 113h4v4h-4zM298 141h4v4h-4zM106 157h4v4h-4zM86 165h4v4h-4zM326 173h4v4h-4zM306 193h4v4h-4zM118 217h4v4h-4zM218 221h4v4h-4zM234 221h4v4h-4zM302 225h4v4h-4zM214 233h4v4h-4zM158 241h4v4h-4zM166 241h4v4h-4zM186 241h4v4h-4zM326 241h4v4h-4zM230 245h4v4h-4zM286 249h4v4h-4zM294 249h4v4h-4zM342 261h4v4h-4zM330 273h4v4h-4zM294 281h4v4h-4zM326 289h4v4h-4zM238 293h4v4h-4zM234 297h4v4h-4zM182 305h4v4h-4zM210 305h4v4h-4zM242 305h4v4h-4zM274 305h4v4h-4zM206 309h4v4h-4zM262 309h4v4h-4zM166 313h4v4h-4zM206 325h4v4h-4zM218 333h4v4h-4zM238 337h4v4h-4zM130 357h4v4h-4z"/><path fill="#fa9407" d="M118 93h4v4h-4zM102 97h4v4h-4zM194 101h4v4h-4zM106 137h4v4h-4zM286 153h4v4h-4zM346 157h4v4h-4zM290 193h4v4h-4zM274 213h4v4h-4zM330 217h4v4h-4zM346 217h4v4h-4zM214 221h4v4h-4zM206 233h4v4h-4zM258 233h4v4h-4zM286 237h4v4h-4zM290 241h4v4h-4zM150 245h4v4h-4zM250 245h4v4h-4zM174 249h4v4h-4zM214 249h4v4h-4zM258 261h4v4h-4zM274 261h4v4h-4zM210 273h4v4h-4zM206 277h4v4h-4zM222 277h4v4h-4zM298 277h4v4h-4zM290 281h4v4h-4zM298 281h4v4h-4zM254 285h4v4h-4zM270 285h4v4h-4zM242 289h4v4h-4zM326 293h4v4h-4zM222 301h4v4h-4zM298 301h4v4h-4zM258 305h12v4h-12zM278 309h4v4h-4zM294 309h4v4h-4zM258 313h4v4h-4zM126 353h4v4h-4zM126 357h4v4h-4z"/><path fill="#fb9706" d="M98 101h4v4h-4zM294 141h4v4h-4zM330 173h4v4h-4zM318 185h8v4h-8zM330 185h4v4h-4zM330 193h4v4h-4zM222 201h4v4h-4zM322 201h4v4h-4zM322 209h4v4h-4zM298 213h4v4h-4zM318 217h4v4h-4zM334 217h4v4h-4zM338 221h4v4h-4zM322 229h8v4h-8zM338 229h4v4h-4zM282 233h4v4h-4zM278 237h4v4h-4zM150 241h4v4h-4zM174 241h4v4h-4zM210 241h4v4h-4zM210 245h4v4h-4zM230 249h4v4h-4zM246 257h4v4h-4zM326 261h4v4h-4zM226 265h4v4h-4zM322 265h4v4h-4zM226 269h4v4h-4zM202 273h4v4h-4zM214 273h8v4h-8zM206 281h4v4h-4zM218 281h8v4h-8zM258 285h4v4h-4zM202 289h4v4h-4zM214 289h4v4h-4zM270 293h4v4h-4zM242 301h4v4h-4zM266 301h4v4h-4zM250 305h4v4h-4zM298 305h4v4h-4zM266 309h4v4h-4zM282 309h4v4h-4zM210 313h4v4h-4zM210 317h4v4h-4zM254 317h8v4h-8zM202 325h4v4h-4zM222 333h4v4h-4zM138 345h4v4h-4z"/><path fill="#fb9b06" d="M126 93h4v4h-4zM106 97h4v4h-4zM86 125h4v4h-4zM298 137h4v4h-4zM282 153h4v4h-4zM282 165h4v4h-4zM282 169h4v4h-4zM330 177h4v4h-4zM226 185h4v4h-4zM294 193h4v4h-4zM306 209h4v4h-4zM298 221h4v4h-4zM322 221h4v4h-4zM322 225h4v4h-4zM278 229h4v4h-4zM238 233h4v4h-4zM138 237h4v4h-4zM258 237h4v4h-4zM138 241h4v4h-4zM194 241h4v4h-4zM274 245h4v4h-4zM150 249h4v4h-4zM254 257h4v4h-4zM326 277h4v4h-4zM326 281h4v4h-4zM322 285h4v4h-4zM266 289h4v4h-4zM242 293h4v4h-4zM270 305h4v4h-4zM282 305h12v4h-12zM234 313h4v4h-4zM250 313h8v4h-8zM146 325h4v4h-4zM178 325h4v4h-4zM226 329h4v4h-4zM234 333h4v4h-4zM154 337h4v4h-4zM122 345h4v4h-4zM142 345h4v4h-4z"/><path fill="#fc9f07" d="M90 105h4v4h-4zM82 109h4v4h-4zM310 153h4v4h-4zM326 185h4v4h-4zM298 209h4v4h-4zM154 217h4v4h-4zM282 229h4v4h-4zM274 237h4v4h-4zM190 241h4v4h-4zM138 245h4v4h-4zM138 249h4v4h-4zM146 249h4v4h-4zM282 249h4v4h-4zM282 273h4v4h-4zM326 273h4v4h-4zM218 285h4v4h-4zM262 285h4v4h-4zM294 285h4v4h-4zM314 285h4v4h-4zM254 289h4v4h-4zM282 293h4v4h-4zM282 301h4v4h-4zM170 309h4v4h-4zM238 309h4v4h-4zM198 313h4v4h-4zM206 313h4v4h-4zM162 317h4v4h-4zM182 317h4v4h-4zM206 317h4v4h-4zM154 321h4v4h-4zM158 333h4v4h-4zM226 333h4v4h-4zM122 337h4v4h-4z"/><path fill="#fca309" d="M122 93h4v4h-4zM110 109h4v4h-4zM154 113h4v4h-4zM314 185h4v4h-4zM226 189h4v4h-4zM334 189h4v4h-4zM302 193h4v4h-4zM290 197h4v4h-4zM334 209h4v4h-4zM150 217h4v4h-4zM318 225h4v4h-4zM150 229h4v4h-4zM222 229h4v4h-4zM262 229h4v4h-4zM138 233h4v4h-4zM262 233h4v4h-4zM170 237h4v4h-4zM278 245h4v4h-4zM230 253h4v4h-4zM334 253h4v4h-4zM238 265h4v4h-4zM326 265h8v4h-8zM206 289h4v4h-4zM286 289h4v4h-4zM330 293h4v4h-4zM226 297h4v4h-4zM198 301h4v4h-4zM186 305h4v4h-4zM230 305h4v4h-4zM194 313h4v4h-4zM202 313h4v4h-4zM190 317h4v4h-4zM134 329h4v4h-4zM162 333h4v4h-4zM138 349h4v4h-4zM130 353h4v4h-4z"/><path fill="#fca60c" d="M78 109h4v4h-4zM154 125h4v4h-4zM294 137h4v4h-4zM322 177h4v4h-4zM130 221h4v4h-4zM318 221h4v4h-4zM334 221h4v4h-4zM134 233h4v4h-4zM166 237h4v4h-4zM126 241h4v4h-4zM214 241h4v4h-4zM322 241h4v4h-4zM214 245h8v4h-8zM246 245h4v4h-4zM294 245h4v4h-4zM222 257h4v4h-4zM250 257h4v4h-4zM270 261h4v4h-4zM338 261h4v4h-4zM266 285h4v4h-4zM290 285h4v4h-4zM330 289h4v4h-4zM170 305h4v4h-4zM254 305h4v4h-4zM234 309h4v4h-4zM186 317h4v4h-4zM206 321h4v4h-4zM174 325h4v4h-4zM170 329h4v4h-4zM154 333h4v4h-4zM142 337h12v4h-12zM134 341h4v4h-4zM142 341h8v4h-8zM126 345h4v4h-4zM262 449h4v4h-4z"/><path fill="#fcaa0f" d="M82 125h4v4h-4zM330 189h4v4h-4zM334 193h4v4h-4zM282 225h4v4h-4zM242 233h4v4h-4zM298 241h4v4h-4zM238 245h4v4h-4zM266 245h4v4h-4zM310 249h4v4h-4zM250 253h4v4h-4zM266 257h4v4h-4zM246 261h4v4h-4zM278 261h4v4h-4zM334 261h4v4h-4zM330 269h4v4h-4zM222 273h4v4h-4zM306 281h4v4h-4zM202 293h4v4h-4zM210 293h4v4h-4zM202 297h4v4h-4zM222 297h4v4h-4zM214 301h8v4h-8zM270 301h8v4h-8zM294 305h4v4h-4zM262 317h8v4h-8zM202 321h4v4h-4zM138 329h4v4h-4zM178 329h8v4h-8zM130 333h4v4h-4zM238 333h4v4h-4zM134 345h4v4h-4z"/><path fill="#fcae12" d="M110 97h4v4h-4zM94 121h4v4h-4zM82 173h4v4h-4zM322 181h8v4h-8zM318 213h4v4h-4zM122 217h4v4h-4zM142 229h4v4h-4zM230 229h4v4h-4zM318 229h4v4h-4zM278 233h4v4h-4zM294 233h4v4h-4zM294 241h4v4h-4zM146 245h4v4h-4zM234 245h4v4h-4zM242 245h4v4h-4zM314 245h4v4h-4zM142 249h4v4h-4zM282 261h4v4h-4zM302 265h4v4h-4zM206 273h4v4h-4zM290 273h8v4h-8zM278 277h4v4h-4zM242 281h4v4h-4zM274 285h4v4h-4zM246 293h4v4h-4zM206 305h4v4h-4zM178 321h4v4h-4zM122 341h4v4h-4zM130 349h4v4h-4z"/><path fill="#fcb216" d="M294 197h4v4h-4zM302 205h4v4h-4zM282 213h4v4h-4zM306 213h4v4h-4zM126 221h4v4h-4zM134 221h4v4h-4zM282 221h4v4h-4zM290 221h4v4h-4zM150 225h4v4h-4zM310 229h4v4h-4zM294 237h4v4h-4zM130 241h4v4h-4zM234 241h4v4h-4zM278 249h4v4h-4zM234 253h4v4h-4zM294 253h4v4h-4zM334 257h4v4h-4zM226 261h4v4h-4zM322 261h4v4h-4zM242 265h4v4h-4zM282 277h4v4h-4zM302 277h4v4h-4zM246 281h4v4h-4zM298 289h4v4h-4zM206 293h4v4h-4zM222 293h4v4h-4zM262 301h4v4h-4zM190 305h4v4h-4zM266 313h4v4h-4zM158 321h4v4h-4zM182 321h4v4h-4zM150 325h4v4h-4zM142 329h4v4h-4zM158 329h4v4h-4zM138 337h4v4h-4z"/><path fill="#fbb61a" d="M114 105h4v4h-4zM98 165h4v4h-4zM298 193h4v4h-4zM278 201h4v4h-4zM278 213h4v4h-4zM334 213h4v4h-4zM142 225h4v4h-4zM306 225h4v4h-4zM334 225h4v4h-4zM142 233h4v4h-4zM142 237h4v4h-4zM158 237h4v4h-4zM226 237h4v4h-4zM298 249h4v4h-4zM274 253h4v4h-4zM338 257h4v4h-4zM230 261h4v4h-4zM298 261h4v4h-4zM330 261h4v4h-4zM226 277h4v4h-4zM258 277h4v4h-4zM226 281h4v4h-4zM274 297h4v4h-4zM174 309h12v4h-12zM202 309h4v4h-4zM262 313h4v4h-4zM166 317h4v4h-4zM178 317h4v4h-4zM186 321h4v4h-4zM186 325h4v4h-4zM162 329h4v4h-4z"/><path fill="#fbba1f" d="M126 97h4v4h-4zM94 105h4v4h-4zM90 169h4v4h-4zM274 205h4v4h-4zM314 213h4v4h-4zM162 225h4v4h-4zM242 241h4v4h-4zM142 245h4v4h-4zM302 245h4v4h-4zM234 249h4v4h-4zM306 249h4v4h-4zM314 249h4v4h-4zM290 261h8v4h-8zM246 277h4v4h-4zM258 281h4v4h-4zM310 281h4v4h-4zM222 285h4v4h-4zM298 285h4v4h-4zM218 289h4v4h-4zM206 297h4v4h-4zM278 297h4v4h-4zM202 301h4v4h-4zM210 301h4v4h-4zM234 301h4v4h-4zM246 301h4v4h-4zM194 305h4v4h-4zM170 313h4v4h-4zM186 313h8v4h-8zM150 333h4v4h-4zM126 337h4v4h-4z"/><path fill="#fbbe23" d="M86 109h4v4h-4zM98 117h4v4h-4zM78 125h4v4h-4zM326 177h4v4h-4zM282 201h4v4h-4zM322 205h4v4h-4zM146 217h4v4h-4zM290 225h4v4h-4zM286 233h4v4h-4zM298 245h4v4h-4zM226 253h4v4h-4zM270 257h4v4h-4zM246 269h8v4h-8zM250 273h4v4h-4zM258 273h4v4h-4zM242 277h4v4h-4zM222 289h8v4h-8zM274 289h4v4h-4zM214 293h4v4h-4zM226 293h4v4h-4zM210 297h8v4h-8zM230 301h4v4h-4zM202 305h4v4h-4zM186 309h4v4h-4zM182 313h4v4h-4zM162 321h16v4h-16zM154 325h4v4h-4zM162 325h4v4h-4zM154 329h4v4h-4zM134 333h8v4h-8zM146 333h4v4h-4zM126 341h4v4h-4zM134 349h4v4h-4z"/><path fill="#fac228" d="M102 101h4v4h-4zM118 101h4v4h-4zM98 161h4v4h-4zM306 205h4v4h-4zM138 221h4v4h-4zM338 225h4v4h-4zM138 229h4v4h-4zM126 237h4v4h-4zM170 241h4v4h-4zM238 249h4v4h-4zM262 265h4v4h-4zM322 269h4v4h-4zM242 273h8v4h-8zM278 273h4v4h-4zM250 277h4v4h-4zM230 281h4v4h-4zM226 285h4v4h-4zM318 285h4v4h-4zM282 289h4v4h-4zM218 293h4v4h-4zM234 293h4v4h-4zM218 297h4v4h-4zM206 301h4v4h-4zM198 305h4v4h-4zM190 309h12v4h-12zM174 313h8v4h-8zM170 317h8v4h-8zM158 325h4v4h-4zM146 329h8v4h-8zM142 333h4v4h-4zM130 337h8v4h-8z"/><path fill="#fac62d" d="M122 97h4v4h-4zM102 113h4v4h-4zM90 121h4v4h-4zM318 197h4v4h-4zM274 209h4v4h-4zM126 217h4v4h-4zM298 217h4v4h-4zM142 221h4v4h-4zM226 229h4v4h-4zM146 233h4v4h-4zM162 233h4v4h-4zM318 245h4v4h-4zM250 249h4v4h-4zM294 257h4v4h-4zM322 257h4v4h-4zM330 257h4v4h-4zM302 261h4v4h-4zM226 273h4v4h-4zM254 273h4v4h-4zM286 273h4v4h-4zM286 277h4v4h-4zM238 281h4v4h-4zM238 285h4v4h-4zM266 293h4v4h-4zM262 297h4v4h-4zM234 305h4v4h-4zM170 325h4v4h-4zM182 325h4v4h-4zM130 345h4v4h-4z"/><path fill="#f9c932" d="M78 113h4v4h-4zM90 165h4v4h-4zM82 169h4v4h-4zM158 221h4v4h-4zM130 233h4v4h-4zM218 233h4v4h-4zM154 237h4v4h-4zM142 241h4v4h-4zM302 241h4v4h-4zM270 245h4v4h-4zM282 253h4v4h-4zM330 253h4v4h-4zM282 257h4v4h-4zM326 257h4v4h-4zM234 265h4v4h-4zM246 265h4v4h-4zM258 265h4v4h-4zM282 265h4v4h-4zM234 269h4v4h-4zM262 273h4v4h-4zM322 273h4v4h-4zM274 277h4v4h-4zM274 281h4v4h-4zM274 293h4v4h-4zM250 301h4v4h-4zM238 305h4v4h-4zM166 325h4v4h-4z"/><path fill="#f8cd37" d="M118 97h4v4h-4zM298 197h8v4h-8zM314 197h4v4h-4zM294 217h4v4h-4zM122 221h4v4h-4zM138 225h4v4h-4zM134 237h4v4h-4zM218 237h4v4h-4zM146 241h4v4h-4zM218 241h4v4h-4zM238 253h4v4h-4zM246 253h4v4h-4zM298 253h4v4h-4zM306 265h4v4h-4zM254 277h4v4h-4zM306 277h4v4h-4zM254 281h4v4h-4zM250 293h4v4h-4zM130 341h4v4h-4z"/><path fill="#f7d13d" d="M306 197h4v4h-4zM286 201h4v4h-4zM130 217h16v4h-16zM118 221h4v4h-4zM146 221h4v4h-4zM314 229h4v4h-4zM150 233h4v4h-4zM238 241h4v4h-4zM318 249h4v4h-4zM242 253h4v4h-4zM262 253h4v4h-4zM226 257h4v4h-4zM286 261h4v4h-4zM298 265h4v4h-4zM230 269h4v4h-4zM238 269h4v4h-4zM326 269h4v4h-4zM238 277h4v4h-4zM250 281h4v4h-4zM314 281h4v4h-4zM286 285h4v4h-4zM230 297h4v4h-4z"/><path fill="#f6d543" d="M86 121h4v4h-4zM290 201h4v4h-4zM298 205h4v4h-4zM302 217h4v4h-4zM314 217h4v4h-4zM226 233h4v4h-4zM146 237h4v4h-4zM290 237h4v4h-4zM266 261h4v4h-4zM246 297h4v4h-4z"/><path fill="#f5d949" d="M102 161h4v4h-4zM94 165h4v4h-4zM86 169h4v4h-4zM310 197h4v4h-4zM286 217h4v4h-4zM150 221h4v4h-4zM314 225h4v4h-4zM162 229h4v4h-4zM286 229h4v4h-4zM222 233h4v4h-4zM150 237h4v4h-4zM242 237h4v4h-4zM254 261h4v4h-4zM230 265h4v4h-4zM286 265h4v4h-4zM274 273h4v4h-4zM238 289h4v4h-4zM262 289h4v4h-4zM166 329h4v4h-4z"/><path fill="#f4dd4f" d="M114 97h4v4h-4zM294 213h4v4h-4zM306 217h4v4h-4zM154 221h4v4h-4zM154 225h8v4h-8zM310 225h4v4h-4zM158 233h4v4h-4zM242 249h4v4h-4zM302 249h4v4h-4zM290 257h4v4h-4zM250 261h4v4h-4zM234 273h4v4h-4zM270 273h4v4h-4zM270 277h4v4h-4zM278 281h4v4h-4zM286 281h4v4h-4z"/><path fill="#f4e156" d="M106 101h4v4h-4zM98 105h4v4h-4zM106 109h4v4h-4zM82 113h4v4h-4zM294 201h4v4h-4zM286 221h4v4h-4zM286 225h4v4h-4zM154 229h8v4h-8zM154 233h4v4h-4zM222 237h4v4h-4zM262 249h4v4h-4zM290 253h4v4h-4zM310 253h4v4h-4zM326 253h4v4h-4zM242 269h4v4h-4zM306 269h4v4h-4zM230 273h4v4h-4zM238 273h4v4h-4zM254 301h4v4h-4z"/><path fill="#f3e55d" d="M82 121h4v4h-4zM278 205h4v4h-4zM282 209h4v4h-4zM310 213h4v4h-4zM302 221h8v4h-8zM298 257h4v4h-4zM306 261h4v4h-4zM318 265h4v4h-4zM282 269h4v4h-4zM298 273h4v4h-4zM306 273h4v4h-4z"/><path fill="#f2e865" d="M110 105h4v4h-4zM298 201h12v4h-12zM282 205h4v4h-4zM294 205h4v4h-4zM278 209h4v4h-4zM322 249h4v4h-4zM314 253h4v4h-4zM290 265h4v4h-4zM230 277h4v4h-4zM262 281h4v4h-4zM258 289h4v4h-4zM258 301h4v4h-4z"/><path fill="#f1ec6d" d="M90 109h4v4h-4zM310 201h4v4h-4zM318 201h4v4h-4zM286 205h8v4h-8zM310 217h4v4h-4zM290 229h4v4h-4zM238 237h4v4h-4zM322 245h4v4h-4zM274 249h4v4h-4zM322 253h4v4h-4zM250 265h4v4h-4zM294 265h4v4h-4zM254 269h4v4h-4zM302 273h4v4h-4zM270 281h4v4h-4zM254 293h4v4h-4z"/><path fill="#f1ef75" d="M94 117h4v4h-4zM294 209h4v4h-4zM314 221h4v4h-4zM310 261h4v4h-4zM258 269h4v4h-4zM266 281h4v4h-4zM230 285h4v4h-4zM278 293h4v4h-4z"/><path fill="#f2f27d" d="M310 221h4v4h-4zM314 257h4v4h-4zM262 269h4v4h-4zM262 277h4v4h-4zM234 281h4v4h-4zM230 293h4v4h-4z"/><path fill="#f3f586" d="M114 101h4v4h-4zM98 113h4v4h-4zM78 117h4v4h-4zM78 121h4v4h-4zM314 201h4v4h-4zM286 209h4v4h-4zM290 233h4v4h-4zM246 249h4v4h-4zM318 257h4v4h-4zM314 261h4v4h-4zM314 265h4v4h-4zM282 281h4v4h-4zM278 289h4v4h-4zM262 293h4v4h-4z"/><path fill="#f4f88e" d="M110 101h4v4h-4zM86 113h4v4h-4zM90 117h4v4h-4zM286 213h4v4h-4zM266 249h4v4h-4zM318 253h4v4h-4zM310 257h4v4h-4zM274 265h8v4h-8zM302 269h4v4h-4zM318 269h4v4h-4zM266 277h4v4h-4zM310 277h4v4h-4zM322 281h4v4h-4zM282 285h4v4h-4zM250 297h4v4h-4z"/><path fill="#f6fa96" d="M102 105h4v4h-4zM94 109h4v4h-4zM102 109h4v4h-4zM86 117h4v4h-4zM270 253h4v4h-4zM306 253h4v4h-4zM254 265h4v4h-4zM310 265h4v4h-4zM266 273h4v4h-4z"/><path fill="#f9fc9d" d="M106 105h4v4h-4zM98 109h4v4h-4zM82 117h4v4h-4zM290 217h4v4h-4zM266 253h4v4h-4zM322 277h4v4h-4zM318 281h4v4h-4zM234 285h4v4h-4z"/><path fill="#fcffa4" d="M90 113h8v4h-8zM310 205h12v4h-12zM290 209h4v4h-4zM310 209h12v4h-12zM290 213h4v4h-4zM130 237h4v4h-4zM270 249h4v4h-4zM286 253h4v4h-4zM302 253h4v4h-4zM286 257h4v4h-4zM302 257h8v4h-8zM318 261h4v4h-4zM266 265h8v4h-8zM266 269h16v4h-16zM286 269h16v4h-16zM310 269h8v4h-8zM310 273h12v4h-12zM234 277h4v4h-4zM314 277h8v4h-8zM278 285h4v4h-4zM230 289h8v4h-8zM258 293h4v4h-4zM254 297h8v4h-8z"/></g></g></g>
<clipPath id="imclip"><rect x="82" y="97" width="506" height="507"/></clipPath>
<g clip-path="url(#imclip)">
<filter id="wfil" x="-20%" y="-20%" width="140%" height="140%"><feGaussianBlur stdDeviation="0.9"/></filter>
<polygon filter="url(#wfil)" fill="#fcffa4" points="78,114 94.7,110.2 104.5,104.3 112.3,101.3 119,98.8 127,97.2 127,99.8 119,102.2 112.3,106.2 104.5,113 94.7,119 78,126"/>
<filter id="dfil" x="-20%" y="-20%" width="140%" height="140%"><feGaussianBlur stdDeviation="1.8"/></filter>
<polyline filter="url(#dfil)" fill="none" stroke="#f9ee8a" stroke-width="6.5" stroke-linecap="round" stroke-linejoin="round" opacity="0.75" points="126,342.5 140,336 155.4,329 170,321 182,314.3 199,309 215.3,297.6 228.3,286.2 250,274.8"/>
<circle cx="462.7" cy="117.9" r="2.3" fill="#e55c30" opacity="0.35"/>
<circle cx="462.7" cy="117.9" r="1.6" fill="#fb9b06"/>
<circle cx="460.5" cy="147.6" r="2.3" fill="#dd513a" opacity="0.35"/>
<circle cx="460.5" cy="147.6" r="1.6" fill="#f98e09"/>
<circle cx="498.0" cy="122.3" r="2.9" fill="#fb9706" opacity="0.35"/>
<circle cx="498.0" cy="122.3" r="2.0" fill="#f4e156"/>
<circle cx="513.8" cy="129.6" r="2.3" fill="#d34743" opacity="0.35"/>
<circle cx="513.8" cy="129.6" r="1.6" fill="#f68013"/>
<circle cx="425.7" cy="121.5" r="2.3" fill="#d34743" opacity="0.35"/>
<circle cx="425.7" cy="121.5" r="1.6" fill="#f68013"/>
<circle cx="550.9" cy="100.2" r="4.9" fill="#fbbe23" opacity="0.35"/>
<circle cx="550.9" cy="100.2" r="3.4" fill="#fcffa4"/>
<circle cx="539.1" cy="103.6" r="2.9" fill="#ea632a" opacity="0.35"/>
<circle cx="539.1" cy="103.6" r="2.0" fill="#fca50a"/>
<circle cx="557.9" cy="144.0" r="4.1" fill="#fbbe23" opacity="0.35"/>
<circle cx="557.9" cy="144.0" r="2.8" fill="#fcffa4"/>
<circle cx="573.2" cy="141.8" r="2.2" fill="#b0315b" opacity="0.35"/>
<circle cx="573.2" cy="141.8" r="1.5" fill="#e25734"/>
<circle cx="415.0" cy="201.7" r="4.1" fill="#fb9b06" opacity="0.35"/>
<circle cx="415.0" cy="201.7" r="2.8" fill="#f2e661"/>
<circle cx="391.9" cy="240.2" r="2.9" fill="#bf3952" opacity="0.35"/>
<circle cx="391.9" cy="240.2" r="2.0" fill="#eb6628"/>
<circle cx="452.8" cy="265.3" r="3.2" fill="#fb9706" opacity="0.35"/>
<circle cx="452.8" cy="265.3" r="2.2" fill="#f4e156"/>
<circle cx="474.0" cy="189.9" r="2.3" fill="#bf3952" opacity="0.35"/>
<circle cx="474.0" cy="189.9" r="1.6" fill="#eb6628"/>
<circle cx="360.9" cy="343.3" r="4.1" fill="#fbbe23" opacity="0.35"/>
<circle cx="360.9" cy="343.3" r="2.8" fill="#fcffa4"/>
<circle cx="428.4" cy="339.1" r="2.9" fill="#f78410" opacity="0.35"/>
<circle cx="428.4" cy="339.1" r="2.0" fill="#f8cd37"/>
<circle cx="422.6" cy="440.9" r="4.1" fill="#fbbe23" opacity="0.35"/>
<circle cx="422.6" cy="440.9" r="2.8" fill="#fcffa4"/>
<circle cx="546.3" cy="444.8" r="4.1" fill="#fbbe23" opacity="0.35"/>
<circle cx="546.3" cy="444.8" r="2.8" fill="#fcffa4"/>
<circle cx="508.6" cy="420.8" r="2.9" fill="#d34743" opacity="0.35"/>
<circle cx="508.6" cy="420.8" r="2.0" fill="#f68013"/>
<circle cx="513.3" cy="433.2" r="2.6" fill="#bf3952" opacity="0.35"/>
<circle cx="513.3" cy="433.2" r="1.8" fill="#eb6628"/>
<circle cx="161.1" cy="384.6" r="3.6" fill="#fbbe23" opacity="0.35"/>
<circle cx="161.1" cy="384.6" r="2.5" fill="#fcffa4"/>
<circle cx="92.6" cy="413.6" r="2.6" fill="#c63d4d" opacity="0.35"/>
<circle cx="92.6" cy="413.6" r="1.8" fill="#f06f20"/>
<circle cx="492.5" cy="459.6" r="2.6" fill="#e55c30" opacity="0.35"/>
<circle cx="492.5" cy="459.6" r="1.8" fill="#fb9b06"/>
<circle cx="515.9" cy="466.4" r="2.6" fill="#bf3952" opacity="0.35"/>
<circle cx="515.9" cy="466.4" r="1.8" fill="#eb6628"/>
<circle cx="534.6" cy="504.0" r="2.9" fill="#cc4248" opacity="0.35"/>
<circle cx="534.6" cy="504.0" r="2.0" fill="#f37819"/>
<circle cx="542.1" cy="504.5" r="3.6" fill="#fbbe23" opacity="0.35"/>
<circle cx="542.1" cy="504.5" r="2.5" fill="#fcffa4"/>
<circle cx="517.0" cy="551.4" r="3.8" fill="#fbbe23" opacity="0.35"/>
<circle cx="517.0" cy="551.4" r="2.6" fill="#fcffa4"/>
<circle cx="529.0" cy="586.5" r="3.8" fill="#fbbe23" opacity="0.35"/>
<circle cx="529.0" cy="586.5" r="2.6" fill="#fcffa4"/>
<circle cx="575.5" cy="546.6" r="3.2" fill="#f57b17" opacity="0.35"/>
<circle cx="575.5" cy="546.6" r="2.2" fill="#fac42a"/>
<circle cx="99.6" cy="586.5" r="3.8" fill="#fbbe23" opacity="0.35"/>
<circle cx="99.6" cy="586.5" r="2.6" fill="#fcffa4"/>
<circle cx="193.0" cy="222.0" r="2.6" fill="#fca50a" opacity="0.35"/>
<circle cx="193.0" cy="222.0" r="1.8" fill="#f1ef75"/>
<circle cx="177.7" cy="292.7" r="4.6" fill="#fcb418" opacity="0.35"/>
<circle cx="177.7" cy="292.7" r="3.2" fill="#f5f992"/>
<circle cx="190.8" cy="269.6" r="3.2" fill="#fca50a" opacity="0.35"/>
<circle cx="190.8" cy="269.6" r="2.2" fill="#f1ef75"/>
<circle cx="159.0" cy="267.4" r="2.6" fill="#ea632a" opacity="0.35"/>
<circle cx="159.0" cy="267.4" r="1.8" fill="#fca50a"/>
<circle cx="266.0" cy="485.3" r="2.9" fill="#f37819" opacity="0.35"/>
<circle cx="266.0" cy="485.3" r="2.0" fill="#fbbe23"/>
<circle cx="256.3" cy="514.3" r="3.8" fill="#fca50a" opacity="0.35"/>
<circle cx="256.3" cy="514.3" r="2.6" fill="#f1ef75"/>
<circle cx="211.4" cy="447.7" r="3.8" fill="#fca50a" opacity="0.35"/>
<circle cx="211.4" cy="447.7" r="2.6" fill="#f1ef75"/>
<circle cx="133.8" cy="104.2" r="2.9" fill="#ea632a" opacity="0.35"/>
<circle cx="133.8" cy="104.2" r="2.0" fill="#fca50a"/>
<circle cx="202.0" cy="132.2" r="2.6" fill="#dd513a" opacity="0.35"/>
<circle cx="202.0" cy="132.2" r="1.8" fill="#f98e09"/>
<circle cx="280.5" cy="140.5" r="2.9" fill="#f98e09" opacity="0.35"/>
<circle cx="280.5" cy="140.5" r="2.0" fill="#f6d746"/>
<circle cx="139.0" cy="165.3" r="2.2" fill="#a82e5f" opacity="0.35"/>
<circle cx="139.0" cy="165.3" r="1.5" fill="#dd513a"/>
<ellipse cx="466.5" cy="135.5" rx="4.2" ry="5.6" transform="rotate(20 466.5 135.5)" fill="#fbbe23" opacity="0.35"/>
<ellipse cx="466.5" cy="135.5" rx="3.1" ry="4.3" transform="rotate(20 466.5 135.5)" fill="#fcffa4"/>
<ellipse cx="350.1" cy="368.1" rx="2.6" ry="5" transform="rotate(30 350.1 368.1)" fill="#f1ef75"/>
<ellipse cx="216.2" cy="587.7" rx="2" ry="3.5" transform="rotate(-20 216.2 587.7)" fill="#f6d746"/>
<path filter="url(#wfil)" d="M253,443 L262,442.3 L266,443.2 L275.5,441.2 Q277,450 276,456.5 Q272.5,461 265,461 Q258.5,460.5 256,456.5 Q253.5,450 253,443Z" fill="#f98e09" opacity="0.8"/>
<path d="M254,444 L262,443.3 L266,444.2 L274.5,442.2 Q276,450 275,456 Q272,459.8 265,459.8 Q259,459.5 257,456 Q254.5,450 254,444Z" fill="#f9f7a0"/>
<polygon points="241.6,355.8 252.2,364.5 255.5,384.0 252.5,395.5 253.8,408.5 261.7,420.0 262.4,428.0 270.1,431.4 275.9,441.2 279.9,457.5 282.4,460.8 291.4,456.7 295.4,455.6 303.5,460.1 316.9,457.4 333.1,452.9 347.4,450.2 373.4,442.2 382.4,420.6 399.6,408.7 409.4,400.6 420.0,394.0 417.5,382.6 432.0,363.0 432.0,352.5 430.4,343.2 418.7,340.0 420.2,333.8 418.7,329.1 417.9,318.2 424.1,311.2 415.6,308.1 407.0,300.4 423.3,280.9 440.5,286.3 451.4,310.5 456.8,329.1 458.4,338.5 465.4,352.5 464.0,365.0 444.4,357.5 444.4,387.5 453.4,386.7 451.0,405.5 442.0,406.3 419.2,413.6 412.6,421.8 401.2,434.8 389.8,446.2 376.1,457.4 349.2,461.0 334.9,461.9 313.3,477.2 297.2,492.4 288.1,494.2 278.3,496.7 265.3,499.1 253.8,501.6 243.2,489.3 232.6,485.3 222.8,472.2 215.5,463.2 212.2,457.5 219.6,451.8 220.4,442.8 215.5,438.0 213.0,426.5 213.9,413.4 209.8,402.0 207.3,389.0 212.2,381.6 215.5,370.2" fill="none" stroke="#40e0d0" stroke-width="3.6" stroke-linejoin="miter"/>
<line x1="262.8" y1="451.8" x2="232.6" y2="515.4" stroke="#fff" stroke-width="2.2"/>
<line x1="433" y1="77" x2="361" y2="233" stroke="#fff" stroke-width="2.4"/>
<circle cx="410.3" cy="126" r="6.3" fill="#fff"/>
<polygon points="357.3,242.3 355.4,228.6 369.4,232.8" fill="#fff"/>
</g>
<text x="228" y="136.4" font-size="19.8" fill="#fff" font-family="DejaVu Sans, Liberation Sans, sans-serif" font-weight="bold">GRS 1915+105</text>
<text x="127" y="256.1" font-size="19.6" fill="#000" font-family="DejaVu Sans, Liberation Sans, sans-serif" font-weight="bold">CHIMPS 4894</text>
<text x="132" y="539.6" font-size="19.8" fill="#fff" font-family="DejaVu Sans, Liberation Sans, sans-serif" font-weight="bold">IRAS 19132+1035</text>
<rect x="81.1" y="96.8" width="507.5" height="508.5" fill="none" stroke="#000" stroke-width="1.9"/>
<text x="284" y="21.6" font-size="19.8" font-family="DejaVu Sans, Liberation Sans, sans-serif">Jy beam<tspan dy="-7.2" font-size="13.9">−1</tspan></text>
</svg>
</body></html>
